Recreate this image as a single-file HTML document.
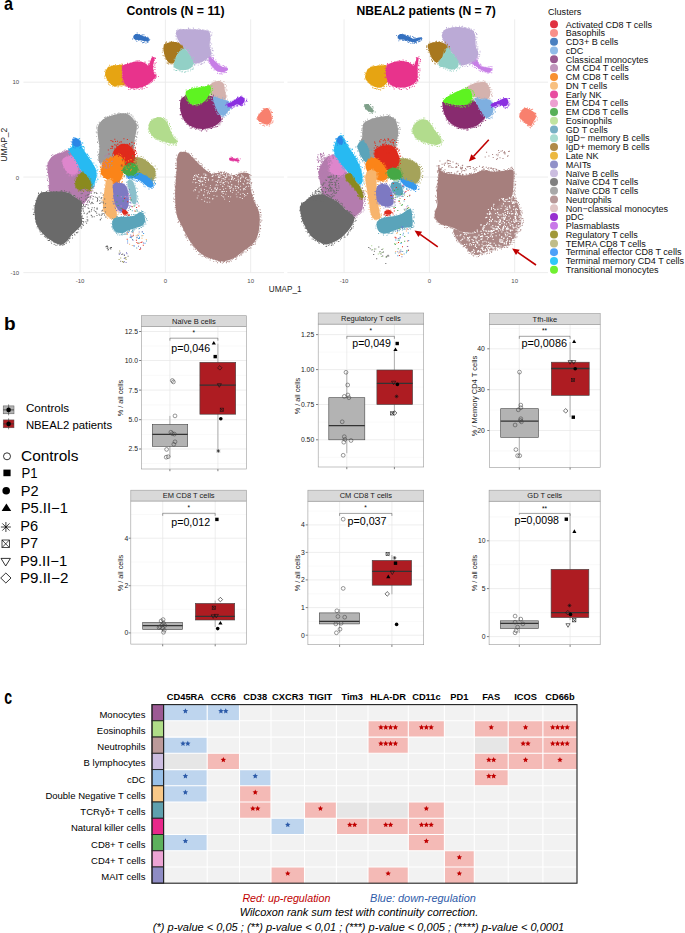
<!DOCTYPE html>
<html><head><meta charset="utf-8"><style>
html,body{margin:0;padding:0;background:#fff;}
svg{display:block;font-family:"Liberation Sans", sans-serif;}
</style></head><body>
<svg width="685" height="933" viewBox="0 0 685 933">
<rect width="685" height="933" fill="#fff"/>
<line x1="80.1" y1="19.4" x2="80.1" y2="273" stroke="#ebebeb" stroke-width="0.9"/>
<line x1="165.4" y1="19.4" x2="165.4" y2="273" stroke="#ebebeb" stroke-width="0.9"/>
<line x1="250.7" y1="19.4" x2="250.7" y2="273" stroke="#ebebeb" stroke-width="0.9"/>
<line x1="23.4" y1="82.2" x2="284.0" y2="82.2" stroke="#ebebeb" stroke-width="0.9"/>
<line x1="23.4" y1="177.1" x2="284.0" y2="177.1" stroke="#ebebeb" stroke-width="0.9"/>
<line x1="23.4" y1="272.6" x2="284.0" y2="272.6" stroke="#ebebeb" stroke-width="0.9"/>
<line x1="344.1" y1="19.4" x2="344.1" y2="273" stroke="#ebebeb" stroke-width="0.9"/>
<line x1="429.4" y1="19.4" x2="429.4" y2="273" stroke="#ebebeb" stroke-width="0.9"/>
<line x1="514.7" y1="19.4" x2="514.7" y2="273" stroke="#ebebeb" stroke-width="0.9"/>
<line x1="287.4" y1="82.2" x2="548.0" y2="82.2" stroke="#ebebeb" stroke-width="0.9"/>
<line x1="287.4" y1="177.1" x2="548.0" y2="177.1" stroke="#ebebeb" stroke-width="0.9"/>
<line x1="287.4" y1="272.6" x2="548.0" y2="272.6" stroke="#ebebeb" stroke-width="0.9"/>
<text x="19.2" y="84.3" font-size="6" text-anchor="end" font-weight="normal" font-style="normal" fill="#4d4d4d" >10</text>
<text x="19.2" y="179.7" font-size="6" text-anchor="end" font-weight="normal" font-style="normal" fill="#4d4d4d" >0</text>
<text x="19.2" y="275.4" font-size="6" text-anchor="end" font-weight="normal" font-style="normal" fill="#4d4d4d" >-10</text>
<text x="80.1" y="283.0" font-size="6" text-anchor="middle" font-weight="normal" font-style="normal" fill="#4d4d4d" >-10</text>
<text x="165.4" y="283.0" font-size="6" text-anchor="middle" font-weight="normal" font-style="normal" fill="#4d4d4d" >0</text>
<text x="250.7" y="283.0" font-size="6" text-anchor="middle" font-weight="normal" font-style="normal" fill="#4d4d4d" >10</text>
<text x="344.1" y="283.0" font-size="6" text-anchor="middle" font-weight="normal" font-style="normal" fill="#4d4d4d" >-10</text>
<text x="429.4" y="283.0" font-size="6" text-anchor="middle" font-weight="normal" font-style="normal" fill="#4d4d4d" >0</text>
<text x="514.7" y="283.0" font-size="6" text-anchor="middle" font-weight="normal" font-style="normal" fill="#4d4d4d" >10</text>
<text x="7.5" y="144.7" font-size="8.5" text-anchor="middle" font-weight="normal" font-style="normal" fill="#1a1a1a" transform="rotate(-90 7.5 144.7)">UMAP_2</text>
<text x="285.2" y="292.1" font-size="8.5" text-anchor="middle" font-weight="normal" font-style="normal" fill="#1a1a1a" textLength="32.7" lengthAdjust="spacingAndGlyphs" >UMAP_1</text>
<text x="175.5" y="15.3" font-size="13.6" text-anchor="middle" font-weight="bold" font-style="normal" fill="#000" textLength="98.0" lengthAdjust="spacingAndGlyphs" >Controls (N = 11)</text>
<text x="426.2" y="15.3" font-size="13.6" text-anchor="middle" font-weight="bold" font-style="normal" fill="#000" textLength="139.4" lengthAdjust="spacingAndGlyphs" >NBEAL2 patients (N = 7)</text>
<text x="4.1" y="10.4" font-size="18.5" text-anchor="start" font-weight="bold" font-style="normal" fill="#000" textLength="9.0" lengthAdjust="spacingAndGlyphs" >a</text>
<path d="M48.0,163.1 C48.9,160.7 50.4,157.8 52.7,156.1 C55.0,154.3 59.1,153.5 62.0,152.6 C65.0,151.6 68.1,149.6 70.2,150.2 C72.4,150.8 73.1,152.7 74.9,156.1 C76.6,159.4 78.6,166.6 80.7,170.1 C82.9,173.6 85.8,174.7 87.7,177.1 C89.7,179.4 92.0,181.4 92.4,184.1 C92.8,186.8 91.0,190.7 90.1,193.4 C89.1,196.2 87.9,198.7 86.6,200.4 C85.2,202.2 83.6,204.3 81.9,203.9 C80.1,203.6 78.6,200.0 76.1,198.1 C73.5,196.2 71.0,193.3 66.7,192.3 C62.4,191.2 53.3,193.5 50.4,191.8 C47.4,190.0 49.7,185.4 49.2,181.8 C48.7,178.1 47.8,173.2 47.6,170.1 C47.4,167.0 47.2,165.4 48.0,163.1Z" fill="#b47cae" />
<path d="M47.4 162.6h.9v.9h-.9zM48.7 161.1h.9v.9h-.9zM49.7 160.1h.9v.9h-.9zM50.1 159.4h.9v.9h-.9zM51.6 157.4h.9v.9h-.9zM51.2 155.1h.9v.9h-.9zM52.3 154.2h.9v.9h-.9zM55.3 154.7h.9v.9h-.9zM55.7 154.5h.9v.9h-.9zM57.3 153.3h.9v.9h-.9zM58.2 153.5h.9v.9h-.9zM59.0 153.7h.9v.9h-.9zM58.9 152.6h.9v.9h-.9zM60.8 152.3h.9v.9h-.9zM62.1 151.2h.9v.9h-.9zM63.6 151.3h.9v.9h-.9zM63.7 150.3h.9v.9h-.9zM64.7 149.5h.9v.9h-.9zM65.1 151.1h.9v.9h-.9zM66.5 150.4h.9v.9h-.9zM66.2 150.0h.9v.9h-.9zM68.3 148.8h.9v.9h-.9zM69.9 149.5h.9v.9h-.9zM71.2 149.1h.9v.9h-.9zM72.1 150.3h.9v.9h-.9zM73.1 151.4h.9v.9h-.9zM73.3 153.0h.9v.9h-.9zM73.7 152.1h.9v.9h-.9zM73.6 153.9h.9v.9h-.9zM75.1 154.1h.9v.9h-.9zM75.3 156.5h.9v.9h-.9zM75.4 157.9h.9v.9h-.9zM77.7 158.8h.9v.9h-.9zM77.9 159.4h.9v.9h-.9zM77.2 161.4h.9v.9h-.9zM79.2 162.1h.9v.9h-.9zM77.8 163.5h.9v.9h-.9zM78.3 163.5h.9v.9h-.9zM78.6 166.4h.9v.9h-.9zM79.2 166.6h.9v.9h-.9zM81.5 169.6h.9v.9h-.9zM80.9 168.8h.9v.9h-.9zM82.1 169.3h.9v.9h-.9zM82.8 170.4h.9v.9h-.9zM82.5 172.0h.9v.9h-.9zM82.5 171.3h.9v.9h-.9zM83.1 173.1h.9v.9h-.9zM84.5 174.6h.9v.9h-.9zM85.5 175.3h.9v.9h-.9zM87.8 175.0h.9v.9h-.9zM87.8 177.3h.9v.9h-.9zM88.9 178.8h.9v.9h-.9zM90.9 180.2h.9v.9h-.9zM90.0 180.0h.9v.9h-.9zM90.9 180.9h.9v.9h-.9zM91.3 181.9h.9v.9h-.9zM92.5 182.5h.9v.9h-.9zM92.0 183.6h.9v.9h-.9zM93.9 185.5h.9v.9h-.9zM92.5 186.0h.9v.9h-.9zM93.5 186.0h.9v.9h-.9zM91.9 188.4h.9v.9h-.9zM93.3 187.8h.9v.9h-.9zM92.5 190.6h.9v.9h-.9zM92.3 190.4h.9v.9h-.9zM91.0 191.3h.9v.9h-.9zM90.6 192.0h.9v.9h-.9zM91.4 195.0h.9v.9h-.9zM90.8 196.7h.9v.9h-.9zM88.7 196.5h.9v.9h-.9zM88.8 196.3h.9v.9h-.9zM89.5 198.7h.9v.9h-.9zM88.3 199.4h.9v.9h-.9zM87.9 200.1h.9v.9h-.9zM86.9 201.8h.9v.9h-.9zM86.7 202.3h.9v.9h-.9zM85.8 204.1h.9v.9h-.9zM85.1 204.6h.9v.9h-.9zM83.4 203.5h.9v.9h-.9zM81.3 203.4h.9v.9h-.9zM79.6 203.3h.9v.9h-.9zM79.8 202.0h.9v.9h-.9zM77.7 200.9h.9v.9h-.9zM77.1 199.4h.9v.9h-.9zM76.3 198.2h.9v.9h-.9zM76.9 198.9h.9v.9h-.9zM75.3 197.5h.9v.9h-.9zM73.6 198.1h.9v.9h-.9zM72.4 195.9h.9v.9h-.9zM70.5 195.8h.9v.9h-.9zM71.0 194.7h.9v.9h-.9zM70.3 194.1h.9v.9h-.9zM70.3 193.4h.9v.9h-.9zM68.3 193.2h.9v.9h-.9zM67.1 193.0h.9v.9h-.9zM65.4 192.7h.9v.9h-.9zM64.8 191.8h.9v.9h-.9zM63.5 192.0h.9v.9h-.9zM61.9 192.5h.9v.9h-.9zM62.6 193.1h.9v.9h-.9zM59.9 192.9h.9v.9h-.9zM59.6 192.6h.9v.9h-.9zM59.0 192.5h.9v.9h-.9zM56.7 194.1h.9v.9h-.9zM56.0 193.9h.9v.9h-.9zM55.1 192.4h.9v.9h-.9zM52.4 193.7h.9v.9h-.9zM54.6 192.2h.9v.9h-.9zM52.2 192.3h.9v.9h-.9zM51.9 193.1h.9v.9h-.9zM49.5 190.7h.9v.9h-.9zM49.0 191.6h.9v.9h-.9zM47.2 189.9h.9v.9h-.9zM48.7 187.6h.9v.9h-.9zM47.7 185.5h.9v.9h-.9zM48.6 187.1h.9v.9h-.9zM49.3 184.9h.9v.9h-.9zM48.1 184.9h.9v.9h-.9zM48.9 182.6h.9v.9h-.9zM48.4 181.2h.9v.9h-.9zM47.1 180.0h.9v.9h-.9zM46.9 178.5h.9v.9h-.9zM48.8 177.2h.9v.9h-.9zM48.4 176.2h.9v.9h-.9zM46.6 175.1h.9v.9h-.9zM48.1 173.2h.9v.9h-.9zM47.1 172.0h.9v.9h-.9zM48.0 171.6h.9v.9h-.9zM47.4 170.6h.9v.9h-.9zM46.7 168.8h.9v.9h-.9zM46.0 168.6h.9v.9h-.9zM47.1 166.4h.9v.9h-.9zM45.8 165.6h.9v.9h-.9zM47.0 165.0h.9v.9h-.9zM47.9 164.1h.9v.9h-.9z" fill="#b47cae"/>
<path d="M35.2,203.9 C36.1,200.8 37.3,195.5 39.9,193.4 C42.4,191.4 45.9,192.0 50.4,191.8 C54.8,191.6 62.4,191.2 66.7,192.3 C71.0,193.3 73.5,196.4 76.1,198.1 C78.6,199.9 81.0,200.4 81.9,202.8 C82.8,205.1 81.2,208.6 81.2,212.1 C81.2,215.6 82.6,220.9 81.9,223.8 C81.2,226.7 79.0,227.7 77.2,229.6 C75.5,231.6 73.3,233.3 71.4,235.5 C69.4,237.6 67.5,240.9 65.5,242.5 C63.6,244.0 62.2,245.2 59.7,244.8 C57.2,244.4 53.3,242.1 50.4,240.1 C47.4,238.2 44.5,235.9 42.2,233.1 C39.9,230.4 37.6,227.3 36.4,223.8 C35.1,220.3 34.7,215.4 34.5,212.1 C34.3,208.8 34.3,207.1 35.2,203.9Z" fill="#6a6a6a" />
<path d="M35.2 203.6h.9v.9h-.9zM36.1 200.7h.9v.9h-.9zM36.1 201.3h.9v.9h-.9zM36.3 200.3h.9v.9h-.9zM35.3 199.9h.9v.9h-.9zM36.7 197.8h.9v.9h-.9zM37.9 196.6h.9v.9h-.9zM37.8 195.4h.9v.9h-.9zM38.4 194.9h.9v.9h-.9zM38.1 192.6h.9v.9h-.9zM38.1 193.4h.9v.9h-.9zM40.6 192.7h.9v.9h-.9zM40.5 193.4h.9v.9h-.9zM41.0 191.6h.9v.9h-.9zM43.0 192.4h.9v.9h-.9zM45.9 191.0h.9v.9h-.9zM44.9 192.0h.9v.9h-.9zM47.1 192.0h.9v.9h-.9zM47.1 191.9h.9v.9h-.9zM50.3 191.3h.9v.9h-.9zM48.7 190.1h.9v.9h-.9zM51.3 192.1h.9v.9h-.9zM51.3 191.4h.9v.9h-.9zM53.4 191.2h.9v.9h-.9zM52.8 191.7h.9v.9h-.9zM53.1 191.5h.9v.9h-.9zM55.7 191.6h.9v.9h-.9zM56.3 191.0h.9v.9h-.9zM60.9 190.8h.9v.9h-.9zM60.8 190.1h.9v.9h-.9zM59.8 191.5h.9v.9h-.9zM62.1 190.7h.9v.9h-.9zM63.3 192.1h.9v.9h-.9zM64.0 190.3h.9v.9h-.9zM66.3 190.9h.9v.9h-.9zM64.7 191.4h.9v.9h-.9zM68.8 191.6h.9v.9h-.9zM68.6 192.2h.9v.9h-.9zM70.3 192.7h.9v.9h-.9zM69.0 193.4h.9v.9h-.9zM70.9 194.4h.9v.9h-.9zM73.3 195.0h.9v.9h-.9zM73.5 194.9h.9v.9h-.9zM74.3 195.1h.9v.9h-.9zM74.7 196.5h.9v.9h-.9zM75.5 198.0h.9v.9h-.9zM76.2 198.5h.9v.9h-.9zM76.9 197.4h.9v.9h-.9zM79.1 197.8h.9v.9h-.9zM79.1 199.5h.9v.9h-.9zM80.8 200.2h.9v.9h-.9zM80.5 201.1h.9v.9h-.9zM81.8 202.5h.9v.9h-.9zM81.6 202.8h.9v.9h-.9zM83.0 205.0h.9v.9h-.9zM82.5 206.0h.9v.9h-.9zM82.3 206.2h.9v.9h-.9zM81.5 208.5h.9v.9h-.9zM81.0 210.2h.9v.9h-.9zM82.7 209.6h.9v.9h-.9zM81.2 211.2h.9v.9h-.9zM83.0 210.8h.9v.9h-.9zM81.1 213.2h.9v.9h-.9zM81.3 216.0h.9v.9h-.9zM81.9 215.6h.9v.9h-.9zM81.6 217.6h.9v.9h-.9zM82.2 217.9h.9v.9h-.9zM82.2 218.1h.9v.9h-.9zM81.8 220.8h.9v.9h-.9zM82.1 220.9h.9v.9h-.9zM83.2 222.3h.9v.9h-.9zM81.7 223.5h.9v.9h-.9zM83.1 225.2h.9v.9h-.9zM81.9 224.2h.9v.9h-.9zM81.3 226.5h.9v.9h-.9zM80.4 226.5h.9v.9h-.9zM80.8 228.2h.9v.9h-.9zM78.2 228.6h.9v.9h-.9zM77.6 229.1h.9v.9h-.9zM77.5 231.6h.9v.9h-.9zM76.8 232.3h.9v.9h-.9zM75.8 231.9h.9v.9h-.9zM76.0 232.3h.9v.9h-.9zM74.2 233.8h.9v.9h-.9zM74.5 234.7h.9v.9h-.9zM72.0 235.0h.9v.9h-.9zM72.1 237.5h.9v.9h-.9zM69.8 237.5h.9v.9h-.9zM68.9 238.3h.9v.9h-.9zM69.2 238.0h.9v.9h-.9zM67.9 239.8h.9v.9h-.9zM69.1 241.5h.9v.9h-.9zM67.3 240.5h.9v.9h-.9zM66.0 241.7h.9v.9h-.9zM65.7 243.1h.9v.9h-.9zM64.1 243.9h.9v.9h-.9zM63.3 244.3h.9v.9h-.9zM62.8 244.4h.9v.9h-.9zM61.8 245.2h.9v.9h-.9zM59.9 244.7h.9v.9h-.9zM59.3 244.9h.9v.9h-.9zM56.4 245.2h.9v.9h-.9zM56.9 243.6h.9v.9h-.9zM55.0 244.7h.9v.9h-.9zM54.4 242.3h.9v.9h-.9zM53.7 244.1h.9v.9h-.9zM51.2 242.8h.9v.9h-.9zM53.2 241.7h.9v.9h-.9zM50.6 241.4h.9v.9h-.9zM48.9 240.1h.9v.9h-.9zM49.1 239.6h.9v.9h-.9zM48.1 240.0h.9v.9h-.9zM47.6 240.2h.9v.9h-.9zM47.2 237.6h.9v.9h-.9zM46.6 238.4h.9v.9h-.9zM46.1 236.6h.9v.9h-.9zM44.9 236.8h.9v.9h-.9zM43.9 235.9h.9v.9h-.9zM44.7 235.7h.9v.9h-.9zM41.7 233.7h.9v.9h-.9zM42.1 233.5h.9v.9h-.9zM40.5 233.9h.9v.9h-.9zM40.9 231.1h.9v.9h-.9zM39.8 231.5h.9v.9h-.9zM39.0 230.4h.9v.9h-.9zM39.0 228.8h.9v.9h-.9zM38.3 228.4h.9v.9h-.9zM36.7 227.4h.9v.9h-.9zM36.9 226.1h.9v.9h-.9zM36.3 223.9h.9v.9h-.9zM36.3 223.3h.9v.9h-.9zM35.9 222.4h.9v.9h-.9zM35.7 220.9h.9v.9h-.9zM35.4 221.5h.9v.9h-.9zM35.2 218.0h.9v.9h-.9zM35.3 219.1h.9v.9h-.9zM35.3 217.6h.9v.9h-.9zM34.8 217.8h.9v.9h-.9zM33.6 214.2h.9v.9h-.9zM32.9 214.0h.9v.9h-.9zM32.9 213.7h.9v.9h-.9zM33.6 212.1h.9v.9h-.9zM34.3 211.5h.9v.9h-.9zM34.7 210.3h.9v.9h-.9zM32.6 208.7h.9v.9h-.9zM34.7 206.8h.9v.9h-.9zM33.5 205.4h.9v.9h-.9zM34.5 205.2h.9v.9h-.9z" fill="#6a6a6a"/>
<path d="M63.2,158.4 C64.5,157.2 68.1,156.1 70.2,156.1 C72.4,156.1 74.7,156.8 76.1,158.4 C77.4,160.0 78.2,163.1 78.4,165.4 C78.6,167.7 78.4,170.9 77.2,172.4 C76.1,174.0 73.3,175.1 71.4,174.7 C69.4,174.4 67.0,172.0 65.5,170.1 C64.1,168.1 62.9,165.0 62.5,163.1 C62.1,161.1 61.9,159.6 63.2,158.4Z" fill="#de86cc" />
<path d="M64.0 158.0h.9v.9h-.9zM65.1 157.6h.9v.9h-.9zM65.8 155.8h.9v.9h-.9zM66.5 157.0h.9v.9h-.9zM67.9 155.3h.9v.9h-.9zM68.9 156.1h.9v.9h-.9zM70.1 155.3h.9v.9h-.9zM71.0 156.1h.9v.9h-.9zM71.5 155.0h.9v.9h-.9zM73.6 154.9h.9v.9h-.9zM75.8 155.9h.9v.9h-.9zM75.6 158.0h.9v.9h-.9zM77.7 157.9h.9v.9h-.9zM78.1 159.7h.9v.9h-.9zM78.2 161.1h.9v.9h-.9zM77.9 162.0h.9v.9h-.9zM77.9 163.0h.9v.9h-.9zM78.0 164.5h.9v.9h-.9zM78.5 166.1h.9v.9h-.9zM80.3 167.8h.9v.9h-.9zM78.2 167.0h.9v.9h-.9zM79.3 168.6h.9v.9h-.9zM78.5 169.5h.9v.9h-.9zM78.9 171.5h.9v.9h-.9zM77.2 172.0h.9v.9h-.9zM77.4 173.0h.9v.9h-.9zM75.8 173.5h.9v.9h-.9zM75.3 173.7h.9v.9h-.9zM74.0 174.6h.9v.9h-.9zM72.5 175.3h.9v.9h-.9zM71.5 175.6h.9v.9h-.9zM71.2 175.1h.9v.9h-.9zM68.7 175.3h.9v.9h-.9zM69.2 173.4h.9v.9h-.9zM66.9 172.5h.9v.9h-.9zM65.9 172.7h.9v.9h-.9zM66.9 171.6h.9v.9h-.9zM65.8 170.0h.9v.9h-.9zM65.2 169.4h.9v.9h-.9zM64.9 168.8h.9v.9h-.9zM63.1 167.4h.9v.9h-.9zM63.6 166.6h.9v.9h-.9zM63.0 165.1h.9v.9h-.9zM62.0 163.4h.9v.9h-.9zM61.5 160.8h.9v.9h-.9zM62.9 158.8h.9v.9h-.9z" fill="#de86cc"/>
<path d="M72.6,142.0 C73.3,140.7 74.9,138.7 76.1,138.5 C77.2,138.3 78.4,139.1 79.6,140.9 C80.7,142.6 81.7,146.5 83.1,149.1 C84.4,151.6 86.2,153.7 87.7,156.1 C89.3,158.4 91.0,160.7 92.4,163.1 C93.8,165.4 95.3,167.3 95.9,170.1 C96.5,172.8 96.5,176.7 95.9,179.4 C95.3,182.1 93.6,185.3 92.4,186.4 C91.2,187.6 90.1,188.0 88.9,186.4 C87.7,184.9 86.8,179.8 85.4,177.1 C84.0,174.4 82.3,172.8 80.7,170.1 C79.2,167.3 78.0,164.0 76.1,160.7 C74.1,157.4 69.8,152.6 69.1,150.2 C68.4,147.9 71.3,148.1 71.9,146.7 C72.4,145.4 71.9,143.4 72.6,142.0Z" fill="#27baf2" />
<path d="M72.9 141.3h.9v.9h-.9zM73.0 140.9h.9v.9h-.9zM74.0 139.8h.9v.9h-.9zM74.7 139.5h.9v.9h-.9zM75.2 137.5h.9v.9h-.9zM76.9 138.8h.9v.9h-.9zM79.2 138.0h.9v.9h-.9zM79.5 140.1h.9v.9h-.9zM80.1 140.9h.9v.9h-.9zM80.6 141.9h.9v.9h-.9zM82.2 142.3h.9v.9h-.9zM82.3 142.8h.9v.9h-.9zM81.3 145.5h.9v.9h-.9zM81.9 146.0h.9v.9h-.9zM83.4 146.6h.9v.9h-.9zM83.0 146.0h.9v.9h-.9zM83.9 147.6h.9v.9h-.9zM83.1 149.3h.9v.9h-.9zM83.8 149.3h.9v.9h-.9zM83.8 150.5h.9v.9h-.9zM85.0 152.7h.9v.9h-.9zM85.7 153.7h.9v.9h-.9zM86.8 153.5h.9v.9h-.9zM87.2 154.0h.9v.9h-.9zM87.8 155.0h.9v.9h-.9zM88.5 156.7h.9v.9h-.9zM89.1 156.8h.9v.9h-.9zM90.5 158.0h.9v.9h-.9zM90.4 160.2h.9v.9h-.9zM90.3 160.2h.9v.9h-.9zM91.1 161.4h.9v.9h-.9zM91.8 162.6h.9v.9h-.9zM93.4 162.6h.9v.9h-.9zM93.2 164.9h.9v.9h-.9zM95.5 164.8h.9v.9h-.9zM96.6 166.5h.9v.9h-.9zM95.3 168.6h.9v.9h-.9zM97.4 168.9h.9v.9h-.9zM95.7 170.0h.9v.9h-.9zM95.9 171.5h.9v.9h-.9zM97.1 170.4h.9v.9h-.9zM96.3 172.9h.9v.9h-.9zM96.7 173.3h.9v.9h-.9zM96.2 174.6h.9v.9h-.9zM96.4 175.6h.9v.9h-.9zM96.1 176.7h.9v.9h-.9zM97.5 179.2h.9v.9h-.9zM97.3 178.4h.9v.9h-.9zM96.4 180.4h.9v.9h-.9zM95.6 182.2h.9v.9h-.9zM94.2 183.2h.9v.9h-.9zM94.1 184.3h.9v.9h-.9zM93.8 184.4h.9v.9h-.9zM93.4 185.3h.9v.9h-.9zM93.4 185.6h.9v.9h-.9zM92.4 186.1h.9v.9h-.9zM92.8 187.1h.9v.9h-.9zM91.9 187.9h.9v.9h-.9zM88.3 186.2h.9v.9h-.9zM88.3 185.2h.9v.9h-.9zM88.2 184.3h.9v.9h-.9zM87.8 183.2h.9v.9h-.9zM86.5 182.0h.9v.9h-.9zM87.0 181.1h.9v.9h-.9zM86.6 179.5h.9v.9h-.9zM86.2 178.7h.9v.9h-.9zM85.3 178.8h.9v.9h-.9zM84.7 176.2h.9v.9h-.9zM85.5 176.6h.9v.9h-.9zM84.2 175.2h.9v.9h-.9zM82.2 175.2h.9v.9h-.9zM81.7 174.2h.9v.9h-.9zM81.7 172.0h.9v.9h-.9zM80.5 171.9h.9v.9h-.9zM78.8 170.1h.9v.9h-.9zM79.2 168.7h.9v.9h-.9zM77.6 166.7h.9v.9h-.9zM79.1 166.9h.9v.9h-.9zM77.1 166.2h.9v.9h-.9zM77.5 162.7h.9v.9h-.9zM76.1 163.1h.9v.9h-.9zM76.0 161.3h.9v.9h-.9zM77.0 161.9h.9v.9h-.9zM75.9 160.7h.9v.9h-.9zM74.4 159.9h.9v.9h-.9zM74.0 157.6h.9v.9h-.9zM73.9 158.1h.9v.9h-.9zM72.8 156.0h.9v.9h-.9zM71.2 156.9h.9v.9h-.9zM71.1 153.3h.9v.9h-.9zM71.8 154.6h.9v.9h-.9zM68.8 152.3h.9v.9h-.9zM69.1 153.5h.9v.9h-.9zM68.1 151.9h.9v.9h-.9zM68.2 149.6h.9v.9h-.9zM67.9 148.3h.9v.9h-.9zM69.7 147.9h.9v.9h-.9zM70.4 147.8h.9v.9h-.9zM70.2 146.2h.9v.9h-.9zM72.4 144.1h.9v.9h-.9z" fill="#27baf2"/>
<path d="M72.6,139.7 C73.1,138.7 74.9,137.8 76.1,138.1 C77.3,138.3 79.1,139.9 79.8,141.1 C80.5,142.4 80.9,144.6 80.3,145.5 C79.6,146.5 77.3,146.9 76.1,146.7 C74.8,146.5 73.4,145.5 72.8,144.4 C72.2,143.2 72.0,140.8 72.6,139.7Z" fill="#2a86e6" />
<path d="M72.0 138.8h.9v.9h-.9zM72.5 138.7h.9v.9h-.9zM73.3 137.3h.9v.9h-.9zM73.6 137.0h.9v.9h-.9zM75.4 138.3h.9v.9h-.9zM78.4 138.5h.9v.9h-.9zM78.5 139.6h.9v.9h-.9zM79.9 141.2h.9v.9h-.9zM80.1 141.8h.9v.9h-.9zM80.6 143.2h.9v.9h-.9zM81.0 144.2h.9v.9h-.9zM80.2 144.7h.9v.9h-.9zM80.0 146.9h.9v.9h-.9zM79.4 147.7h.9v.9h-.9zM77.4 146.4h.9v.9h-.9zM75.5 146.3h.9v.9h-.9zM74.6 147.6h.9v.9h-.9zM73.1 146.8h.9v.9h-.9zM73.1 144.7h.9v.9h-.9zM72.9 144.0h.9v.9h-.9zM71.3 143.9h.9v.9h-.9zM71.5 142.3h.9v.9h-.9zM72.0 141.7h.9v.9h-.9zM70.7 140.9h.9v.9h-.9z" fill="#2a86e6"/>
<path d="M76.1,179.4 C77.1,177.1 80.0,172.8 81.9,172.4 C83.8,172.0 86.2,175.1 87.7,177.1 C89.3,179.0 90.9,181.9 91.2,184.1 C91.6,186.2 91.0,189.1 90.1,189.9 C89.1,190.7 87.2,188.8 85.4,188.8 C83.6,188.8 81.2,190.3 79.6,189.9 C77.9,189.5 76.2,188.2 75.6,186.4 C75.0,184.7 75.0,181.8 76.1,179.4Z" fill="#8a8a1e" />
<path d="M74.8 178.4h.9v.9h-.9zM75.8 176.8h.9v.9h-.9zM76.6 177.6h.9v.9h-.9zM77.5 174.9h.9v.9h-.9zM78.2 175.6h.9v.9h-.9zM77.8 174.1h.9v.9h-.9zM80.7 173.3h.9v.9h-.9zM81.4 172.0h.9v.9h-.9zM82.5 170.9h.9v.9h-.9zM83.1 172.6h.9v.9h-.9zM84.7 173.9h.9v.9h-.9zM85.3 174.1h.9v.9h-.9zM86.2 175.1h.9v.9h-.9zM88.5 176.4h.9v.9h-.9zM88.3 178.2h.9v.9h-.9zM90.3 178.6h.9v.9h-.9zM89.4 179.9h.9v.9h-.9zM89.9 180.7h.9v.9h-.9zM90.7 181.7h.9v.9h-.9zM91.6 183.6h.9v.9h-.9zM91.1 184.6h.9v.9h-.9zM92.4 185.7h.9v.9h-.9zM91.9 187.0h.9v.9h-.9zM91.0 187.9h.9v.9h-.9zM91.6 189.7h.9v.9h-.9zM90.8 190.4h.9v.9h-.9zM89.8 190.1h.9v.9h-.9zM89.4 190.3h.9v.9h-.9zM88.0 190.4h.9v.9h-.9zM87.5 189.8h.9v.9h-.9zM86.5 189.9h.9v.9h-.9zM86.0 189.7h.9v.9h-.9zM85.1 189.2h.9v.9h-.9zM84.6 189.4h.9v.9h-.9zM83.2 191.0h.9v.9h-.9zM82.5 190.1h.9v.9h-.9zM80.8 190.4h.9v.9h-.9zM79.7 190.4h.9v.9h-.9zM78.8 189.6h.9v.9h-.9zM77.9 190.5h.9v.9h-.9zM77.1 188.3h.9v.9h-.9zM76.5 187.5h.9v.9h-.9zM75.0 187.3h.9v.9h-.9zM75.6 186.1h.9v.9h-.9zM74.7 184.5h.9v.9h-.9zM75.0 183.4h.9v.9h-.9zM74.1 182.9h.9v.9h-.9zM75.2 181.0h.9v.9h-.9zM74.1 179.7h.9v.9h-.9z" fill="#8a8a1e"/>
<path d="M98.2,125.7 C99.3,123.0 101.2,120.6 104.1,118.7 C107.0,116.8 111.9,115.3 115.8,114.5 C119.7,113.7 124.1,112.7 127.4,114.0 C130.8,115.3 134.1,119.9 135.6,122.2 C137.2,124.5 137.0,124.9 136.8,128.0 C136.6,131.1 135.0,137.4 134.5,140.9 C133.9,144.4 135.2,147.5 133.3,149.1 C131.3,150.6 126.1,149.1 122.8,150.2 C119.5,151.4 116.5,154.1 113.4,156.1 C110.3,158.0 106.5,161.0 104.1,161.9 C101.7,162.8 99.7,163.7 98.9,161.2 C98.2,158.7 99.6,151.1 99.4,146.7 C99.2,142.4 98.0,138.5 97.8,135.0 C97.6,131.5 97.2,128.4 98.2,125.7Z" fill="#9b9b9b" />
<path d="M97.4 124.3h.9v.9h-.9zM99.2 123.8h.9v.9h-.9zM99.4 123.8h.9v.9h-.9zM98.8 121.8h.9v.9h-.9zM99.7 122.7h.9v.9h-.9zM101.0 121.5h.9v.9h-.9zM102.4 120.0h.9v.9h-.9zM102.9 119.1h.9v.9h-.9zM104.7 117.4h.9v.9h-.9zM103.9 116.9h.9v.9h-.9zM105.3 116.5h.9v.9h-.9zM106.9 115.9h.9v.9h-.9zM109.0 115.6h.9v.9h-.9zM107.7 117.2h.9v.9h-.9zM111.0 115.8h.9v.9h-.9zM109.8 116.3h.9v.9h-.9zM113.3 115.0h.9v.9h-.9zM111.6 113.9h.9v.9h-.9zM113.8 113.4h.9v.9h-.9zM114.7 113.5h.9v.9h-.9zM117.3 112.9h.9v.9h-.9zM117.5 114.3h.9v.9h-.9zM118.6 112.8h.9v.9h-.9zM118.4 112.5h.9v.9h-.9zM120.3 113.7h.9v.9h-.9zM120.0 113.3h.9v.9h-.9zM122.8 113.6h.9v.9h-.9zM124.8 113.0h.9v.9h-.9zM125.4 113.8h.9v.9h-.9zM126.7 113.2h.9v.9h-.9zM127.2 112.5h.9v.9h-.9zM129.0 112.8h.9v.9h-.9zM127.9 113.4h.9v.9h-.9zM129.6 114.4h.9v.9h-.9zM131.2 114.5h.9v.9h-.9zM132.5 117.4h.9v.9h-.9zM132.5 115.8h.9v.9h-.9zM133.7 118.4h.9v.9h-.9zM134.7 120.6h.9v.9h-.9zM134.5 119.8h.9v.9h-.9zM135.1 121.0h.9v.9h-.9zM135.5 121.1h.9v.9h-.9zM136.9 121.8h.9v.9h-.9zM136.4 123.6h.9v.9h-.9zM137.6 124.6h.9v.9h-.9zM136.9 125.1h.9v.9h-.9zM137.7 126.3h.9v.9h-.9zM137.9 126.8h.9v.9h-.9zM137.3 127.9h.9v.9h-.9zM136.4 128.5h.9v.9h-.9zM136.9 131.9h.9v.9h-.9zM137.5 131.4h.9v.9h-.9zM136.6 133.5h.9v.9h-.9zM136.9 133.6h.9v.9h-.9zM136.8 133.5h.9v.9h-.9zM135.8 136.0h.9v.9h-.9zM135.2 136.1h.9v.9h-.9zM136.4 137.0h.9v.9h-.9zM135.7 138.9h.9v.9h-.9zM135.7 140.7h.9v.9h-.9zM134.6 140.0h.9v.9h-.9zM134.4 141.6h.9v.9h-.9zM136.0 143.6h.9v.9h-.9zM134.1 145.1h.9v.9h-.9zM134.9 146.8h.9v.9h-.9zM133.9 147.4h.9v.9h-.9zM134.9 149.7h.9v.9h-.9zM132.8 149.5h.9v.9h-.9zM133.5 149.8h.9v.9h-.9zM131.8 149.3h.9v.9h-.9zM129.1 149.6h.9v.9h-.9zM128.3 151.2h.9v.9h-.9zM128.3 149.5h.9v.9h-.9zM126.1 150.8h.9v.9h-.9zM126.2 149.5h.9v.9h-.9zM123.6 151.5h.9v.9h-.9zM123.2 149.9h.9v.9h-.9zM121.8 151.0h.9v.9h-.9zM121.2 150.8h.9v.9h-.9zM119.9 151.3h.9v.9h-.9zM121.5 151.6h.9v.9h-.9zM119.5 151.9h.9v.9h-.9zM118.3 152.4h.9v.9h-.9zM117.1 153.2h.9v.9h-.9zM117.8 153.7h.9v.9h-.9zM115.4 154.5h.9v.9h-.9zM115.4 154.9h.9v.9h-.9zM114.1 155.9h.9v.9h-.9zM115.0 156.4h.9v.9h-.9zM112.5 157.4h.9v.9h-.9zM112.8 156.1h.9v.9h-.9zM111.4 159.0h.9v.9h-.9zM111.7 158.1h.9v.9h-.9zM109.2 159.8h.9v.9h-.9zM109.8 158.8h.9v.9h-.9zM108.4 160.5h.9v.9h-.9zM108.4 161.3h.9v.9h-.9zM106.3 160.4h.9v.9h-.9zM106.6 160.9h.9v.9h-.9zM105.0 163.2h.9v.9h-.9zM103.6 163.4h.9v.9h-.9zM102.3 162.5h.9v.9h-.9zM101.2 163.7h.9v.9h-.9zM100.7 162.5h.9v.9h-.9zM99.6 162.2h.9v.9h-.9zM99.1 161.2h.9v.9h-.9zM98.5 160.1h.9v.9h-.9zM99.0 160.8h.9v.9h-.9zM98.4 157.8h.9v.9h-.9zM97.5 159.3h.9v.9h-.9zM98.2 156.6h.9v.9h-.9zM97.4 154.8h.9v.9h-.9zM98.5 155.9h.9v.9h-.9zM99.2 154.1h.9v.9h-.9zM98.1 154.1h.9v.9h-.9zM98.5 153.6h.9v.9h-.9zM99.5 150.5h.9v.9h-.9zM97.3 151.6h.9v.9h-.9zM98.6 148.9h.9v.9h-.9zM99.6 147.2h.9v.9h-.9zM98.9 146.0h.9v.9h-.9zM99.7 146.6h.9v.9h-.9zM98.6 142.9h.9v.9h-.9zM99.1 143.4h.9v.9h-.9zM97.1 142.0h.9v.9h-.9zM97.4 141.2h.9v.9h-.9zM98.8 140.0h.9v.9h-.9zM98.7 140.1h.9v.9h-.9zM97.7 138.6h.9v.9h-.9zM96.2 136.2h.9v.9h-.9zM98.1 135.2h.9v.9h-.9zM98.0 134.3h.9v.9h-.9zM97.7 133.4h.9v.9h-.9zM95.9 132.4h.9v.9h-.9zM97.4 132.2h.9v.9h-.9zM95.8 131.4h.9v.9h-.9zM97.9 129.7h.9v.9h-.9zM97.5 129.7h.9v.9h-.9zM96.5 127.0h.9v.9h-.9zM96.4 128.3h.9v.9h-.9zM96.3 125.7h.9v.9h-.9zM98.0 127.1h.9v.9h-.9z" fill="#9b9b9b"/>
<path d="M133.2,158.5 C134.2,157.3 137.1,157.2 139.1,157.4 C141.1,157.6 143.0,158.5 144.9,159.7 C146.8,160.9 149.0,162.8 150.7,164.4 C152.3,166.0 154.0,167.2 154.8,169.0 C155.6,170.8 155.7,173.0 155.4,174.9 C155.1,176.8 153.9,179.2 153.1,180.7 C152.3,182.1 151.9,183.6 150.7,183.6 C149.5,183.6 147.8,181.8 146.1,180.7 C144.3,179.6 141.8,178.4 140.2,177.2 C138.6,176.0 137.7,175.1 136.7,173.7 C135.7,172.3 135.0,170.6 134.4,169.0 C133.8,167.4 133.4,166.2 133.2,164.4 C133.0,162.7 132.2,159.7 133.2,158.5Z" fill="#a5a35a" />
<path d="M133.3 157.3h.9v.9h-.9zM134.0 156.8h.9v.9h-.9zM135.1 157.6h.9v.9h-.9zM136.3 157.6h.9v.9h-.9zM137.1 156.5h.9v.9h-.9zM139.2 157.7h.9v.9h-.9zM140.7 156.0h.9v.9h-.9zM141.8 158.3h.9v.9h-.9zM142.8 156.7h.9v.9h-.9zM143.7 158.7h.9v.9h-.9zM144.9 159.3h.9v.9h-.9zM145.0 159.9h.9v.9h-.9zM146.9 160.4h.9v.9h-.9zM147.8 161.8h.9v.9h-.9zM148.0 162.1h.9v.9h-.9zM149.1 163.2h.9v.9h-.9zM151.2 162.7h.9v.9h-.9zM151.3 165.3h.9v.9h-.9zM152.0 165.7h.9v.9h-.9zM152.5 166.1h.9v.9h-.9zM154.7 165.6h.9v.9h-.9zM154.1 168.2h.9v.9h-.9zM154.5 169.0h.9v.9h-.9zM156.6 168.6h.9v.9h-.9zM155.2 171.2h.9v.9h-.9zM155.4 173.4h.9v.9h-.9zM155.3 174.8h.9v.9h-.9zM155.2 175.0h.9v.9h-.9zM154.8 176.6h.9v.9h-.9zM155.5 177.3h.9v.9h-.9zM154.2 178.2h.9v.9h-.9zM154.8 180.2h.9v.9h-.9zM153.2 179.9h.9v.9h-.9zM153.8 181.5h.9v.9h-.9zM153.5 183.0h.9v.9h-.9zM151.6 182.7h.9v.9h-.9zM152.3 184.5h.9v.9h-.9zM149.9 183.2h.9v.9h-.9zM149.1 182.5h.9v.9h-.9zM148.0 182.6h.9v.9h-.9zM146.4 182.5h.9v.9h-.9zM146.1 181.9h.9v.9h-.9zM145.5 180.1h.9v.9h-.9zM144.0 180.0h.9v.9h-.9zM143.3 179.7h.9v.9h-.9zM142.1 178.3h.9v.9h-.9zM142.0 178.3h.9v.9h-.9zM141.2 177.6h.9v.9h-.9zM140.2 176.9h.9v.9h-.9zM138.8 176.7h.9v.9h-.9zM137.7 177.1h.9v.9h-.9zM138.4 175.3h.9v.9h-.9zM137.4 174.6h.9v.9h-.9zM136.1 174.0h.9v.9h-.9zM135.6 173.2h.9v.9h-.9zM134.6 172.7h.9v.9h-.9zM135.0 171.2h.9v.9h-.9zM134.7 170.3h.9v.9h-.9zM134.4 169.2h.9v.9h-.9zM132.3 168.5h.9v.9h-.9zM132.4 167.2h.9v.9h-.9zM133.2 166.8h.9v.9h-.9zM133.4 165.3h.9v.9h-.9zM133.1 164.7h.9v.9h-.9zM132.9 164.4h.9v.9h-.9zM133.3 163.4h.9v.9h-.9zM131.1 161.7h.9v.9h-.9zM131.2 160.4h.9v.9h-.9zM131.9 160.0h.9v.9h-.9z" fill="#a5a35a"/>
<path d="M126.2,174.9 C126.6,173.9 128.8,172.9 130.9,172.6 C133.1,172.3 136.6,172.5 139.1,173.1 C141.6,173.7 144.0,174.8 146.1,176.1 C148.2,177.4 150.7,179.1 151.9,180.7 C153.2,182.2 153.8,184.2 153.6,185.4 C153.4,186.6 151.9,187.7 150.7,187.7 C149.4,187.7 147.8,186.6 146.1,185.4 C144.3,184.2 142.1,181.9 140.2,180.7 C138.2,179.5 136.3,178.8 134.4,178.4 C132.5,178.0 129.9,179.0 128.5,178.4 C127.1,177.8 125.8,175.9 126.2,174.9Z" fill="#3598ee" />
<path d="M125.9 174.5h.9v.9h-.9zM126.9 174.2h.9v.9h-.9zM126.6 172.2h.9v.9h-.9zM127.9 172.6h.9v.9h-.9zM128.9 171.3h.9v.9h-.9zM130.1 172.4h.9v.9h-.9zM131.1 172.8h.9v.9h-.9zM132.5 172.3h.9v.9h-.9zM133.8 172.7h.9v.9h-.9zM136.1 171.9h.9v.9h-.9zM137.2 172.9h.9v.9h-.9zM138.5 172.4h.9v.9h-.9zM139.7 173.2h.9v.9h-.9zM140.8 173.1h.9v.9h-.9zM142.1 174.4h.9v.9h-.9zM143.7 174.9h.9v.9h-.9zM144.4 175.2h.9v.9h-.9zM145.9 174.7h.9v.9h-.9zM145.1 175.8h.9v.9h-.9zM146.4 176.6h.9v.9h-.9zM146.7 176.1h.9v.9h-.9zM147.2 176.9h.9v.9h-.9zM148.9 178.2h.9v.9h-.9zM148.7 177.7h.9v.9h-.9zM150.8 177.7h.9v.9h-.9zM151.5 178.7h.9v.9h-.9zM152.0 180.3h.9v.9h-.9zM153.6 180.3h.9v.9h-.9zM154.0 181.9h.9v.9h-.9zM155.1 183.1h.9v.9h-.9zM154.7 184.2h.9v.9h-.9zM153.8 185.2h.9v.9h-.9zM153.1 186.4h.9v.9h-.9zM152.9 186.9h.9v.9h-.9zM151.6 188.0h.9v.9h-.9zM151.2 187.7h.9v.9h-.9zM149.7 187.2h.9v.9h-.9zM148.5 188.5h.9v.9h-.9zM147.9 186.4h.9v.9h-.9zM147.2 185.8h.9v.9h-.9zM144.7 186.4h.9v.9h-.9zM143.5 185.7h.9v.9h-.9zM143.1 184.2h.9v.9h-.9zM142.4 183.2h.9v.9h-.9zM140.7 182.1h.9v.9h-.9zM141.0 181.4h.9v.9h-.9zM139.4 180.9h.9v.9h-.9zM138.1 180.0h.9v.9h-.9zM136.9 181.1h.9v.9h-.9zM136.4 180.3h.9v.9h-.9zM135.5 180.6h.9v.9h-.9zM134.9 178.3h.9v.9h-.9zM133.6 179.6h.9v.9h-.9zM132.4 178.6h.9v.9h-.9zM132.0 178.8h.9v.9h-.9zM131.0 178.3h.9v.9h-.9zM129.6 178.7h.9v.9h-.9zM128.8 178.2h.9v.9h-.9zM128.0 178.1h.9v.9h-.9zM127.8 178.0h.9v.9h-.9zM126.2 177.6h.9v.9h-.9zM126.3 175.7h.9v.9h-.9zM124.3 174.9h.9v.9h-.9z" fill="#3598ee"/>
<path d="M113.4,151.5 C113.8,149.9 115.6,148.2 116.9,146.9 C118.2,145.6 119.8,144.3 121.5,143.9 C123.2,143.5 125.7,143.8 127.4,144.5 C129.2,145.2 130.7,146.4 132.0,148.0 C133.3,149.6 134.6,151.8 135.0,153.9 C135.4,156.1 135.1,158.8 134.4,160.9 C133.7,163.0 132.5,165.3 130.9,166.7 C129.3,168.0 126.8,169.0 125.0,169.0 C123.2,169.0 121.8,168.0 120.4,166.7 C119.1,165.3 117.9,162.7 116.9,160.9 C115.9,159.2 115.1,157.8 114.5,156.2 C113.9,154.6 113.0,153.1 113.4,151.5Z" fill="#df2a1c" />
<path d="M113.7 151.3h.9v.9h-.9zM114.3 150.2h.9v.9h-.9zM113.9 149.5h.9v.9h-.9zM114.3 147.8h.9v.9h-.9zM116.5 146.0h.9v.9h-.9zM117.7 146.2h.9v.9h-.9zM119.4 144.7h.9v.9h-.9zM120.3 144.7h.9v.9h-.9zM120.6 142.3h.9v.9h-.9zM122.1 143.9h.9v.9h-.9zM124.3 143.7h.9v.9h-.9zM125.3 143.9h.9v.9h-.9zM126.5 143.8h.9v.9h-.9zM126.8 144.1h.9v.9h-.9zM127.6 144.6h.9v.9h-.9zM129.3 144.1h.9v.9h-.9zM129.3 145.4h.9v.9h-.9zM130.6 146.5h.9v.9h-.9zM131.1 146.3h.9v.9h-.9zM131.4 147.7h.9v.9h-.9zM132.6 148.6h.9v.9h-.9zM132.7 149.0h.9v.9h-.9zM134.0 149.4h.9v.9h-.9zM134.8 150.5h.9v.9h-.9zM135.7 151.6h.9v.9h-.9zM136.2 153.0h.9v.9h-.9zM135.1 154.1h.9v.9h-.9zM136.9 155.4h.9v.9h-.9zM135.5 157.4h.9v.9h-.9zM134.8 157.9h.9v.9h-.9zM136.4 159.2h.9v.9h-.9zM134.5 160.2h.9v.9h-.9zM135.7 161.6h.9v.9h-.9zM134.3 162.7h.9v.9h-.9zM133.3 163.9h.9v.9h-.9zM132.7 164.7h.9v.9h-.9zM132.2 165.0h.9v.9h-.9zM132.0 166.8h.9v.9h-.9zM130.5 167.2h.9v.9h-.9zM129.6 167.3h.9v.9h-.9zM128.7 167.8h.9v.9h-.9zM127.8 168.7h.9v.9h-.9zM126.5 170.3h.9v.9h-.9zM125.8 168.9h.9v.9h-.9zM123.6 168.9h.9v.9h-.9zM122.4 169.3h.9v.9h-.9zM121.9 168.1h.9v.9h-.9zM121.8 167.6h.9v.9h-.9zM119.9 167.6h.9v.9h-.9zM119.8 165.7h.9v.9h-.9zM119.1 164.4h.9v.9h-.9zM118.3 163.2h.9v.9h-.9zM116.8 162.7h.9v.9h-.9zM116.4 161.9h.9v.9h-.9zM115.7 161.6h.9v.9h-.9zM116.5 159.7h.9v.9h-.9zM116.0 158.6h.9v.9h-.9zM114.4 159.0h.9v.9h-.9zM114.8 156.3h.9v.9h-.9zM113.4 156.3h.9v.9h-.9zM114.3 155.1h.9v.9h-.9zM112.2 154.9h.9v.9h-.9zM112.1 153.6h.9v.9h-.9zM113.6 152.7h.9v.9h-.9zM112.9 151.9h.9v.9h-.9z" fill="#df2a1c"/>
<path d="M101.1,169.1 C101.4,167.2 101.7,163.8 102.8,162.0 C103.9,160.2 105.7,159.5 107.5,158.5 C109.3,157.5 111.7,156.8 113.4,156.2 C115.2,155.6 116.5,154.6 118.0,155.0 C119.5,155.4 121.5,156.9 122.7,158.5 C123.9,160.1 124.8,162.2 125.0,164.4 C125.2,166.6 124.5,169.1 123.9,171.4 C123.3,173.7 122.5,176.5 121.5,178.4 C120.5,180.3 119.3,182.2 118.0,183.1 C116.7,184.0 115.0,184.0 113.4,183.6 C111.9,183.2 110.3,181.8 108.7,180.7 C107.1,179.6 105.3,178.4 104.0,177.2 C102.7,176.0 101.6,175.0 101.1,173.7 C100.6,172.3 100.8,171.0 101.1,169.1Z" fill="#fb8418" />
<path d="M100.0 168.8h.9v.9h-.9zM100.1 167.0h.9v.9h-.9zM99.8 165.8h.9v.9h-.9zM101.9 164.8h.9v.9h-.9zM101.9 163.7h.9v.9h-.9zM102.7 162.8h.9v.9h-.9zM103.3 161.5h.9v.9h-.9zM103.5 160.6h.9v.9h-.9zM104.4 160.3h.9v.9h-.9zM104.7 159.4h.9v.9h-.9zM106.2 158.6h.9v.9h-.9zM106.4 158.1h.9v.9h-.9zM107.4 157.3h.9v.9h-.9zM108.5 158.0h.9v.9h-.9zM109.7 157.8h.9v.9h-.9zM110.3 156.2h.9v.9h-.9zM111.6 156.7h.9v.9h-.9zM112.9 156.6h.9v.9h-.9zM115.7 155.6h.9v.9h-.9zM116.3 154.5h.9v.9h-.9zM117.6 155.1h.9v.9h-.9zM118.5 153.5h.9v.9h-.9zM120.1 154.1h.9v.9h-.9zM119.8 155.9h.9v.9h-.9zM121.3 155.4h.9v.9h-.9zM121.4 157.3h.9v.9h-.9zM123.9 157.3h.9v.9h-.9zM124.2 158.4h.9v.9h-.9zM123.3 159.7h.9v.9h-.9zM124.0 160.5h.9v.9h-.9zM125.6 161.2h.9v.9h-.9zM125.2 162.2h.9v.9h-.9zM125.9 164.1h.9v.9h-.9zM125.4 165.4h.9v.9h-.9zM125.0 165.7h.9v.9h-.9zM125.8 166.9h.9v.9h-.9zM126.4 168.7h.9v.9h-.9zM124.8 169.1h.9v.9h-.9zM123.7 171.0h.9v.9h-.9zM124.8 172.7h.9v.9h-.9zM124.3 173.2h.9v.9h-.9zM123.2 174.4h.9v.9h-.9zM123.8 176.3h.9v.9h-.9zM122.4 176.4h.9v.9h-.9zM121.8 178.0h.9v.9h-.9zM121.5 178.5h.9v.9h-.9zM121.8 181.1h.9v.9h-.9zM121.4 182.1h.9v.9h-.9zM119.2 181.6h.9v.9h-.9zM118.9 182.3h.9v.9h-.9zM118.3 183.4h.9v.9h-.9zM117.8 183.3h.9v.9h-.9zM117.2 183.3h.9v.9h-.9zM116.2 183.5h.9v.9h-.9zM115.5 184.5h.9v.9h-.9zM114.5 184.4h.9v.9h-.9zM114.1 183.6h.9v.9h-.9zM113.1 183.2h.9v.9h-.9zM112.5 183.0h.9v.9h-.9zM111.4 183.1h.9v.9h-.9zM110.5 182.8h.9v.9h-.9zM109.2 180.7h.9v.9h-.9zM108.5 180.9h.9v.9h-.9zM106.9 180.6h.9v.9h-.9zM105.9 181.0h.9v.9h-.9zM105.4 180.0h.9v.9h-.9zM104.2 179.7h.9v.9h-.9zM104.3 177.2h.9v.9h-.9zM104.0 177.1h.9v.9h-.9zM102.9 177.1h.9v.9h-.9zM100.3 175.5h.9v.9h-.9zM100.6 174.0h.9v.9h-.9zM101.1 173.1h.9v.9h-.9zM99.8 172.9h.9v.9h-.9zM101.0 171.7h.9v.9h-.9zM99.1 170.9h.9v.9h-.9zM100.2 170.7h.9v.9h-.9z" fill="#fb8418"/>
<path d="M122.7,169.0 C123.2,167.7 124.8,166.0 126.2,165.0 C127.6,164.0 129.3,163.3 130.9,163.2 C132.5,163.1 134.3,163.4 135.5,164.4 C136.7,165.4 137.8,167.4 137.9,169.0 C138.0,170.6 137.3,172.6 136.1,173.7 C134.9,174.8 132.6,175.3 130.9,175.5 C129.2,175.7 127.5,175.4 126.2,174.9 C124.9,174.4 123.9,173.6 123.3,172.6 C122.7,171.6 122.2,170.3 122.7,169.0Z" fill="#45a845" />
<path d="M123.2 168.6h.9v.9h-.9zM123.4 167.9h.9v.9h-.9zM122.7 166.4h.9v.9h-.9zM124.4 167.0h.9v.9h-.9zM125.3 165.0h.9v.9h-.9zM126.6 164.5h.9v.9h-.9zM127.7 163.1h.9v.9h-.9zM129.4 163.8h.9v.9h-.9zM129.3 163.0h.9v.9h-.9zM130.8 163.5h.9v.9h-.9zM132.3 163.0h.9v.9h-.9zM132.9 161.9h.9v.9h-.9zM134.2 162.9h.9v.9h-.9zM135.9 162.8h.9v.9h-.9zM135.4 164.5h.9v.9h-.9zM136.8 164.9h.9v.9h-.9zM136.5 166.1h.9v.9h-.9zM137.0 166.9h.9v.9h-.9zM137.5 168.3h.9v.9h-.9zM137.9 169.2h.9v.9h-.9zM138.4 170.1h.9v.9h-.9zM139.3 172.0h.9v.9h-.9zM138.0 173.7h.9v.9h-.9zM136.9 174.0h.9v.9h-.9zM136.6 174.8h.9v.9h-.9zM135.0 175.4h.9v.9h-.9zM134.3 175.8h.9v.9h-.9zM133.1 175.2h.9v.9h-.9zM132.3 175.0h.9v.9h-.9zM131.8 177.3h.9v.9h-.9zM130.6 175.5h.9v.9h-.9zM129.1 175.2h.9v.9h-.9zM128.0 175.7h.9v.9h-.9zM127.4 175.1h.9v.9h-.9zM123.8 175.5h.9v.9h-.9zM124.0 173.1h.9v.9h-.9zM122.9 172.1h.9v.9h-.9zM121.6 172.4h.9v.9h-.9zM122.5 170.3h.9v.9h-.9z" fill="#45a845"/>
<path d="M127.4,181.8 C127.8,179.6 130.8,179.4 132.1,180.6 C133.5,181.8 134.8,185.8 135.6,188.8 C136.4,191.7 136.8,195.6 136.8,198.1 C136.8,200.6 136.4,203.2 135.6,203.9 C134.8,204.7 133.1,204.5 132.1,202.8 C131.1,201.0 130.6,196.9 129.8,193.4 C129.0,189.9 127.1,183.9 127.4,181.8Z" fill="#8cc0cc" />
<path d="M126.7 181.1h.9v.9h-.9zM128.2 180.7h.9v.9h-.9zM129.0 179.2h.9v.9h-.9zM130.1 178.1h.9v.9h-.9zM130.8 178.7h.9v.9h-.9zM131.5 180.5h.9v.9h-.9zM133.6 180.1h.9v.9h-.9zM133.3 182.5h.9v.9h-.9zM134.7 183.3h.9v.9h-.9zM134.6 185.1h.9v.9h-.9zM134.6 186.4h.9v.9h-.9zM135.7 187.6h.9v.9h-.9zM135.4 188.2h.9v.9h-.9zM137.2 188.4h.9v.9h-.9zM136.0 191.9h.9v.9h-.9zM137.2 191.1h.9v.9h-.9zM136.1 192.1h.9v.9h-.9zM136.4 194.9h.9v.9h-.9zM137.2 195.8h.9v.9h-.9zM137.3 196.1h.9v.9h-.9zM136.9 197.6h.9v.9h-.9zM137.8 198.5h.9v.9h-.9zM136.7 200.3h.9v.9h-.9zM136.8 201.7h.9v.9h-.9zM138.0 202.6h.9v.9h-.9zM134.7 204.5h.9v.9h-.9zM134.3 205.5h.9v.9h-.9zM131.4 202.5h.9v.9h-.9zM131.1 200.5h.9v.9h-.9zM130.2 200.3h.9v.9h-.9zM131.1 198.4h.9v.9h-.9zM130.7 197.4h.9v.9h-.9zM129.6 196.3h.9v.9h-.9zM129.2 196.6h.9v.9h-.9zM128.5 195.0h.9v.9h-.9zM129.1 195.2h.9v.9h-.9zM129.3 192.2h.9v.9h-.9zM128.7 191.5h.9v.9h-.9zM127.5 191.0h.9v.9h-.9zM128.5 187.9h.9v.9h-.9zM128.6 188.7h.9v.9h-.9zM128.6 188.3h.9v.9h-.9zM127.1 185.6h.9v.9h-.9zM126.2 186.9h.9v.9h-.9zM127.7 183.9h.9v.9h-.9zM127.5 181.9h.9v.9h-.9zM126.1 182.1h.9v.9h-.9z" fill="#8cc0cc"/>
<path d="M106.4,180.6 C107.2,179.4 109.0,179.2 109.9,179.4 C110.9,179.6 111.5,179.4 112.3,181.8 C113.0,184.1 114.0,189.5 114.6,193.4 C115.2,197.3 115.4,201.6 115.8,205.1 C116.2,208.6 116.9,212.1 116.9,214.5 C116.9,216.8 116.9,218.5 115.8,219.1 C114.6,219.7 111.9,219.1 109.9,218.0 C108.0,216.8 105.3,214.6 104.1,212.1 C102.9,209.6 102.9,205.9 102.9,202.8 C102.9,199.7 103.7,196.2 104.1,193.4 C104.5,190.7 104.9,188.6 105.3,186.4 C105.6,184.3 105.6,181.8 106.4,180.6Z" fill="#f7b46c" />
<path d="M108.1 179.7h.9v.9h-.9zM108.4 179.1h.9v.9h-.9zM109.3 179.5h.9v.9h-.9zM109.7 178.2h.9v.9h-.9zM110.3 178.0h.9v.9h-.9zM110.4 179.8h.9v.9h-.9zM112.3 178.7h.9v.9h-.9zM111.8 180.9h.9v.9h-.9zM112.4 181.9h.9v.9h-.9zM114.4 184.1h.9v.9h-.9zM112.8 185.0h.9v.9h-.9zM114.3 186.4h.9v.9h-.9zM113.5 184.9h.9v.9h-.9zM113.4 188.0h.9v.9h-.9zM115.3 186.7h.9v.9h-.9zM114.0 191.1h.9v.9h-.9zM113.9 190.3h.9v.9h-.9zM115.2 191.6h.9v.9h-.9zM115.4 191.5h.9v.9h-.9zM114.7 193.6h.9v.9h-.9zM116.3 194.2h.9v.9h-.9zM116.7 195.6h.9v.9h-.9zM116.1 197.1h.9v.9h-.9zM115.1 197.8h.9v.9h-.9zM114.8 197.6h.9v.9h-.9zM115.9 200.2h.9v.9h-.9zM115.0 200.2h.9v.9h-.9zM116.1 202.6h.9v.9h-.9zM116.4 202.4h.9v.9h-.9zM116.7 204.8h.9v.9h-.9zM115.7 204.0h.9v.9h-.9zM116.2 206.8h.9v.9h-.9zM116.1 205.8h.9v.9h-.9zM115.9 208.6h.9v.9h-.9zM116.4 210.1h.9v.9h-.9zM116.6 209.6h.9v.9h-.9zM116.3 210.6h.9v.9h-.9zM118.4 212.7h.9v.9h-.9zM117.6 211.7h.9v.9h-.9zM117.5 214.0h.9v.9h-.9zM116.6 215.5h.9v.9h-.9zM117.3 216.4h.9v.9h-.9zM116.7 217.4h.9v.9h-.9zM116.8 218.0h.9v.9h-.9zM116.9 218.6h.9v.9h-.9zM116.0 219.0h.9v.9h-.9zM115.4 219.1h.9v.9h-.9zM114.9 220.9h.9v.9h-.9zM113.4 219.7h.9v.9h-.9zM112.9 218.9h.9v.9h-.9zM111.3 219.1h.9v.9h-.9zM110.2 218.0h.9v.9h-.9zM108.9 217.7h.9v.9h-.9zM107.1 217.9h.9v.9h-.9zM107.6 216.6h.9v.9h-.9zM106.1 216.7h.9v.9h-.9zM106.6 215.3h.9v.9h-.9zM104.4 214.9h.9v.9h-.9zM104.7 212.7h.9v.9h-.9zM102.7 211.1h.9v.9h-.9zM102.2 210.3h.9v.9h-.9zM102.4 209.1h.9v.9h-.9zM102.7 208.7h.9v.9h-.9zM102.9 207.1h.9v.9h-.9zM103.1 206.0h.9v.9h-.9zM103.1 204.3h.9v.9h-.9zM102.9 203.2h.9v.9h-.9zM101.6 202.3h.9v.9h-.9zM101.7 200.0h.9v.9h-.9zM102.0 198.7h.9v.9h-.9zM103.7 197.4h.9v.9h-.9zM103.3 197.2h.9v.9h-.9zM103.5 195.9h.9v.9h-.9zM102.5 195.2h.9v.9h-.9zM103.3 194.2h.9v.9h-.9zM102.3 192.9h.9v.9h-.9zM104.1 192.5h.9v.9h-.9zM104.6 191.7h.9v.9h-.9zM104.1 190.4h.9v.9h-.9zM103.8 188.5h.9v.9h-.9zM104.6 187.9h.9v.9h-.9zM105.0 186.6h.9v.9h-.9zM105.1 185.4h.9v.9h-.9zM104.2 184.6h.9v.9h-.9zM105.4 183.4h.9v.9h-.9zM104.9 181.4h.9v.9h-.9zM106.2 181.2h.9v.9h-.9z" fill="#f7b46c"/>
<path d="M113.4,184.1 C114.6,182.3 118.3,182.5 120.4,182.9 C122.6,183.3 124.9,184.3 126.3,186.4 C127.6,188.6 128.2,192.7 128.6,195.8 C129.0,198.9 129.0,202.8 128.6,205.1 C128.2,207.4 127.3,208.6 126.3,209.8 C125.3,210.9 124.1,212.1 122.8,212.1 C121.4,212.1 119.5,211.3 118.1,209.8 C116.7,208.2 115.4,205.5 114.6,202.8 C113.8,200.0 113.6,196.5 113.4,193.4 C113.2,190.3 112.3,185.8 113.4,184.1Z" fill="#7d79c2" />
<path d="M114.2 183.7h.9v.9h-.9zM114.8 182.5h.9v.9h-.9zM116.0 181.8h.9v.9h-.9zM116.6 181.8h.9v.9h-.9zM118.8 180.8h.9v.9h-.9zM120.3 183.1h.9v.9h-.9zM120.9 183.3h.9v.9h-.9zM121.8 183.3h.9v.9h-.9zM121.8 183.3h.9v.9h-.9zM123.4 183.4h.9v.9h-.9zM123.7 184.0h.9v.9h-.9zM126.3 184.2h.9v.9h-.9zM125.5 185.8h.9v.9h-.9zM126.8 186.7h.9v.9h-.9zM127.3 188.5h.9v.9h-.9zM129.1 189.0h.9v.9h-.9zM127.4 190.1h.9v.9h-.9zM128.2 191.6h.9v.9h-.9zM128.2 193.0h.9v.9h-.9zM128.4 193.8h.9v.9h-.9zM129.2 195.4h.9v.9h-.9zM130.2 194.7h.9v.9h-.9zM128.5 197.2h.9v.9h-.9zM128.6 198.5h.9v.9h-.9zM129.5 199.2h.9v.9h-.9zM130.5 199.3h.9v.9h-.9zM129.3 202.0h.9v.9h-.9zM129.8 201.8h.9v.9h-.9zM130.2 202.7h.9v.9h-.9zM128.5 205.0h.9v.9h-.9zM129.8 205.5h.9v.9h-.9zM129.0 206.8h.9v.9h-.9zM128.5 208.2h.9v.9h-.9zM127.8 210.1h.9v.9h-.9zM125.4 211.5h.9v.9h-.9zM124.4 213.1h.9v.9h-.9zM122.0 212.2h.9v.9h-.9zM120.8 211.6h.9v.9h-.9zM120.2 211.8h.9v.9h-.9zM118.8 211.5h.9v.9h-.9zM118.4 209.7h.9v.9h-.9zM116.1 210.0h.9v.9h-.9zM117.1 208.7h.9v.9h-.9zM115.0 208.1h.9v.9h-.9zM114.5 206.7h.9v.9h-.9zM115.5 204.6h.9v.9h-.9zM113.5 204.2h.9v.9h-.9zM112.9 202.8h.9v.9h-.9zM113.9 202.9h.9v.9h-.9zM112.5 201.1h.9v.9h-.9zM114.4 200.3h.9v.9h-.9zM114.0 199.1h.9v.9h-.9zM112.6 198.1h.9v.9h-.9zM114.0 197.7h.9v.9h-.9zM113.1 196.5h.9v.9h-.9zM112.9 195.4h.9v.9h-.9zM113.1 195.0h.9v.9h-.9zM113.5 192.3h.9v.9h-.9zM113.1 191.2h.9v.9h-.9zM113.3 190.6h.9v.9h-.9zM112.9 188.4h.9v.9h-.9zM112.5 186.8h.9v.9h-.9zM113.2 188.0h.9v.9h-.9zM112.5 186.4h.9v.9h-.9zM113.2 185.9h.9v.9h-.9zM112.6 184.8h.9v.9h-.9z" fill="#7d79c2"/>
<path d="M113.4,219.1 C114.8,217.6 118.1,217.2 120.4,216.8 C122.8,216.4 125.1,217.0 127.4,216.8 C129.8,216.6 132.3,216.4 134.5,215.6 C136.6,214.8 138.7,212.3 140.3,212.1 C141.8,211.9 143.0,212.9 143.8,214.5 C144.6,216.0 145.4,219.5 145.0,221.5 C144.6,223.4 143.2,225.0 141.5,226.1 C139.7,227.3 136.8,227.7 134.5,228.5 C132.1,229.2 129.4,230.0 127.4,230.8 C125.5,231.6 124.7,232.9 122.8,233.1 C120.8,233.3 117.5,233.1 115.8,232.0 C114.0,230.8 112.7,228.3 112.3,226.1 C111.9,224.0 112.1,220.7 113.4,219.1Z" fill="#5aa4ba" />
<path d="M113.8 219.0h.9v.9h-.9zM114.6 218.5h.9v.9h-.9zM116.3 217.2h.9v.9h-.9zM116.2 215.9h.9v.9h-.9zM116.9 216.2h.9v.9h-.9zM118.8 217.2h.9v.9h-.9zM119.4 217.0h.9v.9h-.9zM120.8 216.3h.9v.9h-.9zM122.6 216.9h.9v.9h-.9zM123.1 216.0h.9v.9h-.9zM124.8 217.0h.9v.9h-.9zM125.9 215.0h.9v.9h-.9zM127.0 215.9h.9v.9h-.9zM127.7 215.5h.9v.9h-.9zM129.8 216.9h.9v.9h-.9zM130.3 216.3h.9v.9h-.9zM129.9 216.6h.9v.9h-.9zM131.9 216.5h.9v.9h-.9zM132.4 216.3h.9v.9h-.9zM133.2 214.1h.9v.9h-.9zM135.1 214.9h.9v.9h-.9zM134.5 214.3h.9v.9h-.9zM135.9 213.9h.9v.9h-.9zM135.3 214.4h.9v.9h-.9zM137.5 214.0h.9v.9h-.9zM138.0 213.5h.9v.9h-.9zM138.6 211.6h.9v.9h-.9zM141.0 210.5h.9v.9h-.9zM141.9 211.1h.9v.9h-.9zM142.6 211.3h.9v.9h-.9zM142.8 213.0h.9v.9h-.9zM144.5 212.4h.9v.9h-.9zM144.0 215.2h.9v.9h-.9zM144.1 215.7h.9v.9h-.9zM145.0 216.7h.9v.9h-.9zM145.9 218.6h.9v.9h-.9zM146.1 218.2h.9v.9h-.9zM146.7 219.9h.9v.9h-.9zM144.8 220.8h.9v.9h-.9zM144.8 222.3h.9v.9h-.9zM145.4 223.7h.9v.9h-.9zM143.5 223.9h.9v.9h-.9zM143.2 225.6h.9v.9h-.9zM142.0 225.6h.9v.9h-.9zM141.0 227.2h.9v.9h-.9zM140.4 226.7h.9v.9h-.9zM139.1 228.0h.9v.9h-.9zM138.3 228.4h.9v.9h-.9zM135.8 227.9h.9v.9h-.9zM134.5 228.6h.9v.9h-.9zM133.6 229.5h.9v.9h-.9zM132.9 229.4h.9v.9h-.9zM132.2 229.6h.9v.9h-.9zM132.2 230.6h.9v.9h-.9zM132.0 229.8h.9v.9h-.9zM131.1 231.3h.9v.9h-.9zM128.7 230.3h.9v.9h-.9zM128.6 231.0h.9v.9h-.9zM127.1 231.2h.9v.9h-.9zM126.3 232.4h.9v.9h-.9zM125.7 233.9h.9v.9h-.9zM124.2 233.5h.9v.9h-.9zM123.4 233.9h.9v.9h-.9zM122.2 233.3h.9v.9h-.9zM121.6 234.5h.9v.9h-.9zM120.9 233.8h.9v.9h-.9zM119.4 234.6h.9v.9h-.9zM118.3 232.6h.9v.9h-.9zM117.3 234.4h.9v.9h-.9zM116.3 233.0h.9v.9h-.9zM115.6 232.1h.9v.9h-.9zM114.4 230.7h.9v.9h-.9zM113.5 230.4h.9v.9h-.9zM112.3 228.7h.9v.9h-.9zM112.5 227.6h.9v.9h-.9zM111.5 226.7h.9v.9h-.9zM111.6 226.0h.9v.9h-.9zM112.0 224.0h.9v.9h-.9zM110.7 222.9h.9v.9h-.9zM112.5 221.5h.9v.9h-.9zM112.4 221.1h.9v.9h-.9zM111.9 218.2h.9v.9h-.9z" fill="#5aa4ba"/>
<path d="M133.3,36.8 C133.5,36.0 134.5,34.3 135.6,34.0 C136.8,33.7 138.7,34.5 140.3,34.9 C141.8,35.4 143.6,36.3 145.0,36.8 C146.3,37.4 147.9,37.4 148.5,38.2 C149.1,39.0 149.2,41.0 148.5,41.5 C147.7,42.0 145.4,41.3 143.8,41.0 C142.2,40.8 140.7,40.4 139.1,40.1 C137.6,39.8 135.4,39.7 134.5,39.2 C133.5,38.6 133.1,37.7 133.3,36.8Z" fill="#3370c0" />
<path d="M133.7 35.6h.9v.9h-.9zM134.2 35.2h.9v.9h-.9zM135.8 34.1h.9v.9h-.9zM136.7 32.6h.9v.9h-.9zM137.6 34.1h.9v.9h-.9zM139.2 34.0h.9v.9h-.9zM140.1 34.9h.9v.9h-.9zM141.2 34.7h.9v.9h-.9zM141.6 35.4h.9v.9h-.9zM142.4 34.3h.9v.9h-.9zM143.6 34.4h.9v.9h-.9zM143.6 36.5h.9v.9h-.9zM145.1 35.9h.9v.9h-.9zM145.4 37.2h.9v.9h-.9zM147.2 36.7h.9v.9h-.9zM147.5 37.4h.9v.9h-.9zM148.0 37.7h.9v.9h-.9zM148.4 38.5h.9v.9h-.9zM149.3 38.9h.9v.9h-.9zM148.8 39.9h.9v.9h-.9zM147.5 42.2h.9v.9h-.9zM146.8 41.5h.9v.9h-.9zM145.5 42.7h.9v.9h-.9zM143.9 41.5h.9v.9h-.9zM142.9 42.0h.9v.9h-.9zM142.2 42.3h.9v.9h-.9zM140.8 41.2h.9v.9h-.9zM138.5 39.9h.9v.9h-.9zM138.1 39.7h.9v.9h-.9zM136.4 40.9h.9v.9h-.9zM136.0 39.3h.9v.9h-.9zM135.6 39.2h.9v.9h-.9zM135.0 39.3h.9v.9h-.9zM132.2 38.5h.9v.9h-.9z" fill="#3370c0"/>
<path d="M105.3,72.6 C105.5,71.0 106.2,69.1 107.6,67.9 C109.0,66.7 110.9,65.9 113.4,65.5 C116.0,65.2 121.3,64.6 122.8,65.5 C124.3,66.5 122.3,69.2 122.3,71.4 C122.3,73.5 122.3,76.3 122.8,78.4 C123.2,80.5 125.9,83.1 125.1,84.2 C124.3,85.4 120.0,85.1 118.1,85.4 C116.2,85.7 115.0,86.5 113.4,85.9 C111.9,85.3 110.0,83.3 108.8,81.9 C107.5,80.5 106.5,78.8 106.0,77.2 C105.4,75.7 105.0,74.1 105.3,72.6Z" fill="#e6a412" />
<path d="M105.2 72.3h.9v.9h-.9zM104.3 71.2h.9v.9h-.9zM104.8 69.7h.9v.9h-.9zM105.0 69.5h.9v.9h-.9zM107.4 68.4h.9v.9h-.9zM107.7 67.0h.9v.9h-.9zM108.4 66.5h.9v.9h-.9zM109.2 64.8h.9v.9h-.9zM111.0 66.0h.9v.9h-.9zM111.1 65.7h.9v.9h-.9zM111.2 65.7h.9v.9h-.9zM113.0 65.3h.9v.9h-.9zM113.7 65.3h.9v.9h-.9zM115.1 64.3h.9v.9h-.9zM117.5 65.2h.9v.9h-.9zM118.0 65.2h.9v.9h-.9zM119.5 64.1h.9v.9h-.9zM121.5 63.4h.9v.9h-.9zM121.7 64.2h.9v.9h-.9zM121.8 65.3h.9v.9h-.9zM124.0 66.7h.9v.9h-.9zM123.1 67.3h.9v.9h-.9zM122.8 69.1h.9v.9h-.9zM122.8 69.4h.9v.9h-.9zM122.7 71.2h.9v.9h-.9zM122.1 71.5h.9v.9h-.9zM124.2 73.0h.9v.9h-.9zM122.7 74.6h.9v.9h-.9zM122.1 74.7h.9v.9h-.9zM122.9 75.5h.9v.9h-.9zM122.2 76.4h.9v.9h-.9zM124.4 77.8h.9v.9h-.9zM123.9 78.5h.9v.9h-.9zM124.1 78.4h.9v.9h-.9zM123.0 79.8h.9v.9h-.9zM124.3 81.1h.9v.9h-.9zM125.9 81.9h.9v.9h-.9zM126.4 82.2h.9v.9h-.9zM125.3 83.6h.9v.9h-.9zM124.8 85.0h.9v.9h-.9zM124.2 84.7h.9v.9h-.9zM122.8 84.8h.9v.9h-.9zM122.6 84.9h.9v.9h-.9zM121.4 85.8h.9v.9h-.9zM119.7 85.6h.9v.9h-.9zM118.4 85.1h.9v.9h-.9zM117.9 86.3h.9v.9h-.9zM117.2 86.4h.9v.9h-.9zM116.0 85.7h.9v.9h-.9zM115.1 85.8h.9v.9h-.9zM114.0 86.2h.9v.9h-.9zM112.4 86.2h.9v.9h-.9zM112.7 85.2h.9v.9h-.9zM111.3 84.1h.9v.9h-.9zM109.6 85.2h.9v.9h-.9zM108.5 84.1h.9v.9h-.9zM108.8 81.9h.9v.9h-.9zM107.9 82.6h.9v.9h-.9zM107.4 79.8h.9v.9h-.9zM106.6 79.7h.9v.9h-.9zM104.5 77.9h.9v.9h-.9zM104.3 76.4h.9v.9h-.9zM104.7 75.3h.9v.9h-.9zM105.6 74.8h.9v.9h-.9zM105.0 73.9h.9v.9h-.9z" fill="#e6a412"/>
<path d="M122.8,65.5 C124.0,64.2 127.4,63.9 129.8,63.2 C132.1,62.5 134.5,61.7 136.8,61.6 C139.1,61.5 141.8,61.8 143.8,62.5 C145.7,63.2 147.4,65.8 148.5,65.5 C149.6,65.3 149.8,62.2 150.3,60.9 C150.9,59.5 151.3,57.8 152.0,57.4 C152.6,57.0 154.1,57.0 154.3,58.5 C154.5,60.1 153.1,64.2 153.1,66.7 C153.1,69.2 153.7,72.4 154.3,73.7 C154.9,75.1 156.6,74.1 156.6,74.9 C156.6,75.7 155.3,77.2 154.3,78.4 C153.3,79.6 152.6,80.5 150.8,81.9 C149.1,83.3 146.1,85.5 143.8,86.6 C141.5,87.6 139.1,88.0 136.8,88.2 C134.5,88.4 131.7,88.4 129.8,87.7 C127.8,87.1 126.3,85.8 125.1,84.2 C123.9,82.7 123.2,80.5 122.8,78.4 C122.3,76.3 122.3,73.5 122.3,71.4 C122.3,69.2 121.5,66.9 122.8,65.5Z" fill="#e8338c" />
<path d="M122.0 64.5h.9v.9h-.9zM124.1 64.9h.9v.9h-.9zM124.8 64.2h.9v.9h-.9zM127.1 63.3h.9v.9h-.9zM127.1 62.8h.9v.9h-.9zM129.7 63.5h.9v.9h-.9zM129.0 63.4h.9v.9h-.9zM129.8 62.5h.9v.9h-.9zM131.9 62.9h.9v.9h-.9zM131.1 63.1h.9v.9h-.9zM132.7 61.9h.9v.9h-.9zM133.6 61.4h.9v.9h-.9zM135.3 60.7h.9v.9h-.9zM136.6 60.2h.9v.9h-.9zM136.8 60.7h.9v.9h-.9zM138.6 60.1h.9v.9h-.9zM140.4 61.5h.9v.9h-.9zM140.7 61.8h.9v.9h-.9zM141.9 62.3h.9v.9h-.9zM144.0 61.7h.9v.9h-.9zM145.1 61.7h.9v.9h-.9zM145.4 63.5h.9v.9h-.9zM145.8 64.2h.9v.9h-.9zM148.2 63.7h.9v.9h-.9zM148.4 64.4h.9v.9h-.9zM148.4 65.0h.9v.9h-.9zM148.4 64.6h.9v.9h-.9zM147.8 63.5h.9v.9h-.9zM148.9 62.9h.9v.9h-.9zM149.8 61.7h.9v.9h-.9zM148.6 60.6h.9v.9h-.9zM151.2 58.8h.9v.9h-.9zM151.8 57.8h.9v.9h-.9zM151.8 56.3h.9v.9h-.9zM152.5 57.2h.9v.9h-.9zM153.4 57.3h.9v.9h-.9zM154.5 57.3h.9v.9h-.9zM155.1 58.0h.9v.9h-.9zM154.0 58.6h.9v.9h-.9zM154.0 59.9h.9v.9h-.9zM155.7 61.9h.9v.9h-.9zM154.8 62.9h.9v.9h-.9zM153.5 62.5h.9v.9h-.9zM154.3 64.6h.9v.9h-.9zM152.9 66.3h.9v.9h-.9zM154.5 67.1h.9v.9h-.9zM154.5 66.7h.9v.9h-.9zM154.5 69.0h.9v.9h-.9zM153.1 69.8h.9v.9h-.9zM153.5 71.8h.9v.9h-.9zM154.7 72.3h.9v.9h-.9zM155.5 73.7h.9v.9h-.9zM158.1 76.2h.9v.9h-.9zM155.8 76.2h.9v.9h-.9zM155.8 76.7h.9v.9h-.9zM155.2 77.2h.9v.9h-.9zM154.8 78.1h.9v.9h-.9zM154.1 78.4h.9v.9h-.9zM153.7 80.2h.9v.9h-.9zM152.1 80.4h.9v.9h-.9zM151.7 81.1h.9v.9h-.9zM150.9 82.2h.9v.9h-.9zM149.6 82.5h.9v.9h-.9zM148.5 83.6h.9v.9h-.9zM147.2 84.2h.9v.9h-.9zM146.5 87.0h.9v.9h-.9zM144.9 85.9h.9v.9h-.9zM143.7 88.2h.9v.9h-.9zM141.6 87.1h.9v.9h-.9zM141.7 87.9h.9v.9h-.9zM141.6 88.9h.9v.9h-.9zM140.2 87.7h.9v.9h-.9zM138.7 89.0h.9v.9h-.9zM137.4 88.2h.9v.9h-.9zM136.0 88.4h.9v.9h-.9zM134.4 88.7h.9v.9h-.9zM134.3 89.1h.9v.9h-.9zM133.1 88.6h.9v.9h-.9zM131.4 88.0h.9v.9h-.9zM130.0 88.6h.9v.9h-.9zM128.4 89.0h.9v.9h-.9zM128.0 87.1h.9v.9h-.9zM127.9 86.7h.9v.9h-.9zM126.6 85.6h.9v.9h-.9zM126.2 85.9h.9v.9h-.9zM124.8 85.5h.9v.9h-.9zM124.4 83.6h.9v.9h-.9zM123.0 84.2h.9v.9h-.9zM123.5 82.2h.9v.9h-.9zM121.7 81.6h.9v.9h-.9zM122.0 80.7h.9v.9h-.9zM122.5 78.5h.9v.9h-.9zM122.5 77.3h.9v.9h-.9zM121.7 77.0h.9v.9h-.9zM122.6 75.6h.9v.9h-.9zM121.7 74.9h.9v.9h-.9zM121.7 73.2h.9v.9h-.9zM122.4 72.3h.9v.9h-.9zM122.5 70.3h.9v.9h-.9zM121.6 69.8h.9v.9h-.9zM122.2 69.2h.9v.9h-.9zM121.8 67.6h.9v.9h-.9zM121.5 66.2h.9v.9h-.9zM122.8 65.6h.9v.9h-.9z" fill="#e8338c"/>
<path d="M208.6,54.9 C209.4,54.5 212.3,58.8 214.5,60.7 C216.6,62.7 219.3,65.4 221.5,66.6 C223.6,67.7 226.3,67.1 227.3,67.7 C228.3,68.4 228.3,69.8 227.3,70.5 C226.3,71.3 223.4,72.5 221.5,72.4 C219.5,72.3 217.6,71.6 215.6,70.1 C213.7,68.5 210.9,65.6 209.8,63.1 C208.6,60.5 207.8,55.3 208.6,54.9Z" fill="#c77ee6" />
<path d="M208.8 55.2h.9v.9h-.9zM209.1 55.4h.9v.9h-.9zM211.6 54.9h.9v.9h-.9zM211.9 57.2h.9v.9h-.9zM212.9 57.2h.9v.9h-.9zM212.6 59.1h.9v.9h-.9zM213.1 58.0h.9v.9h-.9zM215.3 59.4h.9v.9h-.9zM214.3 60.8h.9v.9h-.9zM215.9 61.2h.9v.9h-.9zM216.3 62.6h.9v.9h-.9zM217.5 62.9h.9v.9h-.9zM218.7 63.2h.9v.9h-.9zM218.9 64.3h.9v.9h-.9zM219.9 65.9h.9v.9h-.9zM220.3 64.7h.9v.9h-.9zM221.0 66.5h.9v.9h-.9zM222.3 67.0h.9v.9h-.9zM222.6 65.1h.9v.9h-.9zM223.4 65.4h.9v.9h-.9zM224.1 66.2h.9v.9h-.9zM225.6 66.2h.9v.9h-.9zM226.1 71.9h.9v.9h-.9zM225.2 71.9h.9v.9h-.9zM224.1 71.7h.9v.9h-.9zM223.5 72.3h.9v.9h-.9zM221.8 73.7h.9v.9h-.9zM220.8 73.3h.9v.9h-.9zM220.1 73.4h.9v.9h-.9zM218.9 73.3h.9v.9h-.9zM217.1 72.8h.9v.9h-.9zM217.5 71.0h.9v.9h-.9zM215.9 70.2h.9v.9h-.9zM215.7 69.9h.9v.9h-.9zM214.7 69.1h.9v.9h-.9zM213.6 69.6h.9v.9h-.9zM213.7 67.9h.9v.9h-.9zM211.2 68.2h.9v.9h-.9zM211.7 66.8h.9v.9h-.9zM210.7 65.3h.9v.9h-.9zM210.7 64.2h.9v.9h-.9zM209.0 63.2h.9v.9h-.9zM207.9 61.5h.9v.9h-.9zM208.8 60.4h.9v.9h-.9zM207.1 59.9h.9v.9h-.9zM208.9 58.9h.9v.9h-.9zM208.2 57.1h.9v.9h-.9zM207.1 56.3h.9v.9h-.9zM207.8 55.1h.9v.9h-.9z" fill="#c77ee6"/>
<path d="M177.1,30.4 C179.0,29.0 184.5,29.3 188.8,29.2 C193.0,29.1 199.3,29.3 202.8,29.9 C206.3,30.5 208.6,29.9 209.8,32.7 C210.9,35.5 209.5,43.2 209.8,46.7 C210.1,50.2 212.0,51.8 211.6,53.7 C211.3,55.7 209.3,56.9 207.4,58.4 C205.6,59.9 202.8,61.8 200.4,62.6 C198.1,63.4 195.2,64.2 193.4,63.1 C191.7,62.0 191.1,58.2 189.9,56.1 C188.8,53.9 187.6,51.4 186.4,50.2 C185.3,49.1 183.9,50.0 182.9,49.1 C181.9,48.1 181.6,46.3 180.6,44.4 C179.6,42.4 177.7,39.7 177.1,37.4 C176.5,35.0 175.1,31.7 177.1,30.4Z" fill="#bbaad6" />
<path d="M177.5 28.8h.9v.9h-.9zM178.8 30.0h.9v.9h-.9zM179.3 29.0h.9v.9h-.9zM180.4 28.8h.9v.9h-.9zM183.5 29.3h.9v.9h-.9zM182.6 29.0h.9v.9h-.9zM185.9 29.5h.9v.9h-.9zM185.9 29.3h.9v.9h-.9zM188.0 28.3h.9v.9h-.9zM187.9 27.6h.9v.9h-.9zM189.5 28.4h.9v.9h-.9zM189.4 29.4h.9v.9h-.9zM193.0 27.9h.9v.9h-.9zM192.8 27.4h.9v.9h-.9zM194.3 29.2h.9v.9h-.9zM195.3 29.6h.9v.9h-.9zM195.1 29.5h.9v.9h-.9zM197.3 29.6h.9v.9h-.9zM198.4 27.9h.9v.9h-.9zM199.0 29.7h.9v.9h-.9zM199.7 29.1h.9v.9h-.9zM202.3 29.3h.9v.9h-.9zM202.3 30.1h.9v.9h-.9zM203.5 29.6h.9v.9h-.9zM205.4 30.3h.9v.9h-.9zM206.6 29.4h.9v.9h-.9zM207.7 30.3h.9v.9h-.9zM209.5 31.0h.9v.9h-.9zM210.1 31.7h.9v.9h-.9zM211.6 32.4h.9v.9h-.9zM210.5 34.8h.9v.9h-.9zM210.2 35.9h.9v.9h-.9zM211.3 34.6h.9v.9h-.9zM209.9 37.9h.9v.9h-.9zM209.9 37.8h.9v.9h-.9zM209.8 39.3h.9v.9h-.9zM209.7 41.5h.9v.9h-.9zM209.8 39.7h.9v.9h-.9zM211.2 43.6h.9v.9h-.9zM209.7 42.6h.9v.9h-.9zM209.9 45.5h.9v.9h-.9zM209.7 44.9h.9v.9h-.9zM209.8 46.9h.9v.9h-.9zM211.5 47.6h.9v.9h-.9zM211.9 48.4h.9v.9h-.9zM210.3 49.1h.9v.9h-.9zM211.8 50.1h.9v.9h-.9zM212.7 50.3h.9v.9h-.9zM211.6 53.1h.9v.9h-.9zM213.3 54.8h.9v.9h-.9zM210.9 55.4h.9v.9h-.9zM210.4 56.1h.9v.9h-.9zM210.6 57.5h.9v.9h-.9zM208.6 57.1h.9v.9h-.9zM208.8 59.3h.9v.9h-.9zM208.0 59.8h.9v.9h-.9zM206.6 59.0h.9v.9h-.9zM206.1 59.6h.9v.9h-.9zM205.1 60.0h.9v.9h-.9zM204.0 61.7h.9v.9h-.9zM203.6 62.4h.9v.9h-.9zM202.3 63.2h.9v.9h-.9zM201.2 63.5h.9v.9h-.9zM200.6 62.5h.9v.9h-.9zM200.4 64.0h.9v.9h-.9zM198.6 63.2h.9v.9h-.9zM197.8 64.7h.9v.9h-.9zM195.6 63.4h.9v.9h-.9zM194.6 64.4h.9v.9h-.9zM193.8 64.8h.9v.9h-.9zM193.0 62.8h.9v.9h-.9zM190.9 62.2h.9v.9h-.9zM191.9 60.8h.9v.9h-.9zM191.6 59.4h.9v.9h-.9zM191.1 58.2h.9v.9h-.9zM189.9 58.9h.9v.9h-.9zM190.0 56.8h.9v.9h-.9zM189.3 55.0h.9v.9h-.9zM188.5 54.1h.9v.9h-.9zM188.3 53.1h.9v.9h-.9zM187.7 53.2h.9v.9h-.9zM186.7 52.9h.9v.9h-.9zM187.1 51.5h.9v.9h-.9zM186.7 50.4h.9v.9h-.9zM185.2 51.5h.9v.9h-.9zM185.3 51.3h.9v.9h-.9zM184.3 50.5h.9v.9h-.9zM181.6 49.4h.9v.9h-.9zM181.5 48.9h.9v.9h-.9zM180.7 48.3h.9v.9h-.9zM181.4 46.8h.9v.9h-.9zM181.2 45.3h.9v.9h-.9zM179.9 45.5h.9v.9h-.9zM179.9 44.0h.9v.9h-.9zM178.4 44.1h.9v.9h-.9zM177.9 42.2h.9v.9h-.9zM177.9 42.8h.9v.9h-.9zM176.9 40.8h.9v.9h-.9zM177.6 38.6h.9v.9h-.9zM175.8 38.5h.9v.9h-.9zM176.3 36.3h.9v.9h-.9zM176.2 36.4h.9v.9h-.9zM175.3 35.6h.9v.9h-.9zM176.3 34.0h.9v.9h-.9zM175.7 33.0h.9v.9h-.9zM176.4 32.2h.9v.9h-.9zM176.1 29.9h.9v.9h-.9z" fill="#bbaad6"/>
<path d="M163.5,46.7 C163.9,45.0 164.7,44.0 166.6,43.2 C168.4,42.4 172.4,41.8 174.7,42.0 C177.1,42.2 179.2,43.2 180.6,44.4 C181.9,45.5 183.5,47.3 182.9,49.1 C182.3,50.8 178.4,52.7 177.1,54.9 C175.7,57.0 175.9,60.5 174.7,61.9 C173.6,63.3 171.4,63.9 170.1,63.5 C168.7,63.1 167.5,61.2 166.6,59.6 C165.6,57.9 164.7,55.9 164.2,53.7 C163.7,51.6 163.1,48.5 163.5,46.7Z" fill="#a8781e" />
<path d="M163.6 44.7h.9v.9h-.9zM164.2 44.0h.9v.9h-.9zM165.0 42.9h.9v.9h-.9zM165.4 42.3h.9v.9h-.9zM166.1 41.6h.9v.9h-.9zM167.8 43.1h.9v.9h-.9zM170.0 42.5h.9v.9h-.9zM169.5 41.6h.9v.9h-.9zM170.9 41.1h.9v.9h-.9zM170.9 42.4h.9v.9h-.9zM172.6 41.3h.9v.9h-.9zM173.7 42.1h.9v.9h-.9zM175.0 42.0h.9v.9h-.9zM176.2 41.9h.9v.9h-.9zM178.1 42.5h.9v.9h-.9zM178.4 43.2h.9v.9h-.9zM179.0 43.5h.9v.9h-.9zM181.4 44.8h.9v.9h-.9zM181.6 45.2h.9v.9h-.9zM182.0 46.1h.9v.9h-.9zM182.4 47.1h.9v.9h-.9zM183.1 47.9h.9v.9h-.9zM183.1 49.0h.9v.9h-.9zM183.2 49.6h.9v.9h-.9zM182.9 51.8h.9v.9h-.9zM181.9 52.3h.9v.9h-.9zM180.1 53.1h.9v.9h-.9zM181.0 53.5h.9v.9h-.9zM178.5 53.1h.9v.9h-.9zM178.1 55.6h.9v.9h-.9zM177.2 55.4h.9v.9h-.9zM177.9 57.0h.9v.9h-.9zM177.6 58.4h.9v.9h-.9zM175.8 59.3h.9v.9h-.9zM176.5 60.9h.9v.9h-.9zM175.2 61.4h.9v.9h-.9zM174.5 62.9h.9v.9h-.9zM174.5 63.8h.9v.9h-.9zM172.4 63.3h.9v.9h-.9zM170.7 63.5h.9v.9h-.9zM168.3 63.6h.9v.9h-.9zM167.8 62.4h.9v.9h-.9zM166.8 62.9h.9v.9h-.9zM166.6 61.7h.9v.9h-.9zM167.1 59.9h.9v.9h-.9zM165.6 59.2h.9v.9h-.9zM166.3 58.6h.9v.9h-.9zM164.7 58.2h.9v.9h-.9zM165.4 56.7h.9v.9h-.9zM163.8 55.5h.9v.9h-.9zM162.6 54.9h.9v.9h-.9zM164.2 53.3h.9v.9h-.9zM161.9 51.7h.9v.9h-.9zM163.9 51.1h.9v.9h-.9zM162.5 49.7h.9v.9h-.9zM162.5 48.2h.9v.9h-.9z" fill="#a8781e"/>
<path d="M174.7,61.9 C175.3,60.0 175.7,57.0 177.1,54.9 C178.4,52.7 181.4,49.8 182.9,49.1 C184.5,48.3 185.3,49.1 186.4,50.2 C187.6,51.4 188.8,53.9 189.9,56.1 C191.1,58.2 193.2,61.1 193.4,63.1 C193.6,65.0 192.5,66.6 191.1,67.7 C189.7,68.9 187.4,69.8 185.3,70.1 C183.1,70.4 180.2,70.2 178.2,69.6 C176.3,69.0 174.2,67.9 173.6,66.6 C173.0,65.3 174.2,63.8 174.7,61.9Z" fill="#92d0c6" />
<path d="M174.4 60.9h.9v.9h-.9zM174.6 59.7h.9v.9h-.9zM173.8 58.8h.9v.9h-.9zM175.4 57.2h.9v.9h-.9zM175.8 58.3h.9v.9h-.9zM176.6 56.5h.9v.9h-.9zM176.5 54.9h.9v.9h-.9zM177.5 53.9h.9v.9h-.9zM177.6 52.4h.9v.9h-.9zM176.9 52.2h.9v.9h-.9zM179.3 51.1h.9v.9h-.9zM179.1 52.1h.9v.9h-.9zM180.1 49.6h.9v.9h-.9zM180.7 48.3h.9v.9h-.9zM181.7 48.5h.9v.9h-.9zM183.7 47.4h.9v.9h-.9zM184.9 47.2h.9v.9h-.9zM185.6 49.7h.9v.9h-.9zM187.3 48.9h.9v.9h-.9zM187.9 49.4h.9v.9h-.9zM187.3 51.7h.9v.9h-.9zM188.9 51.1h.9v.9h-.9zM188.6 53.6h.9v.9h-.9zM188.9 54.7h.9v.9h-.9zM189.7 55.8h.9v.9h-.9zM190.2 56.3h.9v.9h-.9zM192.9 57.3h.9v.9h-.9zM191.4 57.4h.9v.9h-.9zM192.1 59.2h.9v.9h-.9zM192.1 59.4h.9v.9h-.9zM192.2 60.3h.9v.9h-.9zM192.4 60.6h.9v.9h-.9zM194.4 60.2h.9v.9h-.9zM193.2 62.8h.9v.9h-.9zM193.4 63.4h.9v.9h-.9zM193.8 64.1h.9v.9h-.9zM192.2 66.2h.9v.9h-.9zM192.8 67.4h.9v.9h-.9zM192.7 68.6h.9v.9h-.9zM191.8 68.8h.9v.9h-.9zM190.4 68.8h.9v.9h-.9zM190.0 70.4h.9v.9h-.9zM187.6 69.5h.9v.9h-.9zM187.6 71.2h.9v.9h-.9zM185.5 71.2h.9v.9h-.9zM184.8 71.5h.9v.9h-.9zM184.1 71.8h.9v.9h-.9zM182.0 71.3h.9v.9h-.9zM181.0 71.4h.9v.9h-.9zM179.4 69.7h.9v.9h-.9zM179.6 70.5h.9v.9h-.9zM179.2 69.6h.9v.9h-.9zM177.8 69.4h.9v.9h-.9zM176.3 70.1h.9v.9h-.9zM175.4 70.1h.9v.9h-.9zM173.6 69.3h.9v.9h-.9zM173.4 66.7h.9v.9h-.9zM173.8 66.3h.9v.9h-.9zM173.4 63.8h.9v.9h-.9zM174.2 63.0h.9v.9h-.9zM174.1 62.1h.9v.9h-.9z" fill="#92d0c6"/>
<path d="M208.6,86.4 C209.4,84.5 212.5,82.6 214.5,81.8 C216.4,80.9 218.7,80.9 220.3,81.3 C221.8,81.7 223.0,82.5 223.8,84.1 C224.6,85.7 224.6,88.8 225.0,91.1 C225.4,93.4 226.5,96.5 226.1,98.1 C225.7,99.7 224.2,100.0 222.6,100.4 C221.1,100.8 218.2,100.8 216.8,100.4 C215.4,100.0 215.6,99.3 214.5,98.1 C213.3,96.9 210.8,95.4 209.8,93.4 C208.8,91.5 207.8,88.4 208.6,86.4Z" fill="#d4b2ae" />
<path d="M208.9 85.7h.9v.9h-.9zM208.1 84.0h.9v.9h-.9zM211.2 83.9h.9v.9h-.9zM211.8 83.4h.9v.9h-.9zM211.7 81.7h.9v.9h-.9zM213.4 80.4h.9v.9h-.9zM214.8 80.6h.9v.9h-.9zM218.5 81.0h.9v.9h-.9zM218.5 80.8h.9v.9h-.9zM220.2 79.9h.9v.9h-.9zM223.5 81.0h.9v.9h-.9zM223.6 83.7h.9v.9h-.9zM224.8 84.1h.9v.9h-.9zM226.1 85.5h.9v.9h-.9zM224.5 87.0h.9v.9h-.9zM225.4 87.7h.9v.9h-.9zM226.7 89.7h.9v.9h-.9zM225.6 89.3h.9v.9h-.9zM225.5 90.7h.9v.9h-.9zM225.1 92.2h.9v.9h-.9zM225.1 92.6h.9v.9h-.9zM225.6 94.7h.9v.9h-.9zM226.5 95.5h.9v.9h-.9zM225.9 96.7h.9v.9h-.9zM227.1 98.7h.9v.9h-.9zM225.1 99.2h.9v.9h-.9zM224.6 99.9h.9v.9h-.9zM224.2 100.9h.9v.9h-.9zM223.2 100.7h.9v.9h-.9zM222.1 100.4h.9v.9h-.9zM220.4 100.5h.9v.9h-.9zM219.2 100.8h.9v.9h-.9zM217.7 100.5h.9v.9h-.9zM215.4 99.8h.9v.9h-.9zM214.1 97.6h.9v.9h-.9zM213.4 97.8h.9v.9h-.9zM212.2 97.5h.9v.9h-.9zM211.7 95.5h.9v.9h-.9zM210.2 95.4h.9v.9h-.9zM210.1 93.4h.9v.9h-.9zM209.7 93.0h.9v.9h-.9zM207.2 92.2h.9v.9h-.9zM208.0 91.1h.9v.9h-.9zM207.6 89.6h.9v.9h-.9zM208.6 88.5h.9v.9h-.9zM207.0 86.1h.9v.9h-.9z" fill="#d4b2ae"/>
<path d="M180.6,100.4 C181.6,97.9 184.7,95.2 186.4,95.8 C188.2,96.4 189.1,102.6 191.1,103.9 C193.0,105.3 195.8,104.5 198.1,103.9 C200.4,103.4 203.4,101.8 205.1,100.4 C206.9,99.1 207.1,96.2 208.6,95.8 C210.2,95.4 213.1,96.2 214.5,98.1 C215.8,100.0 215.6,103.9 216.8,107.4 C218.0,110.9 221.3,116.4 221.5,119.1 C221.7,121.8 219.5,122.4 218.0,123.8 C216.4,125.2 214.5,126.4 212.1,127.3 C209.8,128.2 206.7,128.8 203.9,128.9 C201.2,129.1 198.3,128.7 195.8,128.0 C193.2,127.3 190.8,126.4 188.8,125.0 C186.7,123.5 185.0,121.5 183.6,119.1 C182.3,116.8 181.1,114.1 180.6,110.9 C180.1,107.8 179.6,103.0 180.6,100.4Z" fill="#882b6f" />
<path d="M180.6 99.6h.9v.9h-.9zM181.5 98.1h.9v.9h-.9zM181.3 96.5h.9v.9h-.9zM182.8 96.9h.9v.9h-.9zM183.9 96.7h.9v.9h-.9zM184.9 95.3h.9v.9h-.9zM185.5 94.7h.9v.9h-.9zM186.6 95.8h.9v.9h-.9zM188.6 96.8h.9v.9h-.9zM188.6 99.0h.9v.9h-.9zM188.5 99.1h.9v.9h-.9zM188.7 100.5h.9v.9h-.9zM189.7 99.3h.9v.9h-.9zM189.7 102.4h.9v.9h-.9zM191.0 102.3h.9v.9h-.9zM191.2 102.7h.9v.9h-.9zM191.2 103.9h.9v.9h-.9zM193.3 104.6h.9v.9h-.9zM194.2 103.2h.9v.9h-.9zM195.5 103.7h.9v.9h-.9zM196.4 104.5h.9v.9h-.9zM196.2 104.0h.9v.9h-.9zM197.2 103.7h.9v.9h-.9zM198.4 103.9h.9v.9h-.9zM199.9 103.1h.9v.9h-.9zM200.6 102.5h.9v.9h-.9zM202.3 101.1h.9v.9h-.9zM203.6 101.5h.9v.9h-.9zM204.5 100.6h.9v.9h-.9zM204.7 99.4h.9v.9h-.9zM205.3 98.6h.9v.9h-.9zM206.6 98.2h.9v.9h-.9zM206.1 96.9h.9v.9h-.9zM207.6 96.8h.9v.9h-.9zM207.9 95.1h.9v.9h-.9zM209.2 95.7h.9v.9h-.9zM211.0 94.1h.9v.9h-.9zM213.1 94.8h.9v.9h-.9zM213.0 96.6h.9v.9h-.9zM215.1 97.2h.9v.9h-.9zM214.6 98.5h.9v.9h-.9zM216.8 99.8h.9v.9h-.9zM215.9 101.9h.9v.9h-.9zM215.6 101.3h.9v.9h-.9zM215.6 102.5h.9v.9h-.9zM217.4 102.4h.9v.9h-.9zM217.5 104.2h.9v.9h-.9zM216.5 105.4h.9v.9h-.9zM216.8 107.0h.9v.9h-.9zM217.7 109.0h.9v.9h-.9zM218.0 110.6h.9v.9h-.9zM217.7 109.3h.9v.9h-.9zM218.6 111.4h.9v.9h-.9zM219.3 113.0h.9v.9h-.9zM219.9 114.9h.9v.9h-.9zM220.3 113.3h.9v.9h-.9zM220.5 116.3h.9v.9h-.9zM222.5 116.7h.9v.9h-.9zM221.9 118.3h.9v.9h-.9zM221.5 119.2h.9v.9h-.9zM221.6 121.1h.9v.9h-.9zM220.3 122.4h.9v.9h-.9zM218.7 122.9h.9v.9h-.9zM219.4 124.4h.9v.9h-.9zM217.6 124.3h.9v.9h-.9zM217.2 126.0h.9v.9h-.9zM215.7 125.9h.9v.9h-.9zM215.4 125.9h.9v.9h-.9zM215.5 126.5h.9v.9h-.9zM213.7 127.2h.9v.9h-.9zM212.3 127.0h.9v.9h-.9zM211.3 127.9h.9v.9h-.9zM210.9 128.1h.9v.9h-.9zM210.5 127.5h.9v.9h-.9zM209.5 128.2h.9v.9h-.9zM207.5 128.5h.9v.9h-.9zM206.3 130.6h.9v.9h-.9zM204.7 129.3h.9v.9h-.9zM202.8 128.8h.9v.9h-.9zM202.1 129.0h.9v.9h-.9zM201.7 129.5h.9v.9h-.9zM200.9 130.6h.9v.9h-.9zM199.5 129.6h.9v.9h-.9zM198.0 128.5h.9v.9h-.9zM196.6 128.4h.9v.9h-.9zM195.8 128.1h.9v.9h-.9zM195.3 128.8h.9v.9h-.9zM193.9 127.7h.9v.9h-.9zM192.2 127.2h.9v.9h-.9zM191.2 127.5h.9v.9h-.9zM189.8 127.7h.9v.9h-.9zM188.9 125.5h.9v.9h-.9zM188.7 124.7h.9v.9h-.9zM187.1 123.5h.9v.9h-.9zM186.2 123.7h.9v.9h-.9zM185.5 121.9h.9v.9h-.9zM184.7 121.4h.9v.9h-.9zM184.2 120.1h.9v.9h-.9zM182.6 118.8h.9v.9h-.9zM182.7 117.2h.9v.9h-.9zM181.5 117.9h.9v.9h-.9zM181.8 115.7h.9v.9h-.9zM180.1 114.4h.9v.9h-.9zM180.6 114.0h.9v.9h-.9zM179.7 114.3h.9v.9h-.9zM180.7 111.4h.9v.9h-.9zM180.8 111.2h.9v.9h-.9zM180.8 110.0h.9v.9h-.9zM180.1 109.5h.9v.9h-.9zM179.7 108.0h.9v.9h-.9zM180.3 107.6h.9v.9h-.9zM180.4 106.7h.9v.9h-.9zM180.4 106.7h.9v.9h-.9zM180.3 104.3h.9v.9h-.9zM180.1 103.1h.9v.9h-.9zM179.1 100.2h.9v.9h-.9zM180.3 100.4h.9v.9h-.9z" fill="#882b6f"/>
<path d="M186.4,91.1 C187.7,90.0 190.7,89.0 193.4,88.3 C196.2,87.6 200.0,87.3 202.8,86.9 C205.5,86.5 208.4,85.5 209.8,86.0 C211.1,86.5 211.1,88.3 210.9,89.9 C210.8,91.6 209.6,94.0 208.6,95.8 C207.6,97.5 206.9,99.1 205.1,100.4 C203.4,101.8 200.4,103.4 198.1,103.9 C195.8,104.5 192.8,104.7 191.1,103.9 C189.3,103.2 188.4,100.8 187.6,99.3 C186.7,97.7 186.2,96.0 186.0,94.6 C185.8,93.2 185.2,92.1 186.4,91.1Z" fill="#5ef321" />
<path d="M185.7 89.6h.9v.9h-.9zM188.0 90.3h.9v.9h-.9zM189.1 89.1h.9v.9h-.9zM190.6 89.4h.9v.9h-.9zM191.0 87.8h.9v.9h-.9zM191.9 86.9h.9v.9h-.9zM194.2 86.7h.9v.9h-.9zM195.9 87.6h.9v.9h-.9zM196.6 85.9h.9v.9h-.9zM198.9 86.9h.9v.9h-.9zM200.8 86.1h.9v.9h-.9zM201.9 87.1h.9v.9h-.9zM201.7 86.0h.9v.9h-.9zM203.2 86.3h.9v.9h-.9zM205.3 86.0h.9v.9h-.9zM206.5 86.3h.9v.9h-.9zM207.0 84.8h.9v.9h-.9zM208.2 85.1h.9v.9h-.9zM209.4 85.3h.9v.9h-.9zM211.4 85.6h.9v.9h-.9zM211.7 87.9h.9v.9h-.9zM212.2 88.4h.9v.9h-.9zM212.2 89.9h.9v.9h-.9zM211.1 90.7h.9v.9h-.9zM210.3 91.7h.9v.9h-.9zM210.7 92.4h.9v.9h-.9zM211.3 93.6h.9v.9h-.9zM209.4 93.9h.9v.9h-.9zM209.3 95.2h.9v.9h-.9zM208.8 96.4h.9v.9h-.9zM209.6 97.5h.9v.9h-.9zM208.6 98.1h.9v.9h-.9zM206.8 98.6h.9v.9h-.9zM207.1 99.9h.9v.9h-.9zM206.0 100.7h.9v.9h-.9zM204.5 100.5h.9v.9h-.9zM203.3 101.4h.9v.9h-.9zM202.0 102.1h.9v.9h-.9zM200.6 102.7h.9v.9h-.9zM201.4 102.4h.9v.9h-.9zM200.6 103.5h.9v.9h-.9zM199.0 104.0h.9v.9h-.9zM197.4 105.1h.9v.9h-.9zM196.6 103.9h.9v.9h-.9zM195.6 105.3h.9v.9h-.9zM193.2 104.3h.9v.9h-.9zM192.3 104.5h.9v.9h-.9zM191.7 104.2h.9v.9h-.9zM189.7 103.3h.9v.9h-.9zM188.1 102.9h.9v.9h-.9zM188.7 101.8h.9v.9h-.9zM187.6 101.0h.9v.9h-.9zM187.3 100.0h.9v.9h-.9zM186.1 99.5h.9v.9h-.9zM184.9 97.6h.9v.9h-.9zM184.8 95.9h.9v.9h-.9zM186.0 95.2h.9v.9h-.9zM186.0 94.1h.9v.9h-.9zM184.9 93.7h.9v.9h-.9zM186.3 91.6h.9v.9h-.9z" fill="#5ef321"/>
<path d="M213.3,96.9 C214.5,96.2 218.9,98.5 221.5,99.3 C224.1,100.0 227.4,100.2 228.9,101.6 C230.5,103.0 231.0,105.8 230.8,107.4 C230.6,109.1 229.1,110.3 228.0,111.6 C226.9,113.0 225.7,115.2 224.3,115.6 C222.9,116.1 220.8,115.4 219.6,114.5 C218.3,113.5 217.6,111.5 216.8,109.8 C215.9,108.0 215.0,106.1 214.5,103.9 C213.9,101.8 212.1,97.7 213.3,96.9Z" fill="#7eafe0" />
<path d="M213.3 95.7h.9v.9h-.9zM215.0 95.7h.9v.9h-.9zM216.3 97.6h.9v.9h-.9zM217.2 96.6h.9v.9h-.9zM217.4 97.9h.9v.9h-.9zM219.3 98.2h.9v.9h-.9zM220.8 99.0h.9v.9h-.9zM222.0 99.1h.9v.9h-.9zM222.2 97.6h.9v.9h-.9zM224.0 98.5h.9v.9h-.9zM225.3 100.2h.9v.9h-.9zM225.7 99.9h.9v.9h-.9zM227.2 100.4h.9v.9h-.9zM228.2 101.3h.9v.9h-.9zM230.5 100.8h.9v.9h-.9zM230.3 102.3h.9v.9h-.9zM230.4 103.3h.9v.9h-.9zM231.2 104.6h.9v.9h-.9zM232.4 105.4h.9v.9h-.9zM230.4 107.9h.9v.9h-.9zM230.9 108.5h.9v.9h-.9zM228.9 110.2h.9v.9h-.9zM229.0 112.5h.9v.9h-.9zM227.2 112.5h.9v.9h-.9zM227.7 113.9h.9v.9h-.9zM225.8 115.4h.9v.9h-.9zM224.8 115.1h.9v.9h-.9zM224.0 116.7h.9v.9h-.9zM223.1 115.6h.9v.9h-.9zM222.3 116.3h.9v.9h-.9zM221.4 116.2h.9v.9h-.9zM220.0 114.6h.9v.9h-.9zM217.9 114.1h.9v.9h-.9zM217.0 113.6h.9v.9h-.9zM216.3 112.3h.9v.9h-.9zM217.3 110.7h.9v.9h-.9zM217.1 110.1h.9v.9h-.9zM215.4 109.8h.9v.9h-.9zM215.0 109.4h.9v.9h-.9zM215.2 108.0h.9v.9h-.9zM214.4 106.9h.9v.9h-.9zM215.1 105.3h.9v.9h-.9zM213.7 104.6h.9v.9h-.9zM212.7 104.2h.9v.9h-.9zM213.7 102.2h.9v.9h-.9zM212.5 100.5h.9v.9h-.9zM212.9 100.9h.9v.9h-.9zM211.5 100.0h.9v.9h-.9zM211.1 97.8h.9v.9h-.9zM213.3 97.1h.9v.9h-.9z" fill="#7eafe0"/>
<path d="M227.3,103.9 C227.9,103.2 231.0,102.5 232.0,102.8 C232.9,103.0 233.7,104.9 233.1,105.6 C232.6,106.3 229.4,107.3 228.5,107.0 C227.5,106.7 226.7,104.6 227.3,103.9Z" fill="#8b2fe0" />
<path d="M226.7 102.3h.9v.9h-.9zM228.5 103.3h.9v.9h-.9zM229.0 103.1h.9v.9h-.9zM230.0 101.5h.9v.9h-.9zM231.1 102.9h.9v.9h-.9zM232.1 102.8h.9v.9h-.9zM234.5 103.8h.9v.9h-.9zM233.2 105.3h.9v.9h-.9zM231.4 106.2h.9v.9h-.9zM230.5 106.4h.9v.9h-.9zM229.8 106.9h.9v.9h-.9zM227.4 106.7h.9v.9h-.9zM225.3 104.8h.9v.9h-.9zM225.9 103.8h.9v.9h-.9z" fill="#8b2fe0"/>
<path d="M230.8,102.8 C232.0,101.6 235.9,99.1 237.8,98.1 C239.8,97.1 241.3,96.5 242.5,96.9 C243.6,97.3 245.0,99.1 244.8,100.4 C244.6,101.8 242.7,104.4 241.3,105.1 C240.0,105.8 238.0,104.4 236.6,104.6 C235.3,104.8 234.1,106.2 233.1,106.3 C232.2,106.4 231.2,105.7 230.8,105.1 C230.4,104.5 229.6,103.9 230.8,102.8Z" fill="#8b2fe0" />
<path d="M231.9 100.7h.9v.9h-.9zM233.9 100.7h.9v.9h-.9zM234.3 100.0h.9v.9h-.9zM233.8 99.4h.9v.9h-.9zM236.0 98.2h.9v.9h-.9zM237.1 97.0h.9v.9h-.9zM237.4 96.5h.9v.9h-.9zM238.8 97.5h.9v.9h-.9zM240.1 96.3h.9v.9h-.9zM240.9 95.7h.9v.9h-.9zM241.4 95.7h.9v.9h-.9zM243.5 97.7h.9v.9h-.9zM243.9 98.4h.9v.9h-.9zM246.3 98.7h.9v.9h-.9zM246.0 100.0h.9v.9h-.9zM246.5 101.1h.9v.9h-.9zM244.8 101.4h.9v.9h-.9zM244.0 102.7h.9v.9h-.9zM244.3 104.3h.9v.9h-.9zM242.3 104.3h.9v.9h-.9zM241.8 105.0h.9v.9h-.9zM241.0 105.3h.9v.9h-.9zM239.8 105.1h.9v.9h-.9zM239.8 105.0h.9v.9h-.9zM237.3 105.6h.9v.9h-.9zM236.7 105.3h.9v.9h-.9zM236.7 104.8h.9v.9h-.9zM235.6 105.6h.9v.9h-.9zM233.8 105.8h.9v.9h-.9zM233.4 106.9h.9v.9h-.9zM231.8 107.9h.9v.9h-.9zM231.6 107.5h.9v.9h-.9zM230.8 107.2h.9v.9h-.9zM231.1 105.4h.9v.9h-.9zM230.2 104.3h.9v.9h-.9zM228.8 102.9h.9v.9h-.9zM231.0 103.0h.9v.9h-.9z" fill="#8b2fe0"/>
<path d="M148.9,129.8 C148.4,127.4 148.5,124.7 149.6,122.8 C150.7,120.8 153.5,119.0 155.5,118.1 C157.4,117.2 159.4,116.9 161.3,117.6 C163.3,118.4 165.6,120.6 167.2,122.8 C168.7,125.0 169.5,128.4 170.7,130.9 C171.8,133.5 173.1,136.2 174.2,138.0 C175.2,139.7 177.0,140.5 177.0,141.5 C177.0,142.4 175.8,143.6 174.2,143.8 C172.5,144.0 169.5,143.2 167.2,142.6 C164.8,142.0 162.5,141.3 160.1,140.3 C157.8,139.3 155.0,138.5 153.1,136.8 C151.3,135.0 149.5,132.1 148.9,129.8Z" fill="#b2dc8d" />
<path d="M147.8 129.3h.9v.9h-.9zM148.3 127.8h.9v.9h-.9zM148.1 127.8h.9v.9h-.9zM149.0 126.2h.9v.9h-.9zM149.1 125.1h.9v.9h-.9zM148.1 124.7h.9v.9h-.9zM149.1 123.5h.9v.9h-.9zM149.7 121.8h.9v.9h-.9zM150.1 121.1h.9v.9h-.9zM150.9 118.9h.9v.9h-.9zM151.2 120.3h.9v.9h-.9zM151.9 118.7h.9v.9h-.9zM153.4 117.9h.9v.9h-.9zM154.5 118.6h.9v.9h-.9zM156.5 117.9h.9v.9h-.9zM156.7 117.1h.9v.9h-.9zM157.5 117.3h.9v.9h-.9zM158.5 117.2h.9v.9h-.9zM159.9 117.5h.9v.9h-.9zM160.8 117.7h.9v.9h-.9zM162.1 118.1h.9v.9h-.9zM163.1 118.8h.9v.9h-.9zM163.1 116.9h.9v.9h-.9zM164.2 118.0h.9v.9h-.9zM164.6 118.9h.9v.9h-.9zM165.4 120.6h.9v.9h-.9zM166.3 119.3h.9v.9h-.9zM166.7 120.7h.9v.9h-.9zM166.8 122.3h.9v.9h-.9zM166.9 121.6h.9v.9h-.9zM169.1 123.0h.9v.9h-.9zM169.1 124.5h.9v.9h-.9zM170.0 126.0h.9v.9h-.9zM169.1 126.9h.9v.9h-.9zM171.0 128.4h.9v.9h-.9zM169.4 128.5h.9v.9h-.9zM170.4 130.9h.9v.9h-.9zM170.9 132.0h.9v.9h-.9zM171.2 132.4h.9v.9h-.9zM172.6 134.5h.9v.9h-.9zM172.6 134.7h.9v.9h-.9zM174.4 136.3h.9v.9h-.9zM174.7 137.0h.9v.9h-.9zM174.4 138.3h.9v.9h-.9zM175.1 139.3h.9v.9h-.9zM176.5 138.5h.9v.9h-.9zM176.3 140.1h.9v.9h-.9zM177.1 140.8h.9v.9h-.9zM176.9 141.4h.9v.9h-.9zM176.1 142.7h.9v.9h-.9zM175.8 143.6h.9v.9h-.9zM175.7 145.0h.9v.9h-.9zM175.0 144.4h.9v.9h-.9zM173.3 144.6h.9v.9h-.9zM172.7 143.8h.9v.9h-.9zM171.3 145.2h.9v.9h-.9zM169.7 143.6h.9v.9h-.9zM169.7 143.0h.9v.9h-.9zM168.5 144.5h.9v.9h-.9zM168.7 144.9h.9v.9h-.9zM167.0 143.9h.9v.9h-.9zM166.2 142.3h.9v.9h-.9zM165.4 142.4h.9v.9h-.9zM163.6 142.7h.9v.9h-.9zM162.5 141.1h.9v.9h-.9zM161.8 141.6h.9v.9h-.9zM159.9 141.0h.9v.9h-.9zM161.0 140.4h.9v.9h-.9zM159.3 140.6h.9v.9h-.9zM157.6 139.6h.9v.9h-.9zM157.3 139.0h.9v.9h-.9zM155.5 139.0h.9v.9h-.9zM156.0 138.5h.9v.9h-.9zM154.6 138.2h.9v.9h-.9zM153.7 137.0h.9v.9h-.9zM154.2 137.4h.9v.9h-.9zM151.3 137.1h.9v.9h-.9zM151.3 135.1h.9v.9h-.9zM151.2 133.9h.9v.9h-.9zM149.3 133.1h.9v.9h-.9zM148.2 131.6h.9v.9h-.9zM148.8 131.1h.9v.9h-.9z" fill="#b2dc8d"/>
<path d="M258.3,115.3 C259.4,113.6 262.1,110.7 263.6,109.5 C265.2,108.4 266.6,107.8 267.7,108.3 C268.9,108.8 269.9,110.4 270.6,112.4 C271.3,114.5 272.3,118.5 271.8,120.6 C271.3,122.6 269.4,124.3 267.7,124.7 C266.0,125.0 263.3,123.5 261.6,122.6 C259.9,121.7 258.1,120.6 257.5,119.4 C257.0,118.1 257.3,116.9 258.3,115.3Z" fill="#f8806e" />
<path d="M258.7 115.2h.9v.9h-.9zM258.2 113.7h.9v.9h-.9zM259.9 112.8h.9v.9h-.9zM261.1 112.1h.9v.9h-.9zM261.6 110.0h.9v.9h-.9zM261.3 109.9h.9v.9h-.9zM263.2 109.6h.9v.9h-.9zM262.8 108.0h.9v.9h-.9zM264.4 108.1h.9v.9h-.9zM267.2 107.9h.9v.9h-.9zM268.7 107.7h.9v.9h-.9zM270.3 109.5h.9v.9h-.9zM270.7 111.0h.9v.9h-.9zM270.7 112.3h.9v.9h-.9zM272.0 112.0h.9v.9h-.9zM271.1 112.3h.9v.9h-.9zM271.3 114.6h.9v.9h-.9zM272.1 116.1h.9v.9h-.9zM271.5 117.3h.9v.9h-.9zM271.7 117.7h.9v.9h-.9zM271.8 118.0h.9v.9h-.9zM272.6 120.4h.9v.9h-.9zM272.4 121.6h.9v.9h-.9zM271.8 122.4h.9v.9h-.9zM270.8 122.7h.9v.9h-.9zM270.2 123.4h.9v.9h-.9zM268.9 124.0h.9v.9h-.9zM268.8 125.5h.9v.9h-.9zM266.5 125.1h.9v.9h-.9zM264.2 125.7h.9v.9h-.9zM263.5 124.6h.9v.9h-.9zM262.5 125.0h.9v.9h-.9zM262.5 123.2h.9v.9h-.9zM261.3 122.8h.9v.9h-.9zM260.0 123.3h.9v.9h-.9zM259.0 122.9h.9v.9h-.9zM259.1 120.8h.9v.9h-.9zM258.5 120.4h.9v.9h-.9zM257.4 119.1h.9v.9h-.9zM256.3 118.4h.9v.9h-.9zM257.0 116.8h.9v.9h-.9zM257.9 116.6h.9v.9h-.9zM258.4 115.7h.9v.9h-.9z" fill="#f8806e"/>
<path d="M178.5,153.7 C179.5,152.3 181.6,151.9 183.2,151.8 C184.8,151.7 185.9,151.7 188.0,153.2 C190.0,154.6 193.0,157.9 195.5,160.4 C198.1,162.8 200.8,165.9 203.1,168.0 C205.5,170.0 207.6,171.8 209.8,172.7 C212.0,173.6 214.4,173.4 216.4,173.3 C218.5,173.2 220.2,172.0 222.1,172.1 C224.0,172.3 226.2,173.5 227.8,174.0 C229.4,174.6 230.0,175.5 231.6,175.5 C233.2,175.5 235.4,174.5 237.3,174.0 C239.2,173.6 241.1,172.7 243.0,172.7 C244.9,172.7 247.6,172.6 248.7,174.0 C249.8,175.5 249.2,178.1 249.6,181.2 C250.1,184.3 250.7,189.1 251.5,192.6 C252.3,196.1 253.3,199.3 254.4,202.1 C255.5,205.0 257.3,207.2 258.2,209.7 C259.1,212.2 259.5,214.1 259.7,217.3 C259.9,220.5 259.7,225.0 259.1,228.7 C258.6,232.3 257.7,236.3 256.3,239.1 C254.9,242.0 252.8,243.7 250.6,245.8 C248.4,247.8 245.5,249.6 243.0,251.5 C240.5,253.4 237.9,255.6 235.4,257.2 C232.9,258.7 230.3,259.9 227.8,260.6 C225.3,261.3 222.7,261.6 220.2,261.3 C217.7,261.1 215.2,259.9 212.6,259.1 C210.1,258.2 207.4,257.5 205.0,256.2 C202.7,254.9 200.5,253.4 198.4,251.5 C196.3,249.6 194.6,247.3 192.7,244.8 C190.8,242.3 188.7,239.3 187.0,236.3 C185.3,233.3 183.8,230.0 182.3,226.8 C180.7,223.6 178.6,220.8 177.5,217.3 C176.4,213.8 176.0,209.7 175.6,205.9 C175.2,202.1 175.1,198.3 175.1,194.5 C175.1,190.7 175.4,187.3 175.6,183.1 C175.9,179.0 176.3,173.6 176.6,169.9 C176.8,166.1 176.6,163.1 176.9,160.4 C177.3,157.7 177.4,155.1 178.5,153.7Z" fill="#a67f7d" />
<path d="M179.2 153.4h.9v.9h-.9zM179.0 152.6h.9v.9h-.9zM179.9 152.1h.9v.9h-.9zM180.6 151.5h.9v.9h-.9zM182.4 152.0h.9v.9h-.9zM182.4 151.9h.9v.9h-.9zM185.0 150.6h.9v.9h-.9zM186.8 152.7h.9v.9h-.9zM187.9 152.7h.9v.9h-.9zM188.5 153.3h.9v.9h-.9zM189.1 153.9h.9v.9h-.9zM190.1 155.1h.9v.9h-.9zM190.9 153.3h.9v.9h-.9zM192.2 155.3h.9v.9h-.9zM192.2 157.3h.9v.9h-.9zM192.7 157.8h.9v.9h-.9zM193.9 158.7h.9v.9h-.9zM194.0 158.5h.9v.9h-.9zM195.5 157.9h.9v.9h-.9zM195.6 158.7h.9v.9h-.9zM196.6 161.4h.9v.9h-.9zM196.0 161.3h.9v.9h-.9zM198.0 160.8h.9v.9h-.9zM197.9 162.4h.9v.9h-.9zM200.6 163.0h.9v.9h-.9zM198.9 162.4h.9v.9h-.9zM200.0 165.3h.9v.9h-.9zM200.8 165.3h.9v.9h-.9zM201.7 166.6h.9v.9h-.9zM201.9 164.5h.9v.9h-.9zM201.8 167.1h.9v.9h-.9zM203.9 168.8h.9v.9h-.9zM204.3 166.9h.9v.9h-.9zM204.8 169.7h.9v.9h-.9zM206.3 171.0h.9v.9h-.9zM207.7 169.3h.9v.9h-.9zM209.3 171.0h.9v.9h-.9zM209.1 171.4h.9v.9h-.9zM210.3 173.1h.9v.9h-.9zM211.8 173.4h.9v.9h-.9zM212.5 173.3h.9v.9h-.9zM213.7 172.6h.9v.9h-.9zM215.2 172.9h.9v.9h-.9zM216.4 173.4h.9v.9h-.9zM217.8 173.3h.9v.9h-.9zM217.9 171.3h.9v.9h-.9zM219.9 171.5h.9v.9h-.9zM221.0 172.2h.9v.9h-.9zM221.4 171.6h.9v.9h-.9zM222.8 172.4h.9v.9h-.9zM224.2 171.3h.9v.9h-.9zM224.2 172.7h.9v.9h-.9zM226.2 172.2h.9v.9h-.9zM226.9 173.2h.9v.9h-.9zM228.0 173.3h.9v.9h-.9zM228.4 173.8h.9v.9h-.9zM228.8 174.7h.9v.9h-.9zM229.5 174.6h.9v.9h-.9zM230.0 174.9h.9v.9h-.9zM231.0 173.6h.9v.9h-.9zM232.7 175.1h.9v.9h-.9zM233.7 175.2h.9v.9h-.9zM236.3 174.3h.9v.9h-.9zM236.7 174.5h.9v.9h-.9zM238.1 173.9h.9v.9h-.9zM238.5 172.4h.9v.9h-.9zM239.6 173.4h.9v.9h-.9zM240.6 171.6h.9v.9h-.9zM242.9 171.7h.9v.9h-.9zM243.1 173.0h.9v.9h-.9zM244.1 171.4h.9v.9h-.9zM245.7 171.3h.9v.9h-.9zM246.7 173.2h.9v.9h-.9zM247.5 173.3h.9v.9h-.9zM248.4 174.0h.9v.9h-.9zM249.4 174.0h.9v.9h-.9zM250.5 175.0h.9v.9h-.9zM249.4 176.7h.9v.9h-.9zM249.5 178.2h.9v.9h-.9zM249.2 177.8h.9v.9h-.9zM250.2 179.2h.9v.9h-.9zM249.3 179.8h.9v.9h-.9zM249.7 181.5h.9v.9h-.9zM251.3 182.0h.9v.9h-.9zM250.6 183.3h.9v.9h-.9zM251.1 183.3h.9v.9h-.9zM250.5 185.3h.9v.9h-.9zM250.4 187.2h.9v.9h-.9zM250.4 187.1h.9v.9h-.9zM252.0 189.4h.9v.9h-.9zM251.3 189.5h.9v.9h-.9zM253.0 191.9h.9v.9h-.9zM252.9 191.2h.9v.9h-.9zM252.4 194.2h.9v.9h-.9zM252.1 195.0h.9v.9h-.9zM253.5 194.2h.9v.9h-.9zM253.0 197.0h.9v.9h-.9zM252.8 198.0h.9v.9h-.9zM254.2 200.0h.9v.9h-.9zM254.5 201.6h.9v.9h-.9zM254.4 202.5h.9v.9h-.9zM255.4 204.2h.9v.9h-.9zM255.2 203.8h.9v.9h-.9zM257.0 204.6h.9v.9h-.9zM258.2 206.1h.9v.9h-.9zM256.6 206.9h.9v.9h-.9zM257.1 207.5h.9v.9h-.9zM258.7 209.2h.9v.9h-.9zM260.0 209.4h.9v.9h-.9zM258.4 211.4h.9v.9h-.9zM260.3 212.1h.9v.9h-.9zM259.8 212.0h.9v.9h-.9zM259.4 214.3h.9v.9h-.9zM260.7 214.6h.9v.9h-.9zM260.5 216.7h.9v.9h-.9zM259.6 216.2h.9v.9h-.9zM259.5 219.0h.9v.9h-.9zM259.6 219.6h.9v.9h-.9zM261.4 219.8h.9v.9h-.9zM260.5 221.2h.9v.9h-.9zM260.2 222.2h.9v.9h-.9zM259.3 224.6h.9v.9h-.9zM260.0 225.3h.9v.9h-.9zM260.2 228.0h.9v.9h-.9zM259.5 228.5h.9v.9h-.9zM258.6 230.2h.9v.9h-.9zM259.4 230.9h.9v.9h-.9zM258.3 231.9h.9v.9h-.9zM259.0 234.1h.9v.9h-.9zM258.9 235.7h.9v.9h-.9zM258.2 236.5h.9v.9h-.9zM256.7 237.7h.9v.9h-.9zM256.3 239.4h.9v.9h-.9zM255.2 241.2h.9v.9h-.9zM254.6 241.8h.9v.9h-.9zM254.9 243.6h.9v.9h-.9zM253.3 243.9h.9v.9h-.9zM253.4 244.0h.9v.9h-.9zM252.3 243.8h.9v.9h-.9zM251.5 245.2h.9v.9h-.9zM250.9 245.1h.9v.9h-.9zM250.5 247.5h.9v.9h-.9zM249.6 246.7h.9v.9h-.9zM249.1 248.2h.9v.9h-.9zM247.6 247.9h.9v.9h-.9zM247.0 250.1h.9v.9h-.9zM246.5 249.0h.9v.9h-.9zM245.5 251.5h.9v.9h-.9zM243.5 251.3h.9v.9h-.9zM242.4 252.6h.9v.9h-.9zM242.5 251.8h.9v.9h-.9zM240.7 253.3h.9v.9h-.9zM241.5 252.4h.9v.9h-.9zM241.2 254.5h.9v.9h-.9zM240.1 254.4h.9v.9h-.9zM239.0 255.3h.9v.9h-.9zM236.6 256.1h.9v.9h-.9zM236.2 257.5h.9v.9h-.9zM235.4 259.1h.9v.9h-.9zM235.2 256.9h.9v.9h-.9zM233.1 258.2h.9v.9h-.9zM231.8 258.9h.9v.9h-.9zM230.9 260.7h.9v.9h-.9zM229.7 259.9h.9v.9h-.9zM228.3 261.3h.9v.9h-.9zM229.0 261.3h.9v.9h-.9zM226.8 261.0h.9v.9h-.9zM225.7 261.4h.9v.9h-.9zM226.1 262.3h.9v.9h-.9zM224.0 261.0h.9v.9h-.9zM223.1 261.8h.9v.9h-.9zM222.9 261.2h.9v.9h-.9zM221.9 262.7h.9v.9h-.9zM220.2 262.1h.9v.9h-.9zM220.1 261.0h.9v.9h-.9zM218.6 261.0h.9v.9h-.9zM217.1 262.3h.9v.9h-.9zM215.6 260.4h.9v.9h-.9zM215.8 260.9h.9v.9h-.9zM213.3 261.2h.9v.9h-.9zM212.9 258.9h.9v.9h-.9zM212.3 258.7h.9v.9h-.9zM209.7 259.5h.9v.9h-.9zM209.8 258.0h.9v.9h-.9zM210.0 258.2h.9v.9h-.9zM208.1 257.6h.9v.9h-.9zM206.5 257.6h.9v.9h-.9zM205.0 257.2h.9v.9h-.9zM204.3 256.2h.9v.9h-.9zM203.6 255.8h.9v.9h-.9zM201.7 255.9h.9v.9h-.9zM199.9 254.4h.9v.9h-.9zM201.2 253.5h.9v.9h-.9zM198.5 254.0h.9v.9h-.9zM199.4 252.5h.9v.9h-.9zM198.0 250.7h.9v.9h-.9zM195.9 251.2h.9v.9h-.9zM197.1 250.2h.9v.9h-.9zM195.0 248.8h.9v.9h-.9zM195.0 248.6h.9v.9h-.9zM193.4 248.7h.9v.9h-.9zM194.3 247.2h.9v.9h-.9zM193.2 246.4h.9v.9h-.9zM193.6 245.6h.9v.9h-.9zM192.8 244.9h.9v.9h-.9zM191.9 244.7h.9v.9h-.9zM190.4 244.6h.9v.9h-.9zM190.4 243.9h.9v.9h-.9zM191.5 243.6h.9v.9h-.9zM190.4 241.9h.9v.9h-.9zM190.3 241.3h.9v.9h-.9zM189.4 239.6h.9v.9h-.9zM189.1 239.2h.9v.9h-.9zM188.7 238.6h.9v.9h-.9zM187.2 240.2h.9v.9h-.9zM186.4 237.7h.9v.9h-.9zM185.6 237.2h.9v.9h-.9zM186.4 236.1h.9v.9h-.9zM185.3 235.3h.9v.9h-.9zM185.3 233.5h.9v.9h-.9zM184.5 234.5h.9v.9h-.9zM184.9 231.7h.9v.9h-.9zM184.3 230.6h.9v.9h-.9zM183.6 230.2h.9v.9h-.9zM182.9 229.6h.9v.9h-.9zM183.3 228.3h.9v.9h-.9zM182.7 227.2h.9v.9h-.9zM180.3 226.2h.9v.9h-.9zM181.5 224.8h.9v.9h-.9zM180.2 224.4h.9v.9h-.9zM180.3 223.8h.9v.9h-.9zM177.6 222.1h.9v.9h-.9zM178.0 220.9h.9v.9h-.9zM177.7 218.7h.9v.9h-.9zM177.3 216.7h.9v.9h-.9zM177.5 216.4h.9v.9h-.9zM176.7 214.2h.9v.9h-.9zM176.9 214.0h.9v.9h-.9zM176.1 212.5h.9v.9h-.9zM175.2 211.7h.9v.9h-.9zM176.0 210.4h.9v.9h-.9zM174.8 208.7h.9v.9h-.9zM174.8 207.0h.9v.9h-.9zM175.4 206.7h.9v.9h-.9zM175.0 205.1h.9v.9h-.9zM174.7 202.2h.9v.9h-.9zM175.5 203.4h.9v.9h-.9zM175.3 200.7h.9v.9h-.9zM173.3 200.9h.9v.9h-.9zM174.8 198.4h.9v.9h-.9zM173.7 199.0h.9v.9h-.9zM173.2 197.7h.9v.9h-.9zM174.7 195.8h.9v.9h-.9zM173.4 193.3h.9v.9h-.9zM175.4 193.3h.9v.9h-.9zM174.8 192.6h.9v.9h-.9zM174.4 189.8h.9v.9h-.9zM175.1 187.3h.9v.9h-.9zM174.7 186.3h.9v.9h-.9zM175.5 186.0h.9v.9h-.9zM175.6 185.1h.9v.9h-.9zM174.0 184.4h.9v.9h-.9zM175.6 183.1h.9v.9h-.9zM174.4 181.7h.9v.9h-.9zM175.7 179.2h.9v.9h-.9zM175.6 179.8h.9v.9h-.9zM174.5 176.3h.9v.9h-.9zM175.0 176.5h.9v.9h-.9zM176.4 176.1h.9v.9h-.9zM175.4 174.4h.9v.9h-.9zM176.4 173.4h.9v.9h-.9zM175.9 172.0h.9v.9h-.9zM176.4 171.2h.9v.9h-.9zM175.1 168.0h.9v.9h-.9zM176.4 168.0h.9v.9h-.9zM175.6 167.8h.9v.9h-.9zM175.5 165.0h.9v.9h-.9zM177.0 166.1h.9v.9h-.9zM175.4 163.4h.9v.9h-.9zM175.4 162.8h.9v.9h-.9zM177.2 161.3h.9v.9h-.9zM175.9 159.7h.9v.9h-.9zM176.5 159.2h.9v.9h-.9zM175.6 157.9h.9v.9h-.9zM177.5 157.8h.9v.9h-.9zM177.2 157.5h.9v.9h-.9zM177.9 155.6h.9v.9h-.9zM175.9 154.7h.9v.9h-.9zM177.9 153.7h.9v.9h-.9z" fill="#a67f7d"/>
<path d="M229.7,158.1 C230.5,157.8 232.9,158.2 234.5,158.5 C236.0,158.8 238.5,159.5 239.2,160.0 C239.9,160.5 239.6,161.4 238.8,161.5 C238.0,161.6 236.0,160.9 234.5,160.7 C232.9,160.6 230.5,160.8 229.7,160.4 C228.9,159.9 228.9,158.4 229.7,158.1Z" fill="#e0309a" />
<path d="M229.8 157.8h.9v.9h-.9zM230.7 156.5h.9v.9h-.9zM231.7 157.0h.9v.9h-.9zM232.2 157.5h.9v.9h-.9zM234.5 158.8h.9v.9h-.9zM236.2 158.1h.9v.9h-.9zM237.3 157.8h.9v.9h-.9zM237.5 158.7h.9v.9h-.9zM238.1 159.7h.9v.9h-.9zM239.8 158.4h.9v.9h-.9zM237.8 162.2h.9v.9h-.9zM237.0 161.4h.9v.9h-.9zM235.5 160.7h.9v.9h-.9zM233.5 160.4h.9v.9h-.9zM232.7 160.6h.9v.9h-.9zM231.6 160.3h.9v.9h-.9zM229.4 157.8h.9v.9h-.9z" fill="#e0309a"/>
<path d="M218.3 179.5h0.9v0.9h-0.9zM243.1 176.5h0.9v0.9h-0.9zM224.2 176.4h0.9v0.9h-0.9zM227.6 185.7h0.9v0.9h-0.9zM202.0 184.6h0.9v0.9h-0.9zM205.5 185.9h0.9v0.9h-0.9zM237.7 178.8h0.9v0.9h-0.9zM204.1 191.4h0.9v0.9h-0.9zM206.0 177.4h0.9v0.9h-0.9zM229.6 175.3h0.9v0.9h-0.9zM226.0 191.2h0.9v0.9h-0.9zM214.8 187.4h0.9v0.9h-0.9zM235.6 179.9h0.9v0.9h-0.9zM217.3 180.5h0.9v0.9h-0.9zM237.9 181.6h0.9v0.9h-0.9zM212.6 173.1h0.9v0.9h-0.9zM222.6 183.2h0.9v0.9h-0.9zM219.8 174.7h0.9v0.9h-0.9zM217.5 184.7h0.9v0.9h-0.9zM222.4 186.1h0.9v0.9h-0.9zM247.6 182.3h0.9v0.9h-0.9zM199.7 179.6h0.9v0.9h-0.9zM211.3 173.4h0.9v0.9h-0.9zM222.7 193.1h0.9v0.9h-0.9zM234.7 185.6h0.9v0.9h-0.9zM204.9 181.9h0.9v0.9h-0.9zM204.2 200.8h0.9v0.9h-0.9zM237.5 176.4h0.9v0.9h-0.9zM243.1 189.4h0.9v0.9h-0.9zM200.8 190.0h0.9v0.9h-0.9zM219.6 189.0h0.9v0.9h-0.9zM226.1 173.9h0.9v0.9h-0.9zM201.6 180.8h0.9v0.9h-0.9zM219.0 177.2h0.9v0.9h-0.9zM214.4 188.3h0.9v0.9h-0.9zM242.9 188.4h0.9v0.9h-0.9zM205.2 173.8h0.9v0.9h-0.9zM212.4 198.0h0.9v0.9h-0.9zM221.6 191.6h0.9v0.9h-0.9zM225.3 188.2h0.9v0.9h-0.9zM239.6 197.0h0.9v0.9h-0.9zM198.2 174.0h0.9v0.9h-0.9zM241.5 176.6h0.9v0.9h-0.9zM226.4 176.4h0.9v0.9h-0.9zM198.7 180.2h0.9v0.9h-0.9zM196.7 176.0h0.9v0.9h-0.9zM237.7 191.8h0.9v0.9h-0.9zM247.2 193.1h0.9v0.9h-0.9zM228.6 178.7h0.9v0.9h-0.9zM193.3 190.4h0.9v0.9h-0.9zM228.1 182.5h0.9v0.9h-0.9zM221.3 191.3h0.9v0.9h-0.9zM235.9 190.1h0.9v0.9h-0.9zM206.3 174.7h0.9v0.9h-0.9zM231.0 184.3h0.9v0.9h-0.9zM231.2 177.9h0.9v0.9h-0.9zM198.1 180.0h0.9v0.9h-0.9zM244.6 189.0h0.9v0.9h-0.9zM212.4 179.3h0.9v0.9h-0.9zM235.7 175.3h0.9v0.9h-0.9zM220.7 173.4h0.9v0.9h-0.9zM239.9 193.8h0.9v0.9h-0.9zM223.3 178.1h0.9v0.9h-0.9zM229.0 201.2h0.9v0.9h-0.9zM225.1 178.7h0.9v0.9h-0.9zM200.7 188.8h0.9v0.9h-0.9zM236.0 174.9h0.9v0.9h-0.9zM196.8 197.5h0.9v0.9h-0.9zM220.3 183.9h0.9v0.9h-0.9zM232.7 188.7h0.9v0.9h-0.9zM230.1 190.9h0.9v0.9h-0.9zM231.9 176.8h0.9v0.9h-0.9zM232.7 189.9h0.9v0.9h-0.9zM223.7 172.9h0.9v0.9h-0.9zM244.0 195.7h0.9v0.9h-0.9zM215.6 185.2h0.9v0.9h-0.9zM220.6 181.5h0.9v0.9h-0.9zM208.0 190.7h0.9v0.9h-0.9zM212.7 174.8h0.9v0.9h-0.9zM241.1 174.6h0.9v0.9h-0.9zM229.1 186.1h0.9v0.9h-0.9zM243.3 183.9h0.9v0.9h-0.9zM196.4 174.9h0.9v0.9h-0.9zM203.3 195.0h0.9v0.9h-0.9zM224.2 198.7h0.9v0.9h-0.9zM228.1 196.2h0.9v0.9h-0.9zM195.5 174.4h0.9v0.9h-0.9zM200.2 177.4h0.9v0.9h-0.9zM237.8 187.7h0.9v0.9h-0.9zM245.6 177.1h0.9v0.9h-0.9zM200.5 181.5h0.9v0.9h-0.9zM235.3 187.8h0.9v0.9h-0.9zM215.1 190.9h0.9v0.9h-0.9zM246.6 179.0h0.9v0.9h-0.9zM209.3 187.7h0.9v0.9h-0.9zM222.6 182.3h0.9v0.9h-0.9zM229.4 187.6h0.9v0.9h-0.9zM198.6 177.4h0.9v0.9h-0.9zM244.0 180.6h0.9v0.9h-0.9zM202.6 177.3h0.9v0.9h-0.9zM225.2 181.2h0.9v0.9h-0.9zM229.7 188.0h0.9v0.9h-0.9zM213.5 195.2h0.9v0.9h-0.9zM213.4 190.6h0.9v0.9h-0.9zM204.2 176.8h0.9v0.9h-0.9zM217.1 187.4h0.9v0.9h-0.9zM223.5 182.0h0.9v0.9h-0.9zM209.0 192.9h0.9v0.9h-0.9zM239.6 179.7h0.9v0.9h-0.9zM223.9 183.9h0.9v0.9h-0.9zM203.8 178.8h0.9v0.9h-0.9zM238.0 180.5h0.9v0.9h-0.9zM194.0 175.1h0.9v0.9h-0.9zM220.5 176.2h0.9v0.9h-0.9zM245.9 186.2h0.9v0.9h-0.9zM216.2 190.3h0.9v0.9h-0.9zM242.6 193.0h0.9v0.9h-0.9zM240.2 185.8h0.9v0.9h-0.9zM223.7 179.3h0.9v0.9h-0.9zM234.2 178.0h0.9v0.9h-0.9zM222.0 172.6h0.9v0.9h-0.9zM239.9 189.3h0.9v0.9h-0.9zM215.4 174.8h0.9v0.9h-0.9zM204.7 197.4h0.9v0.9h-0.9zM246.5 182.8h0.9v0.9h-0.9zM235.8 193.7h0.9v0.9h-0.9zM218.7 175.6h0.9v0.9h-0.9zM205.0 177.0h0.9v0.9h-0.9zM230.9 186.9h0.9v0.9h-0.9zM223.0 188.8h0.9v0.9h-0.9zM231.6 176.1h0.9v0.9h-0.9zM212.4 175.6h0.9v0.9h-0.9zM214.6 187.3h0.9v0.9h-0.9zM230.0 189.9h0.9v0.9h-0.9zM247.1 182.5h0.9v0.9h-0.9zM246.9 179.6h0.9v0.9h-0.9zM203.9 177.6h0.9v0.9h-0.9zM221.7 173.6h0.9v0.9h-0.9zM221.4 178.4h0.9v0.9h-0.9zM243.8 188.1h0.9v0.9h-0.9zM226.3 176.2h0.9v0.9h-0.9zM229.2 175.3h0.9v0.9h-0.9zM244.1 194.0h0.9v0.9h-0.9zM195.7 187.2h0.9v0.9h-0.9zM227.5 185.6h0.9v0.9h-0.9zM222.5 196.2h0.9v0.9h-0.9zM240.1 177.9h0.9v0.9h-0.9zM203.6 173.4h0.9v0.9h-0.9zM201.4 199.2h0.9v0.9h-0.9zM199.2 185.0h0.9v0.9h-0.9zM240.3 178.3h0.9v0.9h-0.9zM201.9 183.7h0.9v0.9h-0.9zM203.4 194.3h0.9v0.9h-0.9zM221.2 194.9h0.9v0.9h-0.9zM225.5 177.2h0.9v0.9h-0.9zM211.0 189.3h0.9v0.9h-0.9zM235.0 174.8h0.9v0.9h-0.9zM207.0 193.4h0.9v0.9h-0.9zM207.5 192.1h0.9v0.9h-0.9zM245.4 194.9h0.9v0.9h-0.9zM227.7 174.8h0.9v0.9h-0.9zM242.7 183.1h0.9v0.9h-0.9zM240.0 181.1h0.9v0.9h-0.9zM230.5 186.6h0.9v0.9h-0.9zM221.2 179.9h0.9v0.9h-0.9zM203.9 189.0h0.9v0.9h-0.9zM206.7 201.8h0.9v0.9h-0.9zM223.3 196.7h0.9v0.9h-0.9zM192.4 181.7h0.9v0.9h-0.9zM230.9 179.0h0.9v0.9h-0.9zM210.3 191.1h0.9v0.9h-0.9zM231.6 184.4h0.9v0.9h-0.9zM199.9 180.8h0.9v0.9h-0.9zM217.9 177.0h0.9v0.9h-0.9zM209.9 187.3h0.9v0.9h-0.9zM236.5 196.4h0.9v0.9h-0.9zM219.5 181.8h0.9v0.9h-0.9zM214.8 188.6h0.9v0.9h-0.9zM207.9 178.8h0.9v0.9h-0.9zM248.9 183.1h0.9v0.9h-0.9zM206.4 190.2h0.9v0.9h-0.9zM201.0 176.6h0.9v0.9h-0.9zM197.4 176.5h0.9v0.9h-0.9zM209.3 201.7h0.9v0.9h-0.9zM197.6 195.4h0.9v0.9h-0.9zM230.2 196.4h0.9v0.9h-0.9zM208.0 190.7h0.9v0.9h-0.9zM241.9 198.1h0.9v0.9h-0.9zM231.0 176.4h0.9v0.9h-0.9zM210.1 184.9h0.9v0.9h-0.9zM245.0 177.9h0.9v0.9h-0.9zM238.1 183.7h0.9v0.9h-0.9zM238.2 187.1h0.9v0.9h-0.9zM203.6 184.4h0.9v0.9h-0.9zM219.4 176.9h0.9v0.9h-0.9zM215.6 181.0h0.9v0.9h-0.9zM210.9 173.0h0.9v0.9h-0.9zM207.2 197.2h0.9v0.9h-0.9zM195.1 182.3h0.9v0.9h-0.9zM226.0 174.9h0.9v0.9h-0.9zM202.4 180.8h0.9v0.9h-0.9zM223.7 175.1h0.9v0.9h-0.9zM201.3 177.2h0.9v0.9h-0.9zM238.2 175.7h0.9v0.9h-0.9zM194.6 175.7h0.9v0.9h-0.9zM208.1 179.8h0.9v0.9h-0.9zM232.3 177.7h0.9v0.9h-0.9zM194.4 188.9h0.9v0.9h-0.9zM203.4 173.7h0.9v0.9h-0.9zM220.1 173.3h0.9v0.9h-0.9zM215.8 184.2h0.9v0.9h-0.9zM236.8 186.1h0.9v0.9h-0.9zM211.9 176.2h0.9v0.9h-0.9zM225.3 193.7h0.9v0.9h-0.9zM230.2 181.3h0.9v0.9h-0.9zM222.7 174.8h0.9v0.9h-0.9zM211.7 179.7h0.9v0.9h-0.9zM216.5 195.8h0.9v0.9h-0.9zM198.7 182.9h0.9v0.9h-0.9zM222.2 173.2h0.9v0.9h-0.9zM230.8 186.7h0.9v0.9h-0.9zM194.9 178.6h0.9v0.9h-0.9zM198.6 191.6h0.9v0.9h-0.9zM226.7 181.4h0.9v0.9h-0.9zM222.2 185.8h0.9v0.9h-0.9zM232.8 179.3h0.9v0.9h-0.9zM193.1 179.1h0.9v0.9h-0.9zM212.3 198.7h0.9v0.9h-0.9zM242.2 175.4h0.9v0.9h-0.9zM231.4 178.6h0.9v0.9h-0.9zM216.1 189.0h0.9v0.9h-0.9zM196.4 182.2h0.9v0.9h-0.9zM232.8 188.3h0.9v0.9h-0.9zM231.9 191.9h0.9v0.9h-0.9zM218.4 174.4h0.9v0.9h-0.9zM248.2 185.8h0.9v0.9h-0.9zM217.0 174.3h0.9v0.9h-0.9zM205.2 180.0h0.9v0.9h-0.9zM212.3 191.0h0.9v0.9h-0.9zM245.3 186.8h0.9v0.9h-0.9zM221.8 178.2h0.9v0.9h-0.9zM194.6 179.1h0.9v0.9h-0.9zM195.1 189.5h0.9v0.9h-0.9zM199.1 180.9h0.9v0.9h-0.9zM225.0 176.8h0.9v0.9h-0.9zM248.0 179.6h0.9v0.9h-0.9zM195.0 189.6h0.9v0.9h-0.9zM211.5 175.9h0.9v0.9h-0.9zM204.9 175.0h0.9v0.9h-0.9zM218.0 176.6h0.9v0.9h-0.9zM217.1 188.4h0.9v0.9h-0.9zM209.2 197.8h0.9v0.9h-0.9zM240.4 177.2h0.9v0.9h-0.9zM217.0 182.0h0.9v0.9h-0.9zM222.4 191.1h0.9v0.9h-0.9zM193.2 176.8h0.9v0.9h-0.9zM223.8 191.0h0.9v0.9h-0.9zM222.2 172.3h0.9v0.9h-0.9zM235.3 186.2h0.9v0.9h-0.9zM236.9 174.2h0.9v0.9h-0.9z" fill="#fff"/>
<path d="M320.0,167.7 C321.2,165.0 323.9,160.1 325.9,158.4 C327.8,156.6 330.2,156.8 331.7,157.2 C333.3,157.6 333.7,159.0 335.2,160.7 C336.8,162.5 338.7,165.4 341.1,167.7 C343.4,170.1 346.9,172.2 349.2,174.7 C351.6,177.3 352.9,180.2 355.1,182.9 C357.2,185.6 360.7,188.2 362.1,191.1 C363.4,194.0 363.2,197.3 363.2,200.4 C363.2,203.6 363.1,207.4 362.1,209.8 C361.1,212.1 359.0,213.3 357.4,214.5 C355.9,215.6 354.7,217.6 352.7,216.8 C350.8,216.0 348.1,212.1 345.7,209.8 C343.4,207.4 341.3,204.7 338.7,202.8 C336.2,200.8 333.3,199.5 330.5,198.1 C327.8,196.7 323.9,196.9 322.4,194.6 C320.8,192.3 321.8,187.4 321.2,184.1 C320.6,180.8 319.1,177.5 318.9,174.7 C318.7,172.0 318.9,170.5 320.0,167.7Z" fill="#b47cae" />
<path d="M320.5 166.6h.9v.9h-.9zM319.5 166.4h.9v.9h-.9zM320.0 164.3h.9v.9h-.9zM320.6 165.4h.9v.9h-.9zM322.5 163.0h.9v.9h-.9zM321.8 163.9h.9v.9h-.9zM321.3 161.5h.9v.9h-.9zM322.3 161.3h.9v.9h-.9zM323.6 160.8h.9v.9h-.9zM324.6 160.3h.9v.9h-.9zM325.2 158.6h.9v.9h-.9zM324.9 159.5h.9v.9h-.9zM326.6 158.1h.9v.9h-.9zM326.9 157.0h.9v.9h-.9zM328.2 156.0h.9v.9h-.9zM329.0 156.2h.9v.9h-.9zM330.8 155.4h.9v.9h-.9zM331.6 157.3h.9v.9h-.9zM332.2 156.0h.9v.9h-.9zM332.9 157.4h.9v.9h-.9zM333.8 157.4h.9v.9h-.9zM333.5 158.5h.9v.9h-.9zM334.1 159.3h.9v.9h-.9zM336.1 159.1h.9v.9h-.9zM335.2 160.9h.9v.9h-.9zM335.6 160.7h.9v.9h-.9zM337.8 161.5h.9v.9h-.9zM336.7 163.0h.9v.9h-.9zM338.2 164.0h.9v.9h-.9zM341.0 165.0h.9v.9h-.9zM341.0 166.5h.9v.9h-.9zM340.6 166.2h.9v.9h-.9zM342.0 168.9h.9v.9h-.9zM342.3 166.8h.9v.9h-.9zM343.2 170.0h.9v.9h-.9zM343.0 169.8h.9v.9h-.9zM344.9 170.9h.9v.9h-.9zM344.3 169.2h.9v.9h-.9zM346.1 171.8h.9v.9h-.9zM346.4 170.5h.9v.9h-.9zM347.0 172.8h.9v.9h-.9zM348.1 173.3h.9v.9h-.9zM349.1 173.2h.9v.9h-.9zM349.5 174.5h.9v.9h-.9zM349.9 175.1h.9v.9h-.9zM351.5 174.6h.9v.9h-.9zM352.1 176.2h.9v.9h-.9zM352.6 176.2h.9v.9h-.9zM351.4 178.1h.9v.9h-.9zM351.9 178.0h.9v.9h-.9zM353.1 180.1h.9v.9h-.9zM353.2 180.1h.9v.9h-.9zM354.6 180.8h.9v.9h-.9zM354.4 182.4h.9v.9h-.9zM355.8 182.0h.9v.9h-.9zM356.7 182.9h.9v.9h-.9zM355.9 183.3h.9v.9h-.9zM357.9 184.5h.9v.9h-.9zM357.5 183.9h.9v.9h-.9zM358.5 186.4h.9v.9h-.9zM359.9 185.6h.9v.9h-.9zM359.4 187.4h.9v.9h-.9zM359.9 187.1h.9v.9h-.9zM362.0 188.0h.9v.9h-.9zM362.5 190.6h.9v.9h-.9zM363.4 191.8h.9v.9h-.9zM362.7 192.1h.9v.9h-.9zM364.4 193.6h.9v.9h-.9zM363.5 194.4h.9v.9h-.9zM363.2 194.9h.9v.9h-.9zM365.0 196.3h.9v.9h-.9zM364.8 198.8h.9v.9h-.9zM364.4 197.6h.9v.9h-.9zM363.8 199.8h.9v.9h-.9zM364.1 200.9h.9v.9h-.9zM364.4 201.0h.9v.9h-.9zM365.1 203.2h.9v.9h-.9zM362.9 202.5h.9v.9h-.9zM363.9 204.7h.9v.9h-.9zM364.6 205.2h.9v.9h-.9zM363.0 207.0h.9v.9h-.9zM362.7 208.3h.9v.9h-.9zM362.8 207.7h.9v.9h-.9zM363.6 209.5h.9v.9h-.9zM362.6 211.4h.9v.9h-.9zM361.1 211.5h.9v.9h-.9zM360.2 212.6h.9v.9h-.9zM359.7 212.7h.9v.9h-.9zM358.7 213.9h.9v.9h-.9zM357.9 213.7h.9v.9h-.9zM356.9 214.7h.9v.9h-.9zM356.4 215.3h.9v.9h-.9zM356.4 216.8h.9v.9h-.9zM354.8 216.3h.9v.9h-.9zM354.1 217.5h.9v.9h-.9zM352.8 218.4h.9v.9h-.9zM351.4 216.8h.9v.9h-.9zM349.6 216.4h.9v.9h-.9zM350.0 215.6h.9v.9h-.9zM349.6 215.0h.9v.9h-.9zM348.2 214.6h.9v.9h-.9zM349.0 213.4h.9v.9h-.9zM348.0 212.3h.9v.9h-.9zM345.9 209.7h.9v.9h-.9zM346.5 210.8h.9v.9h-.9zM344.7 210.0h.9v.9h-.9zM345.8 209.4h.9v.9h-.9zM343.9 207.6h.9v.9h-.9zM343.9 209.1h.9v.9h-.9zM341.7 206.8h.9v.9h-.9zM342.0 205.4h.9v.9h-.9zM339.7 205.6h.9v.9h-.9zM338.5 203.6h.9v.9h-.9zM338.9 203.5h.9v.9h-.9zM338.0 202.5h.9v.9h-.9zM337.6 202.0h.9v.9h-.9zM335.6 202.8h.9v.9h-.9zM335.4 200.8h.9v.9h-.9zM333.7 201.0h.9v.9h-.9zM332.7 199.1h.9v.9h-.9zM331.0 198.1h.9v.9h-.9zM330.0 198.7h.9v.9h-.9zM328.8 197.4h.9v.9h-.9zM328.6 197.5h.9v.9h-.9zM325.9 197.9h.9v.9h-.9zM326.9 197.3h.9v.9h-.9zM324.8 198.1h.9v.9h-.9zM324.2 195.9h.9v.9h-.9zM322.8 195.6h.9v.9h-.9zM322.6 196.2h.9v.9h-.9zM321.0 193.9h.9v.9h-.9zM321.8 192.8h.9v.9h-.9zM321.9 192.2h.9v.9h-.9zM321.0 190.2h.9v.9h-.9zM321.7 190.9h.9v.9h-.9zM321.6 188.2h.9v.9h-.9zM320.5 189.5h.9v.9h-.9zM321.2 186.3h.9v.9h-.9zM319.9 185.9h.9v.9h-.9zM320.7 185.0h.9v.9h-.9zM320.0 182.9h.9v.9h-.9zM320.3 182.1h.9v.9h-.9zM320.0 181.7h.9v.9h-.9zM319.7 179.6h.9v.9h-.9zM319.0 178.0h.9v.9h-.9zM318.5 176.7h.9v.9h-.9zM319.4 176.2h.9v.9h-.9zM318.3 176.0h.9v.9h-.9zM319.1 174.7h.9v.9h-.9zM318.5 172.8h.9v.9h-.9zM318.3 172.3h.9v.9h-.9zM319.2 171.2h.9v.9h-.9zM319.5 169.8h.9v.9h-.9zM318.6 168.4h.9v.9h-.9z" fill="#b47cae"/>
<path d="M300.2,206.3 C301.0,203.6 303.9,202.2 306.0,200.4 C308.2,198.7 310.3,196.7 313.0,195.8 C315.8,194.8 319.5,194.2 322.4,194.6 C325.3,195.0 327.8,196.7 330.5,198.1 C333.3,199.5 336.2,200.8 338.7,202.8 C341.3,204.7 343.2,207.4 345.7,209.8 C348.3,212.1 352.7,214.5 353.9,216.8 C355.1,219.1 353.7,221.5 352.7,223.8 C351.8,226.1 350.0,228.5 348.1,230.8 C346.1,233.1 343.6,235.9 341.1,237.8 C338.5,239.8 335.4,241.4 332.9,242.5 C330.4,243.6 328.4,244.5 325.9,244.4 C323.3,244.2 320.2,242.8 317.7,241.3 C315.2,239.8 312.8,238.0 310.7,235.5 C308.6,232.9 306.4,229.2 304.9,226.1 C303.3,223.0 302.1,220.1 301.4,216.8 C300.6,213.5 299.4,209.0 300.2,206.3Z" fill="#6a6a6a" />
<path d="M300.6 206.0h.9v.9h-.9zM301.0 205.2h.9v.9h-.9zM301.1 204.0h.9v.9h-.9zM301.0 203.1h.9v.9h-.9zM301.4 201.9h.9v.9h-.9zM302.8 202.3h.9v.9h-.9zM303.5 202.1h.9v.9h-.9zM303.8 202.2h.9v.9h-.9zM305.9 200.5h.9v.9h-.9zM306.5 198.9h.9v.9h-.9zM307.1 199.3h.9v.9h-.9zM309.1 197.7h.9v.9h-.9zM309.8 197.8h.9v.9h-.9zM310.5 197.3h.9v.9h-.9zM311.2 196.6h.9v.9h-.9zM311.4 196.2h.9v.9h-.9zM311.8 194.4h.9v.9h-.9zM312.9 195.7h.9v.9h-.9zM313.8 194.7h.9v.9h-.9zM312.8 194.9h.9v.9h-.9zM314.8 195.5h.9v.9h-.9zM314.4 194.8h.9v.9h-.9zM317.3 194.5h.9v.9h-.9zM318.8 194.3h.9v.9h-.9zM317.9 194.4h.9v.9h-.9zM320.6 193.0h.9v.9h-.9zM319.8 194.8h.9v.9h-.9zM322.0 193.8h.9v.9h-.9zM322.2 193.3h.9v.9h-.9zM323.5 195.1h.9v.9h-.9zM324.6 195.5h.9v.9h-.9zM324.3 194.2h.9v.9h-.9zM326.4 196.0h.9v.9h-.9zM328.0 194.8h.9v.9h-.9zM329.5 196.4h.9v.9h-.9zM331.2 196.7h.9v.9h-.9zM331.2 198.7h.9v.9h-.9zM331.2 197.5h.9v.9h-.9zM332.9 199.1h.9v.9h-.9zM335.1 198.9h.9v.9h-.9zM335.6 200.1h.9v.9h-.9zM336.9 199.6h.9v.9h-.9zM337.0 199.7h.9v.9h-.9zM336.0 201.2h.9v.9h-.9zM338.3 201.1h.9v.9h-.9zM338.2 202.6h.9v.9h-.9zM340.5 203.2h.9v.9h-.9zM340.7 202.8h.9v.9h-.9zM342.1 203.5h.9v.9h-.9zM341.3 204.9h.9v.9h-.9zM342.0 205.7h.9v.9h-.9zM342.6 206.8h.9v.9h-.9zM344.2 206.8h.9v.9h-.9zM345.5 209.9h.9v.9h-.9zM346.5 210.6h.9v.9h-.9zM347.0 210.1h.9v.9h-.9zM347.6 210.9h.9v.9h-.9zM348.9 211.3h.9v.9h-.9zM350.1 211.3h.9v.9h-.9zM349.0 211.9h.9v.9h-.9zM350.8 214.0h.9v.9h-.9zM351.3 212.3h.9v.9h-.9zM352.4 214.6h.9v.9h-.9zM354.2 214.9h.9v.9h-.9zM354.0 217.0h.9v.9h-.9zM354.8 218.3h.9v.9h-.9zM355.6 220.0h.9v.9h-.9zM353.6 220.9h.9v.9h-.9zM354.9 220.7h.9v.9h-.9zM353.0 222.4h.9v.9h-.9zM352.9 223.9h.9v.9h-.9zM352.2 224.4h.9v.9h-.9zM352.9 225.9h.9v.9h-.9zM350.9 226.9h.9v.9h-.9zM352.5 227.5h.9v.9h-.9zM351.1 228.1h.9v.9h-.9zM350.6 229.1h.9v.9h-.9zM349.9 229.3h.9v.9h-.9zM349.4 230.2h.9v.9h-.9zM349.6 230.7h.9v.9h-.9zM347.5 231.2h.9v.9h-.9zM348.0 232.3h.9v.9h-.9zM347.5 234.1h.9v.9h-.9zM347.5 232.9h.9v.9h-.9zM346.8 234.6h.9v.9h-.9zM346.8 234.8h.9v.9h-.9zM344.7 236.7h.9v.9h-.9zM343.9 235.5h.9v.9h-.9zM343.7 237.2h.9v.9h-.9zM341.1 237.6h.9v.9h-.9zM340.8 237.8h.9v.9h-.9zM340.0 239.3h.9v.9h-.9zM338.4 241.0h.9v.9h-.9zM338.1 240.9h.9v.9h-.9zM336.4 240.5h.9v.9h-.9zM334.3 241.6h.9v.9h-.9zM334.1 242.9h.9v.9h-.9zM332.6 244.6h.9v.9h-.9zM331.8 243.2h.9v.9h-.9zM330.8 243.4h.9v.9h-.9zM331.5 243.6h.9v.9h-.9zM330.9 245.0h.9v.9h-.9zM328.8 244.3h.9v.9h-.9zM327.9 245.2h.9v.9h-.9zM326.2 245.8h.9v.9h-.9zM325.6 246.0h.9v.9h-.9zM323.4 244.1h.9v.9h-.9zM323.1 244.1h.9v.9h-.9zM321.8 243.0h.9v.9h-.9zM318.7 243.1h.9v.9h-.9zM318.4 242.0h.9v.9h-.9zM317.3 241.2h.9v.9h-.9zM317.1 240.9h.9v.9h-.9zM315.3 240.3h.9v.9h-.9zM314.5 239.9h.9v.9h-.9zM313.2 238.8h.9v.9h-.9zM311.7 238.6h.9v.9h-.9zM311.0 235.4h.9v.9h-.9zM309.9 234.9h.9v.9h-.9zM308.8 235.6h.9v.9h-.9zM309.7 234.0h.9v.9h-.9zM307.0 232.3h.9v.9h-.9zM308.1 232.0h.9v.9h-.9zM305.6 230.9h.9v.9h-.9zM307.3 230.8h.9v.9h-.9zM305.5 228.1h.9v.9h-.9zM306.1 228.0h.9v.9h-.9zM304.6 227.6h.9v.9h-.9zM305.6 227.2h.9v.9h-.9zM303.4 225.4h.9v.9h-.9zM304.1 223.8h.9v.9h-.9zM303.6 223.3h.9v.9h-.9zM302.8 222.4h.9v.9h-.9zM303.5 223.0h.9v.9h-.9zM301.1 221.3h.9v.9h-.9zM301.9 220.5h.9v.9h-.9zM302.1 220.0h.9v.9h-.9zM302.3 219.1h.9v.9h-.9zM301.1 218.3h.9v.9h-.9zM301.5 218.0h.9v.9h-.9zM301.4 216.2h.9v.9h-.9zM300.4 215.8h.9v.9h-.9zM300.8 213.2h.9v.9h-.9zM300.3 212.7h.9v.9h-.9zM300.2 209.6h.9v.9h-.9zM299.3 210.3h.9v.9h-.9zM299.7 208.9h.9v.9h-.9zM299.8 206.6h.9v.9h-.9zM299.8 207.6h.9v.9h-.9z" fill="#6a6a6a"/>
<path d="M328.5,158.5 C329.1,156.6 330.6,155.4 332.0,155.0 C333.4,154.6 335.1,155.4 336.7,156.2 C338.3,157.0 340.0,158.3 341.4,159.7 C342.8,161.1 344.2,162.7 344.9,164.4 C345.6,166.2 345.9,168.4 345.5,170.2 C345.1,171.9 344.1,174.1 342.6,174.9 C341.1,175.7 338.6,175.3 336.7,174.9 C334.8,174.5 332.3,174.0 330.9,172.6 C329.5,171.2 328.9,169.0 328.5,166.7 C328.1,164.3 327.9,160.4 328.5,158.5Z" fill="#de86cc" />
<path d="M328.5 158.0h.9v.9h-.9zM328.2 157.1h.9v.9h-.9zM329.3 156.6h.9v.9h-.9zM329.8 155.6h.9v.9h-.9zM330.9 155.3h.9v.9h-.9zM331.6 154.2h.9v.9h-.9zM332.2 154.6h.9v.9h-.9zM333.4 154.8h.9v.9h-.9zM333.7 154.5h.9v.9h-.9zM335.1 155.3h.9v.9h-.9zM335.6 155.6h.9v.9h-.9zM337.0 155.3h.9v.9h-.9zM337.5 155.8h.9v.9h-.9zM338.6 156.4h.9v.9h-.9zM339.2 156.4h.9v.9h-.9zM340.5 156.5h.9v.9h-.9zM341.3 157.8h.9v.9h-.9zM342.2 158.0h.9v.9h-.9zM342.1 160.0h.9v.9h-.9zM343.2 159.4h.9v.9h-.9zM343.4 161.4h.9v.9h-.9zM343.6 161.8h.9v.9h-.9zM344.4 163.2h.9v.9h-.9zM345.1 164.2h.9v.9h-.9zM345.8 166.7h.9v.9h-.9zM345.5 170.3h.9v.9h-.9zM345.0 171.6h.9v.9h-.9zM346.3 173.4h.9v.9h-.9zM343.9 173.8h.9v.9h-.9zM341.7 176.3h.9v.9h-.9zM340.0 175.0h.9v.9h-.9zM338.9 176.0h.9v.9h-.9zM338.1 176.5h.9v.9h-.9zM337.3 175.4h.9v.9h-.9zM336.3 175.7h.9v.9h-.9zM335.1 174.2h.9v.9h-.9zM333.9 174.0h.9v.9h-.9zM332.7 174.3h.9v.9h-.9zM332.1 174.5h.9v.9h-.9zM330.9 173.2h.9v.9h-.9zM329.4 173.7h.9v.9h-.9zM330.0 171.0h.9v.9h-.9zM328.7 171.0h.9v.9h-.9zM327.6 170.1h.9v.9h-.9zM327.9 168.7h.9v.9h-.9zM328.4 166.8h.9v.9h-.9zM328.7 166.5h.9v.9h-.9zM328.5 165.9h.9v.9h-.9zM327.3 165.2h.9v.9h-.9zM328.4 162.9h.9v.9h-.9zM327.6 163.9h.9v.9h-.9zM327.6 161.4h.9v.9h-.9zM327.4 159.8h.9v.9h-.9zM327.8 159.8h.9v.9h-.9zM327.3 159.4h.9v.9h-.9z" fill="#de86cc"/>
<path d="M325.6 167.5h1.0v1.0h-1.0zM319.1 168.7h1.0v1.0h-1.0zM325.2 165.2h1.0v1.0h-1.0zM330.5 160.7h1.0v1.0h-1.0zM321.4 179.9h1.0v1.0h-1.0zM320.5 176.4h1.0v1.0h-1.0zM321.2 165.9h1.0v1.0h-1.0zM324.8 160.6h1.0v1.0h-1.0zM333.0 157.7h1.0v1.0h-1.0zM328.7 161.0h1.0v1.0h-1.0zM323.6 154.5h1.0v1.0h-1.0zM323.4 177.3h1.0v1.0h-1.0zM322.0 158.5h1.0v1.0h-1.0zM328.0 156.0h1.0v1.0h-1.0zM324.1 160.0h1.0v1.0h-1.0zM324.3 181.5h1.0v1.0h-1.0zM321.7 167.2h1.0v1.0h-1.0zM326.1 173.9h1.0v1.0h-1.0zM322.3 173.2h1.0v1.0h-1.0zM323.9 179.9h1.0v1.0h-1.0zM326.4 176.5h1.0v1.0h-1.0zM323.3 157.3h1.0v1.0h-1.0zM322.9 163.2h1.0v1.0h-1.0zM325.8 168.3h1.0v1.0h-1.0zM329.0 154.6h1.0v1.0h-1.0zM318.6 176.1h1.0v1.0h-1.0zM322.5 166.8h1.0v1.0h-1.0zM326.8 166.3h1.0v1.0h-1.0zM326.6 170.9h1.0v1.0h-1.0zM318.1 171.1h1.0v1.0h-1.0zM330.3 160.8h1.0v1.0h-1.0zM329.2 161.7h1.0v1.0h-1.0zM325.8 160.5h1.0v1.0h-1.0zM321.8 170.8h1.0v1.0h-1.0zM329.7 158.3h1.0v1.0h-1.0zM317.5 160.0h1.0v1.0h-1.0zM327.8 165.7h1.0v1.0h-1.0zM322.9 171.9h1.0v1.0h-1.0zM318.9 172.6h1.0v1.0h-1.0zM328.0 160.2h1.0v1.0h-1.0zM328.4 157.0h1.0v1.0h-1.0zM320.2 176.6h1.0v1.0h-1.0zM327.4 164.9h1.0v1.0h-1.0zM328.6 159.6h1.0v1.0h-1.0zM319.7 160.5h1.0v1.0h-1.0zM325.2 157.2h1.0v1.0h-1.0zM320.6 176.6h1.0v1.0h-1.0zM323.7 175.9h1.0v1.0h-1.0zM321.0 168.2h1.0v1.0h-1.0zM320.1 152.9h1.0v1.0h-1.0zM321.6 183.3h1.0v1.0h-1.0zM323.0 170.3h1.0v1.0h-1.0zM318.8 166.0h1.0v1.0h-1.0zM320.5 154.1h1.0v1.0h-1.0zM318.6 173.9h1.0v1.0h-1.0zM326.2 164.6h1.0v1.0h-1.0zM329.2 159.7h1.0v1.0h-1.0zM327.3 166.2h1.0v1.0h-1.0zM318.8 178.1h1.0v1.0h-1.0zM319.6 178.9h1.0v1.0h-1.0zM324.5 159.2h1.0v1.0h-1.0zM318.8 175.4h1.0v1.0h-1.0zM323.0 171.0h1.0v1.0h-1.0zM322.9 161.2h1.0v1.0h-1.0zM319.2 177.6h1.0v1.0h-1.0zM324.1 157.4h1.0v1.0h-1.0zM332.1 157.5h1.0v1.0h-1.0zM320.4 157.6h1.0v1.0h-1.0zM323.9 166.9h1.0v1.0h-1.0zM318.0 161.1h1.0v1.0h-1.0zM333.0 157.0h1.0v1.0h-1.0zM323.9 180.0h1.0v1.0h-1.0zM321.9 160.5h1.0v1.0h-1.0zM326.2 159.4h1.0v1.0h-1.0zM321.0 173.4h1.0v1.0h-1.0zM319.4 178.4h1.0v1.0h-1.0zM318.6 171.3h1.0v1.0h-1.0zM321.6 155.9h1.0v1.0h-1.0zM321.2 160.6h1.0v1.0h-1.0zM322.7 171.8h1.0v1.0h-1.0zM320.3 167.8h1.0v1.0h-1.0zM326.8 162.5h1.0v1.0h-1.0zM327.2 170.3h1.0v1.0h-1.0zM317.1 156.3h1.0v1.0h-1.0zM323.8 157.3h1.0v1.0h-1.0zM326.2 172.0h1.0v1.0h-1.0zM324.2 157.7h1.0v1.0h-1.0zM325.0 176.0h1.0v1.0h-1.0zM323.0 153.0h1.0v1.0h-1.0zM324.0 170.3h1.0v1.0h-1.0zM330.3 160.1h1.0v1.0h-1.0zM319.7 180.6h1.0v1.0h-1.0zM326.5 156.9h1.0v1.0h-1.0zM325.7 178.0h1.0v1.0h-1.0zM320.3 184.0h1.0v1.0h-1.0zM317.3 157.3h1.0v1.0h-1.0zM319.9 153.9h1.0v1.0h-1.0zM326.0 164.0h1.0v1.0h-1.0zM323.5 165.5h1.0v1.0h-1.0zM321.4 182.6h1.0v1.0h-1.0zM320.9 162.3h1.0v1.0h-1.0zM319.8 175.6h1.0v1.0h-1.0zM328.8 164.5h1.0v1.0h-1.0zM318.4 172.1h1.0v1.0h-1.0zM322.4 170.6h1.0v1.0h-1.0zM332.0 155.3h1.0v1.0h-1.0zM320.3 166.5h1.0v1.0h-1.0zM331.4 162.6h1.0v1.0h-1.0zM333.6 155.4h1.0v1.0h-1.0zM332.7 154.3h1.0v1.0h-1.0zM322.6 184.0h1.0v1.0h-1.0zM320.2 165.4h1.0v1.0h-1.0zM324.4 157.9h1.0v1.0h-1.0zM321.3 181.4h1.0v1.0h-1.0zM321.0 182.1h1.0v1.0h-1.0zM321.4 183.4h1.0v1.0h-1.0zM324.3 164.6h1.0v1.0h-1.0zM328.6 161.9h1.0v1.0h-1.0zM318.2 158.4h1.0v1.0h-1.0zM321.0 158.7h1.0v1.0h-1.0zM326.6 162.8h1.0v1.0h-1.0zM320.2 181.4h1.0v1.0h-1.0zM323.0 152.5h1.0v1.0h-1.0zM327.5 170.3h1.0v1.0h-1.0zM320.2 180.2h1.0v1.0h-1.0zM322.9 170.4h1.0v1.0h-1.0zM323.8 178.4h1.0v1.0h-1.0zM319.3 159.9h1.0v1.0h-1.0zM324.5 170.4h1.0v1.0h-1.0zM332.2 155.6h1.0v1.0h-1.0zM325.7 172.2h1.0v1.0h-1.0zM322.4 173.9h1.0v1.0h-1.0zM328.5 165.1h1.0v1.0h-1.0zM329.3 164.0h1.0v1.0h-1.0zM320.5 155.7h1.0v1.0h-1.0zM326.3 158.0h1.0v1.0h-1.0zM321.4 162.2h1.0v1.0h-1.0zM323.0 166.2h1.0v1.0h-1.0zM326.2 165.7h1.0v1.0h-1.0zM325.7 169.4h1.0v1.0h-1.0zM322.6 158.5h1.0v1.0h-1.0zM320.1 155.3h1.0v1.0h-1.0zM321.4 153.7h1.0v1.0h-1.0zM323.8 171.4h1.0v1.0h-1.0zM318.4 177.4h1.0v1.0h-1.0zM324.5 173.0h1.0v1.0h-1.0zM324.1 178.7h1.0v1.0h-1.0zM328.6 156.4h1.0v1.0h-1.0zM326.2 161.2h1.0v1.0h-1.0zM329.8 164.7h1.0v1.0h-1.0zM320.3 153.5h1.0v1.0h-1.0zM320.8 183.2h1.0v1.0h-1.0zM317.2 166.0h1.0v1.0h-1.0zM324.1 174.9h1.0v1.0h-1.0zM322.1 155.2h1.0v1.0h-1.0zM321.2 172.9h1.0v1.0h-1.0zM332.5 155.7h1.0v1.0h-1.0zM321.1 181.8h1.0v1.0h-1.0zM326.9 165.6h1.0v1.0h-1.0zM317.6 154.2h1.0v1.0h-1.0zM320.2 172.8h1.0v1.0h-1.0zM317.3 169.0h1.0v1.0h-1.0zM321.5 166.1h1.0v1.0h-1.0zM328.6 166.8h1.0v1.0h-1.0zM322.4 173.1h1.0v1.0h-1.0zM325.9 171.8h1.0v1.0h-1.0zM328.3 168.4h1.0v1.0h-1.0zM325.2 174.4h1.0v1.0h-1.0zM321.8 168.8h1.0v1.0h-1.0zM326.3 162.5h1.0v1.0h-1.0zM319.5 166.2h1.0v1.0h-1.0zM324.0 166.7h1.0v1.0h-1.0zM320.9 168.3h1.0v1.0h-1.0zM326.7 155.8h1.0v1.0h-1.0zM319.8 160.6h1.0v1.0h-1.0zM317.0 168.0h1.0v1.0h-1.0zM328.5 166.0h1.0v1.0h-1.0zM327.0 172.4h1.0v1.0h-1.0zM329.1 167.1h1.0v1.0h-1.0zM321.0 156.8h1.0v1.0h-1.0zM323.4 155.2h1.0v1.0h-1.0zM321.3 175.8h1.0v1.0h-1.0zM316.7 159.2h1.0v1.0h-1.0zM317.8 161.9h1.0v1.0h-1.0zM323.4 168.3h1.0v1.0h-1.0zM325.9 161.1h1.0v1.0h-1.0zM328.3 154.3h1.0v1.0h-1.0zM321.9 171.7h1.0v1.0h-1.0zM323.8 159.6h1.0v1.0h-1.0zM328.4 162.3h1.0v1.0h-1.0zM318.9 173.2h1.0v1.0h-1.0zM320.5 182.4h1.0v1.0h-1.0zM323.2 169.2h1.0v1.0h-1.0zM322.1 164.0h1.0v1.0h-1.0zM325.1 174.3h1.0v1.0h-1.0zM321.4 164.3h1.0v1.0h-1.0zM328.8 157.8h1.0v1.0h-1.0zM320.9 158.8h1.0v1.0h-1.0zM325.4 177.1h1.0v1.0h-1.0zM328.7 167.0h1.0v1.0h-1.0z" fill="#b47cae"/>
<path d="M318.1 191.1h1.0v1.0h-1.0zM333.7 195.2h1.0v1.0h-1.0zM314.3 193.4h1.0v1.0h-1.0zM328.2 185.2h1.0v1.0h-1.0zM325.1 187.4h1.0v1.0h-1.0zM330.7 194.3h1.0v1.0h-1.0zM320.6 194.2h1.0v1.0h-1.0zM333.5 192.0h1.0v1.0h-1.0zM321.2 194.4h1.0v1.0h-1.0zM330.5 175.4h1.0v1.0h-1.0zM330.3 182.1h1.0v1.0h-1.0zM332.9 190.6h1.0v1.0h-1.0zM316.1 193.4h1.0v1.0h-1.0zM312.4 195.1h1.0v1.0h-1.0zM326.2 194.1h1.0v1.0h-1.0zM329.1 185.6h1.0v1.0h-1.0zM325.7 188.5h1.0v1.0h-1.0zM332.5 195.6h1.0v1.0h-1.0zM322.9 183.7h1.0v1.0h-1.0zM329.5 190.8h1.0v1.0h-1.0zM335.8 180.4h1.0v1.0h-1.0zM330.7 193.9h1.0v1.0h-1.0zM328.0 189.3h1.0v1.0h-1.0zM314.5 191.5h1.0v1.0h-1.0zM325.5 199.7h1.0v1.0h-1.0zM323.2 182.6h1.0v1.0h-1.0zM336.0 190.1h1.0v1.0h-1.0zM317.6 190.8h1.0v1.0h-1.0zM335.3 185.6h1.0v1.0h-1.0zM332.6 178.6h1.0v1.0h-1.0zM332.6 189.4h1.0v1.0h-1.0zM329.0 181.4h1.0v1.0h-1.0zM321.2 200.3h1.0v1.0h-1.0zM321.4 183.8h1.0v1.0h-1.0zM321.8 190.6h1.0v1.0h-1.0zM317.7 191.3h1.0v1.0h-1.0zM332.0 184.0h1.0v1.0h-1.0zM332.8 176.5h1.0v1.0h-1.0zM318.3 187.7h1.0v1.0h-1.0zM328.4 181.8h1.0v1.0h-1.0zM318.4 192.9h1.0v1.0h-1.0zM322.2 184.9h1.0v1.0h-1.0zM329.4 187.4h1.0v1.0h-1.0zM322.7 191.4h1.0v1.0h-1.0zM320.2 200.2h1.0v1.0h-1.0zM325.0 192.1h1.0v1.0h-1.0zM330.4 187.5h1.0v1.0h-1.0zM336.0 179.9h1.0v1.0h-1.0zM310.0 195.3h1.0v1.0h-1.0zM312.1 192.4h1.0v1.0h-1.0zM334.8 187.1h1.0v1.0h-1.0zM321.1 199.9h1.0v1.0h-1.0zM332.1 178.9h1.0v1.0h-1.0zM329.5 183.4h1.0v1.0h-1.0zM335.0 183.2h1.0v1.0h-1.0zM324.7 195.4h1.0v1.0h-1.0zM328.6 177.0h1.0v1.0h-1.0zM333.9 181.8h1.0v1.0h-1.0zM333.6 190.6h1.0v1.0h-1.0zM329.2 187.9h1.0v1.0h-1.0zM317.6 198.1h1.0v1.0h-1.0zM327.2 194.7h1.0v1.0h-1.0zM331.6 187.4h1.0v1.0h-1.0zM337.3 180.3h1.0v1.0h-1.0zM319.0 191.3h1.0v1.0h-1.0zM318.6 190.4h1.0v1.0h-1.0zM334.3 177.8h1.0v1.0h-1.0zM325.3 191.0h1.0v1.0h-1.0zM317.3 188.9h1.0v1.0h-1.0zM315.0 190.6h1.0v1.0h-1.0zM331.9 196.3h1.0v1.0h-1.0zM338.3 185.4h1.0v1.0h-1.0zM324.4 182.5h1.0v1.0h-1.0zM330.8 181.7h1.0v1.0h-1.0zM325.9 180.1h1.0v1.0h-1.0zM329.9 186.5h1.0v1.0h-1.0zM336.1 174.9h1.0v1.0h-1.0zM319.4 191.4h1.0v1.0h-1.0zM307.6 198.7h1.0v1.0h-1.0zM313.1 199.6h1.0v1.0h-1.0zM320.6 189.1h1.0v1.0h-1.0zM322.9 193.6h1.0v1.0h-1.0zM332.2 193.2h1.0v1.0h-1.0zM328.7 176.2h1.0v1.0h-1.0zM319.8 186.9h1.0v1.0h-1.0zM337.6 190.0h1.0v1.0h-1.0zM330.4 189.6h1.0v1.0h-1.0zM324.9 197.1h1.0v1.0h-1.0zM319.3 198.4h1.0v1.0h-1.0zM330.4 176.8h1.0v1.0h-1.0zM330.0 179.0h1.0v1.0h-1.0zM332.8 174.7h1.0v1.0h-1.0zM315.9 195.1h1.0v1.0h-1.0zM325.4 179.5h1.0v1.0h-1.0zM328.9 184.2h1.0v1.0h-1.0zM311.0 196.5h1.0v1.0h-1.0zM329.9 179.4h1.0v1.0h-1.0zM320.4 191.8h1.0v1.0h-1.0zM323.6 199.3h1.0v1.0h-1.0zM322.2 200.2h1.0v1.0h-1.0zM327.4 176.5h1.0v1.0h-1.0zM322.7 200.5h1.0v1.0h-1.0zM338.0 182.9h1.0v1.0h-1.0zM335.8 191.9h1.0v1.0h-1.0zM308.8 197.9h1.0v1.0h-1.0zM315.3 200.1h1.0v1.0h-1.0zM310.7 197.9h1.0v1.0h-1.0zM323.2 187.1h1.0v1.0h-1.0zM331.2 188.2h1.0v1.0h-1.0zM338.5 187.6h1.0v1.0h-1.0zM336.0 176.3h1.0v1.0h-1.0zM330.5 189.4h1.0v1.0h-1.0zM335.3 182.0h1.0v1.0h-1.0zM321.5 195.4h1.0v1.0h-1.0zM334.1 190.8h1.0v1.0h-1.0zM331.4 184.2h1.0v1.0h-1.0zM310.9 196.2h1.0v1.0h-1.0zM328.4 177.1h1.0v1.0h-1.0zM320.2 200.5h1.0v1.0h-1.0zM315.4 190.0h1.0v1.0h-1.0zM308.6 196.9h1.0v1.0h-1.0zM322.8 196.2h1.0v1.0h-1.0zM335.7 176.7h1.0v1.0h-1.0zM328.5 195.2h1.0v1.0h-1.0zM321.1 189.0h1.0v1.0h-1.0zM317.3 195.6h1.0v1.0h-1.0zM329.4 176.6h1.0v1.0h-1.0zM322.2 191.0h1.0v1.0h-1.0zM330.4 181.7h1.0v1.0h-1.0zM336.3 188.1h1.0v1.0h-1.0zM326.7 194.1h1.0v1.0h-1.0zM332.8 176.6h1.0v1.0h-1.0zM315.0 192.6h1.0v1.0h-1.0zM325.4 196.8h1.0v1.0h-1.0zM331.7 181.9h1.0v1.0h-1.0zM327.8 190.4h1.0v1.0h-1.0zM335.7 192.4h1.0v1.0h-1.0zM336.1 189.8h1.0v1.0h-1.0zM327.5 197.5h1.0v1.0h-1.0zM330.8 190.4h1.0v1.0h-1.0zM329.8 196.4h1.0v1.0h-1.0zM320.8 196.2h1.0v1.0h-1.0zM331.1 176.3h1.0v1.0h-1.0zM330.8 179.6h1.0v1.0h-1.0zM335.5 184.2h1.0v1.0h-1.0zM310.9 197.3h1.0v1.0h-1.0zM334.5 184.4h1.0v1.0h-1.0zM334.5 193.0h1.0v1.0h-1.0zM324.9 187.0h1.0v1.0h-1.0zM329.8 189.5h1.0v1.0h-1.0zM338.2 177.7h1.0v1.0h-1.0zM320.9 196.4h1.0v1.0h-1.0zM325.3 199.8h1.0v1.0h-1.0zM314.3 196.4h1.0v1.0h-1.0zM327.9 198.4h1.0v1.0h-1.0zM316.2 191.2h1.0v1.0h-1.0zM329.2 196.2h1.0v1.0h-1.0zM327.1 188.1h1.0v1.0h-1.0zM314.2 196.2h1.0v1.0h-1.0zM312.3 194.1h1.0v1.0h-1.0z" fill="#6a6a6a"/>
<path d="M334.5,145.5 C335.0,143.0 336.5,139.6 337.6,137.8 C338.6,136.1 340.0,134.9 341.1,135.0 C342.1,135.2 342.8,136.8 343.9,138.5 C345.0,140.3 346.0,143.0 347.6,145.5 C349.2,148.1 351.5,151.0 353.2,153.7 C354.9,156.4 356.6,159.2 357.9,161.9 C359.2,164.6 360.4,167.2 361.1,170.1 C361.9,173.0 362.6,177.0 362.5,179.4 C362.5,181.8 361.8,184.2 360.7,184.6 C359.5,184.9 357.3,182.8 355.5,181.3 C353.8,179.7 352.2,177.4 350.4,175.2 C348.6,173.0 346.7,170.5 344.8,168.2 C342.9,165.9 340.9,163.7 339.2,161.2 C337.5,158.7 335.3,155.9 334.5,153.3 C333.7,150.6 334.0,148.1 334.5,145.5Z" fill="#27baf2" />
<path d="M332.9 144.7h.9v.9h-.9zM335.1 143.4h.9v.9h-.9zM334.5 142.4h.9v.9h-.9zM333.8 141.8h.9v.9h-.9zM336.5 140.6h.9v.9h-.9zM335.3 138.6h.9v.9h-.9zM337.1 139.3h.9v.9h-.9zM337.3 138.5h.9v.9h-.9zM337.8 137.2h.9v.9h-.9zM338.8 136.3h.9v.9h-.9zM340.5 133.2h.9v.9h-.9zM342.4 134.9h.9v.9h-.9zM343.1 134.9h.9v.9h-.9zM342.6 136.6h.9v.9h-.9zM343.9 138.5h.9v.9h-.9zM343.9 139.2h.9v.9h-.9zM344.9 140.3h.9v.9h-.9zM346.6 141.1h.9v.9h-.9zM347.2 141.2h.9v.9h-.9zM345.7 142.7h.9v.9h-.9zM346.5 144.0h.9v.9h-.9zM347.4 143.8h.9v.9h-.9zM346.8 144.4h.9v.9h-.9zM347.5 145.6h.9v.9h-.9zM348.2 145.3h.9v.9h-.9zM349.4 147.7h.9v.9h-.9zM351.7 148.4h.9v.9h-.9zM349.7 148.4h.9v.9h-.9zM352.0 149.0h.9v.9h-.9zM351.3 149.6h.9v.9h-.9zM352.0 152.0h.9v.9h-.9zM354.1 152.6h.9v.9h-.9zM353.3 154.0h.9v.9h-.9zM355.5 155.5h.9v.9h-.9zM354.7 156.2h.9v.9h-.9zM355.0 156.4h.9v.9h-.9zM357.0 157.6h.9v.9h-.9zM356.1 158.0h.9v.9h-.9zM357.4 159.1h.9v.9h-.9zM356.5 159.9h.9v.9h-.9zM358.8 160.8h.9v.9h-.9zM359.2 162.7h.9v.9h-.9zM359.6 162.4h.9v.9h-.9zM358.7 164.0h.9v.9h-.9zM359.0 164.8h.9v.9h-.9zM360.4 166.1h.9v.9h-.9zM361.8 167.1h.9v.9h-.9zM360.5 168.5h.9v.9h-.9zM360.5 169.0h.9v.9h-.9zM360.9 170.5h.9v.9h-.9zM363.2 172.6h.9v.9h-.9zM361.6 173.4h.9v.9h-.9zM362.3 174.7h.9v.9h-.9zM362.8 176.0h.9v.9h-.9zM362.2 176.8h.9v.9h-.9zM362.3 179.3h.9v.9h-.9zM362.5 180.0h.9v.9h-.9zM362.3 181.2h.9v.9h-.9zM363.4 182.5h.9v.9h-.9zM361.8 184.5h.9v.9h-.9zM360.1 186.4h.9v.9h-.9zM359.5 184.7h.9v.9h-.9zM358.4 184.3h.9v.9h-.9zM357.4 183.1h.9v.9h-.9zM357.3 182.7h.9v.9h-.9zM355.2 181.7h.9v.9h-.9zM354.8 181.2h.9v.9h-.9zM353.8 179.8h.9v.9h-.9zM352.1 179.7h.9v.9h-.9zM352.4 178.1h.9v.9h-.9zM352.1 177.8h.9v.9h-.9zM351.7 176.9h.9v.9h-.9zM350.5 175.5h.9v.9h-.9zM350.3 174.7h.9v.9h-.9zM348.0 173.8h.9v.9h-.9zM349.1 173.3h.9v.9h-.9zM346.9 172.7h.9v.9h-.9zM347.2 170.9h.9v.9h-.9zM346.1 169.4h.9v.9h-.9zM344.6 169.5h.9v.9h-.9zM342.7 168.3h.9v.9h-.9zM344.6 167.9h.9v.9h-.9zM343.7 166.5h.9v.9h-.9zM342.0 165.5h.9v.9h-.9zM341.6 166.9h.9v.9h-.9zM341.3 163.8h.9v.9h-.9zM340.5 163.8h.9v.9h-.9zM338.8 162.3h.9v.9h-.9zM338.7 161.3h.9v.9h-.9zM337.8 159.4h.9v.9h-.9zM336.4 159.0h.9v.9h-.9zM335.3 156.7h.9v.9h-.9zM336.2 156.5h.9v.9h-.9zM335.0 155.4h.9v.9h-.9zM335.4 155.6h.9v.9h-.9zM333.6 154.5h.9v.9h-.9zM334.3 154.6h.9v.9h-.9zM334.4 153.0h.9v.9h-.9zM333.9 151.2h.9v.9h-.9zM332.6 150.5h.9v.9h-.9zM332.8 150.1h.9v.9h-.9zM332.5 149.0h.9v.9h-.9zM333.8 147.1h.9v.9h-.9zM333.5 145.4h.9v.9h-.9z" fill="#27baf2"/>
<path d="M336.9,140.9 C336.7,139.5 338.3,136.6 339.2,136.2 C340.1,135.8 341.6,137.4 342.2,138.5 C342.8,139.7 343.3,142.2 342.9,143.2 C342.5,144.2 340.9,144.8 339.9,144.4 C338.9,144.0 337.0,142.2 336.9,140.9Z" fill="#2a86e6" />
<path d="M336.9 140.6h.9v.9h-.9zM335.7 138.9h.9v.9h-.9zM335.8 138.0h.9v.9h-.9zM337.9 138.1h.9v.9h-.9zM338.2 136.9h.9v.9h-.9zM338.7 136.5h.9v.9h-.9zM341.2 136.1h.9v.9h-.9zM341.6 137.0h.9v.9h-.9zM342.5 139.1h.9v.9h-.9zM343.2 140.5h.9v.9h-.9zM344.0 142.3h.9v.9h-.9zM344.4 142.9h.9v.9h-.9zM341.3 144.1h.9v.9h-.9zM340.9 144.2h.9v.9h-.9zM339.4 143.9h.9v.9h-.9zM337.1 144.6h.9v.9h-.9zM336.8 142.9h.9v.9h-.9zM337.6 142.2h.9v.9h-.9zM336.9 141.1h.9v.9h-.9z" fill="#2a86e6"/>
<path d="M345.7,174.7 C346.4,173.8 348.8,172.6 350.4,173.6 C352.0,174.5 353.3,178.1 355.1,180.6 C356.8,183.1 359.5,186.0 360.9,188.8 C362.3,191.5 363.2,195.4 363.2,196.9 C363.2,198.5 362.1,199.1 360.9,198.1 C359.7,197.1 358.0,193.4 356.2,191.1 C354.5,188.8 352.1,186.0 350.4,184.1 C348.7,182.1 347.0,181.0 346.2,179.4 C345.4,177.9 345.0,175.7 345.7,174.7Z" fill="#8a8a1e" />
<path d="M346.9 173.9h.9v.9h-.9zM347.4 173.7h.9v.9h-.9zM348.0 171.7h.9v.9h-.9zM348.9 173.4h.9v.9h-.9zM349.8 173.1h.9v.9h-.9zM350.9 174.1h.9v.9h-.9zM351.3 174.8h.9v.9h-.9zM351.7 175.5h.9v.9h-.9zM353.0 176.4h.9v.9h-.9zM354.0 177.4h.9v.9h-.9zM354.0 178.3h.9v.9h-.9zM354.1 179.4h.9v.9h-.9zM355.3 180.8h.9v.9h-.9zM356.6 182.8h.9v.9h-.9zM358.1 183.9h.9v.9h-.9zM358.8 183.5h.9v.9h-.9zM358.1 185.1h.9v.9h-.9zM359.0 185.5h.9v.9h-.9zM359.1 186.2h.9v.9h-.9zM361.7 187.3h.9v.9h-.9zM360.7 188.6h.9v.9h-.9zM361.4 190.1h.9v.9h-.9zM362.4 191.5h.9v.9h-.9zM363.4 190.3h.9v.9h-.9zM363.5 192.9h.9v.9h-.9zM362.0 192.2h.9v.9h-.9zM363.4 194.5h.9v.9h-.9zM363.1 195.9h.9v.9h-.9zM363.1 195.9h.9v.9h-.9zM365.1 196.1h.9v.9h-.9zM363.6 197.2h.9v.9h-.9zM364.3 198.7h.9v.9h-.9zM361.4 199.2h.9v.9h-.9zM361.1 198.8h.9v.9h-.9zM359.6 198.5h.9v.9h-.9zM359.2 197.5h.9v.9h-.9zM358.8 196.1h.9v.9h-.9zM357.7 196.1h.9v.9h-.9zM357.7 195.1h.9v.9h-.9zM357.1 195.1h.9v.9h-.9zM357.6 193.1h.9v.9h-.9zM356.7 191.3h.9v.9h-.9zM357.2 192.1h.9v.9h-.9zM355.4 190.2h.9v.9h-.9zM354.2 189.6h.9v.9h-.9zM354.0 188.4h.9v.9h-.9zM352.3 186.6h.9v.9h-.9zM351.8 185.6h.9v.9h-.9zM351.3 186.5h.9v.9h-.9zM350.6 184.0h.9v.9h-.9zM351.2 184.7h.9v.9h-.9zM349.3 184.4h.9v.9h-.9zM349.2 182.6h.9v.9h-.9zM348.6 182.2h.9v.9h-.9zM347.7 181.1h.9v.9h-.9zM346.1 180.7h.9v.9h-.9zM346.5 179.9h.9v.9h-.9zM345.4 179.7h.9v.9h-.9zM345.9 178.0h.9v.9h-.9zM345.1 176.7h.9v.9h-.9zM345.4 175.6h.9v.9h-.9zM345.4 174.6h.9v.9h-.9z" fill="#8a8a1e"/>
<path d="M362.1,137.4 C362.7,133.7 362.1,127.4 363.2,124.5 C364.4,121.6 366.2,121.1 369.1,119.9 C372.0,118.6 377.3,117.4 380.8,116.8 C384.3,116.2 387.6,115.6 390.1,116.4 C392.6,117.1 394.6,118.3 395.9,121.0 C397.3,123.7 398.3,128.8 398.3,132.7 C398.3,136.6 396.5,141.1 395.9,144.4 C395.4,147.7 396.5,151.6 394.8,152.6 C393.0,153.5 388.4,149.8 385.4,150.2 C382.5,150.6 380.0,153.1 377.3,154.9 C374.5,156.7 371.4,160.6 369.1,161.2 C366.8,161.8 364.9,160.8 363.2,158.4 C361.6,156.0 359.5,150.2 359.3,146.7 C359.1,143.2 361.4,141.1 362.1,137.4Z" fill="#9b9b9b" />
<path d="M360.8 135.8h.9v.9h-.9zM360.6 135.8h.9v.9h-.9zM362.5 133.1h.9v.9h-.9zM362.5 133.8h.9v.9h-.9zM360.7 132.2h.9v.9h-.9zM362.4 132.3h.9v.9h-.9zM361.5 128.3h.9v.9h-.9zM361.2 129.8h.9v.9h-.9zM362.8 130.5h.9v.9h-.9zM362.7 127.6h.9v.9h-.9zM361.6 125.1h.9v.9h-.9zM362.9 125.4h.9v.9h-.9zM363.0 124.3h.9v.9h-.9zM363.3 121.3h.9v.9h-.9zM363.7 123.0h.9v.9h-.9zM364.9 122.4h.9v.9h-.9zM365.1 120.6h.9v.9h-.9zM367.8 120.7h.9v.9h-.9zM368.9 120.1h.9v.9h-.9zM367.1 118.7h.9v.9h-.9zM369.3 119.9h.9v.9h-.9zM370.2 119.6h.9v.9h-.9zM371.1 119.4h.9v.9h-.9zM371.5 118.4h.9v.9h-.9zM372.6 118.5h.9v.9h-.9zM372.6 118.1h.9v.9h-.9zM375.0 116.2h.9v.9h-.9zM375.9 116.9h.9v.9h-.9zM377.1 116.6h.9v.9h-.9zM378.9 117.4h.9v.9h-.9zM379.6 117.2h.9v.9h-.9zM379.9 115.6h.9v.9h-.9zM381.0 116.3h.9v.9h-.9zM383.1 114.6h.9v.9h-.9zM384.9 116.3h.9v.9h-.9zM386.6 114.3h.9v.9h-.9zM388.2 115.1h.9v.9h-.9zM390.1 116.3h.9v.9h-.9zM389.3 114.6h.9v.9h-.9zM391.1 116.9h.9v.9h-.9zM391.4 117.0h.9v.9h-.9zM392.9 117.3h.9v.9h-.9zM394.5 118.5h.9v.9h-.9zM394.9 119.1h.9v.9h-.9zM395.2 119.8h.9v.9h-.9zM397.3 121.9h.9v.9h-.9zM396.4 121.6h.9v.9h-.9zM398.5 122.5h.9v.9h-.9zM397.8 125.1h.9v.9h-.9zM397.4 125.4h.9v.9h-.9zM399.3 127.1h.9v.9h-.9zM397.9 128.3h.9v.9h-.9zM399.8 128.8h.9v.9h-.9zM398.4 128.8h.9v.9h-.9zM398.6 131.6h.9v.9h-.9zM398.7 133.0h.9v.9h-.9zM397.8 135.3h.9v.9h-.9zM398.1 135.4h.9v.9h-.9zM397.4 137.9h.9v.9h-.9zM396.7 140.1h.9v.9h-.9zM397.8 139.9h.9v.9h-.9zM397.8 142.4h.9v.9h-.9zM396.4 142.0h.9v.9h-.9zM396.4 144.0h.9v.9h-.9zM395.7 144.2h.9v.9h-.9zM396.4 145.0h.9v.9h-.9zM395.6 145.7h.9v.9h-.9zM395.5 146.1h.9v.9h-.9zM395.7 147.7h.9v.9h-.9zM397.4 147.9h.9v.9h-.9zM395.7 150.5h.9v.9h-.9zM396.3 151.2h.9v.9h-.9zM395.5 152.7h.9v.9h-.9zM393.7 152.4h.9v.9h-.9zM392.2 154.2h.9v.9h-.9zM391.2 153.7h.9v.9h-.9zM391.2 152.5h.9v.9h-.9zM388.9 152.5h.9v.9h-.9zM388.9 151.0h.9v.9h-.9zM388.0 151.6h.9v.9h-.9zM388.3 151.5h.9v.9h-.9zM385.4 151.1h.9v.9h-.9zM384.0 150.3h.9v.9h-.9zM383.0 150.7h.9v.9h-.9zM383.3 150.7h.9v.9h-.9zM382.9 151.9h.9v.9h-.9zM381.8 151.5h.9v.9h-.9zM380.9 153.1h.9v.9h-.9zM380.8 152.1h.9v.9h-.9zM379.8 152.9h.9v.9h-.9zM378.7 155.2h.9v.9h-.9zM377.3 155.5h.9v.9h-.9zM375.3 156.3h.9v.9h-.9zM375.8 156.2h.9v.9h-.9zM373.3 158.2h.9v.9h-.9zM374.7 158.4h.9v.9h-.9zM374.2 159.9h.9v.9h-.9zM371.2 160.0h.9v.9h-.9zM371.0 160.0h.9v.9h-.9zM369.6 162.0h.9v.9h-.9zM368.4 163.0h.9v.9h-.9zM367.3 161.1h.9v.9h-.9zM366.0 161.2h.9v.9h-.9zM365.8 160.5h.9v.9h-.9zM364.7 160.5h.9v.9h-.9zM363.6 158.8h.9v.9h-.9zM363.5 159.6h.9v.9h-.9zM362.6 157.0h.9v.9h-.9zM362.6 157.9h.9v.9h-.9zM362.1 156.7h.9v.9h-.9zM362.1 155.9h.9v.9h-.9zM359.5 154.6h.9v.9h-.9zM361.0 154.1h.9v.9h-.9zM360.3 151.9h.9v.9h-.9zM360.3 152.8h.9v.9h-.9zM358.8 150.3h.9v.9h-.9zM360.0 149.4h.9v.9h-.9zM358.7 147.7h.9v.9h-.9zM359.2 146.3h.9v.9h-.9zM359.1 145.5h.9v.9h-.9zM358.7 144.5h.9v.9h-.9zM358.8 143.1h.9v.9h-.9zM359.5 140.0h.9v.9h-.9zM360.5 140.9h.9v.9h-.9zM361.2 139.5h.9v.9h-.9zM361.0 138.7h.9v.9h-.9z" fill="#9b9b9b"/>
<path d="M357.4,145.5 C358.2,144.0 361.3,140.1 363.2,140.9 C365.2,141.7 368.1,147.3 369.1,150.2 C370.1,153.1 369.7,156.4 369.1,158.4 C368.5,160.3 366.9,162.3 365.6,161.9 C364.2,161.5 362.1,158.0 360.9,156.1 C359.7,154.1 359.2,152.0 358.6,150.2 C358.0,148.5 356.6,147.1 357.4,145.5Z" fill="#5aa4ba" />
<path d="M358.0 144.9h.9v.9h-.9zM358.7 144.0h.9v.9h-.9zM359.3 141.9h.9v.9h-.9zM358.7 142.8h.9v.9h-.9zM359.8 141.4h.9v.9h-.9zM359.6 140.5h.9v.9h-.9zM361.6 140.5h.9v.9h-.9zM362.9 140.0h.9v.9h-.9zM363.7 140.5h.9v.9h-.9zM365.3 143.0h.9v.9h-.9zM365.7 143.7h.9v.9h-.9zM366.1 144.0h.9v.9h-.9zM367.0 146.1h.9v.9h-.9zM366.6 145.5h.9v.9h-.9zM368.1 147.7h.9v.9h-.9zM368.4 147.8h.9v.9h-.9zM368.8 149.7h.9v.9h-.9zM368.7 150.0h.9v.9h-.9zM370.8 149.8h.9v.9h-.9zM371.5 152.7h.9v.9h-.9zM369.4 154.5h.9v.9h-.9zM369.8 155.8h.9v.9h-.9zM369.8 157.1h.9v.9h-.9zM369.3 156.4h.9v.9h-.9zM369.7 158.0h.9v.9h-.9zM368.6 158.8h.9v.9h-.9zM368.2 159.9h.9v.9h-.9zM369.3 161.3h.9v.9h-.9zM367.1 163.5h.9v.9h-.9zM364.6 163.4h.9v.9h-.9zM365.0 161.3h.9v.9h-.9zM362.4 161.3h.9v.9h-.9zM361.9 159.9h.9v.9h-.9zM362.7 159.9h.9v.9h-.9zM360.9 159.1h.9v.9h-.9zM360.3 156.5h.9v.9h-.9zM360.5 156.1h.9v.9h-.9zM359.4 154.8h.9v.9h-.9zM360.1 153.6h.9v.9h-.9zM359.7 152.8h.9v.9h-.9zM357.7 150.5h.9v.9h-.9zM357.2 150.6h.9v.9h-.9zM358.0 148.7h.9v.9h-.9zM357.7 148.1h.9v.9h-.9zM355.4 146.6h.9v.9h-.9zM356.9 145.9h.9v.9h-.9z" fill="#5aa4ba"/>
<path d="M397.1,159.6 C398.7,158.4 401.6,158.2 404.1,158.4 C406.7,158.6 409.8,159.4 412.3,160.7 C414.8,162.1 417.9,164.2 419.3,166.6 C420.7,168.9 420.7,172.2 420.5,174.7 C420.3,177.3 419.5,180.2 418.1,181.8 C416.8,183.3 414.4,184.1 412.3,184.1 C410.2,184.1 407.4,182.9 405.3,181.8 C403.2,180.6 401.2,178.6 399.5,177.1 C397.7,175.5 395.6,174.4 394.8,172.4 C394.0,170.5 394.4,167.5 394.8,165.4 C395.2,163.3 395.6,160.7 397.1,159.6Z" fill="#a5a35a" />
<path d="M396.8 157.9h.9v.9h-.9zM398.9 158.4h.9v.9h-.9zM399.1 158.6h.9v.9h-.9zM400.2 158.2h.9v.9h-.9zM401.9 156.8h.9v.9h-.9zM403.0 157.7h.9v.9h-.9zM403.4 158.6h.9v.9h-.9zM404.9 158.2h.9v.9h-.9zM405.6 157.9h.9v.9h-.9zM407.2 158.3h.9v.9h-.9zM409.7 158.8h.9v.9h-.9zM409.3 158.3h.9v.9h-.9zM410.6 159.8h.9v.9h-.9zM412.2 160.0h.9v.9h-.9zM412.9 160.9h.9v.9h-.9zM414.4 161.6h.9v.9h-.9zM414.1 161.8h.9v.9h-.9zM416.0 163.3h.9v.9h-.9zM416.1 162.5h.9v.9h-.9zM417.2 163.8h.9v.9h-.9zM416.3 163.2h.9v.9h-.9zM419.3 163.9h.9v.9h-.9zM419.1 166.1h.9v.9h-.9zM420.8 166.1h.9v.9h-.9zM419.9 167.0h.9v.9h-.9zM421.9 168.0h.9v.9h-.9zM420.9 169.2h.9v.9h-.9zM422.4 170.8h.9v.9h-.9zM420.7 172.4h.9v.9h-.9zM420.3 173.7h.9v.9h-.9zM420.5 175.7h.9v.9h-.9zM422.3 175.1h.9v.9h-.9zM421.7 176.4h.9v.9h-.9zM422.0 177.1h.9v.9h-.9zM419.6 177.8h.9v.9h-.9zM421.0 179.4h.9v.9h-.9zM418.9 180.8h.9v.9h-.9zM419.7 182.5h.9v.9h-.9zM417.8 182.0h.9v.9h-.9zM417.3 182.5h.9v.9h-.9zM415.6 183.2h.9v.9h-.9zM414.9 183.5h.9v.9h-.9zM414.4 184.9h.9v.9h-.9zM412.4 184.1h.9v.9h-.9zM412.1 183.9h.9v.9h-.9zM410.4 185.7h.9v.9h-.9zM409.2 184.6h.9v.9h-.9zM408.2 184.7h.9v.9h-.9zM407.4 182.6h.9v.9h-.9zM405.2 181.9h.9v.9h-.9zM404.9 181.3h.9v.9h-.9zM403.9 180.8h.9v.9h-.9zM403.0 180.4h.9v.9h-.9zM401.0 180.9h.9v.9h-.9zM400.8 178.1h.9v.9h-.9zM398.4 178.6h.9v.9h-.9zM398.8 176.4h.9v.9h-.9zM398.2 175.7h.9v.9h-.9zM396.9 175.0h.9v.9h-.9zM395.6 175.3h.9v.9h-.9zM395.1 173.3h.9v.9h-.9zM394.3 172.5h.9v.9h-.9zM392.8 170.5h.9v.9h-.9zM393.6 169.6h.9v.9h-.9zM393.8 168.4h.9v.9h-.9zM393.1 167.0h.9v.9h-.9zM393.3 165.5h.9v.9h-.9zM394.9 166.2h.9v.9h-.9zM393.8 164.7h.9v.9h-.9zM394.0 163.0h.9v.9h-.9zM394.9 163.0h.9v.9h-.9zM394.4 160.7h.9v.9h-.9zM395.4 159.9h.9v.9h-.9zM395.5 158.7h.9v.9h-.9z" fill="#a5a35a"/>
<path d="M399.5,178.2 C399.8,177.5 404.1,179.8 406.5,180.6 C408.8,181.4 411.7,181.9 413.5,182.9 C415.2,183.9 416.6,185.3 417.0,186.4 C417.4,187.6 416.8,189.5 415.8,189.9 C414.8,190.3 413.1,189.5 411.1,188.8 C409.2,188.0 406.1,187.0 404.1,185.3 C402.2,183.5 399.1,179.0 399.5,178.2Z" fill="#3598ee" />
<path d="M399.2 176.4h.9v.9h-.9zM400.8 177.7h.9v.9h-.9zM401.3 177.8h.9v.9h-.9zM403.1 177.5h.9v.9h-.9zM403.6 179.6h.9v.9h-.9zM404.4 179.7h.9v.9h-.9zM406.1 178.6h.9v.9h-.9zM407.7 180.5h.9v.9h-.9zM407.8 180.7h.9v.9h-.9zM410.1 181.9h.9v.9h-.9zM410.8 180.0h.9v.9h-.9zM412.4 181.6h.9v.9h-.9zM413.1 182.4h.9v.9h-.9zM413.7 183.4h.9v.9h-.9zM415.4 183.6h.9v.9h-.9zM415.3 184.5h.9v.9h-.9zM415.9 185.2h.9v.9h-.9zM417.1 184.8h.9v.9h-.9zM418.3 186.2h.9v.9h-.9zM418.6 188.6h.9v.9h-.9zM417.8 189.0h.9v.9h-.9zM415.2 191.0h.9v.9h-.9zM413.8 190.2h.9v.9h-.9zM413.2 189.3h.9v.9h-.9zM412.8 189.1h.9v.9h-.9zM411.3 188.6h.9v.9h-.9zM410.4 190.2h.9v.9h-.9zM409.1 188.5h.9v.9h-.9zM407.8 187.3h.9v.9h-.9zM406.4 188.2h.9v.9h-.9zM406.5 188.9h.9v.9h-.9zM405.9 186.3h.9v.9h-.9zM403.5 187.1h.9v.9h-.9zM403.6 186.2h.9v.9h-.9zM403.0 186.0h.9v.9h-.9zM403.6 184.3h.9v.9h-.9zM403.0 184.0h.9v.9h-.9zM400.4 182.3h.9v.9h-.9zM400.2 183.3h.9v.9h-.9zM400.5 181.2h.9v.9h-.9zM398.5 179.8h.9v.9h-.9zM398.9 178.8h.9v.9h-.9z" fill="#3598ee"/>
<path d="M374.9,150.2 C376.1,147.7 380.4,146.3 383.1,145.5 C385.8,144.8 388.9,144.6 391.3,145.5 C393.6,146.5 395.8,148.9 397.1,151.4 C398.5,153.9 399.6,158.0 399.5,160.7 C399.3,163.5 397.9,166.2 395.9,167.7 C394.0,169.3 390.3,170.1 387.8,170.1 C385.2,170.1 382.7,169.3 380.8,167.7 C378.8,166.2 377.1,163.6 376.1,160.7 C375.1,157.8 373.8,152.7 374.9,150.2Z" fill="#df2a1c" />
<path d="M375.0 149.3h.9v.9h-.9zM376.0 147.2h.9v.9h-.9zM377.1 148.1h.9v.9h-.9zM377.4 146.3h.9v.9h-.9zM379.8 146.3h.9v.9h-.9zM378.6 146.7h.9v.9h-.9zM380.3 145.2h.9v.9h-.9zM382.5 145.0h.9v.9h-.9zM383.5 144.0h.9v.9h-.9zM385.6 144.3h.9v.9h-.9zM386.0 144.7h.9v.9h-.9zM386.1 143.9h.9v.9h-.9zM388.3 144.1h.9v.9h-.9zM389.6 145.0h.9v.9h-.9zM391.1 144.7h.9v.9h-.9zM392.0 146.2h.9v.9h-.9zM394.4 145.5h.9v.9h-.9zM395.3 147.1h.9v.9h-.9zM394.5 147.1h.9v.9h-.9zM396.8 147.7h.9v.9h-.9zM396.1 148.9h.9v.9h-.9zM398.4 150.3h.9v.9h-.9zM397.6 151.3h.9v.9h-.9zM399.3 153.1h.9v.9h-.9zM398.4 155.2h.9v.9h-.9zM400.2 155.5h.9v.9h-.9zM399.7 155.9h.9v.9h-.9zM399.2 156.6h.9v.9h-.9zM399.1 158.1h.9v.9h-.9zM399.7 160.0h.9v.9h-.9zM399.2 161.4h.9v.9h-.9zM399.9 163.1h.9v.9h-.9zM398.6 164.4h.9v.9h-.9zM397.9 165.3h.9v.9h-.9zM398.3 167.3h.9v.9h-.9zM397.0 168.5h.9v.9h-.9zM396.3 167.3h.9v.9h-.9zM395.0 168.3h.9v.9h-.9zM394.0 168.5h.9v.9h-.9zM393.6 170.3h.9v.9h-.9zM391.9 169.3h.9v.9h-.9zM390.6 169.6h.9v.9h-.9zM389.9 171.4h.9v.9h-.9zM389.5 169.7h.9v.9h-.9zM388.1 169.8h.9v.9h-.9zM387.4 170.4h.9v.9h-.9zM387.1 170.6h.9v.9h-.9zM386.2 171.4h.9v.9h-.9zM385.0 170.2h.9v.9h-.9zM383.2 170.2h.9v.9h-.9zM382.7 168.9h.9v.9h-.9zM381.2 167.9h.9v.9h-.9zM381.2 168.0h.9v.9h-.9zM380.3 167.0h.9v.9h-.9zM377.9 167.4h.9v.9h-.9zM378.4 164.9h.9v.9h-.9zM378.3 164.6h.9v.9h-.9zM377.0 162.1h.9v.9h-.9zM377.5 163.2h.9v.9h-.9zM376.6 161.6h.9v.9h-.9zM375.3 160.8h.9v.9h-.9zM375.2 160.7h.9v.9h-.9zM373.7 159.2h.9v.9h-.9zM374.1 156.6h.9v.9h-.9zM374.2 155.4h.9v.9h-.9zM373.7 154.2h.9v.9h-.9zM373.2 152.7h.9v.9h-.9zM374.0 153.3h.9v.9h-.9zM373.8 150.0h.9v.9h-.9z" fill="#df2a1c"/>
<path d="M365.6,164.2 C365.9,162.2 367.3,159.8 369.1,158.9 C370.8,157.9 374.0,157.7 376.1,158.4 C378.2,159.1 380.2,161.1 381.9,163.1 C383.7,165.0 385.6,167.7 386.6,170.1 C387.6,172.4 388.2,175.3 387.8,177.1 C387.4,178.8 385.8,180.0 384.3,180.6 C382.7,181.2 380.4,181.2 378.4,180.6 C376.5,180.0 374.5,178.6 372.6,177.1 C370.7,175.5 368.4,173.4 367.2,171.2 C366.1,169.1 365.3,166.3 365.6,164.2Z" fill="#fb8418" />
<path d="M365.0 163.7h.9v.9h-.9zM364.1 162.4h.9v.9h-.9zM366.5 162.1h.9v.9h-.9zM367.6 160.4h.9v.9h-.9zM367.4 158.7h.9v.9h-.9zM368.0 158.6h.9v.9h-.9zM369.3 158.9h.9v.9h-.9zM370.4 156.8h.9v.9h-.9zM371.4 157.1h.9v.9h-.9zM372.6 158.3h.9v.9h-.9zM374.5 157.7h.9v.9h-.9zM375.1 158.3h.9v.9h-.9zM376.7 158.2h.9v.9h-.9zM378.2 158.2h.9v.9h-.9zM378.5 160.1h.9v.9h-.9zM379.5 160.3h.9v.9h-.9zM381.0 162.0h.9v.9h-.9zM381.2 162.1h.9v.9h-.9zM383.6 162.6h.9v.9h-.9zM383.1 163.2h.9v.9h-.9zM383.8 164.8h.9v.9h-.9zM384.9 164.8h.9v.9h-.9zM385.3 166.2h.9v.9h-.9zM386.4 167.8h.9v.9h-.9zM386.1 169.7h.9v.9h-.9zM387.6 171.0h.9v.9h-.9zM389.0 171.6h.9v.9h-.9zM388.8 172.8h.9v.9h-.9zM388.6 174.0h.9v.9h-.9zM389.1 175.4h.9v.9h-.9zM388.2 177.0h.9v.9h-.9zM387.9 177.3h.9v.9h-.9zM386.8 179.5h.9v.9h-.9zM385.9 179.9h.9v.9h-.9zM386.5 181.3h.9v.9h-.9zM385.1 181.4h.9v.9h-.9zM383.6 180.5h.9v.9h-.9zM382.7 181.3h.9v.9h-.9zM381.8 180.9h.9v.9h-.9zM380.7 182.9h.9v.9h-.9zM379.7 181.3h.9v.9h-.9zM377.8 181.3h.9v.9h-.9zM376.8 180.7h.9v.9h-.9zM374.8 180.4h.9v.9h-.9zM374.6 179.4h.9v.9h-.9zM373.8 178.3h.9v.9h-.9zM372.0 178.5h.9v.9h-.9zM370.8 177.9h.9v.9h-.9zM370.2 176.7h.9v.9h-.9zM370.3 175.7h.9v.9h-.9zM369.3 174.3h.9v.9h-.9zM368.5 173.6h.9v.9h-.9zM367.1 173.6h.9v.9h-.9zM366.5 171.9h.9v.9h-.9zM366.9 170.6h.9v.9h-.9zM366.7 169.4h.9v.9h-.9zM364.2 168.4h.9v.9h-.9zM365.7 167.5h.9v.9h-.9zM364.3 166.4h.9v.9h-.9zM365.6 164.7h.9v.9h-.9z" fill="#fb8418"/>
<path d="M387.8,170.1 C388.7,168.7 391.7,167.7 393.6,167.7 C395.6,167.7 398.1,168.7 399.5,170.1 C400.8,171.4 402.0,174.4 401.8,175.9 C401.6,177.5 399.8,178.8 398.3,179.4 C396.7,180.0 394.2,180.0 392.4,179.4 C390.7,178.8 388.6,177.5 387.8,175.9 C387.0,174.4 386.8,171.4 387.8,170.1Z" fill="#45a845" />
<path d="M387.6 169.7h.9v.9h-.9zM388.5 169.5h.9v.9h-.9zM389.8 167.7h.9v.9h-.9zM391.4 168.2h.9v.9h-.9zM392.1 167.2h.9v.9h-.9zM392.6 168.0h.9v.9h-.9zM394.5 167.8h.9v.9h-.9zM395.3 168.1h.9v.9h-.9zM397.0 167.2h.9v.9h-.9zM398.1 167.5h.9v.9h-.9zM398.3 169.5h.9v.9h-.9zM400.2 168.3h.9v.9h-.9zM400.5 169.8h.9v.9h-.9zM400.2 171.6h.9v.9h-.9zM401.7 171.7h.9v.9h-.9zM402.5 173.2h.9v.9h-.9zM401.6 174.2h.9v.9h-.9zM402.0 175.7h.9v.9h-.9zM401.8 176.2h.9v.9h-.9zM400.6 177.6h.9v.9h-.9zM401.2 178.8h.9v.9h-.9zM399.1 179.0h.9v.9h-.9zM398.3 180.8h.9v.9h-.9zM397.1 180.5h.9v.9h-.9zM396.1 179.7h.9v.9h-.9zM394.9 179.5h.9v.9h-.9zM394.0 179.5h.9v.9h-.9zM393.0 179.6h.9v.9h-.9zM391.9 178.9h.9v.9h-.9zM390.3 179.2h.9v.9h-.9zM390.5 178.4h.9v.9h-.9zM389.7 177.7h.9v.9h-.9zM387.7 177.9h.9v.9h-.9zM387.3 177.3h.9v.9h-.9zM388.0 175.6h.9v.9h-.9zM387.5 174.9h.9v.9h-.9zM385.4 173.3h.9v.9h-.9zM385.8 171.9h.9v.9h-.9zM387.3 171.8h.9v.9h-.9z" fill="#45a845"/>
<path d="M391.3,182.9 C392.3,181.8 395.4,181.2 397.1,181.8 C398.9,182.3 400.8,184.5 401.8,186.4 C402.8,188.4 403.3,191.9 403.0,193.4 C402.6,195.0 401.0,195.8 399.5,195.8 C397.9,195.8 395.0,194.6 393.6,193.4 C392.3,192.3 391.7,190.5 391.3,188.8 C390.9,187.0 390.3,184.1 391.3,182.9Z" fill="#5aa4ba" />
<path d="M392.3 182.5h.9v.9h-.9zM393.8 181.8h.9v.9h-.9zM394.9 181.9h.9v.9h-.9zM395.6 181.8h.9v.9h-.9zM396.9 182.0h.9v.9h-.9zM398.0 181.3h.9v.9h-.9zM398.6 181.4h.9v.9h-.9zM398.8 183.1h.9v.9h-.9zM400.1 183.8h.9v.9h-.9zM400.7 185.2h.9v.9h-.9zM402.1 185.9h.9v.9h-.9zM402.7 186.6h.9v.9h-.9zM401.8 186.5h.9v.9h-.9zM402.8 187.9h.9v.9h-.9zM402.5 189.7h.9v.9h-.9zM402.7 190.9h.9v.9h-.9zM404.1 192.3h.9v.9h-.9zM404.1 192.8h.9v.9h-.9zM403.2 193.6h.9v.9h-.9zM402.3 194.5h.9v.9h-.9zM402.6 196.0h.9v.9h-.9zM401.6 196.2h.9v.9h-.9zM398.7 196.3h.9v.9h-.9zM397.5 195.9h.9v.9h-.9zM396.5 196.2h.9v.9h-.9zM396.6 197.1h.9v.9h-.9zM395.6 194.9h.9v.9h-.9zM395.1 194.6h.9v.9h-.9zM393.9 193.4h.9v.9h-.9zM391.5 193.3h.9v.9h-.9zM390.8 191.0h.9v.9h-.9zM391.4 190.1h.9v.9h-.9zM391.1 186.8h.9v.9h-.9zM389.9 186.2h.9v.9h-.9zM390.7 185.3h.9v.9h-.9zM391.0 183.4h.9v.9h-.9z" fill="#5aa4ba"/>
<path d="M365.6,174.7 C366.4,172.8 368.5,170.5 370.3,170.1 C372.0,169.7 375.0,170.1 376.1,172.4 C377.1,174.7 376.4,179.8 376.6,184.1 C376.8,188.4 376.8,193.4 377.3,198.1 C377.8,202.8 379.1,208.8 379.6,212.1 C380.1,215.4 381.0,216.7 380.3,218.0 C379.6,219.2 377.1,220.0 375.6,219.6 C374.1,219.2 372.5,218.4 371.4,215.6 C370.3,212.8 369.8,206.9 369.1,202.8 C368.4,198.7 367.8,194.6 367.2,191.1 C366.6,187.6 365.9,184.5 365.6,181.8 C365.3,179.0 364.8,176.7 365.6,174.7Z" fill="#f7b46c" />
<path d="M366.0 174.3h.9v.9h-.9zM366.3 173.7h.9v.9h-.9zM367.2 172.6h.9v.9h-.9zM367.5 171.6h.9v.9h-.9zM368.5 171.0h.9v.9h-.9zM370.0 170.2h.9v.9h-.9zM371.0 169.2h.9v.9h-.9zM371.5 168.8h.9v.9h-.9zM372.9 168.7h.9v.9h-.9zM373.8 170.7h.9v.9h-.9zM374.6 171.0h.9v.9h-.9zM376.1 172.3h.9v.9h-.9zM376.8 172.7h.9v.9h-.9zM377.7 172.2h.9v.9h-.9zM377.8 174.7h.9v.9h-.9zM377.0 174.7h.9v.9h-.9zM377.3 176.5h.9v.9h-.9zM376.5 176.1h.9v.9h-.9zM377.2 179.6h.9v.9h-.9zM376.5 177.6h.9v.9h-.9zM378.4 180.9h.9v.9h-.9zM376.3 181.7h.9v.9h-.9zM377.6 184.0h.9v.9h-.9zM376.7 184.0h.9v.9h-.9zM377.8 185.5h.9v.9h-.9zM377.9 185.6h.9v.9h-.9zM377.4 188.1h.9v.9h-.9zM376.8 188.5h.9v.9h-.9zM377.9 190.6h.9v.9h-.9zM376.6 190.2h.9v.9h-.9zM377.6 191.7h.9v.9h-.9zM377.6 191.0h.9v.9h-.9zM376.9 193.8h.9v.9h-.9zM378.0 194.6h.9v.9h-.9zM376.8 196.3h.9v.9h-.9zM377.9 197.7h.9v.9h-.9zM378.2 197.8h.9v.9h-.9zM377.3 199.0h.9v.9h-.9zM377.4 199.2h.9v.9h-.9zM377.8 202.8h.9v.9h-.9zM379.7 202.8h.9v.9h-.9zM379.2 201.3h.9v.9h-.9zM378.4 204.9h.9v.9h-.9zM379.4 204.5h.9v.9h-.9zM378.5 203.9h.9v.9h-.9zM379.7 205.8h.9v.9h-.9zM379.5 206.2h.9v.9h-.9zM379.2 209.6h.9v.9h-.9zM379.8 208.1h.9v.9h-.9zM379.7 210.6h.9v.9h-.9zM380.8 213.3h.9v.9h-.9zM380.6 214.0h.9v.9h-.9zM380.9 215.0h.9v.9h-.9zM380.4 216.3h.9v.9h-.9zM380.4 217.2h.9v.9h-.9zM380.4 219.7h.9v.9h-.9zM378.7 219.8h.9v.9h-.9zM378.4 220.0h.9v.9h-.9zM375.8 219.4h.9v.9h-.9zM375.3 219.3h.9v.9h-.9zM374.1 218.8h.9v.9h-.9zM371.6 219.0h.9v.9h-.9zM372.1 217.4h.9v.9h-.9zM371.1 216.9h.9v.9h-.9zM370.9 214.0h.9v.9h-.9zM370.7 212.0h.9v.9h-.9zM370.5 213.8h.9v.9h-.9zM369.7 211.3h.9v.9h-.9zM369.9 209.8h.9v.9h-.9zM368.6 209.0h.9v.9h-.9zM370.2 208.6h.9v.9h-.9zM369.6 206.8h.9v.9h-.9zM368.8 206.7h.9v.9h-.9zM369.6 204.8h.9v.9h-.9zM367.7 203.4h.9v.9h-.9zM368.1 202.6h.9v.9h-.9zM368.2 202.8h.9v.9h-.9zM367.1 199.3h.9v.9h-.9zM367.6 199.9h.9v.9h-.9zM367.4 197.1h.9v.9h-.9zM368.1 197.5h.9v.9h-.9zM367.7 196.5h.9v.9h-.9zM368.3 196.5h.9v.9h-.9zM367.8 194.0h.9v.9h-.9zM367.5 193.0h.9v.9h-.9zM367.5 192.0h.9v.9h-.9zM366.1 191.3h.9v.9h-.9zM365.6 190.9h.9v.9h-.9zM365.3 189.8h.9v.9h-.9zM367.1 189.1h.9v.9h-.9zM366.7 186.6h.9v.9h-.9zM365.2 185.8h.9v.9h-.9zM364.1 183.8h.9v.9h-.9zM364.6 182.7h.9v.9h-.9zM363.6 180.8h.9v.9h-.9zM365.6 179.8h.9v.9h-.9zM363.5 178.8h.9v.9h-.9zM363.9 176.8h.9v.9h-.9zM364.4 176.3h.9v.9h-.9zM363.8 174.9h.9v.9h-.9z" fill="#f7b46c"/>
<path d="M377.3,186.4 C378.4,184.7 381.2,184.1 383.1,184.1 C385.0,184.1 387.4,184.9 388.9,186.4 C390.5,188.0 391.7,190.7 392.4,193.4 C393.2,196.2 394.0,200.6 393.6,202.8 C393.2,204.9 391.7,205.7 390.1,206.3 C388.6,206.9 386.2,206.9 384.3,206.3 C382.3,205.7 379.8,204.7 378.4,202.8 C377.1,200.8 376.3,197.3 376.1,194.6 C375.9,191.9 376.1,188.2 377.3,186.4Z" fill="#7d79c2" />
<path d="M377.1 186.0h.9v.9h-.9zM378.2 184.7h.9v.9h-.9zM379.6 184.4h.9v.9h-.9zM380.2 182.6h.9v.9h-.9zM381.5 183.1h.9v.9h-.9zM382.1 182.9h.9v.9h-.9zM383.9 182.9h.9v.9h-.9zM385.2 183.6h.9v.9h-.9zM386.1 183.1h.9v.9h-.9zM386.6 184.2h.9v.9h-.9zM387.4 185.6h.9v.9h-.9zM389.2 184.6h.9v.9h-.9zM390.0 186.6h.9v.9h-.9zM389.8 187.7h.9v.9h-.9zM391.0 188.4h.9v.9h-.9zM391.9 189.3h.9v.9h-.9zM392.2 191.9h.9v.9h-.9zM393.8 192.6h.9v.9h-.9zM392.8 194.5h.9v.9h-.9zM392.7 195.5h.9v.9h-.9zM393.3 194.8h.9v.9h-.9zM393.5 197.0h.9v.9h-.9zM393.4 197.3h.9v.9h-.9zM394.4 199.1h.9v.9h-.9zM393.7 201.3h.9v.9h-.9zM394.6 201.9h.9v.9h-.9zM393.7 203.4h.9v.9h-.9zM394.9 204.7h.9v.9h-.9zM393.7 205.7h.9v.9h-.9zM391.9 205.7h.9v.9h-.9zM390.6 205.9h.9v.9h-.9zM389.4 206.9h.9v.9h-.9zM388.6 206.6h.9v.9h-.9zM387.7 206.6h.9v.9h-.9zM386.7 206.6h.9v.9h-.9zM385.3 206.9h.9v.9h-.9zM384.9 206.1h.9v.9h-.9zM383.4 207.7h.9v.9h-.9zM382.3 205.4h.9v.9h-.9zM382.3 205.3h.9v.9h-.9zM381.2 204.9h.9v.9h-.9zM379.3 203.7h.9v.9h-.9zM378.0 203.6h.9v.9h-.9zM376.6 202.5h.9v.9h-.9zM376.9 200.8h.9v.9h-.9zM377.6 200.7h.9v.9h-.9zM377.0 199.9h.9v.9h-.9zM375.6 199.1h.9v.9h-.9zM376.0 197.6h.9v.9h-.9zM376.0 197.5h.9v.9h-.9zM376.0 194.7h.9v.9h-.9zM374.5 194.3h.9v.9h-.9zM376.1 192.7h.9v.9h-.9zM374.7 191.0h.9v.9h-.9zM376.3 191.2h.9v.9h-.9zM376.4 190.1h.9v.9h-.9zM376.7 188.0h.9v.9h-.9zM376.7 186.8h.9v.9h-.9z" fill="#7d79c2"/>
<path d="M377.3,221.5 C378.3,220.1 381.0,218.7 383.1,218.0 C385.2,217.2 387.8,217.2 390.1,216.8 C392.4,216.4 395.0,216.2 397.1,215.6 C399.3,215.0 401.2,214.3 403.0,213.3 C404.7,212.3 406.3,210.4 407.6,209.8 C409.0,209.2 410.4,208.6 411.1,209.8 C411.9,210.9 412.1,214.1 412.3,216.8 C412.5,219.5 413.1,224.4 412.3,226.1 C411.5,227.9 409.6,226.9 407.6,227.3 C405.7,227.7 403.0,227.9 400.6,228.5 C398.3,229.1 395.8,230.0 393.6,230.8 C391.5,231.6 389.5,232.7 387.8,233.1 C386.0,233.6 384.7,234.0 383.1,233.6 C381.5,233.2 379.5,232.0 378.4,230.8 C377.4,229.6 377.0,227.7 376.8,226.1 C376.6,224.6 376.2,222.8 377.3,221.5Z" fill="#5aa4ba" />
<path d="M377.8 221.1h.9v.9h-.9zM379.1 218.8h.9v.9h-.9zM380.1 219.3h.9v.9h-.9zM380.9 217.8h.9v.9h-.9zM381.1 219.1h.9v.9h-.9zM382.6 217.8h.9v.9h-.9zM383.8 216.9h.9v.9h-.9zM385.0 215.9h.9v.9h-.9zM384.3 217.4h.9v.9h-.9zM386.0 216.9h.9v.9h-.9zM386.6 216.9h.9v.9h-.9zM388.2 216.7h.9v.9h-.9zM389.6 215.9h.9v.9h-.9zM390.1 215.3h.9v.9h-.9zM391.6 216.7h.9v.9h-.9zM393.3 216.6h.9v.9h-.9zM394.2 215.3h.9v.9h-.9zM395.7 216.0h.9v.9h-.9zM395.8 214.5h.9v.9h-.9zM397.8 214.9h.9v.9h-.9zM398.7 215.4h.9v.9h-.9zM400.1 215.0h.9v.9h-.9zM399.8 213.5h.9v.9h-.9zM401.1 214.1h.9v.9h-.9zM402.3 213.6h.9v.9h-.9zM403.7 212.6h.9v.9h-.9zM404.4 212.1h.9v.9h-.9zM404.8 209.6h.9v.9h-.9zM406.4 210.4h.9v.9h-.9zM406.2 208.8h.9v.9h-.9zM407.8 210.0h.9v.9h-.9zM410.1 208.6h.9v.9h-.9zM410.2 209.3h.9v.9h-.9zM412.7 209.2h.9v.9h-.9zM411.5 210.8h.9v.9h-.9zM412.6 211.8h.9v.9h-.9zM411.8 214.0h.9v.9h-.9zM413.9 214.4h.9v.9h-.9zM413.6 216.3h.9v.9h-.9zM413.5 217.3h.9v.9h-.9zM412.5 220.0h.9v.9h-.9zM412.9 219.9h.9v.9h-.9zM413.2 221.1h.9v.9h-.9zM412.4 221.6h.9v.9h-.9zM414.0 222.6h.9v.9h-.9zM412.4 224.7h.9v.9h-.9zM413.4 225.8h.9v.9h-.9zM412.6 227.2h.9v.9h-.9zM411.6 227.1h.9v.9h-.9zM410.9 227.0h.9v.9h-.9zM410.2 228.5h.9v.9h-.9zM409.3 227.5h.9v.9h-.9zM407.7 227.2h.9v.9h-.9zM407.9 229.2h.9v.9h-.9zM405.5 227.3h.9v.9h-.9zM404.5 229.1h.9v.9h-.9zM404.1 227.8h.9v.9h-.9zM402.0 228.1h.9v.9h-.9zM402.7 228.8h.9v.9h-.9zM401.9 229.7h.9v.9h-.9zM399.9 228.9h.9v.9h-.9zM398.7 230.1h.9v.9h-.9zM398.6 230.4h.9v.9h-.9zM397.0 229.5h.9v.9h-.9zM395.0 230.8h.9v.9h-.9zM394.6 230.4h.9v.9h-.9zM392.7 231.0h.9v.9h-.9zM392.5 232.4h.9v.9h-.9zM391.7 232.8h.9v.9h-.9zM390.6 233.1h.9v.9h-.9zM389.1 232.5h.9v.9h-.9zM388.2 232.7h.9v.9h-.9zM387.5 233.3h.9v.9h-.9zM386.5 234.9h.9v.9h-.9zM383.1 234.7h.9v.9h-.9zM382.8 233.3h.9v.9h-.9zM380.9 232.4h.9v.9h-.9zM380.6 232.4h.9v.9h-.9zM378.2 233.0h.9v.9h-.9zM379.1 231.1h.9v.9h-.9zM375.4 227.7h.9v.9h-.9zM377.1 226.8h.9v.9h-.9zM375.6 225.5h.9v.9h-.9zM376.3 224.2h.9v.9h-.9z" fill="#5aa4ba"/>
<path d="M397.6,36.4 C397.8,35.5 399.3,34.2 400.6,34.0 C401.9,33.8 403.7,34.7 405.3,35.2 C406.8,35.7 408.6,36.5 410.0,37.1 C411.3,37.6 411.7,38.6 413.5,38.7 C415.2,38.8 419.2,37.4 420.5,37.5 C421.7,37.6 421.9,38.4 420.9,39.2 C420.0,39.9 416.5,41.8 414.6,42.2 C412.8,42.6 411.5,41.9 410.0,41.5 C408.4,41.1 407.0,40.2 405.3,39.9 C403.5,39.5 400.7,39.7 399.5,39.2 C398.2,38.6 397.4,37.2 397.6,36.4Z" fill="#3370c0" />
<path d="M396.1 35.2h.9v.9h-.9zM398.4 35.5h.9v.9h-.9zM400.3 34.2h.9v.9h-.9zM401.0 34.1h.9v.9h-.9zM402.1 33.8h.9v.9h-.9zM402.6 34.5h.9v.9h-.9zM403.5 34.2h.9v.9h-.9zM404.8 34.6h.9v.9h-.9zM407.1 35.1h.9v.9h-.9zM407.7 35.2h.9v.9h-.9zM407.9 36.3h.9v.9h-.9zM409.8 35.4h.9v.9h-.9zM409.7 36.2h.9v.9h-.9zM412.0 36.2h.9v.9h-.9zM413.1 36.8h.9v.9h-.9zM413.9 37.4h.9v.9h-.9zM414.8 37.6h.9v.9h-.9zM416.1 38.6h.9v.9h-.9zM417.7 37.4h.9v.9h-.9zM419.3 37.4h.9v.9h-.9zM420.4 37.8h.9v.9h-.9zM420.8 37.1h.9v.9h-.9zM421.5 37.9h.9v.9h-.9zM421.1 38.6h.9v.9h-.9zM421.2 39.5h.9v.9h-.9zM419.8 40.4h.9v.9h-.9zM418.9 40.4h.9v.9h-.9zM419.3 41.0h.9v.9h-.9zM418.1 41.3h.9v.9h-.9zM416.1 42.5h.9v.9h-.9zM416.0 42.2h.9v.9h-.9zM414.9 42.0h.9v.9h-.9zM414.2 42.3h.9v.9h-.9zM413.6 43.1h.9v.9h-.9zM412.0 42.6h.9v.9h-.9zM410.4 42.9h.9v.9h-.9zM409.2 41.3h.9v.9h-.9zM407.8 42.1h.9v.9h-.9zM407.3 41.2h.9v.9h-.9zM406.1 40.0h.9v.9h-.9zM405.1 40.1h.9v.9h-.9zM403.7 40.2h.9v.9h-.9zM402.6 40.0h.9v.9h-.9zM402.1 39.5h.9v.9h-.9zM399.5 39.4h.9v.9h-.9zM398.3 40.4h.9v.9h-.9zM398.7 38.6h.9v.9h-.9zM397.7 37.7h.9v.9h-.9z" fill="#3370c0"/>
<path d="M365.6,74.9 C366.0,73.3 366.6,70.5 367.9,69.1 C369.3,67.6 371.6,66.8 373.8,66.2 C375.9,65.7 378.6,65.5 380.8,65.5 C382.9,65.5 385.7,64.9 386.6,66.2 C387.5,67.6 385.9,71.3 386.1,73.7 C386.3,76.1 388.1,78.8 387.8,80.7 C387.5,82.7 385.6,84.2 384.3,85.4 C382.9,86.6 381.4,87.5 379.6,87.7 C377.8,87.9 375.5,87.3 373.8,86.6 C372.0,85.8 370.5,84.4 369.1,83.1 C367.7,81.7 366.2,79.8 365.6,78.4 C365.0,77.0 365.2,76.4 365.6,74.9Z" fill="#e6a412" />
<path d="M364.5 74.2h.9v.9h-.9zM365.0 72.8h.9v.9h-.9zM364.5 72.2h.9v.9h-.9zM367.0 71.2h.9v.9h-.9zM367.3 70.3h.9v.9h-.9zM367.6 69.5h.9v.9h-.9zM367.8 68.7h.9v.9h-.9zM370.0 67.6h.9v.9h-.9zM370.6 66.6h.9v.9h-.9zM371.8 65.8h.9v.9h-.9zM373.3 65.3h.9v.9h-.9zM373.8 66.1h.9v.9h-.9zM375.9 66.0h.9v.9h-.9zM376.5 66.0h.9v.9h-.9zM376.9 65.9h.9v.9h-.9zM377.7 64.9h.9v.9h-.9zM379.2 64.4h.9v.9h-.9zM380.3 65.3h.9v.9h-.9zM381.1 64.2h.9v.9h-.9zM382.6 64.2h.9v.9h-.9zM384.0 65.1h.9v.9h-.9zM385.1 65.1h.9v.9h-.9zM385.4 65.7h.9v.9h-.9zM387.5 64.7h.9v.9h-.9zM386.5 66.5h.9v.9h-.9zM386.7 67.4h.9v.9h-.9zM387.3 69.3h.9v.9h-.9zM387.3 70.9h.9v.9h-.9zM386.6 72.4h.9v.9h-.9zM386.2 72.5h.9v.9h-.9zM387.2 74.4h.9v.9h-.9zM387.7 74.6h.9v.9h-.9zM386.8 76.5h.9v.9h-.9zM387.4 77.4h.9v.9h-.9zM387.7 78.9h.9v.9h-.9zM387.5 80.5h.9v.9h-.9zM387.7 81.6h.9v.9h-.9zM387.8 82.2h.9v.9h-.9zM388.3 84.0h.9v.9h-.9zM386.2 84.3h.9v.9h-.9zM386.2 85.9h.9v.9h-.9zM384.0 86.2h.9v.9h-.9zM382.9 86.2h.9v.9h-.9zM383.4 87.8h.9v.9h-.9zM382.3 88.2h.9v.9h-.9zM380.7 87.4h.9v.9h-.9zM380.2 89.5h.9v.9h-.9zM379.3 88.9h.9v.9h-.9zM377.8 89.1h.9v.9h-.9zM377.0 87.6h.9v.9h-.9zM376.0 88.6h.9v.9h-.9zM375.0 88.0h.9v.9h-.9zM374.0 88.2h.9v.9h-.9zM372.6 87.6h.9v.9h-.9zM372.0 86.7h.9v.9h-.9zM370.7 84.9h.9v.9h-.9zM370.1 83.7h.9v.9h-.9zM369.8 83.4h.9v.9h-.9zM368.8 83.2h.9v.9h-.9zM368.2 81.9h.9v.9h-.9zM367.3 81.6h.9v.9h-.9zM366.8 80.0h.9v.9h-.9zM366.5 79.5h.9v.9h-.9zM365.6 78.7h.9v.9h-.9zM364.3 78.6h.9v.9h-.9zM365.5 77.3h.9v.9h-.9zM365.4 76.5h.9v.9h-.9zM365.5 76.2h.9v.9h-.9zM365.4 74.9h.9v.9h-.9z" fill="#e6a412"/>
<path d="M386.6,66.2 C387.7,64.0 390.1,63.4 392.4,62.5 C394.8,61.6 398.1,61.0 400.6,60.9 C403.2,60.8 405.5,61.3 407.6,62.0 C409.8,62.8 412.1,65.7 413.5,65.5 C414.8,65.4 415.2,62.2 415.8,60.9 C416.4,59.6 416.5,58.2 417.0,57.8 C417.4,57.5 418.5,57.1 418.6,58.5 C418.7,60.0 417.8,63.8 417.7,66.7 C417.5,69.6 418.0,73.5 417.7,76.1 C417.4,78.6 417.3,80.1 415.8,81.9 C414.3,83.6 411.3,85.6 408.8,86.6 C406.3,87.5 403.2,87.7 400.6,87.7 C398.1,87.7 395.6,87.3 393.6,86.6 C391.7,85.8 390.2,84.8 388.9,83.1 C387.7,81.3 386.5,78.9 386.1,76.1 C385.7,73.3 385.6,68.5 386.6,66.2Z" fill="#e8338c" />
<path d="M386.4 65.1h.9v.9h-.9zM386.7 65.0h.9v.9h-.9zM386.8 64.0h.9v.9h-.9zM387.2 63.1h.9v.9h-.9zM389.8 63.8h.9v.9h-.9zM390.7 63.4h.9v.9h-.9zM391.0 61.4h.9v.9h-.9zM393.0 62.0h.9v.9h-.9zM394.0 61.5h.9v.9h-.9zM394.0 61.9h.9v.9h-.9zM395.4 61.6h.9v.9h-.9zM396.7 61.5h.9v.9h-.9zM397.7 60.4h.9v.9h-.9zM399.0 59.9h.9v.9h-.9zM400.5 60.4h.9v.9h-.9zM400.6 61.1h.9v.9h-.9zM402.6 59.6h.9v.9h-.9zM403.1 61.2h.9v.9h-.9zM405.6 60.2h.9v.9h-.9zM406.0 61.7h.9v.9h-.9zM406.9 61.9h.9v.9h-.9zM407.9 62.1h.9v.9h-.9zM409.9 62.2h.9v.9h-.9zM410.2 62.9h.9v.9h-.9zM411.2 64.1h.9v.9h-.9zM412.9 64.3h.9v.9h-.9zM413.2 64.0h.9v.9h-.9zM412.6 64.1h.9v.9h-.9zM413.5 62.7h.9v.9h-.9zM415.7 62.0h.9v.9h-.9zM415.3 61.5h.9v.9h-.9zM416.5 59.0h.9v.9h-.9zM416.1 58.2h.9v.9h-.9zM415.9 57.1h.9v.9h-.9zM417.1 57.9h.9v.9h-.9zM417.5 57.5h.9v.9h-.9zM417.6 57.6h.9v.9h-.9zM418.5 56.2h.9v.9h-.9zM418.9 57.9h.9v.9h-.9zM420.0 59.1h.9v.9h-.9zM419.9 60.5h.9v.9h-.9zM419.6 61.2h.9v.9h-.9zM419.3 62.7h.9v.9h-.9zM418.2 65.0h.9v.9h-.9zM417.7 63.6h.9v.9h-.9zM418.5 65.3h.9v.9h-.9zM417.4 67.9h.9v.9h-.9zM419.5 68.6h.9v.9h-.9zM418.1 69.0h.9v.9h-.9zM419.5 70.3h.9v.9h-.9zM417.4 70.4h.9v.9h-.9zM418.4 72.1h.9v.9h-.9zM418.9 74.5h.9v.9h-.9zM417.4 76.0h.9v.9h-.9zM417.4 77.1h.9v.9h-.9zM419.1 77.7h.9v.9h-.9zM417.2 79.1h.9v.9h-.9zM417.0 80.0h.9v.9h-.9zM417.5 80.6h.9v.9h-.9zM416.4 81.2h.9v.9h-.9zM416.2 82.5h.9v.9h-.9zM414.8 83.1h.9v.9h-.9zM413.0 84.2h.9v.9h-.9zM413.9 85.8h.9v.9h-.9zM412.1 85.8h.9v.9h-.9zM410.6 86.7h.9v.9h-.9zM409.0 86.8h.9v.9h-.9zM409.1 87.5h.9v.9h-.9zM406.7 89.0h.9v.9h-.9zM405.9 87.9h.9v.9h-.9zM404.5 87.3h.9v.9h-.9zM402.7 87.5h.9v.9h-.9zM401.0 89.1h.9v.9h-.9zM399.6 88.9h.9v.9h-.9zM398.9 88.3h.9v.9h-.9zM397.8 87.7h.9v.9h-.9zM396.2 87.1h.9v.9h-.9zM395.6 86.9h.9v.9h-.9zM393.7 88.5h.9v.9h-.9zM392.9 86.7h.9v.9h-.9zM392.0 85.7h.9v.9h-.9zM391.7 85.4h.9v.9h-.9zM389.4 86.0h.9v.9h-.9zM390.3 84.3h.9v.9h-.9zM388.2 84.5h.9v.9h-.9zM388.0 83.0h.9v.9h-.9zM387.9 81.9h.9v.9h-.9zM387.0 81.0h.9v.9h-.9zM387.3 79.5h.9v.9h-.9zM387.0 78.4h.9v.9h-.9zM384.6 76.7h.9v.9h-.9zM385.2 77.2h.9v.9h-.9zM386.3 75.1h.9v.9h-.9zM385.9 75.7h.9v.9h-.9zM386.1 73.5h.9v.9h-.9zM386.2 74.1h.9v.9h-.9zM385.9 72.6h.9v.9h-.9zM384.5 72.8h.9v.9h-.9zM385.3 70.0h.9v.9h-.9zM384.8 68.1h.9v.9h-.9zM385.5 66.4h.9v.9h-.9z" fill="#e8338c"/>
<path d="M364.4,105.3 C364.8,104.5 366.8,103.7 367.9,104.1 C369.1,104.5 370.5,106.4 371.4,107.6 C372.4,108.8 373.8,110.3 373.8,111.1 C373.8,111.9 372.4,112.3 371.4,112.3 C370.5,112.3 368.9,111.7 367.9,111.1 C366.9,110.5 366.2,109.7 365.6,108.8 C365.0,107.8 364.0,106.0 364.4,105.3Z" fill="#7fa08a" />
<path d="M364.2 104.8h.9v.9h-.9zM364.4 103.9h.9v.9h-.9zM365.6 104.1h.9v.9h-.9zM368.0 104.1h.9v.9h-.9zM370.2 104.1h.9v.9h-.9zM371.8 105.9h.9v.9h-.9zM372.6 106.6h.9v.9h-.9zM371.5 107.9h.9v.9h-.9zM372.6 107.7h.9v.9h-.9zM373.2 110.4h.9v.9h-.9zM374.8 111.6h.9v.9h-.9zM372.3 111.9h.9v.9h-.9zM371.8 113.1h.9v.9h-.9zM370.8 111.9h.9v.9h-.9zM369.5 113.2h.9v.9h-.9zM368.4 111.1h.9v.9h-.9zM365.3 108.5h.9v.9h-.9zM365.0 108.3h.9v.9h-.9zM365.1 107.5h.9v.9h-.9zM364.8 106.6h.9v.9h-.9zM363.7 105.9h.9v.9h-.9z" fill="#7fa08a"/>
<path d="M474.8,53.7 C475.8,53.5 475.9,58.6 477.1,60.7 C478.3,62.9 479.8,65.4 481.8,66.6 C483.7,67.7 487.0,67.3 488.8,67.7 C490.5,68.1 492.3,68.1 492.3,68.9 C492.3,69.7 490.2,72.0 488.8,72.4 C487.4,72.8 485.7,71.8 484.1,71.2 C482.6,70.7 481.0,69.9 479.5,68.9 C477.9,67.9 476.1,66.6 474.8,65.4 C473.4,64.2 471.3,63.8 471.3,61.9 C471.3,60.0 473.8,53.9 474.8,53.7Z" fill="#c77ee6" />
<path d="M475.3 53.4h.9v.9h-.9zM475.9 54.6h.9v.9h-.9zM476.9 55.5h.9v.9h-.9zM476.5 56.7h.9v.9h-.9zM477.7 57.8h.9v.9h-.9zM476.6 58.5h.9v.9h-.9zM476.8 60.5h.9v.9h-.9zM477.2 61.4h.9v.9h-.9zM477.7 62.0h.9v.9h-.9zM479.7 63.5h.9v.9h-.9zM480.0 64.4h.9v.9h-.9zM481.0 64.7h.9v.9h-.9zM481.6 66.8h.9v.9h-.9zM482.3 66.5h.9v.9h-.9zM483.5 66.6h.9v.9h-.9zM485.3 66.8h.9v.9h-.9zM485.5 67.3h.9v.9h-.9zM487.6 66.7h.9v.9h-.9zM488.6 66.2h.9v.9h-.9zM489.1 67.7h.9v.9h-.9zM490.3 66.2h.9v.9h-.9zM491.5 66.3h.9v.9h-.9zM491.9 68.5h.9v.9h-.9zM491.4 70.0h.9v.9h-.9zM491.3 72.3h.9v.9h-.9zM489.9 71.6h.9v.9h-.9zM488.9 72.2h.9v.9h-.9zM488.2 72.6h.9v.9h-.9zM486.8 72.5h.9v.9h-.9zM485.2 71.5h.9v.9h-.9zM484.3 71.4h.9v.9h-.9zM482.5 71.3h.9v.9h-.9zM482.1 70.9h.9v.9h-.9zM481.1 69.9h.9v.9h-.9zM480.1 70.8h.9v.9h-.9zM479.4 70.4h.9v.9h-.9zM478.5 69.7h.9v.9h-.9zM478.2 68.0h.9v.9h-.9zM476.0 68.1h.9v.9h-.9zM474.9 66.9h.9v.9h-.9zM473.8 66.8h.9v.9h-.9zM474.1 65.0h.9v.9h-.9zM474.1 64.7h.9v.9h-.9zM471.9 65.6h.9v.9h-.9zM472.6 63.8h.9v.9h-.9zM471.3 63.0h.9v.9h-.9zM469.8 63.0h.9v.9h-.9zM470.9 61.6h.9v.9h-.9zM470.8 59.5h.9v.9h-.9zM470.4 60.0h.9v.9h-.9zM470.8 57.7h.9v.9h-.9zM471.5 57.3h.9v.9h-.9zM472.9 56.4h.9v.9h-.9zM471.8 55.7h.9v.9h-.9zM473.6 54.4h.9v.9h-.9zM473.5 52.7h.9v.9h-.9z" fill="#c77ee6"/>
<path d="M442.1,35.0 C442.5,33.3 442.9,30.6 445.6,29.2 C448.3,27.8 454.3,26.9 458.4,26.9 C462.5,26.9 467.4,28.0 470.1,29.2 C472.8,30.4 473.8,30.9 474.8,33.9 C475.8,36.8 475.4,43.6 475.9,46.7 C476.5,49.8 478.3,50.4 478.3,52.6 C478.3,54.7 477.3,57.8 475.9,59.6 C474.6,61.3 472.3,62.1 470.1,63.1 C468.0,64.0 465.0,65.4 463.1,65.4 C461.2,65.4 460.2,65.0 458.4,63.1 C456.7,61.1 454.3,56.3 452.6,53.7 C450.8,51.2 449.1,49.4 447.9,47.9 C446.8,46.3 446.4,45.7 445.6,44.4 C444.8,43.0 443.8,41.3 443.2,39.7 C442.7,38.2 441.7,36.8 442.1,35.0Z" fill="#bbaad6" />
<path d="M442.2 34.6h.9v.9h-.9zM442.5 33.8h.9v.9h-.9zM441.8 32.1h.9v.9h-.9zM443.1 30.7h.9v.9h-.9zM443.7 30.2h.9v.9h-.9zM444.7 29.7h.9v.9h-.9zM446.1 28.4h.9v.9h-.9zM446.0 27.0h.9v.9h-.9zM449.2 27.9h.9v.9h-.9zM448.3 27.6h.9v.9h-.9zM450.3 27.9h.9v.9h-.9zM451.5 27.8h.9v.9h-.9zM452.6 27.2h.9v.9h-.9zM452.0 25.7h.9v.9h-.9zM455.2 26.8h.9v.9h-.9zM455.4 26.5h.9v.9h-.9zM456.5 27.2h.9v.9h-.9zM457.7 27.2h.9v.9h-.9zM459.1 25.8h.9v.9h-.9zM459.1 27.2h.9v.9h-.9zM461.3 26.3h.9v.9h-.9zM462.2 25.8h.9v.9h-.9zM463.8 27.7h.9v.9h-.9zM464.1 27.3h.9v.9h-.9zM465.2 27.5h.9v.9h-.9zM465.5 26.9h.9v.9h-.9zM467.6 27.9h.9v.9h-.9zM468.3 27.3h.9v.9h-.9zM469.3 28.0h.9v.9h-.9zM471.0 28.8h.9v.9h-.9zM472.3 30.2h.9v.9h-.9zM473.6 29.3h.9v.9h-.9zM473.0 31.0h.9v.9h-.9zM475.0 31.9h.9v.9h-.9zM476.0 33.1h.9v.9h-.9zM476.2 34.2h.9v.9h-.9zM476.5 34.0h.9v.9h-.9zM475.3 36.5h.9v.9h-.9zM476.5 37.3h.9v.9h-.9zM475.5 39.1h.9v.9h-.9zM475.2 39.2h.9v.9h-.9zM475.9 42.5h.9v.9h-.9zM476.2 41.3h.9v.9h-.9zM475.6 44.7h.9v.9h-.9zM476.6 43.7h.9v.9h-.9zM475.6 45.5h.9v.9h-.9zM475.7 46.2h.9v.9h-.9zM477.4 46.3h.9v.9h-.9zM476.7 47.7h.9v.9h-.9zM477.5 48.5h.9v.9h-.9zM476.7 49.3h.9v.9h-.9zM479.6 50.7h.9v.9h-.9zM479.6 51.7h.9v.9h-.9zM477.9 53.7h.9v.9h-.9zM479.3 54.4h.9v.9h-.9zM478.7 54.0h.9v.9h-.9zM478.6 56.1h.9v.9h-.9zM476.9 57.2h.9v.9h-.9zM477.5 58.4h.9v.9h-.9zM477.0 60.0h.9v.9h-.9zM475.4 60.5h.9v.9h-.9zM475.1 60.6h.9v.9h-.9zM474.2 60.9h.9v.9h-.9zM472.9 62.2h.9v.9h-.9zM471.6 63.2h.9v.9h-.9zM471.0 62.9h.9v.9h-.9zM469.8 63.7h.9v.9h-.9zM469.2 63.7h.9v.9h-.9zM469.3 64.5h.9v.9h-.9zM468.8 63.6h.9v.9h-.9zM467.2 66.0h.9v.9h-.9zM465.8 64.6h.9v.9h-.9zM464.5 66.2h.9v.9h-.9zM462.2 66.0h.9v.9h-.9zM461.1 64.8h.9v.9h-.9zM460.8 64.7h.9v.9h-.9zM459.4 64.1h.9v.9h-.9zM459.1 63.6h.9v.9h-.9zM456.9 63.7h.9v.9h-.9zM456.7 61.9h.9v.9h-.9zM456.3 60.3h.9v.9h-.9zM455.2 60.5h.9v.9h-.9zM454.1 57.9h.9v.9h-.9zM455.3 57.7h.9v.9h-.9zM454.5 56.6h.9v.9h-.9zM453.7 55.2h.9v.9h-.9zM453.6 54.8h.9v.9h-.9zM452.3 55.8h.9v.9h-.9zM452.3 53.5h.9v.9h-.9zM451.7 53.8h.9v.9h-.9zM450.7 52.5h.9v.9h-.9zM450.1 51.8h.9v.9h-.9zM449.8 50.6h.9v.9h-.9zM448.2 49.6h.9v.9h-.9zM448.3 48.6h.9v.9h-.9zM446.0 47.7h.9v.9h-.9zM446.0 47.0h.9v.9h-.9zM445.1 45.8h.9v.9h-.9zM444.7 44.4h.9v.9h-.9zM444.1 43.2h.9v.9h-.9zM443.9 41.9h.9v.9h-.9zM442.1 41.6h.9v.9h-.9zM443.2 40.0h.9v.9h-.9zM442.0 39.2h.9v.9h-.9zM442.6 37.4h.9v.9h-.9zM442.1 37.2h.9v.9h-.9zM441.5 35.4h.9v.9h-.9z" fill="#bbaad6"/>
<path d="M427.6,45.5 C428.0,44.1 429.5,43.3 431.6,42.7 C433.6,42.2 437.4,41.8 439.7,42.0 C442.1,42.3 444.2,43.4 445.6,44.4 C446.9,45.4 448.1,46.3 447.9,47.9 C447.7,49.4 445.6,51.8 444.4,53.7 C443.2,55.7 441.9,58.2 440.9,59.6 C439.9,60.9 439.5,61.5 438.6,61.9 C437.6,62.3 436.2,62.7 435.1,61.9 C433.9,61.1 432.5,59.0 431.6,57.2 C430.6,55.5 429.9,53.3 429.2,51.4 C428.6,49.4 427.2,47.0 427.6,45.5Z" fill="#a8781e" />
<path d="M428.4 44.7h.9v.9h-.9zM428.2 43.7h.9v.9h-.9zM429.4 41.7h.9v.9h-.9zM432.5 42.2h.9v.9h-.9zM433.6 42.3h.9v.9h-.9zM435.3 41.3h.9v.9h-.9zM436.1 40.8h.9v.9h-.9zM437.4 41.9h.9v.9h-.9zM437.6 42.2h.9v.9h-.9zM438.7 41.1h.9v.9h-.9zM440.1 42.2h.9v.9h-.9zM441.6 40.9h.9v.9h-.9zM442.6 42.7h.9v.9h-.9zM443.5 43.4h.9v.9h-.9zM444.9 41.8h.9v.9h-.9zM445.1 43.8h.9v.9h-.9zM446.8 43.8h.9v.9h-.9zM446.9 44.4h.9v.9h-.9zM446.7 45.6h.9v.9h-.9zM447.7 46.4h.9v.9h-.9zM449.1 46.1h.9v.9h-.9zM448.9 47.4h.9v.9h-.9zM449.2 48.7h.9v.9h-.9zM448.2 50.5h.9v.9h-.9zM447.0 51.4h.9v.9h-.9zM445.6 52.4h.9v.9h-.9zM444.7 53.3h.9v.9h-.9zM445.0 54.3h.9v.9h-.9zM444.2 55.3h.9v.9h-.9zM442.9 55.9h.9v.9h-.9zM442.0 57.5h.9v.9h-.9zM441.6 58.3h.9v.9h-.9zM441.1 59.1h.9v.9h-.9zM442.0 61.0h.9v.9h-.9zM440.3 61.3h.9v.9h-.9zM437.5 62.8h.9v.9h-.9zM436.1 62.2h.9v.9h-.9zM434.7 63.6h.9v.9h-.9zM434.3 62.7h.9v.9h-.9zM432.1 61.1h.9v.9h-.9zM431.8 59.9h.9v.9h-.9zM431.0 59.3h.9v.9h-.9zM431.8 57.9h.9v.9h-.9zM431.0 56.5h.9v.9h-.9zM429.9 55.9h.9v.9h-.9zM430.6 55.1h.9v.9h-.9zM430.2 53.9h.9v.9h-.9zM429.8 52.5h.9v.9h-.9zM429.7 51.8h.9v.9h-.9zM427.8 51.7h.9v.9h-.9zM428.3 50.0h.9v.9h-.9zM426.5 49.1h.9v.9h-.9zM426.2 46.8h.9v.9h-.9zM426.1 45.5h.9v.9h-.9z" fill="#a8781e"/>
<path d="M438.6,61.9 C438.8,60.7 439.9,60.9 440.9,59.6 C441.9,58.2 443.2,55.7 444.4,53.7 C445.6,51.8 446.6,47.9 447.9,47.9 C449.3,47.9 450.8,51.4 452.6,53.7 C454.3,56.1 457.7,59.6 458.4,61.9 C459.2,64.2 458.4,66.5 457.3,67.7 C456.1,69.0 453.4,69.6 451.4,69.6 C449.5,69.6 447.5,68.2 445.6,67.7 C443.6,67.2 440.9,67.5 439.7,66.6 C438.6,65.6 438.4,63.1 438.6,61.9Z" fill="#92d0c6" />
<path d="M438.5 60.6h.9v.9h-.9zM439.0 60.8h.9v.9h-.9zM439.8 59.4h.9v.9h-.9zM440.7 60.0h.9v.9h-.9zM440.7 59.1h.9v.9h-.9zM441.1 58.1h.9v.9h-.9zM442.0 57.2h.9v.9h-.9zM442.6 55.6h.9v.9h-.9zM443.5 55.6h.9v.9h-.9zM442.9 54.0h.9v.9h-.9zM444.9 53.1h.9v.9h-.9zM443.5 53.1h.9v.9h-.9zM443.3 51.7h.9v.9h-.9zM444.4 49.4h.9v.9h-.9zM444.5 49.7h.9v.9h-.9zM446.1 49.8h.9v.9h-.9zM445.7 49.1h.9v.9h-.9zM445.9 48.0h.9v.9h-.9zM446.9 46.5h.9v.9h-.9zM448.5 48.3h.9v.9h-.9zM450.0 47.7h.9v.9h-.9zM450.2 48.5h.9v.9h-.9zM450.1 50.5h.9v.9h-.9zM451.7 50.9h.9v.9h-.9zM452.5 53.5h.9v.9h-.9zM452.5 54.0h.9v.9h-.9zM453.4 54.1h.9v.9h-.9zM453.5 55.1h.9v.9h-.9zM454.1 55.1h.9v.9h-.9zM455.4 57.4h.9v.9h-.9zM456.1 56.2h.9v.9h-.9zM456.1 57.9h.9v.9h-.9zM456.2 57.7h.9v.9h-.9zM457.3 59.6h.9v.9h-.9zM457.7 60.9h.9v.9h-.9zM458.2 60.7h.9v.9h-.9zM459.7 62.7h.9v.9h-.9zM459.2 63.2h.9v.9h-.9zM459.8 64.6h.9v.9h-.9zM459.9 66.7h.9v.9h-.9zM458.5 67.2h.9v.9h-.9zM458.8 68.3h.9v.9h-.9zM457.1 68.4h.9v.9h-.9zM456.1 70.3h.9v.9h-.9zM454.0 69.2h.9v.9h-.9zM453.0 70.6h.9v.9h-.9zM451.4 69.4h.9v.9h-.9zM450.8 71.2h.9v.9h-.9zM450.1 69.9h.9v.9h-.9zM448.9 70.4h.9v.9h-.9zM447.8 68.3h.9v.9h-.9zM446.9 69.7h.9v.9h-.9zM446.1 67.6h.9v.9h-.9zM445.0 68.6h.9v.9h-.9zM443.5 67.5h.9v.9h-.9zM442.9 67.5h.9v.9h-.9zM439.4 67.2h.9v.9h-.9zM438.8 65.2h.9v.9h-.9zM437.3 64.2h.9v.9h-.9zM438.5 62.6h.9v.9h-.9z" fill="#92d0c6"/>
<path d="M465.4,88.8 C465.8,87.8 470.1,85.2 472.4,84.1 C474.8,83.0 477.1,82.4 479.5,82.2 C481.8,82.0 484.7,81.6 486.5,82.9 C488.2,84.2 489.4,87.8 490.0,89.9 C490.5,92.1 490.4,94.2 490.0,95.8 C489.6,97.3 489.0,98.7 487.6,99.3 C486.3,99.9 483.5,99.5 481.8,99.3 C480.0,99.1 478.6,98.7 477.1,98.1 C475.6,97.5 474.1,97.1 472.9,95.8 C471.7,94.4 471.4,91.1 470.1,89.9 C468.9,88.8 465.0,89.7 465.4,88.8Z" fill="#d4b2ae" />
<path d="M464.8 87.5h.9v.9h-.9zM466.9 87.7h.9v.9h-.9zM467.5 86.3h.9v.9h-.9zM467.5 86.5h.9v.9h-.9zM468.5 85.4h.9v.9h-.9zM469.9 84.8h.9v.9h-.9zM470.3 85.4h.9v.9h-.9zM470.5 83.4h.9v.9h-.9zM471.3 84.9h.9v.9h-.9zM472.9 83.9h.9v.9h-.9zM474.4 82.4h.9v.9h-.9zM475.9 82.9h.9v.9h-.9zM476.5 81.4h.9v.9h-.9zM477.4 81.6h.9v.9h-.9zM478.4 80.6h.9v.9h-.9zM480.5 81.6h.9v.9h-.9zM481.1 81.9h.9v.9h-.9zM482.8 80.3h.9v.9h-.9zM482.1 81.8h.9v.9h-.9zM484.4 80.8h.9v.9h-.9zM484.2 82.1h.9v.9h-.9zM484.6 81.8h.9v.9h-.9zM486.8 82.9h.9v.9h-.9zM489.0 83.6h.9v.9h-.9zM488.3 85.2h.9v.9h-.9zM488.2 85.4h.9v.9h-.9zM489.9 86.9h.9v.9h-.9zM489.0 87.0h.9v.9h-.9zM489.3 88.5h.9v.9h-.9zM489.6 89.0h.9v.9h-.9zM491.4 89.2h.9v.9h-.9zM490.6 90.8h.9v.9h-.9zM490.2 91.6h.9v.9h-.9zM491.7 92.7h.9v.9h-.9zM491.1 94.0h.9v.9h-.9zM491.5 95.0h.9v.9h-.9zM491.7 96.1h.9v.9h-.9zM489.5 97.7h.9v.9h-.9zM489.3 98.1h.9v.9h-.9zM489.0 99.5h.9v.9h-.9zM486.1 99.5h.9v.9h-.9zM485.7 99.6h.9v.9h-.9zM484.5 100.9h.9v.9h-.9zM483.7 99.8h.9v.9h-.9zM482.6 99.5h.9v.9h-.9zM481.2 100.8h.9v.9h-.9zM480.2 99.0h.9v.9h-.9zM479.9 99.6h.9v.9h-.9zM478.8 98.4h.9v.9h-.9zM477.9 100.3h.9v.9h-.9zM477.3 98.0h.9v.9h-.9zM476.8 97.9h.9v.9h-.9zM475.4 98.5h.9v.9h-.9zM475.2 98.2h.9v.9h-.9zM473.9 97.8h.9v.9h-.9zM473.0 96.6h.9v.9h-.9zM472.8 95.1h.9v.9h-.9zM472.0 94.7h.9v.9h-.9zM472.0 93.7h.9v.9h-.9zM471.3 91.8h.9v.9h-.9zM469.4 91.7h.9v.9h-.9zM469.0 91.1h.9v.9h-.9zM469.5 89.8h.9v.9h-.9zM468.9 90.2h.9v.9h-.9zM468.1 90.7h.9v.9h-.9zM467.1 89.1h.9v.9h-.9z" fill="#d4b2ae"/>
<path d="M443.2,101.6 C444.6,100.6 448.1,103.4 451.4,103.9 C454.7,104.5 459.8,105.7 463.1,105.1 C466.4,104.5 469.1,100.8 471.3,100.4 C473.4,100.0 474.4,101.2 475.9,102.8 C477.5,104.3 479.1,107.4 480.6,109.8 C482.2,112.1 485.1,114.8 485.3,116.8 C485.5,118.7 483.3,119.9 481.8,121.5 C480.2,123.0 478.3,125.0 475.9,126.1 C473.6,127.3 470.5,128.2 467.8,128.5 C465.0,128.8 462.3,128.8 459.6,128.0 C456.9,127.2 453.6,125.5 451.4,123.8 C449.2,122.1 447.6,120.3 446.3,118.0 C444.9,115.6 443.8,112.5 443.2,109.8 C442.7,107.1 441.9,102.6 443.2,101.6Z" fill="#882b6f" />
<path d="M443.2 101.0h.9v.9h-.9zM445.1 101.0h.9v.9h-.9zM446.1 100.0h.9v.9h-.9zM446.2 102.3h.9v.9h-.9zM448.3 101.7h.9v.9h-.9zM449.9 102.7h.9v.9h-.9zM449.9 103.1h.9v.9h-.9zM450.5 103.4h.9v.9h-.9zM453.0 104.1h.9v.9h-.9zM453.9 103.0h.9v.9h-.9zM456.1 103.3h.9v.9h-.9zM457.3 104.7h.9v.9h-.9zM457.9 105.3h.9v.9h-.9zM459.2 104.2h.9v.9h-.9zM460.7 103.9h.9v.9h-.9zM461.3 105.4h.9v.9h-.9zM462.4 104.9h.9v.9h-.9zM462.2 104.9h.9v.9h-.9zM464.0 104.6h.9v.9h-.9zM464.7 103.2h.9v.9h-.9zM466.9 103.3h.9v.9h-.9zM467.6 102.6h.9v.9h-.9zM468.3 101.0h.9v.9h-.9zM469.6 100.7h.9v.9h-.9zM470.4 101.1h.9v.9h-.9zM471.6 98.6h.9v.9h-.9zM472.9 99.6h.9v.9h-.9zM473.8 100.7h.9v.9h-.9zM473.9 101.1h.9v.9h-.9zM474.8 101.6h.9v.9h-.9zM475.3 102.0h.9v.9h-.9zM477.5 102.7h.9v.9h-.9zM477.0 104.5h.9v.9h-.9zM479.1 104.9h.9v.9h-.9zM477.8 104.8h.9v.9h-.9zM479.9 106.5h.9v.9h-.9zM479.7 108.6h.9v.9h-.9zM480.5 109.1h.9v.9h-.9zM481.9 108.9h.9v.9h-.9zM481.3 110.6h.9v.9h-.9zM482.0 112.0h.9v.9h-.9zM482.6 112.2h.9v.9h-.9zM484.6 114.1h.9v.9h-.9zM484.6 113.8h.9v.9h-.9zM486.4 114.7h.9v.9h-.9zM486.7 115.6h.9v.9h-.9zM486.1 117.0h.9v.9h-.9zM485.2 120.0h.9v.9h-.9zM483.6 119.4h.9v.9h-.9zM482.7 120.5h.9v.9h-.9zM482.4 121.1h.9v.9h-.9zM481.3 121.5h.9v.9h-.9zM481.0 123.2h.9v.9h-.9zM480.0 124.7h.9v.9h-.9zM479.7 125.3h.9v.9h-.9zM478.0 125.5h.9v.9h-.9zM476.4 125.6h.9v.9h-.9zM474.9 126.4h.9v.9h-.9zM476.0 127.0h.9v.9h-.9zM474.3 127.1h.9v.9h-.9zM472.7 127.1h.9v.9h-.9zM471.6 127.4h.9v.9h-.9zM470.3 128.2h.9v.9h-.9zM467.9 129.4h.9v.9h-.9zM467.1 129.7h.9v.9h-.9zM466.9 128.3h.9v.9h-.9zM466.3 129.5h.9v.9h-.9zM464.5 128.5h.9v.9h-.9zM463.3 128.4h.9v.9h-.9zM463.2 128.7h.9v.9h-.9zM461.3 128.7h.9v.9h-.9zM459.7 127.8h.9v.9h-.9zM458.0 128.0h.9v.9h-.9zM458.6 127.4h.9v.9h-.9zM456.7 127.9h.9v.9h-.9zM456.5 126.5h.9v.9h-.9zM454.4 125.8h.9v.9h-.9zM454.3 126.2h.9v.9h-.9zM453.4 124.8h.9v.9h-.9zM451.6 123.7h.9v.9h-.9zM451.7 124.8h.9v.9h-.9zM450.6 123.2h.9v.9h-.9zM449.2 123.5h.9v.9h-.9zM447.8 122.6h.9v.9h-.9zM448.1 120.7h.9v.9h-.9zM447.3 119.2h.9v.9h-.9zM445.9 119.5h.9v.9h-.9zM445.7 117.7h.9v.9h-.9zM445.6 116.0h.9v.9h-.9zM444.4 114.1h.9v.9h-.9zM443.8 113.2h.9v.9h-.9zM443.3 113.4h.9v.9h-.9zM443.6 111.5h.9v.9h-.9zM442.2 110.8h.9v.9h-.9zM442.9 109.8h.9v.9h-.9zM442.3 108.1h.9v.9h-.9zM442.4 107.9h.9v.9h-.9zM442.8 106.1h.9v.9h-.9zM440.8 106.1h.9v.9h-.9zM442.6 104.6h.9v.9h-.9zM442.1 102.5h.9v.9h-.9zM442.4 101.9h.9v.9h-.9z" fill="#882b6f"/>
<path d="M443.2,100.4 C443.8,99.3 446.6,97.3 449.1,95.8 C451.6,94.2 455.7,92.3 458.4,91.1 C461.2,89.9 463.5,89.0 465.4,88.8 C467.4,88.6 468.9,88.8 470.1,89.9 C471.3,91.1 472.3,94.0 472.4,95.8 C472.6,97.5 472.1,99.1 471.3,100.4 C470.5,101.8 469.1,103.2 467.8,103.9 C466.4,104.7 464.7,104.9 463.1,105.1 C461.5,105.3 460.4,105.3 458.4,105.1 C456.5,104.9 453.6,104.3 451.4,103.9 C449.3,103.6 446.9,103.4 445.6,102.8 C444.2,102.2 442.7,101.6 443.2,100.4Z" fill="#5ef321" />
<path d="M443.6 100.4h.9v.9h-.9zM442.8 98.2h.9v.9h-.9zM444.9 98.9h.9v.9h-.9zM445.9 97.1h.9v.9h-.9zM445.4 98.2h.9v.9h-.9zM446.5 97.0h.9v.9h-.9zM447.8 96.0h.9v.9h-.9zM449.6 93.9h.9v.9h-.9zM449.6 95.6h.9v.9h-.9zM452.0 94.3h.9v.9h-.9zM449.9 93.7h.9v.9h-.9zM452.0 92.1h.9v.9h-.9zM453.7 93.3h.9v.9h-.9zM454.6 91.9h.9v.9h-.9zM455.9 91.8h.9v.9h-.9zM457.1 91.6h.9v.9h-.9zM459.7 90.5h.9v.9h-.9zM459.7 90.2h.9v.9h-.9zM460.1 90.7h.9v.9h-.9zM461.6 89.1h.9v.9h-.9zM462.8 88.4h.9v.9h-.9zM464.2 89.2h.9v.9h-.9zM465.2 87.3h.9v.9h-.9zM465.5 87.3h.9v.9h-.9zM467.1 87.1h.9v.9h-.9zM469.3 89.6h.9v.9h-.9zM470.5 89.3h.9v.9h-.9zM470.4 90.8h.9v.9h-.9zM472.3 89.9h.9v.9h-.9zM472.6 91.3h.9v.9h-.9zM473.5 92.6h.9v.9h-.9zM474.0 94.0h.9v.9h-.9zM473.7 95.3h.9v.9h-.9zM472.6 96.0h.9v.9h-.9zM472.3 98.1h.9v.9h-.9zM472.5 98.6h.9v.9h-.9zM473.3 100.3h.9v.9h-.9zM472.5 100.5h.9v.9h-.9zM470.9 101.0h.9v.9h-.9zM471.0 102.0h.9v.9h-.9zM469.7 102.1h.9v.9h-.9zM470.2 103.5h.9v.9h-.9zM468.9 103.2h.9v.9h-.9zM468.3 103.5h.9v.9h-.9zM468.3 105.5h.9v.9h-.9zM466.8 104.2h.9v.9h-.9zM465.9 104.4h.9v.9h-.9zM465.0 106.5h.9v.9h-.9zM464.1 105.9h.9v.9h-.9zM463.4 105.3h.9v.9h-.9zM461.8 106.9h.9v.9h-.9zM461.3 106.1h.9v.9h-.9zM460.3 106.7h.9v.9h-.9zM459.6 106.7h.9v.9h-.9zM458.6 105.4h.9v.9h-.9zM457.4 106.2h.9v.9h-.9zM456.8 104.9h.9v.9h-.9zM455.3 105.5h.9v.9h-.9zM454.7 105.8h.9v.9h-.9zM453.6 104.1h.9v.9h-.9zM452.2 104.6h.9v.9h-.9zM451.1 104.3h.9v.9h-.9zM449.2 105.0h.9v.9h-.9zM448.5 103.3h.9v.9h-.9zM447.2 104.3h.9v.9h-.9zM445.4 104.1h.9v.9h-.9zM445.0 102.9h.9v.9h-.9zM444.8 102.3h.9v.9h-.9zM443.9 102.0h.9v.9h-.9zM442.8 100.8h.9v.9h-.9z" fill="#5ef321"/>
<path d="M474.8,98.1 C475.6,97.3 479.6,99.1 481.8,99.3 C483.9,99.5 485.9,98.7 487.6,99.3 C489.4,99.9 491.3,101.0 492.3,102.8 C493.3,104.5 493.7,107.6 493.5,109.8 C493.3,111.9 492.3,114.3 491.1,115.6 C490.0,117.0 488.0,118.5 486.5,118.0 C484.9,117.4 483.3,114.5 481.8,112.1 C480.2,109.8 478.3,106.3 477.1,103.9 C475.9,101.6 474.0,98.9 474.8,98.1Z" fill="#7eafe0" />
<path d="M475.8 98.2h.9v.9h-.9zM477.1 97.1h.9v.9h-.9zM477.7 98.1h.9v.9h-.9zM479.2 96.9h.9v.9h-.9zM480.0 99.2h.9v.9h-.9zM481.3 98.4h.9v.9h-.9zM482.6 97.9h.9v.9h-.9zM483.4 99.5h.9v.9h-.9zM484.3 97.8h.9v.9h-.9zM485.6 98.2h.9v.9h-.9zM485.9 98.6h.9v.9h-.9zM488.2 99.6h.9v.9h-.9zM489.4 99.8h.9v.9h-.9zM490.1 100.4h.9v.9h-.9zM491.4 99.7h.9v.9h-.9zM491.5 101.6h.9v.9h-.9zM491.9 101.9h.9v.9h-.9zM493.7 102.8h.9v.9h-.9zM492.9 104.9h.9v.9h-.9zM493.1 105.4h.9v.9h-.9zM493.8 106.6h.9v.9h-.9zM494.7 108.3h.9v.9h-.9zM494.1 109.5h.9v.9h-.9zM494.8 110.9h.9v.9h-.9zM494.7 111.8h.9v.9h-.9zM492.6 112.5h.9v.9h-.9zM492.9 113.3h.9v.9h-.9zM491.9 114.0h.9v.9h-.9zM491.7 115.7h.9v.9h-.9zM491.8 117.5h.9v.9h-.9zM490.6 117.1h.9v.9h-.9zM489.6 118.4h.9v.9h-.9zM488.8 118.1h.9v.9h-.9zM488.0 117.9h.9v.9h-.9zM486.6 117.7h.9v.9h-.9zM485.9 117.9h.9v.9h-.9zM485.5 117.4h.9v.9h-.9zM484.9 116.3h.9v.9h-.9zM483.3 115.2h.9v.9h-.9zM483.1 115.8h.9v.9h-.9zM481.5 114.3h.9v.9h-.9zM482.1 112.8h.9v.9h-.9zM481.8 111.7h.9v.9h-.9zM480.2 112.8h.9v.9h-.9zM480.0 110.1h.9v.9h-.9zM480.2 110.0h.9v.9h-.9zM478.5 109.1h.9v.9h-.9zM478.7 108.5h.9v.9h-.9zM479.3 107.7h.9v.9h-.9zM478.8 106.6h.9v.9h-.9zM477.9 106.5h.9v.9h-.9zM477.4 103.9h.9v.9h-.9zM476.3 102.9h.9v.9h-.9zM476.0 103.3h.9v.9h-.9zM476.3 102.0h.9v.9h-.9zM475.9 101.4h.9v.9h-.9zM473.7 100.5h.9v.9h-.9zM474.3 99.3h.9v.9h-.9z" fill="#7eafe0"/>
<path d="M491.1,103.9 C491.7,103.2 494.8,102.5 495.8,102.8 C496.8,103.0 497.6,104.9 497.0,105.6 C496.4,106.3 493.3,107.3 492.3,107.0 C491.3,106.7 490.5,104.6 491.1,103.9Z" fill="#8b2fe0" />
<path d="M491.2 104.0h.9v.9h-.9zM492.8 103.4h.9v.9h-.9zM494.1 102.3h.9v.9h-.9zM494.7 102.8h.9v.9h-.9zM498.1 103.0h.9v.9h-.9zM497.2 106.1h.9v.9h-.9zM496.1 106.7h.9v.9h-.9zM495.0 107.0h.9v.9h-.9zM494.4 107.2h.9v.9h-.9zM491.1 107.0h.9v.9h-.9zM490.5 105.2h.9v.9h-.9zM490.8 104.7h.9v.9h-.9z" fill="#8b2fe0"/>
<path d="M494.6,102.8 C495.2,102.1 497.6,101.2 499.3,100.4 C501.1,99.7 503.7,98.2 505.1,98.1 C506.6,98.0 507.6,98.8 507.9,100.0 C508.3,101.1 508.1,104.1 507.5,105.1 C506.8,106.2 505.3,106.4 504.0,106.3 C502.6,106.2 500.7,104.9 499.3,104.6 C497.9,104.4 496.6,105.0 495.8,104.6 C495.0,104.3 494.1,103.5 494.6,102.8Z" fill="#8b2fe0" />
<path d="M495.4 101.9h.9v.9h-.9zM496.3 102.0h.9v.9h-.9zM497.4 101.5h.9v.9h-.9zM497.6 100.4h.9v.9h-.9zM498.1 99.1h.9v.9h-.9zM500.3 100.2h.9v.9h-.9zM499.8 98.4h.9v.9h-.9zM502.0 99.5h.9v.9h-.9zM503.4 98.7h.9v.9h-.9zM503.0 97.3h.9v.9h-.9zM506.3 98.0h.9v.9h-.9zM507.8 97.9h.9v.9h-.9zM509.0 98.1h.9v.9h-.9zM508.4 100.7h.9v.9h-.9zM508.2 102.3h.9v.9h-.9zM509.3 103.5h.9v.9h-.9zM507.9 103.8h.9v.9h-.9zM508.4 105.1h.9v.9h-.9zM507.6 105.8h.9v.9h-.9zM506.9 107.3h.9v.9h-.9zM505.7 107.1h.9v.9h-.9zM504.9 107.9h.9v.9h-.9zM504.5 107.4h.9v.9h-.9zM503.3 106.7h.9v.9h-.9zM503.2 106.0h.9v.9h-.9zM500.1 105.0h.9v.9h-.9zM499.4 105.6h.9v.9h-.9zM498.6 104.3h.9v.9h-.9zM497.8 105.4h.9v.9h-.9zM497.1 105.2h.9v.9h-.9zM496.6 105.9h.9v.9h-.9zM495.8 104.6h.9v.9h-.9z" fill="#8b2fe0"/>
<path d="M412.3,129.8 C412.3,127.3 414.1,124.5 415.8,122.8 C417.6,121.0 420.7,119.5 422.8,119.3 C425.0,119.1 426.7,119.9 428.6,121.6 C430.6,123.4 432.5,127.1 434.5,129.8 C436.4,132.5 439.2,135.8 440.3,138.0 C441.5,140.1 442.1,141.5 441.5,142.6 C440.9,143.8 438.8,144.8 436.8,145.0 C434.9,145.2 432.2,144.4 429.8,143.8 C427.5,143.2 425.1,142.4 422.8,141.5 C420.5,140.5 417.6,139.9 415.8,138.0 C414.1,136.0 412.3,132.3 412.3,129.8Z" fill="#b2dc8d" />
<path d="M410.8 129.4h.9v.9h-.9zM412.0 127.8h.9v.9h-.9zM413.3 126.7h.9v.9h-.9zM413.0 124.8h.9v.9h-.9zM414.3 125.1h.9v.9h-.9zM414.4 124.7h.9v.9h-.9zM414.3 122.5h.9v.9h-.9zM416.2 121.8h.9v.9h-.9zM417.9 121.4h.9v.9h-.9zM416.6 120.0h.9v.9h-.9zM418.5 120.6h.9v.9h-.9zM418.0 121.1h.9v.9h-.9zM418.8 119.3h.9v.9h-.9zM420.6 118.8h.9v.9h-.9zM422.7 119.4h.9v.9h-.9zM423.0 117.5h.9v.9h-.9zM424.3 117.6h.9v.9h-.9zM426.2 120.0h.9v.9h-.9zM427.2 119.9h.9v.9h-.9zM429.1 119.9h.9v.9h-.9zM428.7 121.9h.9v.9h-.9zM428.7 121.5h.9v.9h-.9zM429.7 123.2h.9v.9h-.9zM432.2 123.3h.9v.9h-.9zM431.5 125.0h.9v.9h-.9zM431.4 125.6h.9v.9h-.9zM432.2 126.7h.9v.9h-.9zM432.7 127.3h.9v.9h-.9zM435.1 127.7h.9v.9h-.9zM435.1 130.7h.9v.9h-.9zM436.9 132.2h.9v.9h-.9zM437.4 131.9h.9v.9h-.9zM437.0 133.6h.9v.9h-.9zM437.8 131.9h.9v.9h-.9zM439.4 133.8h.9v.9h-.9zM438.7 135.3h.9v.9h-.9zM440.1 136.0h.9v.9h-.9zM438.7 136.0h.9v.9h-.9zM440.2 136.9h.9v.9h-.9zM440.6 138.3h.9v.9h-.9zM441.7 138.9h.9v.9h-.9zM442.9 140.1h.9v.9h-.9zM442.4 140.7h.9v.9h-.9zM441.6 141.9h.9v.9h-.9zM441.0 143.5h.9v.9h-.9zM440.7 144.7h.9v.9h-.9zM439.1 145.8h.9v.9h-.9zM437.2 146.0h.9v.9h-.9zM436.5 146.2h.9v.9h-.9zM435.3 144.7h.9v.9h-.9zM434.2 145.2h.9v.9h-.9zM432.2 145.3h.9v.9h-.9zM431.4 144.9h.9v.9h-.9zM430.8 144.6h.9v.9h-.9zM428.8 143.4h.9v.9h-.9zM428.1 144.2h.9v.9h-.9zM427.3 143.3h.9v.9h-.9zM425.1 143.6h.9v.9h-.9zM424.2 142.3h.9v.9h-.9zM423.2 143.1h.9v.9h-.9zM422.6 142.1h.9v.9h-.9zM422.3 141.4h.9v.9h-.9zM421.3 141.1h.9v.9h-.9zM421.0 141.3h.9v.9h-.9zM420.3 140.5h.9v.9h-.9zM418.2 140.5h.9v.9h-.9zM417.2 138.9h.9v.9h-.9zM416.8 138.7h.9v.9h-.9zM415.6 138.9h.9v.9h-.9zM415.0 137.4h.9v.9h-.9zM414.5 136.6h.9v.9h-.9zM413.8 134.4h.9v.9h-.9zM411.7 133.2h.9v.9h-.9zM413.1 132.8h.9v.9h-.9zM412.9 132.5h.9v.9h-.9zM411.9 132.4h.9v.9h-.9zM412.0 130.9h.9v.9h-.9zM411.4 130.8h.9v.9h-.9z" fill="#b2dc8d"/>
<path d="M519.2,116.7 C519.3,115.3 520.8,112.0 521.7,110.5 C522.6,109.1 523.8,108.3 524.9,108.1 C526.1,107.9 527.2,108.7 528.6,109.3 C530.0,109.9 532.3,110.5 533.5,111.8 C534.8,113.0 536.0,115.1 536.0,116.7 C536.0,118.3 534.4,120.1 533.5,121.6 C532.7,123.2 532.1,125.6 531.1,126.1 C530.0,126.6 528.6,125.3 527.4,124.6 C526.1,123.8 524.7,122.5 523.7,121.6 C522.6,120.7 522.0,120.0 521.2,119.2 C520.5,118.3 519.2,118.1 519.2,116.7Z" fill="#f8806e" />
<path d="M519.6 115.6h.9v.9h-.9zM518.9 113.5h.9v.9h-.9zM520.1 113.0h.9v.9h-.9zM520.2 112.5h.9v.9h-.9zM520.7 111.7h.9v.9h-.9zM520.6 110.0h.9v.9h-.9zM522.6 109.8h.9v.9h-.9zM524.0 108.6h.9v.9h-.9zM524.3 107.3h.9v.9h-.9zM525.3 108.3h.9v.9h-.9zM526.3 108.2h.9v.9h-.9zM527.1 107.5h.9v.9h-.9zM527.9 108.9h.9v.9h-.9zM529.2 108.0h.9v.9h-.9zM529.5 109.1h.9v.9h-.9zM529.8 109.9h.9v.9h-.9zM531.2 109.0h.9v.9h-.9zM532.2 108.8h.9v.9h-.9zM534.4 112.2h.9v.9h-.9zM534.6 113.1h.9v.9h-.9zM535.3 113.0h.9v.9h-.9zM535.4 114.6h.9v.9h-.9zM535.8 115.7h.9v.9h-.9zM535.7 116.2h.9v.9h-.9zM536.8 117.4h.9v.9h-.9zM536.7 119.6h.9v.9h-.9zM535.0 120.7h.9v.9h-.9zM534.2 121.3h.9v.9h-.9zM533.6 121.7h.9v.9h-.9zM533.1 122.8h.9v.9h-.9zM533.4 124.0h.9v.9h-.9zM531.8 124.9h.9v.9h-.9zM531.3 126.0h.9v.9h-.9zM530.1 127.4h.9v.9h-.9zM529.5 126.8h.9v.9h-.9zM527.7 125.7h.9v.9h-.9zM527.8 124.8h.9v.9h-.9zM526.9 124.8h.9v.9h-.9zM525.4 123.0h.9v.9h-.9zM524.2 122.0h.9v.9h-.9zM523.2 121.7h.9v.9h-.9zM522.3 120.5h.9v.9h-.9zM520.2 120.5h.9v.9h-.9zM520.6 118.7h.9v.9h-.9zM520.3 118.3h.9v.9h-.9z" fill="#f8806e"/>
<path d="M438.5,165.0 C438.9,164.6 439.5,169.5 440.9,170.9 C442.2,172.2 444.2,172.6 446.7,173.2 C449.2,173.8 453.1,174.0 456.1,174.4 C459.0,174.8 461.9,175.5 464.2,175.5 C466.6,175.5 468.1,174.8 470.1,174.4 C472.0,174.0 474.2,173.8 475.9,173.2 C477.7,172.6 478.8,171.4 480.6,170.9 C482.3,170.4 484.5,170.0 486.4,170.2 C488.4,170.4 490.3,171.8 492.3,172.0 C494.2,172.3 496.4,171.8 498.1,171.6 C499.9,171.4 501.2,171.1 502.8,170.9 C504.3,170.6 505.9,170.4 507.4,170.2 C509.0,170.0 511.1,169.2 512.1,169.7 C513.2,170.2 513.6,170.5 513.8,173.2 C513.9,175.9 513.6,182.2 513.3,186.1 C512.9,190.0 513.4,193.8 511.6,196.6 C509.9,199.3 505.4,200.3 502.8,202.4 C500.1,204.5 497.7,206.7 495.8,209.4 C493.8,212.1 492.7,215.6 491.1,218.8 C489.5,221.9 488.4,225.8 486.4,228.1 C484.5,230.4 482.1,232.0 479.4,232.8 C476.7,233.6 473.2,233.0 470.1,232.8 C467.0,232.6 463.5,232.4 460.7,231.6 C458.0,230.8 456.1,229.1 453.7,228.1 C451.4,227.1 449.1,226.5 446.7,225.8 C444.4,225.0 441.7,224.8 439.7,223.4 C437.8,222.1 435.8,219.5 435.0,217.6 C434.3,215.6 434.6,213.9 435.0,211.8 C435.4,209.6 437.1,207.9 437.4,204.7 C437.7,201.6 436.8,197.0 436.9,193.1 C437.0,189.2 437.6,184.7 437.8,181.4 C438.1,178.1 438.4,175.9 438.5,173.2 C438.7,170.5 438.2,165.4 438.5,165.0Z" fill="#a67f7d" />
<path d="M438.7 165.0h.9v.9h-.9zM438.8 166.4h.9v.9h-.9zM440.9 167.8h.9v.9h-.9zM441.2 169.3h.9v.9h-.9zM440.3 170.2h.9v.9h-.9zM441.2 171.5h.9v.9h-.9zM442.1 170.9h.9v.9h-.9zM443.8 171.1h.9v.9h-.9zM443.8 172.0h.9v.9h-.9zM445.2 173.0h.9v.9h-.9zM446.3 172.9h.9v.9h-.9zM447.4 172.2h.9v.9h-.9zM448.3 172.0h.9v.9h-.9zM448.9 172.4h.9v.9h-.9zM449.4 173.6h.9v.9h-.9zM451.2 172.7h.9v.9h-.9zM452.5 174.2h.9v.9h-.9zM453.8 174.1h.9v.9h-.9zM455.5 173.6h.9v.9h-.9zM456.3 174.7h.9v.9h-.9zM458.2 175.0h.9v.9h-.9zM459.7 174.8h.9v.9h-.9zM460.6 174.7h.9v.9h-.9zM462.2 173.8h.9v.9h-.9zM464.2 175.6h.9v.9h-.9zM463.1 174.6h.9v.9h-.9zM464.6 175.5h.9v.9h-.9zM465.8 174.8h.9v.9h-.9zM466.5 173.9h.9v.9h-.9zM468.1 175.2h.9v.9h-.9zM468.9 174.2h.9v.9h-.9zM469.2 172.9h.9v.9h-.9zM471.0 172.7h.9v.9h-.9zM472.3 174.0h.9v.9h-.9zM473.5 172.8h.9v.9h-.9zM474.8 173.2h.9v.9h-.9zM475.2 173.1h.9v.9h-.9zM477.7 172.2h.9v.9h-.9zM478.6 172.1h.9v.9h-.9zM478.9 170.7h.9v.9h-.9zM479.9 171.2h.9v.9h-.9zM480.9 169.9h.9v.9h-.9zM481.8 169.6h.9v.9h-.9zM482.6 170.1h.9v.9h-.9zM483.5 169.1h.9v.9h-.9zM485.2 170.4h.9v.9h-.9zM486.2 170.3h.9v.9h-.9zM488.5 169.4h.9v.9h-.9zM489.0 170.8h.9v.9h-.9zM489.7 170.9h.9v.9h-.9zM491.2 170.8h.9v.9h-.9zM491.6 172.2h.9v.9h-.9zM492.4 170.9h.9v.9h-.9zM494.1 171.2h.9v.9h-.9zM494.4 170.4h.9v.9h-.9zM495.8 171.7h.9v.9h-.9zM496.8 171.2h.9v.9h-.9zM497.7 169.8h.9v.9h-.9zM499.1 171.2h.9v.9h-.9zM500.4 171.2h.9v.9h-.9zM501.6 170.8h.9v.9h-.9zM503.6 169.1h.9v.9h-.9zM504.4 170.8h.9v.9h-.9zM505.3 170.7h.9v.9h-.9zM506.3 170.5h.9v.9h-.9zM507.0 168.9h.9v.9h-.9zM507.7 170.4h.9v.9h-.9zM508.3 168.1h.9v.9h-.9zM509.1 169.4h.9v.9h-.9zM510.2 169.7h.9v.9h-.9zM511.9 169.7h.9v.9h-.9zM513.5 171.1h.9v.9h-.9zM513.6 172.0h.9v.9h-.9zM513.8 173.1h.9v.9h-.9zM515.6 173.7h.9v.9h-.9zM513.6 173.5h.9v.9h-.9zM514.1 175.5h.9v.9h-.9zM513.6 176.6h.9v.9h-.9zM513.7 178.3h.9v.9h-.9zM513.7 177.9h.9v.9h-.9zM513.4 180.8h.9v.9h-.9zM515.3 181.2h.9v.9h-.9zM513.5 183.4h.9v.9h-.9zM515.2 183.8h.9v.9h-.9zM513.5 184.8h.9v.9h-.9zM514.9 184.5h.9v.9h-.9zM514.8 187.5h.9v.9h-.9zM513.0 186.7h.9v.9h-.9zM513.8 189.9h.9v.9h-.9zM513.9 189.6h.9v.9h-.9zM513.0 190.8h.9v.9h-.9zM514.8 190.7h.9v.9h-.9zM513.8 192.9h.9v.9h-.9zM513.7 192.4h.9v.9h-.9zM514.5 194.1h.9v.9h-.9zM512.4 193.7h.9v.9h-.9zM513.0 196.2h.9v.9h-.9zM511.5 198.5h.9v.9h-.9zM509.4 198.5h.9v.9h-.9zM509.7 199.9h.9v.9h-.9zM509.0 199.9h.9v.9h-.9zM506.8 200.3h.9v.9h-.9zM506.0 202.5h.9v.9h-.9zM502.9 202.4h.9v.9h-.9zM502.1 203.8h.9v.9h-.9zM503.1 204.5h.9v.9h-.9zM500.7 204.7h.9v.9h-.9zM498.9 205.5h.9v.9h-.9zM498.0 206.4h.9v.9h-.9zM497.8 206.5h.9v.9h-.9zM497.7 208.8h.9v.9h-.9zM497.6 208.6h.9v.9h-.9zM497.2 210.3h.9v.9h-.9zM496.3 208.5h.9v.9h-.9zM497.0 210.4h.9v.9h-.9zM493.8 212.2h.9v.9h-.9zM493.7 213.4h.9v.9h-.9zM493.5 213.5h.9v.9h-.9zM493.1 215.6h.9v.9h-.9zM491.8 216.7h.9v.9h-.9zM492.8 218.6h.9v.9h-.9zM491.4 219.8h.9v.9h-.9zM490.5 220.3h.9v.9h-.9zM489.8 221.2h.9v.9h-.9zM489.4 223.3h.9v.9h-.9zM490.5 224.5h.9v.9h-.9zM488.1 226.5h.9v.9h-.9zM489.3 226.9h.9v.9h-.9zM487.1 228.5h.9v.9h-.9zM488.1 228.6h.9v.9h-.9zM486.4 229.0h.9v.9h-.9zM485.2 230.2h.9v.9h-.9zM484.0 230.7h.9v.9h-.9zM483.5 230.4h.9v.9h-.9zM483.9 232.3h.9v.9h-.9zM481.0 232.1h.9v.9h-.9zM481.2 231.9h.9v.9h-.9zM480.3 233.4h.9v.9h-.9zM478.2 233.7h.9v.9h-.9zM477.9 234.1h.9v.9h-.9zM476.9 235.0h.9v.9h-.9zM475.9 234.7h.9v.9h-.9zM474.7 233.8h.9v.9h-.9zM474.3 234.3h.9v.9h-.9zM472.1 233.1h.9v.9h-.9zM471.2 234.1h.9v.9h-.9zM468.6 232.4h.9v.9h-.9zM468.6 233.4h.9v.9h-.9zM468.4 233.7h.9v.9h-.9zM466.5 233.0h.9v.9h-.9zM463.6 233.6h.9v.9h-.9zM462.2 231.8h.9v.9h-.9zM462.6 233.8h.9v.9h-.9zM461.3 231.5h.9v.9h-.9zM461.3 232.3h.9v.9h-.9zM460.4 231.4h.9v.9h-.9zM458.4 232.6h.9v.9h-.9zM457.1 232.0h.9v.9h-.9zM456.9 230.1h.9v.9h-.9zM454.5 230.1h.9v.9h-.9zM454.3 229.8h.9v.9h-.9zM454.3 229.2h.9v.9h-.9zM453.4 228.5h.9v.9h-.9zM451.8 228.2h.9v.9h-.9zM451.6 227.5h.9v.9h-.9zM450.7 226.7h.9v.9h-.9zM449.5 227.2h.9v.9h-.9zM449.9 227.3h.9v.9h-.9zM448.4 226.0h.9v.9h-.9zM446.9 227.0h.9v.9h-.9zM446.2 227.4h.9v.9h-.9zM444.3 227.0h.9v.9h-.9zM443.9 225.0h.9v.9h-.9zM442.5 224.4h.9v.9h-.9zM441.0 223.9h.9v.9h-.9zM440.2 223.6h.9v.9h-.9zM438.8 224.2h.9v.9h-.9zM437.9 221.8h.9v.9h-.9zM436.6 221.6h.9v.9h-.9zM436.5 220.6h.9v.9h-.9zM435.5 219.0h.9v.9h-.9zM435.4 217.9h.9v.9h-.9zM434.1 217.5h.9v.9h-.9zM433.8 216.7h.9v.9h-.9zM434.9 215.6h.9v.9h-.9zM434.8 214.3h.9v.9h-.9zM435.2 212.4h.9v.9h-.9zM434.6 211.1h.9v.9h-.9zM434.6 210.4h.9v.9h-.9zM435.8 209.1h.9v.9h-.9zM436.7 208.1h.9v.9h-.9zM437.1 206.5h.9v.9h-.9zM437.2 205.7h.9v.9h-.9zM437.3 203.7h.9v.9h-.9zM436.0 202.4h.9v.9h-.9zM436.3 201.3h.9v.9h-.9zM436.3 200.5h.9v.9h-.9zM435.4 200.0h.9v.9h-.9zM436.8 199.2h.9v.9h-.9zM437.1 197.7h.9v.9h-.9zM436.3 196.8h.9v.9h-.9zM435.1 195.5h.9v.9h-.9zM437.1 193.6h.9v.9h-.9zM437.1 194.1h.9v.9h-.9zM437.2 192.0h.9v.9h-.9zM436.6 191.1h.9v.9h-.9zM436.5 189.2h.9v.9h-.9zM436.2 190.1h.9v.9h-.9zM437.5 188.7h.9v.9h-.9zM435.7 187.3h.9v.9h-.9zM436.0 185.8h.9v.9h-.9zM437.4 186.4h.9v.9h-.9zM437.1 183.3h.9v.9h-.9zM436.9 184.0h.9v.9h-.9zM438.0 182.4h.9v.9h-.9zM437.8 180.1h.9v.9h-.9zM436.9 180.2h.9v.9h-.9zM437.7 179.5h.9v.9h-.9zM438.5 177.3h.9v.9h-.9zM437.1 176.7h.9v.9h-.9zM438.4 175.1h.9v.9h-.9zM438.5 174.0h.9v.9h-.9zM437.1 171.8h.9v.9h-.9zM436.9 170.5h.9v.9h-.9zM437.8 170.5h.9v.9h-.9zM437.9 169.8h.9v.9h-.9zM438.1 169.5h.9v.9h-.9zM438.0 167.8h.9v.9h-.9zM436.6 165.6h.9v.9h-.9zM438.3 165.1h.9v.9h-.9z" fill="#a67f7d"/>
<path d="M447.3 163.3h1.0v1.0h-1.0zM491.0 167.8h1.0v1.0h-1.0zM446.7 161.6h1.0v1.0h-1.0zM472.8 167.0h1.0v1.0h-1.0zM508.2 171.0h1.0v1.0h-1.0zM490.7 167.5h1.0v1.0h-1.0zM442.0 172.2h1.0v1.0h-1.0zM449.5 172.2h1.0v1.0h-1.0zM493.4 167.9h1.0v1.0h-1.0zM444.7 162.5h1.0v1.0h-1.0zM498.5 170.1h1.0v1.0h-1.0zM470.0 166.2h1.0v1.0h-1.0zM439.6 167.9h1.0v1.0h-1.0zM450.8 166.7h1.0v1.0h-1.0zM511.5 171.1h1.0v1.0h-1.0zM449.5 165.1h1.0v1.0h-1.0zM455.1 166.8h1.0v1.0h-1.0zM457.4 170.7h1.0v1.0h-1.0zM505.2 169.9h1.0v1.0h-1.0zM486.2 173.1h1.0v1.0h-1.0zM462.2 164.8h1.0v1.0h-1.0zM456.2 166.0h1.0v1.0h-1.0zM439.4 160.4h1.0v1.0h-1.0zM453.9 172.7h1.0v1.0h-1.0zM490.1 167.8h1.0v1.0h-1.0zM443.6 163.4h1.0v1.0h-1.0zM488.3 167.3h1.0v1.0h-1.0zM456.1 162.8h1.0v1.0h-1.0zM467.3 166.6h1.0v1.0h-1.0zM465.0 168.0h1.0v1.0h-1.0zM487.0 171.0h1.0v1.0h-1.0zM465.7 169.2h1.0v1.0h-1.0zM495.3 168.5h1.0v1.0h-1.0zM461.9 167.0h1.0v1.0h-1.0zM443.2 172.6h1.0v1.0h-1.0zM458.9 173.0h1.0v1.0h-1.0zM456.2 166.9h1.0v1.0h-1.0zM492.0 168.4h1.0v1.0h-1.0zM509.0 170.9h1.0v1.0h-1.0zM469.0 165.9h1.0v1.0h-1.0zM461.7 170.2h1.0v1.0h-1.0zM446.4 172.0h1.0v1.0h-1.0zM465.6 173.6h1.0v1.0h-1.0zM456.5 171.6h1.0v1.0h-1.0zM482.2 171.6h1.0v1.0h-1.0zM511.9 168.0h1.0v1.0h-1.0zM473.7 168.7h1.0v1.0h-1.0zM483.0 174.2h1.0v1.0h-1.0zM462.0 174.0h1.0v1.0h-1.0zM460.2 168.0h1.0v1.0h-1.0zM450.7 166.5h1.0v1.0h-1.0zM475.8 169.6h1.0v1.0h-1.0zM448.7 160.2h1.0v1.0h-1.0zM481.8 167.0h1.0v1.0h-1.0zM486.4 169.9h1.0v1.0h-1.0zM451.1 172.0h1.0v1.0h-1.0zM444.5 169.2h1.0v1.0h-1.0zM462.1 175.0h1.0v1.0h-1.0zM448.4 166.5h1.0v1.0h-1.0zM447.8 160.1h1.0v1.0h-1.0zM494.1 171.8h1.0v1.0h-1.0zM449.6 163.0h1.0v1.0h-1.0zM501.1 172.3h1.0v1.0h-1.0zM512.9 169.3h1.0v1.0h-1.0zM448.2 162.9h1.0v1.0h-1.0zM448.1 174.4h1.0v1.0h-1.0zM485.4 170.5h1.0v1.0h-1.0zM498.1 171.2h1.0v1.0h-1.0zM466.6 166.2h1.0v1.0h-1.0zM485.8 166.7h1.0v1.0h-1.0zM457.5 163.4h1.0v1.0h-1.0zM471.2 173.4h1.0v1.0h-1.0zM452.4 167.0h1.0v1.0h-1.0zM485.9 173.8h1.0v1.0h-1.0zM470.1 174.1h1.0v1.0h-1.0zM463.4 169.9h1.0v1.0h-1.0zM469.2 172.9h1.0v1.0h-1.0zM469.8 168.1h1.0v1.0h-1.0zM484.0 171.8h1.0v1.0h-1.0zM473.1 173.6h1.0v1.0h-1.0zM478.5 173.4h1.0v1.0h-1.0zM459.6 172.9h1.0v1.0h-1.0zM483.2 168.5h1.0v1.0h-1.0zM441.7 167.1h1.0v1.0h-1.0zM471.8 175.3h1.0v1.0h-1.0zM467.8 166.1h1.0v1.0h-1.0zM458.0 165.0h1.0v1.0h-1.0zM460.2 174.9h1.0v1.0h-1.0zM459.2 174.1h1.0v1.0h-1.0zM499.3 169.9h1.0v1.0h-1.0zM474.1 170.7h1.0v1.0h-1.0zM440.0 169.1h1.0v1.0h-1.0zM442.9 173.8h1.0v1.0h-1.0zM448.2 165.4h1.0v1.0h-1.0zM442.8 170.3h1.0v1.0h-1.0zM446.9 159.7h1.0v1.0h-1.0zM492.9 170.3h1.0v1.0h-1.0zM444.9 162.8h1.0v1.0h-1.0zM482.0 166.7h1.0v1.0h-1.0zM469.5 173.0h1.0v1.0h-1.0zM495.9 170.4h1.0v1.0h-1.0zM461.6 168.0h1.0v1.0h-1.0zM477.2 172.3h1.0v1.0h-1.0zM455.6 163.2h1.0v1.0h-1.0zM459.9 166.7h1.0v1.0h-1.0zM498.9 170.8h1.0v1.0h-1.0zM510.3 167.5h1.0v1.0h-1.0zM483.6 168.4h1.0v1.0h-1.0zM498.2 171.8h1.0v1.0h-1.0zM460.7 168.4h1.0v1.0h-1.0zM467.9 174.8h1.0v1.0h-1.0zM479.0 165.8h1.0v1.0h-1.0zM482.8 166.2h1.0v1.0h-1.0zM440.5 171.1h1.0v1.0h-1.0zM452.5 161.5h1.0v1.0h-1.0zM467.7 175.5h1.0v1.0h-1.0zM444.0 164.7h1.0v1.0h-1.0zM464.3 170.3h1.0v1.0h-1.0zM491.4 172.0h1.0v1.0h-1.0zM490.2 172.0h1.0v1.0h-1.0zM493.0 168.5h1.0v1.0h-1.0zM461.0 171.4h1.0v1.0h-1.0zM483.9 173.7h1.0v1.0h-1.0zM505.4 170.7h1.0v1.0h-1.0zM496.1 169.1h1.0v1.0h-1.0zM477.1 173.9h1.0v1.0h-1.0zM469.3 172.9h1.0v1.0h-1.0zM474.8 168.3h1.0v1.0h-1.0zM449.9 160.8h1.0v1.0h-1.0zM487.4 168.0h1.0v1.0h-1.0zM476.3 167.1h1.0v1.0h-1.0zM465.7 175.6h1.0v1.0h-1.0zM461.3 167.3h1.0v1.0h-1.0zM461.3 168.5h1.0v1.0h-1.0zM461.8 165.3h1.0v1.0h-1.0zM441.6 163.8h1.0v1.0h-1.0zM473.5 168.8h1.0v1.0h-1.0zM474.1 174.0h1.0v1.0h-1.0zM510.9 170.7h1.0v1.0h-1.0zM511.3 166.7h1.0v1.0h-1.0z" fill="#a67f7d"/>
<path d="M500.5 150.8h1.0v1.0h-1.0zM503.3 152.2h1.0v1.0h-1.0zM498.7 151.9h1.0v1.0h-1.0zM497.6 153.7h1.0v1.0h-1.0zM507.6 155.2h1.0v1.0h-1.0zM504.5 152.2h1.0v1.0h-1.0zM497.4 155.2h1.0v1.0h-1.0zM492.1 153.9h1.0v1.0h-1.0zM492.7 156.9h1.0v1.0h-1.0zM499.5 157.3h1.0v1.0h-1.0zM486.1 151.7h1.0v1.0h-1.0zM508.9 150.8h1.0v1.0h-1.0zM488.4 155.5h1.0v1.0h-1.0zM496.2 159.1h1.0v1.0h-1.0zM507.0 155.8h1.0v1.0h-1.0zM495.9 154.3h1.0v1.0h-1.0zM496.8 157.9h1.0v1.0h-1.0zM501.9 150.3h1.0v1.0h-1.0zM504.0 151.2h1.0v1.0h-1.0zM508.1 150.9h1.0v1.0h-1.0zM502.5 158.1h1.0v1.0h-1.0zM498.1 150.0h1.0v1.0h-1.0zM484.7 156.5h1.0v1.0h-1.0zM504.4 153.2h1.0v1.0h-1.0zM504.5 153.5h1.0v1.0h-1.0z" fill="#a67f7d"/>
<path d="M467.7,233.9 C472.7,233.7 479.8,232.0 484.1,228.1 C488.4,224.2 489.1,215.7 493.4,210.6 C497.7,205.4 506.1,199.2 509.8,197.3 C513.5,195.3 514.3,197.7 515.6,198.9 C517.0,200.2 517.2,202.6 518.0,204.7 C518.7,206.9 519.7,209.0 520.3,211.8 C520.9,214.5 521.7,218.4 521.5,221.1 C521.3,223.8 520.3,225.4 519.1,228.1 C518.0,230.8 516.0,234.7 514.5,237.4 C512.9,240.2 511.7,242.9 509.8,244.5 C507.8,246.0 505.5,245.9 502.8,246.8 C500.0,247.6 496.2,248.7 493.4,249.6 C490.7,250.4 489.1,251.0 486.4,251.9 C483.7,252.8 479.8,255.0 477.1,255.0 C474.4,255.0 472.4,253.6 470.1,251.9 C467.7,250.3 465.4,247.3 463.1,244.9 C460.7,242.6 457.5,240.5 456.1,237.9 C454.6,235.3 452.2,229.9 454.2,229.3 C456.1,228.6 462.8,234.1 467.7,233.9Z" fill="#ac8886" />
<path d="M469.5 232.9h.9v.9h-.9zM469.5 234.0h.9v.9h-.9zM472.4 232.2h.9v.9h-.9zM472.1 232.7h.9v.9h-.9zM470.7 231.7h.9v.9h-.9zM473.8 232.2h.9v.9h-.9zM475.4 232.3h.9v.9h-.9zM474.1 232.9h.9v.9h-.9zM478.3 231.1h.9v.9h-.9zM479.1 231.4h.9v.9h-.9zM480.5 229.9h.9v.9h-.9zM479.5 231.4h.9v.9h-.9zM480.5 230.8h.9v.9h-.9zM481.3 228.2h.9v.9h-.9zM483.4 229.0h.9v.9h-.9zM483.2 227.6h.9v.9h-.9zM484.1 226.7h.9v.9h-.9zM485.6 225.9h.9v.9h-.9zM485.8 222.3h.9v.9h-.9zM485.7 223.4h.9v.9h-.9zM485.2 225.1h.9v.9h-.9zM486.6 221.3h.9v.9h-.9zM486.7 221.4h.9v.9h-.9zM487.4 221.7h.9v.9h-.9zM489.2 219.5h.9v.9h-.9zM489.0 218.6h.9v.9h-.9zM487.9 217.1h.9v.9h-.9zM489.4 215.7h.9v.9h-.9zM490.5 216.3h.9v.9h-.9zM488.8 215.6h.9v.9h-.9zM490.7 214.1h.9v.9h-.9zM492.9 211.8h.9v.9h-.9zM491.1 211.2h.9v.9h-.9zM490.8 212.8h.9v.9h-.9zM494.9 209.3h.9v.9h-.9zM493.8 210.6h.9v.9h-.9zM493.1 208.2h.9v.9h-.9zM497.1 206.7h.9v.9h-.9zM497.0 207.1h.9v.9h-.9zM495.8 205.5h.9v.9h-.9zM500.5 202.2h.9v.9h-.9zM499.6 203.4h.9v.9h-.9zM499.3 202.4h.9v.9h-.9zM503.3 200.0h.9v.9h-.9zM502.7 199.8h.9v.9h-.9zM501.6 202.0h.9v.9h-.9zM504.8 199.9h.9v.9h-.9zM506.6 198.2h.9v.9h-.9zM505.2 198.7h.9v.9h-.9zM508.1 198.3h.9v.9h-.9zM508.8 196.6h.9v.9h-.9zM507.6 196.4h.9v.9h-.9zM510.7 196.7h.9v.9h-.9zM510.0 197.5h.9v.9h-.9zM512.0 196.9h.9v.9h-.9zM513.8 195.8h.9v.9h-.9zM514.7 195.7h.9v.9h-.9zM515.5 197.4h.9v.9h-.9zM515.6 198.0h.9v.9h-.9zM516.1 199.9h.9v.9h-.9zM516.9 200.9h.9v.9h-.9zM518.0 201.9h.9v.9h-.9zM517.7 202.7h.9v.9h-.9zM518.9 204.1h.9v.9h-.9zM517.8 205.2h.9v.9h-.9zM518.6 206.5h.9v.9h-.9zM520.6 207.4h.9v.9h-.9zM519.3 208.0h.9v.9h-.9zM519.9 210.1h.9v.9h-.9zM521.6 210.4h.9v.9h-.9zM520.8 211.5h.9v.9h-.9zM521.9 212.6h.9v.9h-.9zM520.6 214.4h.9v.9h-.9zM520.8 215.3h.9v.9h-.9zM521.8 218.0h.9v.9h-.9zM521.3 218.0h.9v.9h-.9zM522.7 218.4h.9v.9h-.9zM522.9 220.2h.9v.9h-.9zM522.9 221.8h.9v.9h-.9zM521.9 222.8h.9v.9h-.9zM522.0 224.7h.9v.9h-.9zM521.5 225.2h.9v.9h-.9zM520.2 225.8h.9v.9h-.9zM519.2 227.4h.9v.9h-.9zM520.6 229.4h.9v.9h-.9zM520.0 229.3h.9v.9h-.9zM518.8 230.9h.9v.9h-.9zM519.9 230.4h.9v.9h-.9zM516.8 232.5h.9v.9h-.9zM517.6 231.5h.9v.9h-.9zM516.5 233.1h.9v.9h-.9zM515.4 235.8h.9v.9h-.9zM516.7 236.4h.9v.9h-.9zM514.5 237.2h.9v.9h-.9zM515.5 237.3h.9v.9h-.9zM513.7 238.8h.9v.9h-.9zM513.5 240.0h.9v.9h-.9zM513.5 242.1h.9v.9h-.9zM511.8 241.6h.9v.9h-.9zM511.6 244.2h.9v.9h-.9zM509.9 244.0h.9v.9h-.9zM508.7 244.8h.9v.9h-.9zM507.6 245.3h.9v.9h-.9zM507.2 247.1h.9v.9h-.9zM506.0 246.5h.9v.9h-.9zM504.3 247.2h.9v.9h-.9zM503.9 246.9h.9v.9h-.9zM501.6 247.1h.9v.9h-.9zM502.4 246.6h.9v.9h-.9zM501.2 247.0h.9v.9h-.9zM501.0 248.6h.9v.9h-.9zM499.3 247.9h.9v.9h-.9zM499.5 247.6h.9v.9h-.9zM497.1 249.5h.9v.9h-.9zM495.2 248.9h.9v.9h-.9zM495.1 249.6h.9v.9h-.9zM493.7 249.4h.9v.9h-.9zM492.4 249.7h.9v.9h-.9zM491.2 250.4h.9v.9h-.9zM491.3 251.0h.9v.9h-.9zM491.2 252.0h.9v.9h-.9zM489.6 250.9h.9v.9h-.9zM489.0 252.8h.9v.9h-.9zM487.2 252.8h.9v.9h-.9zM486.0 253.4h.9v.9h-.9zM483.7 253.4h.9v.9h-.9zM481.9 254.0h.9v.9h-.9zM480.0 254.1h.9v.9h-.9zM481.4 254.3h.9v.9h-.9zM479.0 254.8h.9v.9h-.9zM478.1 256.0h.9v.9h-.9zM476.5 256.4h.9v.9h-.9zM474.6 254.3h.9v.9h-.9zM473.2 255.6h.9v.9h-.9zM472.6 254.8h.9v.9h-.9zM471.2 253.8h.9v.9h-.9zM470.5 252.4h.9v.9h-.9zM470.9 252.6h.9v.9h-.9zM469.0 251.2h.9v.9h-.9zM468.7 253.1h.9v.9h-.9zM468.3 250.7h.9v.9h-.9zM467.0 250.5h.9v.9h-.9zM467.8 249.8h.9v.9h-.9zM465.8 247.6h.9v.9h-.9zM465.5 247.2h.9v.9h-.9zM465.2 246.8h.9v.9h-.9zM462.6 246.4h.9v.9h-.9zM463.3 246.0h.9v.9h-.9zM461.9 243.9h.9v.9h-.9zM460.6 243.0h.9v.9h-.9zM460.7 244.2h.9v.9h-.9zM459.2 241.8h.9v.9h-.9zM459.8 242.6h.9v.9h-.9zM457.5 241.7h.9v.9h-.9zM458.5 240.8h.9v.9h-.9zM456.2 240.4h.9v.9h-.9zM457.8 240.4h.9v.9h-.9zM456.7 238.6h.9v.9h-.9zM456.1 239.7h.9v.9h-.9zM455.5 237.5h.9v.9h-.9zM454.0 236.0h.9v.9h-.9zM453.5 234.4h.9v.9h-.9zM453.6 231.9h.9v.9h-.9zM452.1 232.6h.9v.9h-.9zM453.1 230.8h.9v.9h-.9zM455.5 228.6h.9v.9h-.9zM457.1 230.2h.9v.9h-.9zM458.3 230.1h.9v.9h-.9zM458.3 228.6h.9v.9h-.9zM460.2 230.6h.9v.9h-.9zM462.3 232.9h.9v.9h-.9zM460.1 231.8h.9v.9h-.9zM463.4 233.3h.9v.9h-.9zM465.4 232.5h.9v.9h-.9zM466.8 233.4h.9v.9h-.9zM467.2 234.0h.9v.9h-.9z" fill="#ac8886"/>
<path d="M496.2 228.1h1.1v1.1h-1.1zM480.5 252.1h1.1v1.1h-1.1zM489.0 220.8h1.1v1.1h-1.1zM504.8 214.0h1.1v1.1h-1.1zM485.6 236.0h1.1v1.1h-1.1zM480.6 238.8h1.1v1.1h-1.1zM509.6 229.6h1.1v1.1h-1.1zM516.8 208.9h1.1v1.1h-1.1zM482.2 247.8h1.1v1.1h-1.1zM488.8 247.2h1.1v1.1h-1.1zM499.0 234.4h1.1v1.1h-1.1zM507.3 211.3h1.1v1.1h-1.1zM506.8 234.4h1.1v1.1h-1.1zM478.5 251.1h1.1v1.1h-1.1zM477.0 241.8h1.1v1.1h-1.1zM463.2 236.2h1.1v1.1h-1.1zM512.2 213.1h1.1v1.1h-1.1zM515.7 220.8h1.1v1.1h-1.1zM495.1 212.9h1.1v1.1h-1.1zM514.9 201.5h1.1v1.1h-1.1zM495.1 225.7h1.1v1.1h-1.1zM477.2 251.1h1.1v1.1h-1.1zM485.3 250.2h1.1v1.1h-1.1zM461.5 238.9h1.1v1.1h-1.1zM502.5 212.9h1.1v1.1h-1.1zM502.3 239.6h1.1v1.1h-1.1zM493.1 208.0h1.1v1.1h-1.1zM499.9 224.2h1.1v1.1h-1.1zM515.3 226.7h1.1v1.1h-1.1zM507.1 208.8h1.1v1.1h-1.1zM503.7 200.5h1.1v1.1h-1.1zM516.7 229.6h1.1v1.1h-1.1zM476.8 231.2h1.1v1.1h-1.1zM480.0 250.6h1.1v1.1h-1.1zM466.1 243.7h1.1v1.1h-1.1zM511.9 240.6h1.1v1.1h-1.1zM516.2 232.5h1.1v1.1h-1.1zM502.1 229.4h1.1v1.1h-1.1zM472.9 253.4h1.1v1.1h-1.1zM508.1 228.3h1.1v1.1h-1.1zM497.0 228.6h1.1v1.1h-1.1zM507.2 211.0h1.1v1.1h-1.1zM474.7 232.0h1.1v1.1h-1.1zM490.2 242.6h1.1v1.1h-1.1zM509.4 223.3h1.1v1.1h-1.1zM499.4 218.9h1.1v1.1h-1.1zM503.3 216.8h1.1v1.1h-1.1zM492.1 227.4h1.1v1.1h-1.1zM489.1 211.2h1.1v1.1h-1.1zM495.2 245.0h1.1v1.1h-1.1zM518.0 228.4h1.1v1.1h-1.1zM493.5 247.3h1.1v1.1h-1.1zM516.1 224.7h1.1v1.1h-1.1zM510.9 200.5h1.1v1.1h-1.1zM497.3 208.8h1.1v1.1h-1.1zM512.3 201.4h1.1v1.1h-1.1zM506.9 240.3h1.1v1.1h-1.1zM513.1 219.2h1.1v1.1h-1.1zM504.8 205.7h1.1v1.1h-1.1zM504.0 218.8h1.1v1.1h-1.1zM487.9 250.0h1.1v1.1h-1.1zM502.2 198.9h1.1v1.1h-1.1zM483.2 225.6h1.1v1.1h-1.1zM502.7 220.8h1.1v1.1h-1.1zM498.1 222.7h1.1v1.1h-1.1zM513.6 205.5h1.1v1.1h-1.1zM466.7 239.4h1.1v1.1h-1.1zM489.0 219.0h1.1v1.1h-1.1zM498.3 244.5h1.1v1.1h-1.1zM515.5 219.6h1.1v1.1h-1.1zM515.6 219.1h1.1v1.1h-1.1zM509.1 212.8h1.1v1.1h-1.1zM512.1 229.7h1.1v1.1h-1.1zM506.5 228.1h1.1v1.1h-1.1zM482.1 236.2h1.1v1.1h-1.1zM497.9 216.9h1.1v1.1h-1.1zM513.3 221.1h1.1v1.1h-1.1zM481.6 235.0h1.1v1.1h-1.1zM484.4 240.7h1.1v1.1h-1.1zM488.4 247.1h1.1v1.1h-1.1zM506.4 220.0h1.1v1.1h-1.1zM518.4 216.4h1.1v1.1h-1.1zM501.3 222.7h1.1v1.1h-1.1zM512.4 226.3h1.1v1.1h-1.1zM491.9 218.8h1.1v1.1h-1.1zM514.9 213.6h1.1v1.1h-1.1zM477.2 242.6h1.1v1.1h-1.1zM487.0 248.3h1.1v1.1h-1.1zM512.3 224.5h1.1v1.1h-1.1zM500.2 229.3h1.1v1.1h-1.1zM476.6 242.1h1.1v1.1h-1.1zM501.5 241.5h1.1v1.1h-1.1zM514.5 217.5h1.1v1.1h-1.1zM502.6 229.7h1.1v1.1h-1.1zM499.5 223.9h1.1v1.1h-1.1zM488.2 241.8h1.1v1.1h-1.1zM493.3 227.8h1.1v1.1h-1.1zM499.4 240.0h1.1v1.1h-1.1zM496.7 248.1h1.1v1.1h-1.1zM472.1 251.1h1.1v1.1h-1.1zM492.9 205.5h1.1v1.1h-1.1zM509.7 243.4h1.1v1.1h-1.1zM508.6 235.9h1.1v1.1h-1.1zM500.5 241.8h1.1v1.1h-1.1zM515.7 226.5h1.1v1.1h-1.1zM492.0 230.8h1.1v1.1h-1.1zM501.2 237.0h1.1v1.1h-1.1zM504.9 225.9h1.1v1.1h-1.1zM515.0 214.1h1.1v1.1h-1.1zM488.2 243.9h1.1v1.1h-1.1zM513.0 208.7h1.1v1.1h-1.1zM486.1 241.5h1.1v1.1h-1.1zM490.6 226.4h1.1v1.1h-1.1zM488.7 223.5h1.1v1.1h-1.1zM503.1 227.6h1.1v1.1h-1.1zM513.2 205.9h1.1v1.1h-1.1zM501.4 197.9h1.1v1.1h-1.1zM487.9 230.6h1.1v1.1h-1.1zM476.9 251.4h1.1v1.1h-1.1zM519.0 207.5h1.1v1.1h-1.1zM514.0 195.9h1.1v1.1h-1.1zM503.1 217.1h1.1v1.1h-1.1zM517.5 220.7h1.1v1.1h-1.1zM486.9 238.5h1.1v1.1h-1.1zM500.0 220.1h1.1v1.1h-1.1zM496.3 247.1h1.1v1.1h-1.1zM493.6 247.1h1.1v1.1h-1.1zM456.6 235.2h1.1v1.1h-1.1zM492.6 239.0h1.1v1.1h-1.1zM473.9 251.8h1.1v1.1h-1.1zM484.3 225.1h1.1v1.1h-1.1zM490.6 231.0h1.1v1.1h-1.1zM498.7 214.5h1.1v1.1h-1.1zM482.7 228.2h1.1v1.1h-1.1zM493.3 203.8h1.1v1.1h-1.1zM486.1 247.0h1.1v1.1h-1.1zM489.1 213.0h1.1v1.1h-1.1zM511.6 224.0h1.1v1.1h-1.1zM496.2 221.1h1.1v1.1h-1.1zM511.0 213.3h1.1v1.1h-1.1zM489.5 212.5h1.1v1.1h-1.1zM509.1 205.2h1.1v1.1h-1.1zM506.3 208.6h1.1v1.1h-1.1zM517.8 225.6h1.1v1.1h-1.1zM499.3 241.1h1.1v1.1h-1.1zM509.0 242.8h1.1v1.1h-1.1zM502.2 228.5h1.1v1.1h-1.1zM480.0 253.7h1.1v1.1h-1.1zM492.0 235.7h1.1v1.1h-1.1zM515.2 212.7h1.1v1.1h-1.1zM469.0 244.5h1.1v1.1h-1.1zM509.5 235.9h1.1v1.1h-1.1zM503.6 243.3h1.1v1.1h-1.1zM507.0 212.8h1.1v1.1h-1.1zM504.6 217.5h1.1v1.1h-1.1zM505.9 242.6h1.1v1.1h-1.1zM480.0 236.1h1.1v1.1h-1.1zM504.9 234.1h1.1v1.1h-1.1zM494.4 209.1h1.1v1.1h-1.1zM505.7 229.2h1.1v1.1h-1.1zM514.5 233.3h1.1v1.1h-1.1zM486.7 213.2h1.1v1.1h-1.1zM494.5 220.6h1.1v1.1h-1.1zM511.3 198.5h1.1v1.1h-1.1zM511.9 201.6h1.1v1.1h-1.1zM495.6 246.7h1.1v1.1h-1.1zM492.4 232.9h1.1v1.1h-1.1zM513.6 227.2h1.1v1.1h-1.1zM497.2 216.3h1.1v1.1h-1.1zM480.4 238.7h1.1v1.1h-1.1zM503.5 218.8h1.1v1.1h-1.1zM470.9 244.3h1.1v1.1h-1.1zM488.2 245.0h1.1v1.1h-1.1zM475.4 240.5h1.1v1.1h-1.1zM464.0 244.0h1.1v1.1h-1.1zM489.4 243.0h1.1v1.1h-1.1zM499.6 221.3h1.1v1.1h-1.1zM487.2 213.5h1.1v1.1h-1.1zM473.7 236.6h1.1v1.1h-1.1zM506.7 206.7h1.1v1.1h-1.1zM511.9 239.2h1.1v1.1h-1.1zM482.2 241.4h1.1v1.1h-1.1zM497.9 227.1h1.1v1.1h-1.1zM483.1 250.0h1.1v1.1h-1.1zM473.9 231.5h1.1v1.1h-1.1zM478.0 249.9h1.1v1.1h-1.1zM488.6 230.8h1.1v1.1h-1.1zM502.7 226.9h1.1v1.1h-1.1zM514.4 215.9h1.1v1.1h-1.1zM478.4 240.1h1.1v1.1h-1.1zM495.6 235.2h1.1v1.1h-1.1zM468.7 239.4h1.1v1.1h-1.1zM495.1 244.4h1.1v1.1h-1.1zM491.3 245.5h1.1v1.1h-1.1zM503.0 226.0h1.1v1.1h-1.1zM516.8 227.7h1.1v1.1h-1.1zM475.5 238.1h1.1v1.1h-1.1zM502.5 227.6h1.1v1.1h-1.1zM471.0 251.5h1.1v1.1h-1.1zM513.6 238.8h1.1v1.1h-1.1zM476.6 236.5h1.1v1.1h-1.1zM480.5 224.1h1.1v1.1h-1.1zM473.5 249.7h1.1v1.1h-1.1zM487.4 232.8h1.1v1.1h-1.1zM517.8 222.9h1.1v1.1h-1.1zM519.4 215.1h1.1v1.1h-1.1zM509.0 201.0h1.1v1.1h-1.1zM481.5 243.7h1.1v1.1h-1.1zM481.4 238.3h1.1v1.1h-1.1zM514.7 220.5h1.1v1.1h-1.1zM504.5 232.4h1.1v1.1h-1.1zM505.9 223.4h1.1v1.1h-1.1zM495.3 231.9h1.1v1.1h-1.1zM515.1 210.5h1.1v1.1h-1.1zM505.4 199.1h1.1v1.1h-1.1zM498.9 199.4h1.1v1.1h-1.1zM481.0 236.0h1.1v1.1h-1.1zM471.5 239.0h1.1v1.1h-1.1zM472.7 239.8h1.1v1.1h-1.1zM514.5 198.9h1.1v1.1h-1.1zM492.2 225.1h1.1v1.1h-1.1zM488.2 250.6h1.1v1.1h-1.1zM490.2 230.6h1.1v1.1h-1.1zM460.4 240.1h1.1v1.1h-1.1zM468.6 237.0h1.1v1.1h-1.1zM510.2 229.4h1.1v1.1h-1.1zM503.5 218.1h1.1v1.1h-1.1zM498.8 224.1h1.1v1.1h-1.1zM504.9 216.5h1.1v1.1h-1.1zM513.0 202.0h1.1v1.1h-1.1zM474.6 236.2h1.1v1.1h-1.1zM506.5 238.7h1.1v1.1h-1.1zM509.2 241.0h1.1v1.1h-1.1zM479.6 254.0h1.1v1.1h-1.1zM504.2 209.9h1.1v1.1h-1.1zM507.1 226.6h1.1v1.1h-1.1zM460.3 234.1h1.1v1.1h-1.1zM509.3 198.0h1.1v1.1h-1.1zM483.2 230.1h1.1v1.1h-1.1zM515.1 216.1h1.1v1.1h-1.1zM508.2 221.8h1.1v1.1h-1.1zM464.2 233.8h1.1v1.1h-1.1zM484.0 233.1h1.1v1.1h-1.1zM485.0 248.7h1.1v1.1h-1.1zM513.4 203.0h1.1v1.1h-1.1zM499.0 228.0h1.1v1.1h-1.1zM482.2 249.5h1.1v1.1h-1.1zM512.9 227.5h1.1v1.1h-1.1zM478.4 234.6h1.1v1.1h-1.1zM484.6 249.3h1.1v1.1h-1.1zM467.8 238.1h1.1v1.1h-1.1zM493.6 242.7h1.1v1.1h-1.1zM511.4 241.3h1.1v1.1h-1.1zM520.2 216.3h1.1v1.1h-1.1zM490.7 234.3h1.1v1.1h-1.1zM511.0 221.2h1.1v1.1h-1.1zM477.6 250.0h1.1v1.1h-1.1zM500.4 245.5h1.1v1.1h-1.1zM481.3 233.0h1.1v1.1h-1.1zM506.3 231.5h1.1v1.1h-1.1zM513.4 202.2h1.1v1.1h-1.1zM476.3 241.3h1.1v1.1h-1.1zM507.0 237.7h1.1v1.1h-1.1zM503.8 224.7h1.1v1.1h-1.1zM510.1 233.5h1.1v1.1h-1.1zM482.2 227.5h1.1v1.1h-1.1zM502.8 199.4h1.1v1.1h-1.1zM504.0 242.6h1.1v1.1h-1.1zM473.6 242.0h1.1v1.1h-1.1zM513.3 220.7h1.1v1.1h-1.1zM509.6 207.4h1.1v1.1h-1.1zM492.6 229.8h1.1v1.1h-1.1zM498.6 220.6h1.1v1.1h-1.1zM513.4 201.3h1.1v1.1h-1.1zM515.0 217.8h1.1v1.1h-1.1zM472.4 241.8h1.1v1.1h-1.1zM486.7 246.3h1.1v1.1h-1.1zM467.0 237.0h1.1v1.1h-1.1zM505.7 215.0h1.1v1.1h-1.1zM490.7 232.4h1.1v1.1h-1.1zM514.2 221.9h1.1v1.1h-1.1zM466.7 248.5h1.1v1.1h-1.1zM507.3 232.2h1.1v1.1h-1.1zM510.0 230.7h1.1v1.1h-1.1zM474.8 245.8h1.1v1.1h-1.1zM517.5 220.4h1.1v1.1h-1.1zM489.6 244.8h1.1v1.1h-1.1zM509.9 217.7h1.1v1.1h-1.1zM507.0 228.6h1.1v1.1h-1.1zM487.8 209.0h1.1v1.1h-1.1zM480.4 224.7h1.1v1.1h-1.1zM482.3 229.0h1.1v1.1h-1.1zM489.0 247.6h1.1v1.1h-1.1zM492.1 247.4h1.1v1.1h-1.1zM475.4 237.2h1.1v1.1h-1.1zM520.2 218.3h1.1v1.1h-1.1zM482.4 241.2h1.1v1.1h-1.1zM487.0 236.2h1.1v1.1h-1.1zM498.8 245.2h1.1v1.1h-1.1zM510.8 210.7h1.1v1.1h-1.1zM504.8 226.1h1.1v1.1h-1.1zM505.4 235.5h1.1v1.1h-1.1zM511.4 197.0h1.1v1.1h-1.1zM497.7 213.7h1.1v1.1h-1.1zM515.6 208.0h1.1v1.1h-1.1zM481.4 252.4h1.1v1.1h-1.1zM502.8 214.2h1.1v1.1h-1.1zM515.4 229.4h1.1v1.1h-1.1zM491.7 236.4h1.1v1.1h-1.1zM509.8 225.1h1.1v1.1h-1.1zM490.8 230.8h1.1v1.1h-1.1zM500.8 241.4h1.1v1.1h-1.1zM478.5 244.3h1.1v1.1h-1.1zM503.0 226.1h1.1v1.1h-1.1zM520.6 221.3h1.1v1.1h-1.1zM492.7 247.2h1.1v1.1h-1.1zM516.6 213.3h1.1v1.1h-1.1zM488.8 247.1h1.1v1.1h-1.1zM484.5 245.0h1.1v1.1h-1.1zM490.3 247.2h1.1v1.1h-1.1zM491.4 246.5h1.1v1.1h-1.1zM505.8 241.1h1.1v1.1h-1.1zM486.1 230.7h1.1v1.1h-1.1zM480.5 230.8h1.1v1.1h-1.1zM485.2 217.2h1.1v1.1h-1.1zM495.8 228.8h1.1v1.1h-1.1zM484.6 250.2h1.1v1.1h-1.1zM484.1 233.6h1.1v1.1h-1.1zM515.8 211.5h1.1v1.1h-1.1zM509.1 240.3h1.1v1.1h-1.1zM501.3 231.4h1.1v1.1h-1.1zM497.0 212.1h1.1v1.1h-1.1zM507.6 200.9h1.1v1.1h-1.1zM496.7 226.2h1.1v1.1h-1.1zM473.3 236.5h1.1v1.1h-1.1zM504.0 222.0h1.1v1.1h-1.1zM484.6 234.0h1.1v1.1h-1.1zM469.3 236.5h1.1v1.1h-1.1zM482.3 248.0h1.1v1.1h-1.1zM489.9 216.6h1.1v1.1h-1.1zM485.3 230.3h1.1v1.1h-1.1zM486.0 223.8h1.1v1.1h-1.1zM519.4 219.2h1.1v1.1h-1.1zM512.4 239.1h1.1v1.1h-1.1zM501.2 236.0h1.1v1.1h-1.1zM497.8 226.0h1.1v1.1h-1.1zM503.8 222.5h1.1v1.1h-1.1zM503.0 198.1h1.1v1.1h-1.1zM468.6 240.3h1.1v1.1h-1.1zM464.1 237.4h1.1v1.1h-1.1zM503.1 237.8h1.1v1.1h-1.1zM476.7 229.6h1.1v1.1h-1.1zM515.2 216.9h1.1v1.1h-1.1zM503.5 237.6h1.1v1.1h-1.1zM489.7 212.4h1.1v1.1h-1.1zM504.7 201.0h1.1v1.1h-1.1zM486.9 244.9h1.1v1.1h-1.1zM516.7 214.5h1.1v1.1h-1.1zM511.9 203.0h1.1v1.1h-1.1zM467.3 237.4h1.1v1.1h-1.1zM492.8 247.7h1.1v1.1h-1.1zM490.9 208.7h1.1v1.1h-1.1zM469.6 242.9h1.1v1.1h-1.1zM481.5 246.8h1.1v1.1h-1.1zM516.5 201.7h1.1v1.1h-1.1zM504.7 211.9h1.1v1.1h-1.1zM462.2 238.4h1.1v1.1h-1.1zM476.0 246.9h1.1v1.1h-1.1zM486.2 216.8h1.1v1.1h-1.1zM519.2 221.2h1.1v1.1h-1.1zM508.6 233.2h1.1v1.1h-1.1zM500.4 214.3h1.1v1.1h-1.1zM506.7 198.7h1.1v1.1h-1.1zM521.1 219.7h1.1v1.1h-1.1zM501.4 205.5h1.1v1.1h-1.1zM488.1 249.1h1.1v1.1h-1.1zM490.2 245.3h1.1v1.1h-1.1zM502.9 203.3h1.1v1.1h-1.1zM499.4 238.8h1.1v1.1h-1.1zM491.0 207.3h1.1v1.1h-1.1zM502.3 241.8h1.1v1.1h-1.1zM489.8 235.7h1.1v1.1h-1.1zM499.3 240.9h1.1v1.1h-1.1zM509.1 206.3h1.1v1.1h-1.1zM518.8 216.7h1.1v1.1h-1.1zM500.8 239.3h1.1v1.1h-1.1zM508.9 197.3h1.1v1.1h-1.1zM517.3 229.7h1.1v1.1h-1.1zM472.3 232.5h1.1v1.1h-1.1zM472.9 243.9h1.1v1.1h-1.1zM490.6 219.9h1.1v1.1h-1.1zM518.7 225.3h1.1v1.1h-1.1zM515.2 208.9h1.1v1.1h-1.1zM486.1 244.4h1.1v1.1h-1.1zM503.5 215.0h1.1v1.1h-1.1zM488.0 236.9h1.1v1.1h-1.1zM482.8 245.3h1.1v1.1h-1.1zM465.1 246.1h1.1v1.1h-1.1zM459.5 235.2h1.1v1.1h-1.1zM508.6 219.4h1.1v1.1h-1.1zM497.9 230.5h1.1v1.1h-1.1zM482.0 248.3h1.1v1.1h-1.1zM515.8 212.1h1.1v1.1h-1.1zM501.4 217.3h1.1v1.1h-1.1zM506.0 227.8h1.1v1.1h-1.1zM486.9 222.5h1.1v1.1h-1.1zM515.7 220.9h1.1v1.1h-1.1zM483.5 227.1h1.1v1.1h-1.1zM494.6 228.5h1.1v1.1h-1.1zM490.3 213.5h1.1v1.1h-1.1zM498.5 247.2h1.1v1.1h-1.1zM505.3 208.4h1.1v1.1h-1.1zM500.5 208.0h1.1v1.1h-1.1zM490.8 220.9h1.1v1.1h-1.1zM515.6 232.5h1.1v1.1h-1.1zM508.4 215.7h1.1v1.1h-1.1zM488.9 213.9h1.1v1.1h-1.1zM505.7 243.7h1.1v1.1h-1.1zM493.5 229.8h1.1v1.1h-1.1zM466.0 234.2h1.1v1.1h-1.1zM472.9 249.3h1.1v1.1h-1.1zM510.9 236.7h1.1v1.1h-1.1zM480.1 251.5h1.1v1.1h-1.1zM495.3 244.9h1.1v1.1h-1.1zM501.8 241.2h1.1v1.1h-1.1zM475.1 244.3h1.1v1.1h-1.1zM510.5 229.8h1.1v1.1h-1.1zM490.9 229.9h1.1v1.1h-1.1zM480.7 248.0h1.1v1.1h-1.1zM499.1 221.9h1.1v1.1h-1.1z" fill="#fff"/>
<line x1="488.8" y1="139.8" x2="473.6" y2="156.3" stroke="#c00000" stroke-width="1.6"/>
<path d="M468.9,161.5 L471.3,154.2 L476.0,158.5Z" fill="#c00000"/>
<line x1="536.0" y1="265.0" x2="517.8" y2="252.4" stroke="#c00000" stroke-width="1.6"/>
<path d="M512.1,248.4 L519.7,249.8 L516.0,255.0Z" fill="#c00000"/>
<line x1="437.8" y1="246.8" x2="420.2" y2="234.4" stroke="#c00000" stroke-width="1.6"/>
<path d="M414.5,230.4 L422.1,231.8 L418.4,237.0Z" fill="#c00000"/>
<text x="548.0" y="14.8" font-size="9.05" text-anchor="start" font-weight="normal" font-style="normal" fill="#111" textLength="33.3" lengthAdjust="spacingAndGlyphs" >Clusters</text>
<circle cx="554.0" cy="24.30" r="4.0" fill="#e03040"/>
<text x="565.8" y="27.5" font-size="9.05" text-anchor="start" font-weight="normal" font-style="normal" fill="#111" >Activated CD8 T cells</text>
<circle cx="554.0" cy="33.06" r="4.0" fill="#f8908a"/>
<text x="565.8" y="36.3" font-size="9.05" text-anchor="start" font-weight="normal" font-style="normal" fill="#111" >Basophils</text>
<circle cx="554.0" cy="41.83" r="4.0" fill="#4a80c0"/>
<text x="565.8" y="45.0" font-size="9.05" text-anchor="start" font-weight="normal" font-style="normal" fill="#111" >CD3+ B cells</text>
<circle cx="554.0" cy="50.59" r="4.0" fill="#90bce8"/>
<text x="565.8" y="53.8" font-size="9.05" text-anchor="start" font-weight="normal" font-style="normal" fill="#111" >cDC</text>
<circle cx="554.0" cy="59.35" r="4.0" fill="#9a5a90"/>
<text x="565.8" y="62.6" font-size="9.05" text-anchor="start" font-weight="normal" font-style="normal" fill="#111" >Classical monocytes</text>
<circle cx="554.0" cy="68.11" r="4.0" fill="#c096bc"/>
<text x="565.8" y="71.3" font-size="9.05" text-anchor="start" font-weight="normal" font-style="normal" fill="#111" >CM CD4 T cells</text>
<circle cx="554.0" cy="76.88" r="4.0" fill="#f89030"/>
<text x="565.8" y="80.1" font-size="9.05" text-anchor="start" font-weight="normal" font-style="normal" fill="#111" >CM CD8 T cells</text>
<circle cx="554.0" cy="85.64" r="4.0" fill="#f8c080"/>
<text x="565.8" y="88.8" font-size="9.05" text-anchor="start" font-weight="normal" font-style="normal" fill="#111" >DN T cells</text>
<circle cx="554.0" cy="94.40" r="4.0" fill="#e84ca0"/>
<text x="565.8" y="97.6" font-size="9.05" text-anchor="start" font-weight="normal" font-style="normal" fill="#111" >Early NK</text>
<circle cx="554.0" cy="103.17" r="4.0" fill="#eca0d0"/>
<text x="565.8" y="106.4" font-size="9.05" text-anchor="start" font-weight="normal" font-style="normal" fill="#111" >EM CD4 T cells</text>
<circle cx="554.0" cy="111.93" r="4.0" fill="#58b058"/>
<text x="565.8" y="115.1" font-size="9.05" text-anchor="start" font-weight="normal" font-style="normal" fill="#111" >EM CD8 T cells</text>
<circle cx="554.0" cy="120.69" r="4.0" fill="#c0e4a0"/>
<text x="565.8" y="123.9" font-size="9.05" text-anchor="start" font-weight="normal" font-style="normal" fill="#111" >Eosinophils</text>
<circle cx="554.0" cy="129.46" r="4.0" fill="#78b0c4"/>
<text x="565.8" y="132.7" font-size="9.05" text-anchor="start" font-weight="normal" font-style="normal" fill="#111" >GD T cells</text>
<circle cx="554.0" cy="138.22" r="4.0" fill="#a8dcd0"/>
<text x="565.8" y="141.4" font-size="9.05" text-anchor="start" font-weight="normal" font-style="normal" fill="#111" >IgD− memory B cells</text>
<circle cx="554.0" cy="146.98" r="4.0" fill="#b08a48"/>
<text x="565.8" y="150.2" font-size="9.05" text-anchor="start" font-weight="normal" font-style="normal" fill="#111" >IgD+ memory B cells</text>
<circle cx="554.0" cy="155.75" r="4.0" fill="#ecb840"/>
<text x="565.8" y="158.9" font-size="9.05" text-anchor="start" font-weight="normal" font-style="normal" fill="#111" >Late NK</text>
<circle cx="554.0" cy="164.51" r="4.0" fill="#9090c8"/>
<text x="565.8" y="167.7" font-size="9.05" text-anchor="start" font-weight="normal" font-style="normal" fill="#111" >MAITs</text>
<circle cx="554.0" cy="173.27" r="4.0" fill="#cbbde0"/>
<text x="565.8" y="176.5" font-size="9.05" text-anchor="start" font-weight="normal" font-style="normal" fill="#111" >Naïve B cells</text>
<circle cx="554.0" cy="182.03" r="4.0" fill="#808080"/>
<text x="565.8" y="185.2" font-size="9.05" text-anchor="start" font-weight="normal" font-style="normal" fill="#111" >Naïve CD4 T cells</text>
<circle cx="554.0" cy="190.80" r="4.0" fill="#a8a8a8"/>
<text x="565.8" y="194.0" font-size="9.05" text-anchor="start" font-weight="normal" font-style="normal" fill="#111" >Naïve CD8 T cells</text>
<circle cx="554.0" cy="199.56" r="4.0" fill="#b89898"/>
<text x="565.8" y="202.8" font-size="9.05" text-anchor="start" font-weight="normal" font-style="normal" fill="#111" >Neutrophils</text>
<circle cx="554.0" cy="208.32" r="4.0" fill="#e0c4c4"/>
<text x="565.8" y="211.5" font-size="9.05" text-anchor="start" font-weight="normal" font-style="normal" fill="#111" >Non−classical monocytes</text>
<circle cx="554.0" cy="217.09" r="4.0" fill="#9830d0"/>
<text x="565.8" y="220.3" font-size="9.05" text-anchor="start" font-weight="normal" font-style="normal" fill="#111" >pDC</text>
<circle cx="554.0" cy="225.85" r="4.0" fill="#c878e8"/>
<text x="565.8" y="229.0" font-size="9.05" text-anchor="start" font-weight="normal" font-style="normal" fill="#111" >Plasmablasts</text>
<circle cx="554.0" cy="234.61" r="4.0" fill="#a09838"/>
<text x="565.8" y="237.8" font-size="9.05" text-anchor="start" font-weight="normal" font-style="normal" fill="#111" >Regulatory T cells</text>
<circle cx="554.0" cy="243.38" r="4.0" fill="#c0bc88"/>
<text x="565.8" y="246.6" font-size="9.05" text-anchor="start" font-weight="normal" font-style="normal" fill="#111" >TEMRA CD8 T cells</text>
<circle cx="554.0" cy="252.14" r="4.0" fill="#4ca0f8"/>
<text x="565.8" y="255.3" font-size="9.05" text-anchor="start" font-weight="normal" font-style="normal" fill="#111" >Terminal effector CD8 T cells</text>
<circle cx="554.0" cy="260.90" r="4.0" fill="#30c8f8"/>
<text x="565.8" y="264.1" font-size="9.05" text-anchor="start" font-weight="normal" font-style="normal" fill="#111" >Terminal memory CD4 T cells</text>
<circle cx="554.0" cy="269.66" r="4.0" fill="#70f030"/>
<text x="565.8" y="272.9" font-size="9.05" text-anchor="start" font-weight="normal" font-style="normal" fill="#111" >Transitional monocytes</text>
<path d="M103.5 207.3h1.0v1.0h-1.0zM86.2 203.9h1.0v1.0h-1.0zM97.0 197.9h1.0v1.0h-1.0zM91.1 214.9h1.0v1.0h-1.0zM96.6 207.4h1.0v1.0h-1.0zM97.0 200.0h1.0v1.0h-1.0zM101.8 213.4h1.0v1.0h-1.0zM80.0 200.7h1.0v1.0h-1.0zM86.1 222.8h1.0v1.0h-1.0zM96.2 212.7h1.0v1.0h-1.0zM92.8 196.1h1.0v1.0h-1.0zM96.4 208.4h1.0v1.0h-1.0zM105.2 216.6h1.0v1.0h-1.0zM96.0 192.4h1.0v1.0h-1.0zM82.8 201.0h1.0v1.0h-1.0zM88.2 194.1h1.0v1.0h-1.0zM93.7 216.3h1.0v1.0h-1.0zM88.8 201.8h1.0v1.0h-1.0zM96.4 193.0h1.0v1.0h-1.0zM98.5 213.7h1.0v1.0h-1.0zM101.1 214.7h1.0v1.0h-1.0zM91.1 208.9h1.0v1.0h-1.0zM96.4 197.1h1.0v1.0h-1.0zM102.2 210.1h1.0v1.0h-1.0zM90.9 210.6h1.0v1.0h-1.0zM91.8 202.2h1.0v1.0h-1.0zM103.0 202.5h1.0v1.0h-1.0zM91.5 201.7h1.0v1.0h-1.0zM99.9 218.9h1.0v1.0h-1.0zM104.2 198.6h1.0v1.0h-1.0zM93.7 209.7h1.0v1.0h-1.0zM82.7 207.8h1.0v1.0h-1.0zM86.6 194.8h1.0v1.0h-1.0zM80.2 214.6h1.0v1.0h-1.0zM96.5 214.9h1.0v1.0h-1.0zM87.3 219.5h1.0v1.0h-1.0zM103.4 213.1h1.0v1.0h-1.0zM85.4 221.3h1.0v1.0h-1.0zM92.4 198.4h1.0v1.0h-1.0zM87.1 200.7h1.0v1.0h-1.0zM84.6 206.2h1.0v1.0h-1.0zM81.6 193.0h1.0v1.0h-1.0zM91.1 202.3h1.0v1.0h-1.0zM86.6 219.3h1.0v1.0h-1.0zM87.8 197.0h1.0v1.0h-1.0zM99.3 200.2h1.0v1.0h-1.0zM81.4 206.3h1.0v1.0h-1.0zM104.9 207.1h1.0v1.0h-1.0zM82.9 218.1h1.0v1.0h-1.0zM80.8 197.1h1.0v1.0h-1.0zM99.3 214.7h1.0v1.0h-1.0zM92.6 202.9h1.0v1.0h-1.0zM80.4 206.5h1.0v1.0h-1.0zM90.6 193.1h1.0v1.0h-1.0zM98.7 196.4h1.0v1.0h-1.0zM85.5 199.3h1.0v1.0h-1.0zM93.9 207.2h1.0v1.0h-1.0zM99.2 202.9h1.0v1.0h-1.0zM90.3 203.2h1.0v1.0h-1.0zM86.7 216.5h1.0v1.0h-1.0z" fill="#6a6a6a"/>
<path d="M99.8 219.4h1.0v1.0h-1.0zM86.3 213.5h1.0v1.0h-1.0zM105.1 203.3h1.0v1.0h-1.0zM94.8 196.6h1.0v1.0h-1.0zM95.6 211.6h1.0v1.0h-1.0zM80.0 189.9h1.0v1.0h-1.0zM90.7 214.7h1.0v1.0h-1.0zM85.2 198.5h1.0v1.0h-1.0zM100.1 202.5h1.0v1.0h-1.0zM81.4 208.0h1.0v1.0h-1.0zM86.8 197.3h1.0v1.0h-1.0zM102.9 194.5h1.0v1.0h-1.0zM100.8 197.4h1.0v1.0h-1.0zM105.1 211.6h1.0v1.0h-1.0zM83.1 221.1h1.0v1.0h-1.0zM84.9 195.6h1.0v1.0h-1.0zM91.7 207.3h1.0v1.0h-1.0zM81.3 217.6h1.0v1.0h-1.0zM89.8 196.4h1.0v1.0h-1.0zM100.4 192.5h1.0v1.0h-1.0zM93.8 192.5h1.0v1.0h-1.0zM87.5 207.2h1.0v1.0h-1.0zM89.2 211.5h1.0v1.0h-1.0zM97.2 198.9h1.0v1.0h-1.0zM91.9 216.3h1.0v1.0h-1.0zM85.7 198.4h1.0v1.0h-1.0zM83.6 213.0h1.0v1.0h-1.0zM84.2 187.6h1.0v1.0h-1.0zM80.6 193.2h1.0v1.0h-1.0zM83.0 204.1h1.0v1.0h-1.0zM100.8 217.7h1.0v1.0h-1.0zM88.9 210.8h1.0v1.0h-1.0zM89.7 197.4h1.0v1.0h-1.0zM89.0 200.8h1.0v1.0h-1.0zM104.0 214.5h1.0v1.0h-1.0zM88.3 208.0h1.0v1.0h-1.0zM88.3 211.4h1.0v1.0h-1.0zM101.3 201.5h1.0v1.0h-1.0zM87.0 212.7h1.0v1.0h-1.0zM79.2 199.4h1.0v1.0h-1.0zM84.4 206.1h1.0v1.0h-1.0zM89.8 195.7h1.0v1.0h-1.0zM83.8 212.4h1.0v1.0h-1.0zM87.0 194.4h1.0v1.0h-1.0zM94.4 192.1h1.0v1.0h-1.0zM80.7 189.1h1.0v1.0h-1.0zM94.8 210.9h1.0v1.0h-1.0zM96.8 208.4h1.0v1.0h-1.0zM82.6 224.4h1.0v1.0h-1.0zM87.6 204.6h1.0v1.0h-1.0zM101.2 210.5h1.0v1.0h-1.0zM100.6 198.3h1.0v1.0h-1.0zM102.6 201.6h1.0v1.0h-1.0zM101.3 197.0h1.0v1.0h-1.0zM87.1 190.8h1.0v1.0h-1.0zM101.6 213.4h1.0v1.0h-1.0zM96.7 201.1h1.0v1.0h-1.0zM91.6 216.5h1.0v1.0h-1.0zM87.2 220.4h1.0v1.0h-1.0zM88.9 191.3h1.0v1.0h-1.0z" fill="#777"/>
<path d="M136.2 237.2h1.0v1.0h-1.0zM136.2 247.6h1.0v1.0h-1.0zM141.5 235.2h1.0v1.0h-1.0zM138.4 242.2h1.0v1.0h-1.0zM132.0 239.0h1.0v1.0h-1.0zM141.8 231.4h1.0v1.0h-1.0zM132.3 235.7h1.0v1.0h-1.0zM139.0 237.4h1.0v1.0h-1.0zM125.3 233.4h1.0v1.0h-1.0zM146.0 240.4h1.0v1.0h-1.0zM132.5 230.9h1.0v1.0h-1.0zM137.9 238.0h1.0v1.0h-1.0z" fill="#5aa4ba"/>
<path d="M137.7 234.9h1.0v1.0h-1.0zM144.5 242.8h1.0v1.0h-1.0zM127.8 232.1h1.0v1.0h-1.0zM133.8 245.4h1.0v1.0h-1.0zM128.7 230.1h1.0v1.0h-1.0zM129.8 236.9h1.0v1.0h-1.0zM143.1 233.0h1.0v1.0h-1.0zM139.0 236.8h1.0v1.0h-1.0zM138.6 238.0h1.0v1.0h-1.0zM129.7 236.7h1.0v1.0h-1.0zM131.1 237.3h1.0v1.0h-1.0zM127.1 240.4h1.0v1.0h-1.0z" fill="#3598ee"/>
<path d="M139.3 248.9h1.0v1.0h-1.0zM126.7 238.7h1.0v1.0h-1.0zM137.5 242.9h1.0v1.0h-1.0zM135.9 239.8h1.0v1.0h-1.0zM136.4 242.0h1.0v1.0h-1.0zM126.7 232.4h1.0v1.0h-1.0zM132.9 234.7h1.0v1.0h-1.0zM141.5 241.4h1.0v1.0h-1.0zM142.8 244.8h1.0v1.0h-1.0zM131.3 235.8h1.0v1.0h-1.0zM140.1 248.3h1.0v1.0h-1.0zM140.5 242.0h1.0v1.0h-1.0z" fill="#df2a1c"/>
<path d="M136.8 236.7h1.0v1.0h-1.0zM130.3 236.3h1.0v1.0h-1.0zM138.0 245.7h1.0v1.0h-1.0zM143.0 242.5h1.0v1.0h-1.0zM127.1 242.4h1.0v1.0h-1.0zM130.2 234.5h1.0v1.0h-1.0zM132.5 239.8h1.0v1.0h-1.0zM141.8 231.3h1.0v1.0h-1.0zM140.0 247.3h1.0v1.0h-1.0zM132.3 231.9h1.0v1.0h-1.0zM138.7 231.5h1.0v1.0h-1.0zM133.3 245.3h1.0v1.0h-1.0z" fill="#7d79c2"/>
<path d="M136.9 234.5h1.0v1.0h-1.0zM128.4 230.8h1.0v1.0h-1.0zM138.4 233.5h1.0v1.0h-1.0zM129.1 243.8h1.0v1.0h-1.0zM132.8 232.4h1.0v1.0h-1.0zM126.8 234.1h1.0v1.0h-1.0zM135.7 235.2h1.0v1.0h-1.0zM141.5 237.8h1.0v1.0h-1.0zM131.8 245.1h1.0v1.0h-1.0zM142.4 235.0h1.0v1.0h-1.0zM145.8 239.1h1.0v1.0h-1.0zM138.8 242.8h1.0v1.0h-1.0z" fill="#f7b46c"/>
<path d="M110.3 248.5h1.0v1.0h-1.0zM106.2 245.8h1.0v1.0h-1.0zM107.3 246.8h1.0v1.0h-1.0zM111.0 247.1h1.0v1.0h-1.0zM106.8 246.1h1.0v1.0h-1.0zM106.7 247.9h1.0v1.0h-1.0zM105.5 246.3h1.0v1.0h-1.0zM110.3 246.9h1.0v1.0h-1.0zM109.6 247.7h1.0v1.0h-1.0zM106.7 245.6h1.0v1.0h-1.0zM107.5 249.4h1.0v1.0h-1.0zM107.9 248.8h1.0v1.0h-1.0z" fill="#555"/>
<path d="M121.3 254.0h1.0v1.0h-1.0zM118.7 252.8h1.0v1.0h-1.0zM127.6 255.7h1.0v1.0h-1.0zM124.7 257.5h1.0v1.0h-1.0zM120.2 260.8h1.0v1.0h-1.0zM123.9 254.9h1.0v1.0h-1.0zM122.2 253.5h1.0v1.0h-1.0zM122.9 261.8h1.0v1.0h-1.0z" fill="#6a6a6a"/>
<path d="M124.6 257.2h1.0v1.0h-1.0zM119.2 250.4h1.0v1.0h-1.0zM120.2 257.5h1.0v1.0h-1.0zM122.0 260.9h1.0v1.0h-1.0zM118.6 259.0h1.0v1.0h-1.0zM122.8 261.6h1.0v1.0h-1.0zM125.5 257.2h1.0v1.0h-1.0zM125.6 259.0h1.0v1.0h-1.0z" fill="#a5a35a"/>
<path d="M123.8 254.2h1.0v1.0h-1.0zM126.5 253.2h1.0v1.0h-1.0zM119.9 252.6h1.0v1.0h-1.0zM126.0 252.3h1.0v1.0h-1.0zM123.8 258.0h1.0v1.0h-1.0zM125.6 261.9h1.0v1.0h-1.0zM118.8 254.1h1.0v1.0h-1.0zM124.0 261.3h1.0v1.0h-1.0z" fill="#7d79c2"/>
<path d="M131.1 214.2h1.0v1.0h-1.0zM125.3 210.5h1.0v1.0h-1.0zM118.4 204.9h1.0v1.0h-1.0zM136.3 209.2h1.0v1.0h-1.0zM137.0 210.4h1.0v1.0h-1.0zM131.8 210.3h1.0v1.0h-1.0zM136.8 201.0h1.0v1.0h-1.0zM115.8 202.2h1.0v1.0h-1.0zM122.3 196.1h1.0v1.0h-1.0zM131.3 206.0h1.0v1.0h-1.0z" fill="#5aa4ba"/>
<path d="M129.0 214.6h1.0v1.0h-1.0zM129.9 197.4h1.0v1.0h-1.0zM138.4 205.4h1.0v1.0h-1.0zM128.3 214.9h1.0v1.0h-1.0zM131.7 206.2h1.0v1.0h-1.0zM127.2 201.2h1.0v1.0h-1.0zM136.1 206.9h1.0v1.0h-1.0zM134.4 210.5h1.0v1.0h-1.0zM127.6 214.3h1.0v1.0h-1.0zM124.1 198.1h1.0v1.0h-1.0z" fill="#df2a1c"/>
<path d="M126.6 212.8h1.0v1.0h-1.0zM129.9 208.9h1.0v1.0h-1.0zM130.7 199.4h1.0v1.0h-1.0zM133.5 205.5h1.0v1.0h-1.0zM117.2 195.2h1.0v1.0h-1.0zM116.4 201.6h1.0v1.0h-1.0zM117.6 204.9h1.0v1.0h-1.0zM135.4 210.7h1.0v1.0h-1.0zM120.6 207.9h1.0v1.0h-1.0zM122.6 200.4h1.0v1.0h-1.0z" fill="#45a845"/>
<path d="M117.3 210.3h1.0v1.0h-1.0zM124.7 195.9h1.0v1.0h-1.0zM120.7 196.2h1.0v1.0h-1.0zM126.4 211.7h1.0v1.0h-1.0zM117.5 210.6h1.0v1.0h-1.0zM130.8 205.7h1.0v1.0h-1.0zM127.9 193.7h1.0v1.0h-1.0zM136.4 203.8h1.0v1.0h-1.0zM126.6 196.4h1.0v1.0h-1.0zM120.6 205.4h1.0v1.0h-1.0z" fill="#de86cc"/>
<path d="M122.2,210.7 C122.6,210.0 124.3,209.5 125.2,209.8 C126.0,210.1 127.4,211.6 127.4,212.4 C127.5,213.2 126.5,214.5 125.7,214.7 C124.9,214.9 123.3,214.3 122.7,213.6 C122.1,213.0 121.8,211.3 122.2,210.7Z" fill="#df2a1c" />
<path d="M121.9 208.6h.9v.9h-.9zM122.8 208.9h.9v.9h-.9zM124.3 209.7h.9v.9h-.9zM125.0 209.9h.9v.9h-.9zM127.0 211.8h.9v.9h-.9zM127.4 212.5h.9v.9h-.9zM127.3 214.4h.9v.9h-.9zM125.6 214.4h.9v.9h-.9zM124.7 214.7h.9v.9h-.9zM123.8 214.5h.9v.9h-.9zM123.3 213.8h.9v.9h-.9zM120.8 213.9h.9v.9h-.9z" fill="#df2a1c"/>
<path d="M398.6 226.8h1.0v1.0h-1.0zM398.5 238.2h1.0v1.0h-1.0zM403.6 253.6h1.0v1.0h-1.0zM402.2 251.0h1.0v1.0h-1.0zM396.9 231.2h1.0v1.0h-1.0zM406.2 250.4h1.0v1.0h-1.0zM400.3 249.6h1.0v1.0h-1.0zM397.6 239.7h1.0v1.0h-1.0zM394.9 252.4h1.0v1.0h-1.0zM402.9 232.8h1.0v1.0h-1.0z" fill="#5aa4ba"/>
<path d="M400.5 243.0h1.0v1.0h-1.0zM408.2 240.0h1.0v1.0h-1.0zM395.3 239.4h1.0v1.0h-1.0zM402.2 226.2h1.0v1.0h-1.0zM407.7 249.7h1.0v1.0h-1.0zM402.5 234.6h1.0v1.0h-1.0zM399.6 237.4h1.0v1.0h-1.0zM407.8 232.5h1.0v1.0h-1.0zM405.9 252.2h1.0v1.0h-1.0zM397.3 255.2h1.0v1.0h-1.0z" fill="#3598ee"/>
<path d="M406.9 246.0h1.0v1.0h-1.0zM407.3 240.5h1.0v1.0h-1.0zM395.6 237.5h1.0v1.0h-1.0zM398.9 254.9h1.0v1.0h-1.0zM402.0 246.2h1.0v1.0h-1.0zM395.3 237.5h1.0v1.0h-1.0zM406.6 228.4h1.0v1.0h-1.0zM394.6 236.7h1.0v1.0h-1.0zM398.0 242.1h1.0v1.0h-1.0zM408.0 249.7h1.0v1.0h-1.0z" fill="#df2a1c"/>
<path d="M404.2 240.7h1.0v1.0h-1.0zM400.8 242.1h1.0v1.0h-1.0zM406.5 250.4h1.0v1.0h-1.0zM398.7 228.6h1.0v1.0h-1.0zM398.7 239.7h1.0v1.0h-1.0zM394.3 243.2h1.0v1.0h-1.0zM394.8 243.9h1.0v1.0h-1.0zM397.7 248.3h1.0v1.0h-1.0zM399.8 234.1h1.0v1.0h-1.0zM404.2 236.0h1.0v1.0h-1.0z" fill="#45a845"/>
<path d="M399.3 250.4h1.0v1.0h-1.0zM395.2 250.9h1.0v1.0h-1.0zM400.4 253.2h1.0v1.0h-1.0zM396.8 232.1h1.0v1.0h-1.0zM396.3 232.9h1.0v1.0h-1.0zM396.4 242.8h1.0v1.0h-1.0zM405.9 230.5h1.0v1.0h-1.0zM400.8 254.1h1.0v1.0h-1.0zM401.9 253.9h1.0v1.0h-1.0zM398.3 252.4h1.0v1.0h-1.0z" fill="#f7b46c"/>
<path d="M399.4 251.7h1.0v1.0h-1.0zM402.1 227.3h1.0v1.0h-1.0zM396.9 229.9h1.0v1.0h-1.0zM400.5 250.9h1.0v1.0h-1.0zM401.3 226.3h1.0v1.0h-1.0zM407.2 245.9h1.0v1.0h-1.0zM399.7 236.7h1.0v1.0h-1.0zM397.8 238.0h1.0v1.0h-1.0zM401.4 256.2h1.0v1.0h-1.0zM397.2 251.3h1.0v1.0h-1.0z" fill="#7d79c2"/>
<path d="M386.0 256.4h1.0v1.0h-1.0zM386.2 256.3h1.0v1.0h-1.0zM376.2 258.3h1.0v1.0h-1.0zM380.5 253.6h1.0v1.0h-1.0zM373.2 254.0h1.0v1.0h-1.0zM378.3 246.5h1.0v1.0h-1.0zM382.2 255.4h1.0v1.0h-1.0zM381.5 249.1h1.0v1.0h-1.0zM388.2 255.5h1.0v1.0h-1.0zM368.3 247.0h1.0v1.0h-1.0z" fill="#555"/>
<path d="M369.7 248.2h1.0v1.0h-1.0zM386.8 255.5h1.0v1.0h-1.0zM381.7 252.1h1.0v1.0h-1.0zM374.3 248.5h1.0v1.0h-1.0zM383.0 251.6h1.0v1.0h-1.0zM387.6 254.8h1.0v1.0h-1.0zM379.5 251.1h1.0v1.0h-1.0zM385.3 262.9h1.0v1.0h-1.0zM371.4 249.5h1.0v1.0h-1.0zM373.9 250.8h1.0v1.0h-1.0z" fill="#6a6a6a"/>
<path d="M385.2 256.4h1.0v1.0h-1.0zM380.9 256.1h1.0v1.0h-1.0zM379.3 252.3h1.0v1.0h-1.0zM377.8 253.5h1.0v1.0h-1.0zM375.4 248.5h1.0v1.0h-1.0zM379.7 253.1h1.0v1.0h-1.0zM372.1 249.0h1.0v1.0h-1.0zM371.2 245.3h1.0v1.0h-1.0zM382.5 248.2h1.0v1.0h-1.0zM381.8 251.7h1.0v1.0h-1.0z" fill="#a5d08a"/>
<path d="M392.2 188.5h1.0v1.0h-1.0zM404.5 191.7h1.0v1.0h-1.0zM401.3 184.5h1.0v1.0h-1.0zM408.9 195.6h1.0v1.0h-1.0zM406.0 188.6h1.0v1.0h-1.0zM403.7 208.7h1.0v1.0h-1.0zM402.6 185.3h1.0v1.0h-1.0zM407.3 205.3h1.0v1.0h-1.0zM403.6 200.5h1.0v1.0h-1.0zM391.2 191.0h1.0v1.0h-1.0zM396.7 189.0h1.0v1.0h-1.0zM395.3 187.2h1.0v1.0h-1.0z" fill="#5aa4ba"/>
<path d="M393.6 208.1h1.0v1.0h-1.0zM405.4 190.9h1.0v1.0h-1.0zM395.9 186.9h1.0v1.0h-1.0zM402.1 185.3h1.0v1.0h-1.0zM398.6 201.0h1.0v1.0h-1.0zM390.2 195.1h1.0v1.0h-1.0zM392.8 183.1h1.0v1.0h-1.0zM393.8 210.5h1.0v1.0h-1.0zM391.1 195.1h1.0v1.0h-1.0zM404.1 198.9h1.0v1.0h-1.0zM409.3 194.8h1.0v1.0h-1.0zM407.6 189.8h1.0v1.0h-1.0z" fill="#df2a1c"/>
<path d="M398.6 199.9h1.0v1.0h-1.0zM406.9 208.1h1.0v1.0h-1.0zM397.3 209.9h1.0v1.0h-1.0zM397.4 188.8h1.0v1.0h-1.0zM395.0 207.1h1.0v1.0h-1.0zM401.3 193.4h1.0v1.0h-1.0zM393.9 190.0h1.0v1.0h-1.0zM395.1 196.7h1.0v1.0h-1.0zM391.2 198.0h1.0v1.0h-1.0zM402.0 204.3h1.0v1.0h-1.0zM400.9 204.7h1.0v1.0h-1.0zM393.5 206.8h1.0v1.0h-1.0z" fill="#45a845"/>
<path d="M394.4 192.3h1.0v1.0h-1.0zM402.1 185.1h1.0v1.0h-1.0zM406.3 206.2h1.0v1.0h-1.0zM404.3 191.8h1.0v1.0h-1.0zM393.8 187.7h1.0v1.0h-1.0zM394.6 200.8h1.0v1.0h-1.0zM394.8 198.8h1.0v1.0h-1.0zM405.4 208.3h1.0v1.0h-1.0zM404.9 191.8h1.0v1.0h-1.0zM403.1 184.5h1.0v1.0h-1.0zM400.7 196.1h1.0v1.0h-1.0zM390.4 190.7h1.0v1.0h-1.0z" fill="#de86cc"/>
<path d="M407.0 196.1h1.0v1.0h-1.0zM408.4 207.4h1.0v1.0h-1.0zM399.5 198.0h1.0v1.0h-1.0zM393.8 201.5h1.0v1.0h-1.0zM393.0 198.0h1.0v1.0h-1.0zM399.6 202.7h1.0v1.0h-1.0zM404.1 209.5h1.0v1.0h-1.0zM407.8 207.0h1.0v1.0h-1.0zM393.0 195.2h1.0v1.0h-1.0zM404.1 194.5h1.0v1.0h-1.0zM393.5 188.8h1.0v1.0h-1.0zM394.5 194.1h1.0v1.0h-1.0z" fill="#a5a35a"/>
<path d="M384.6,211.5 C385.1,210.9 387.8,210.0 388.9,210.1 C390.1,210.3 391.4,211.6 391.6,212.4 C391.7,213.2 390.8,214.4 389.8,214.7 C388.8,215.0 386.3,214.7 385.4,214.2 C384.6,213.6 384.0,212.2 384.6,211.5Z" fill="#df2a1c" />
<path d="M384.7 211.2h.9v.9h-.9zM385.3 210.9h.9v.9h-.9zM385.7 209.7h.9v.9h-.9zM386.7 209.8h.9v.9h-.9zM387.7 209.4h.9v.9h-.9zM389.1 210.2h.9v.9h-.9zM390.3 209.8h.9v.9h-.9zM390.7 211.3h.9v.9h-.9zM390.9 211.7h.9v.9h-.9zM391.6 212.1h.9v.9h-.9zM392.4 212.8h.9v.9h-.9zM392.7 214.4h.9v.9h-.9zM388.9 214.9h.9v.9h-.9zM387.6 215.3h.9v.9h-.9zM386.8 215.3h.9v.9h-.9zM386.4 215.1h.9v.9h-.9zM385.7 215.0h.9v.9h-.9zM384.6 214.7h.9v.9h-.9zM383.4 214.4h.9v.9h-.9zM383.8 213.8h.9v.9h-.9zM384.1 212.7h.9v.9h-.9z" fill="#df2a1c"/>
<path d="M118.9 141.8h1.0v1.0h-1.0zM130.3 148.9h1.0v1.0h-1.0zM134.9 147.6h1.0v1.0h-1.0zM110.3 147.9h1.0v1.0h-1.0zM125.2 155.0h1.0v1.0h-1.0zM119.4 152.2h1.0v1.0h-1.0zM114.7 144.6h1.0v1.0h-1.0zM118.9 149.1h1.0v1.0h-1.0zM115.0 141.0h1.0v1.0h-1.0zM116.2 146.4h1.0v1.0h-1.0zM118.9 148.5h1.0v1.0h-1.0zM114.3 138.8h1.0v1.0h-1.0zM130.9 149.4h1.0v1.0h-1.0zM110.9 145.8h1.0v1.0h-1.0zM125.0 151.3h1.0v1.0h-1.0zM120.8 151.9h1.0v1.0h-1.0zM112.6 156.3h1.0v1.0h-1.0zM134.2 150.5h1.0v1.0h-1.0zM119.1 153.9h1.0v1.0h-1.0zM124.9 153.4h1.0v1.0h-1.0zM115.4 151.0h1.0v1.0h-1.0zM121.9 152.9h1.0v1.0h-1.0zM132.2 146.5h1.0v1.0h-1.0zM114.2 144.3h1.0v1.0h-1.0zM117.9 155.8h1.0v1.0h-1.0zM107.8 149.6h1.0v1.0h-1.0zM112.6 141.2h1.0v1.0h-1.0zM118.1 146.0h1.0v1.0h-1.0zM129.0 142.9h1.0v1.0h-1.0zM126.9 138.9h1.0v1.0h-1.0zM117.3 143.9h1.0v1.0h-1.0zM111.6 147.8h1.0v1.0h-1.0zM117.4 143.4h1.0v1.0h-1.0zM115.4 152.4h1.0v1.0h-1.0zM118.2 150.7h1.0v1.0h-1.0zM127.3 153.2h1.0v1.0h-1.0zM130.8 150.7h1.0v1.0h-1.0zM122.0 144.3h1.0v1.0h-1.0zM110.5 139.9h1.0v1.0h-1.0zM118.8 154.5h1.0v1.0h-1.0zM133.9 150.7h1.0v1.0h-1.0zM133.8 142.4h1.0v1.0h-1.0zM123.1 144.3h1.0v1.0h-1.0zM123.1 154.5h1.0v1.0h-1.0zM112.1 147.6h1.0v1.0h-1.0zM117.3 147.4h1.0v1.0h-1.0zM108.4 153.5h1.0v1.0h-1.0zM115.9 144.7h1.0v1.0h-1.0zM120.6 140.9h1.0v1.0h-1.0zM128.5 151.6h1.0v1.0h-1.0zM113.4 152.9h1.0v1.0h-1.0zM111.8 140.8h1.0v1.0h-1.0zM112.3 145.7h1.0v1.0h-1.0zM133.8 143.2h1.0v1.0h-1.0zM119.9 148.0h1.0v1.0h-1.0zM131.5 141.8h1.0v1.0h-1.0zM117.0 140.7h1.0v1.0h-1.0zM134.0 151.9h1.0v1.0h-1.0zM121.7 144.6h1.0v1.0h-1.0zM124.1 144.7h1.0v1.0h-1.0zM117.6 150.8h1.0v1.0h-1.0zM112.0 145.9h1.0v1.0h-1.0zM119.2 146.8h1.0v1.0h-1.0zM126.9 151.6h1.0v1.0h-1.0zM131.3 141.9h1.0v1.0h-1.0zM134.9 150.0h1.0v1.0h-1.0zM127.2 144.1h1.0v1.0h-1.0zM123.4 138.3h1.0v1.0h-1.0zM131.7 145.0h1.0v1.0h-1.0zM126.0 148.4h1.0v1.0h-1.0z" fill="#df2a1c"/>
<path d="M106.8 157.5h1.0v1.0h-1.0zM108.6 156.5h1.0v1.0h-1.0zM111.1 160.9h1.0v1.0h-1.0zM105.7 154.6h1.0v1.0h-1.0zM106.2 155.4h1.0v1.0h-1.0zM100.1 163.5h1.0v1.0h-1.0zM111.4 164.7h1.0v1.0h-1.0zM99.4 162.0h1.0v1.0h-1.0zM111.8 156.5h1.0v1.0h-1.0zM109.5 163.0h1.0v1.0h-1.0zM103.6 155.0h1.0v1.0h-1.0zM111.2 165.3h1.0v1.0h-1.0zM104.4 167.4h1.0v1.0h-1.0zM106.1 164.4h1.0v1.0h-1.0zM102.5 159.2h1.0v1.0h-1.0zM104.0 160.8h1.0v1.0h-1.0zM108.0 157.5h1.0v1.0h-1.0zM106.9 160.9h1.0v1.0h-1.0zM101.8 166.5h1.0v1.0h-1.0zM100.4 162.7h1.0v1.0h-1.0z" fill="#9b9b9b"/>
<path d="M102.3 165.9h1.0v1.0h-1.0zM102.3 163.9h1.0v1.0h-1.0zM104.6 163.1h1.0v1.0h-1.0zM106.3 160.5h1.0v1.0h-1.0zM108.9 166.4h1.0v1.0h-1.0zM105.8 165.7h1.0v1.0h-1.0zM109.0 164.8h1.0v1.0h-1.0zM103.4 161.8h1.0v1.0h-1.0zM106.5 154.8h1.0v1.0h-1.0zM107.9 153.6h1.0v1.0h-1.0zM105.9 160.4h1.0v1.0h-1.0zM105.5 167.1h1.0v1.0h-1.0zM108.6 163.0h1.0v1.0h-1.0zM105.3 164.3h1.0v1.0h-1.0zM107.7 157.3h1.0v1.0h-1.0zM104.8 155.8h1.0v1.0h-1.0zM111.8 160.4h1.0v1.0h-1.0zM106.6 167.7h1.0v1.0h-1.0zM104.7 159.9h1.0v1.0h-1.0zM99.4 160.9h1.0v1.0h-1.0z" fill="#b47cae"/>
<path d="M125.0 163.9h1.0v1.0h-1.0zM129.9 163.7h1.0v1.0h-1.0zM123.5 169.6h1.0v1.0h-1.0zM130.6 157.8h1.0v1.0h-1.0zM132.5 161.7h1.0v1.0h-1.0zM120.9 164.4h1.0v1.0h-1.0zM127.7 164.8h1.0v1.0h-1.0zM129.7 159.8h1.0v1.0h-1.0zM121.5 164.5h1.0v1.0h-1.0zM122.1 160.3h1.0v1.0h-1.0zM124.7 163.4h1.0v1.0h-1.0zM121.5 165.4h1.0v1.0h-1.0zM128.8 158.7h1.0v1.0h-1.0zM134.4 162.4h1.0v1.0h-1.0zM125.8 164.2h1.0v1.0h-1.0z" fill="#df2a1c"/>
<path d="M131.0 168.7h1.0v1.0h-1.0zM130.1 170.3h1.0v1.0h-1.0zM127.9 159.9h1.0v1.0h-1.0zM124.6 165.6h1.0v1.0h-1.0zM130.3 165.3h1.0v1.0h-1.0zM120.5 159.1h1.0v1.0h-1.0zM125.6 167.4h1.0v1.0h-1.0zM128.4 166.7h1.0v1.0h-1.0zM133.7 166.1h1.0v1.0h-1.0zM130.9 159.2h1.0v1.0h-1.0zM130.4 169.5h1.0v1.0h-1.0zM129.8 159.3h1.0v1.0h-1.0zM133.4 161.0h1.0v1.0h-1.0zM128.2 160.7h1.0v1.0h-1.0zM126.5 168.9h1.0v1.0h-1.0z" fill="#fb8418"/>
<path d="M128.5 169.9h1.0v1.0h-1.0zM132.3 155.5h1.0v1.0h-1.0zM122.8 168.3h1.0v1.0h-1.0zM129.7 165.5h1.0v1.0h-1.0zM122.1 169.8h1.0v1.0h-1.0zM125.0 162.5h1.0v1.0h-1.0zM133.7 159.4h1.0v1.0h-1.0zM133.6 157.8h1.0v1.0h-1.0zM130.4 162.0h1.0v1.0h-1.0zM128.6 162.7h1.0v1.0h-1.0zM123.9 165.5h1.0v1.0h-1.0zM121.8 159.1h1.0v1.0h-1.0zM120.7 165.6h1.0v1.0h-1.0zM121.2 170.0h1.0v1.0h-1.0zM129.7 167.5h1.0v1.0h-1.0z" fill="#45a845"/>
<path d="M393.7 149.5h1.0v1.0h-1.0zM376.7 153.3h1.0v1.0h-1.0zM392.9 144.4h1.0v1.0h-1.0zM382.0 143.8h1.0v1.0h-1.0zM391.4 139.7h1.0v1.0h-1.0zM393.4 147.2h1.0v1.0h-1.0zM383.7 146.2h1.0v1.0h-1.0zM382.2 144.6h1.0v1.0h-1.0zM384.7 140.0h1.0v1.0h-1.0zM378.9 148.2h1.0v1.0h-1.0zM384.0 138.7h1.0v1.0h-1.0zM384.8 146.6h1.0v1.0h-1.0zM380.5 139.1h1.0v1.0h-1.0zM384.0 154.4h1.0v1.0h-1.0zM376.7 146.1h1.0v1.0h-1.0zM387.6 146.2h1.0v1.0h-1.0zM393.1 150.4h1.0v1.0h-1.0zM396.1 142.1h1.0v1.0h-1.0zM376.6 151.5h1.0v1.0h-1.0zM392.8 142.5h1.0v1.0h-1.0zM385.0 149.0h1.0v1.0h-1.0zM390.3 149.2h1.0v1.0h-1.0zM390.2 141.8h1.0v1.0h-1.0zM384.6 146.7h1.0v1.0h-1.0zM374.1 141.4h1.0v1.0h-1.0zM389.5 146.5h1.0v1.0h-1.0zM384.0 155.4h1.0v1.0h-1.0zM396.2 148.3h1.0v1.0h-1.0zM388.6 152.8h1.0v1.0h-1.0zM398.8 149.4h1.0v1.0h-1.0zM384.6 139.7h1.0v1.0h-1.0zM392.5 138.9h1.0v1.0h-1.0zM379.5 141.6h1.0v1.0h-1.0zM395.6 149.7h1.0v1.0h-1.0zM387.5 138.2h1.0v1.0h-1.0zM378.0 155.4h1.0v1.0h-1.0zM375.1 145.1h1.0v1.0h-1.0zM379.2 140.6h1.0v1.0h-1.0zM374.9 152.0h1.0v1.0h-1.0zM384.4 143.3h1.0v1.0h-1.0zM393.8 146.4h1.0v1.0h-1.0zM389.5 140.7h1.0v1.0h-1.0zM382.8 140.2h1.0v1.0h-1.0zM392.9 142.8h1.0v1.0h-1.0zM393.6 149.5h1.0v1.0h-1.0zM394.1 140.1h1.0v1.0h-1.0zM393.0 141.8h1.0v1.0h-1.0zM397.1 148.7h1.0v1.0h-1.0zM383.1 149.7h1.0v1.0h-1.0zM373.8 147.5h1.0v1.0h-1.0zM383.0 145.4h1.0v1.0h-1.0zM386.2 152.2h1.0v1.0h-1.0zM376.5 150.3h1.0v1.0h-1.0zM387.5 139.7h1.0v1.0h-1.0zM385.8 148.9h1.0v1.0h-1.0zM385.2 141.8h1.0v1.0h-1.0zM382.9 143.7h1.0v1.0h-1.0zM391.7 141.7h1.0v1.0h-1.0zM374.6 142.7h1.0v1.0h-1.0zM388.1 138.8h1.0v1.0h-1.0z" fill="#df2a1c"/>
<text x="4.0" y="329.8" font-size="19" text-anchor="start" font-weight="bold" font-style="normal" fill="#000" >b</text>
<rect x="141.3" y="326.3" width="105.2" height="142.7" fill="#fff"/>
<line x1="141.3" y1="346.0" x2="246.5" y2="346.0" stroke="#f2f2f2" stroke-width="0.5"/>
<line x1="141.3" y1="375.3" x2="246.5" y2="375.3" stroke="#f2f2f2" stroke-width="0.5"/>
<line x1="141.3" y1="404.9" x2="246.5" y2="404.9" stroke="#f2f2f2" stroke-width="0.5"/>
<line x1="141.3" y1="434.4" x2="246.5" y2="434.4" stroke="#f2f2f2" stroke-width="0.5"/>
<line x1="141.3" y1="463.5" x2="246.5" y2="463.5" stroke="#f2f2f2" stroke-width="0.5"/>
<line x1="141.3" y1="331.5" x2="246.5" y2="331.5" stroke="#e6e6e6" stroke-width="0.7"/>
<line x1="139.1" y1="331.5" x2="141.3" y2="331.5" stroke="#111" stroke-width="0.55"/>
<text x="138.0" y="333.9" font-size="6.8" text-anchor="end" font-weight="normal" font-style="normal" fill="#1a1a1a" >12.5</text>
<line x1="141.3" y1="360.5" x2="246.5" y2="360.5" stroke="#e6e6e6" stroke-width="0.7"/>
<line x1="139.1" y1="360.5" x2="141.3" y2="360.5" stroke="#111" stroke-width="0.55"/>
<text x="138.0" y="362.9" font-size="6.8" text-anchor="end" font-weight="normal" font-style="normal" fill="#1a1a1a" >10.0</text>
<line x1="141.3" y1="390.1" x2="246.5" y2="390.1" stroke="#e6e6e6" stroke-width="0.7"/>
<line x1="139.1" y1="390.1" x2="141.3" y2="390.1" stroke="#111" stroke-width="0.55"/>
<text x="138.0" y="392.5" font-size="6.8" text-anchor="end" font-weight="normal" font-style="normal" fill="#1a1a1a" >7.5</text>
<line x1="141.3" y1="419.7" x2="246.5" y2="419.7" stroke="#e6e6e6" stroke-width="0.7"/>
<line x1="139.1" y1="419.7" x2="141.3" y2="419.7" stroke="#111" stroke-width="0.55"/>
<text x="138.0" y="422.1" font-size="6.8" text-anchor="end" font-weight="normal" font-style="normal" fill="#1a1a1a" >5.0</text>
<line x1="141.3" y1="449.0" x2="246.5" y2="449.0" stroke="#e6e6e6" stroke-width="0.7"/>
<line x1="139.1" y1="449.0" x2="141.3" y2="449.0" stroke="#111" stroke-width="0.55"/>
<text x="138.0" y="451.4" font-size="6.8" text-anchor="end" font-weight="normal" font-style="normal" fill="#1a1a1a" >2.5</text>
<line x1="169.9" y1="326.3" x2="169.9" y2="469.0" stroke="#e6e6e6" stroke-width="0.7"/>
<line x1="169.9" y1="469.0" x2="169.9" y2="471.2" stroke="#111" stroke-width="0.55"/>
<line x1="217.9" y1="326.3" x2="217.9" y2="469.0" stroke="#e6e6e6" stroke-width="0.7"/>
<line x1="217.9" y1="469.0" x2="217.9" y2="471.2" stroke="#111" stroke-width="0.55"/>
<line x1="169.9" y1="415.9" x2="169.9" y2="457.1" stroke="#a8a8a8" stroke-width="0.9"/>
<rect x="152.3" y="424.4" width="35.4" height="21.9" fill="#b3b3b3" stroke="#444" stroke-width="0.6"/>
<line x1="152.3" y1="434.3" x2="187.7" y2="434.3" stroke="#333" stroke-width="1.3"/>
<line x1="217.9" y1="343.7" x2="217.9" y2="451.0" stroke="#a8a8a8" stroke-width="0.9"/>
<rect x="199.9" y="362.3" width="35.8" height="51.9" fill="#ae1c22" stroke="#444" stroke-width="0.6"/>
<line x1="199.9" y1="385.2" x2="235.7" y2="385.2" stroke="#333" stroke-width="1.3"/>
<circle cx="172.3" cy="380.5" r="1.9" fill="none" stroke="#444" stroke-width="0.55"/>
<circle cx="173.4" cy="381.9" r="1.9" fill="none" stroke="#444" stroke-width="0.55"/>
<circle cx="175.0" cy="415.9" r="1.9" fill="none" stroke="#444" stroke-width="0.55"/>
<circle cx="170.9" cy="432.2" r="1.9" fill="none" stroke="#444" stroke-width="0.55"/>
<circle cx="172.3" cy="433.6" r="1.9" fill="none" stroke="#444" stroke-width="0.55"/>
<circle cx="174.4" cy="434.1" r="1.9" fill="none" stroke="#444" stroke-width="0.55"/>
<circle cx="175.0" cy="441.8" r="1.9" fill="none" stroke="#444" stroke-width="0.55"/>
<circle cx="173.8" cy="444.3" r="1.9" fill="none" stroke="#444" stroke-width="0.55"/>
<circle cx="166.6" cy="449.4" r="1.9" fill="none" stroke="#444" stroke-width="0.55"/>
<circle cx="166.2" cy="457.2" r="1.9" fill="none" stroke="#444" stroke-width="0.55"/>
<circle cx="168.2" cy="456.7" r="1.9" fill="none" stroke="#444" stroke-width="0.55"/>
<path d="M213.8,341.0 L215.9,344.6 L211.7,344.6Z" fill="#000"/>
<rect x="213.5" y="354.9" width="3.4" height="3.4" fill="#000"/>
<path d="M219.8,365.6 L222.0,367.8 L219.8,370.1 L217.5,367.8Z" fill="none" stroke="#111" stroke-width="0.6"/>
<path d="M219.3,387.3 L221.4,383.7 L217.3,383.7Z" fill="none" stroke="#111" stroke-width="0.6"/>
<rect x="220.2" y="408.1" width="3.2" height="3.2" fill="none" stroke="#111" stroke-width="0.55"/><path d="M220.2,408.1L223.4,411.4M223.4,408.1L220.2,411.4" stroke="#111" stroke-width="0.55"/>
<circle cx="220.8" cy="418.7" r="1.805" fill="#000"/>
<path d="M216.4,451.0L220.2,451.0M218.3,449.1L218.3,452.9M217.0,449.7L219.7,452.4M219.7,449.7L217.0,452.4" stroke="#111" stroke-width="0.55"/>
<path d="M169.9,340.7 L169.9,338.2 L217.9,338.2 L217.9,340.7" fill="none" stroke="#444" stroke-width="0.5"/>
<text x="193.8" y="335.0" font-size="6.5" text-anchor="middle" font-weight="normal" font-style="normal" fill="#000" >*</text>
<rect x="170.3" y="341.8" width="40.8" height="11" fill="#fff"/>
<text x="171.3" y="351.5" font-size="10.5" text-anchor="start" font-weight="normal" font-style="normal" fill="#000" textLength="38.8" lengthAdjust="spacingAndGlyphs" >p=0,046</text>
<rect x="141.3" y="326.3" width="105.2" height="142.7" fill="none" stroke="#999" stroke-width="0.6"/>
<rect x="141.3" y="315.7" width="105.2" height="10.6" fill="#d9d9d9" stroke="#999" stroke-width="0.6"/>
<text x="193.9" y="323.5" font-size="7.5" text-anchor="middle" font-weight="normal" font-style="normal" fill="#1a1a1a" >Naïve B cells</text>
<text x="121.2" y="398" font-size="7.3" text-anchor="middle" fill="#1a1a1a" transform="rotate(-90 121.2 398)" dy="1.6">% / all cells</text>
<rect x="318.2" y="324.1" width="105.5" height="142.9" fill="#fff"/>
<line x1="318.2" y1="352.1" x2="423.7" y2="352.1" stroke="#f2f2f2" stroke-width="0.5"/>
<line x1="318.2" y1="387.1" x2="423.7" y2="387.1" stroke="#f2f2f2" stroke-width="0.5"/>
<line x1="318.2" y1="422.1" x2="423.7" y2="422.1" stroke="#f2f2f2" stroke-width="0.5"/>
<line x1="318.2" y1="457.3" x2="423.7" y2="457.3" stroke="#f2f2f2" stroke-width="0.5"/>
<line x1="318.2" y1="334.6" x2="423.7" y2="334.6" stroke="#e6e6e6" stroke-width="0.7"/>
<line x1="316.0" y1="334.6" x2="318.2" y2="334.6" stroke="#111" stroke-width="0.55"/>
<text x="314.2" y="337.0" font-size="6.8" text-anchor="end" font-weight="normal" font-style="normal" fill="#1a1a1a" >1.25</text>
<line x1="318.2" y1="369.6" x2="423.7" y2="369.6" stroke="#e6e6e6" stroke-width="0.7"/>
<line x1="316.0" y1="369.6" x2="318.2" y2="369.6" stroke="#111" stroke-width="0.55"/>
<text x="314.2" y="372.0" font-size="6.8" text-anchor="end" font-weight="normal" font-style="normal" fill="#1a1a1a" >1.00</text>
<line x1="318.2" y1="404.5" x2="423.7" y2="404.5" stroke="#e6e6e6" stroke-width="0.7"/>
<line x1="316.0" y1="404.5" x2="318.2" y2="404.5" stroke="#111" stroke-width="0.55"/>
<text x="314.2" y="406.9" font-size="6.8" text-anchor="end" font-weight="normal" font-style="normal" fill="#1a1a1a" >0.75</text>
<line x1="318.2" y1="439.8" x2="423.7" y2="439.8" stroke="#e6e6e6" stroke-width="0.7"/>
<line x1="316.0" y1="439.8" x2="318.2" y2="439.8" stroke="#111" stroke-width="0.55"/>
<text x="314.2" y="442.2" font-size="6.8" text-anchor="end" font-weight="normal" font-style="normal" fill="#1a1a1a" >0.50</text>
<line x1="346.8" y1="324.1" x2="346.8" y2="467.0" stroke="#e6e6e6" stroke-width="0.7"/>
<line x1="346.8" y1="467.0" x2="346.8" y2="469.2" stroke="#111" stroke-width="0.55"/>
<line x1="394.4" y1="324.1" x2="394.4" y2="467.0" stroke="#e6e6e6" stroke-width="0.7"/>
<line x1="394.4" y1="467.0" x2="394.4" y2="469.2" stroke="#111" stroke-width="0.55"/>
<line x1="346.8" y1="371.7" x2="346.8" y2="453.2" stroke="#a8a8a8" stroke-width="0.9"/>
<rect x="328.8" y="397.7" width="36.0" height="42.1" fill="#b3b3b3" stroke="#444" stroke-width="0.6"/>
<line x1="328.8" y1="425.7" x2="364.8" y2="425.7" stroke="#333" stroke-width="1.3"/>
<line x1="394.4" y1="349.5" x2="394.4" y2="413.0" stroke="#a8a8a8" stroke-width="0.9"/>
<rect x="376.9" y="370.0" width="35.7" height="34.5" fill="#ae1c22" stroke="#444" stroke-width="0.6"/>
<line x1="376.9" y1="383.3" x2="412.6" y2="383.3" stroke="#333" stroke-width="1.3"/>
<circle cx="346.0" cy="372.3" r="1.9" fill="none" stroke="#444" stroke-width="0.55"/>
<circle cx="347.7" cy="385.0" r="1.9" fill="none" stroke="#444" stroke-width="0.55"/>
<circle cx="344.3" cy="396.4" r="1.9" fill="none" stroke="#444" stroke-width="0.55"/>
<circle cx="347.9" cy="395.0" r="1.9" fill="none" stroke="#444" stroke-width="0.55"/>
<circle cx="348.9" cy="397.7" r="1.9" fill="none" stroke="#444" stroke-width="0.55"/>
<circle cx="342.2" cy="421.8" r="1.9" fill="none" stroke="#444" stroke-width="0.55"/>
<circle cx="344.3" cy="436.7" r="1.9" fill="none" stroke="#444" stroke-width="0.55"/>
<circle cx="344.9" cy="439.4" r="1.9" fill="none" stroke="#444" stroke-width="0.55"/>
<circle cx="343.8" cy="442.2" r="1.9" fill="none" stroke="#444" stroke-width="0.55"/>
<circle cx="351.0" cy="440.5" r="1.9" fill="none" stroke="#444" stroke-width="0.55"/>
<circle cx="343.2" cy="455.3" r="1.9" fill="none" stroke="#444" stroke-width="0.55"/>
<rect x="395.5" y="341.8" width="3.4" height="3.4" fill="#000"/>
<path d="M395.5,347.4 L397.6,351.0 L393.4,351.0Z" fill="#000"/>
<path d="M393.6,384.8 L395.7,381.2 L391.5,381.2Z" fill="none" stroke="#111" stroke-width="0.6"/>
<circle cx="397.4" cy="384.4" r="1.805" fill="#000"/>
<path d="M394.7,396.4L398.5,396.4M396.6,394.5L396.6,398.3M395.2,395.1L397.9,397.8M397.9,395.1L395.2,397.8" stroke="#111" stroke-width="0.55"/>
<rect x="390.7" y="411.8" width="3.2" height="3.2" fill="none" stroke="#111" stroke-width="0.55"/><path d="M390.7,411.8L393.9,415.0M393.9,411.8L390.7,415.0" stroke="#111" stroke-width="0.55"/>
<path d="M394.6,410.7 L396.9,413.0 L394.6,415.2 L392.4,413.0Z" fill="none" stroke="#111" stroke-width="0.6"/>
<path d="M346.8,338.8 L346.8,336.3 L394.4,336.3 L394.4,338.8" fill="none" stroke="#444" stroke-width="0.5"/>
<text x="370.7" y="333.0" font-size="6.5" text-anchor="middle" font-weight="normal" font-style="normal" fill="#000" >*</text>
<rect x="351.3" y="337.7" width="40.5" height="11" fill="#fff"/>
<text x="352.3" y="347.4" font-size="10.5" text-anchor="start" font-weight="normal" font-style="normal" fill="#000" textLength="38.5" lengthAdjust="spacingAndGlyphs" >p=0,049</text>
<rect x="318.2" y="324.1" width="105.5" height="142.9" fill="none" stroke="#999" stroke-width="0.6"/>
<rect x="318.2" y="313.0" width="105.5" height="11.1" fill="#d9d9d9" stroke="#999" stroke-width="0.6"/>
<text x="370.9" y="321.1" font-size="7.5" text-anchor="middle" font-weight="normal" font-style="normal" fill="#1a1a1a" >Regulatory T cells</text>
<text x="298.1" y="396" font-size="7.3" text-anchor="middle" fill="#1a1a1a" transform="rotate(-90 298.1 396)" dy="1.6">% / all cells</text>
<rect x="489.5" y="324.5" width="110.7" height="142.9" fill="#fff"/>
<line x1="489.5" y1="328.4" x2="600.2" y2="328.4" stroke="#f2f2f2" stroke-width="0.5"/>
<line x1="489.5" y1="369.2" x2="600.2" y2="369.2" stroke="#f2f2f2" stroke-width="0.5"/>
<line x1="489.5" y1="410.1" x2="600.2" y2="410.1" stroke="#f2f2f2" stroke-width="0.5"/>
<line x1="489.5" y1="450.9" x2="600.2" y2="450.9" stroke="#f2f2f2" stroke-width="0.5"/>
<line x1="489.5" y1="348.8" x2="600.2" y2="348.8" stroke="#e6e6e6" stroke-width="0.7"/>
<line x1="487.3" y1="348.8" x2="489.5" y2="348.8" stroke="#111" stroke-width="0.55"/>
<text x="484.8" y="351.2" font-size="6.8" text-anchor="end" font-weight="normal" font-style="normal" fill="#1a1a1a" >40</text>
<line x1="489.5" y1="389.7" x2="600.2" y2="389.7" stroke="#e6e6e6" stroke-width="0.7"/>
<line x1="487.3" y1="389.7" x2="489.5" y2="389.7" stroke="#111" stroke-width="0.55"/>
<text x="484.8" y="392.1" font-size="6.8" text-anchor="end" font-weight="normal" font-style="normal" fill="#1a1a1a" >30</text>
<line x1="489.5" y1="430.5" x2="600.2" y2="430.5" stroke="#e6e6e6" stroke-width="0.7"/>
<line x1="487.3" y1="430.5" x2="489.5" y2="430.5" stroke="#111" stroke-width="0.55"/>
<text x="484.8" y="432.9" font-size="6.8" text-anchor="end" font-weight="normal" font-style="normal" fill="#1a1a1a" >20</text>
<line x1="519.3" y1="324.5" x2="519.3" y2="467.4" stroke="#e6e6e6" stroke-width="0.7"/>
<line x1="519.3" y1="467.4" x2="519.3" y2="469.6" stroke="#111" stroke-width="0.55"/>
<line x1="570.1" y1="324.5" x2="570.1" y2="467.4" stroke="#e6e6e6" stroke-width="0.7"/>
<line x1="570.1" y1="467.4" x2="570.1" y2="469.6" stroke="#111" stroke-width="0.55"/>
<line x1="519.3" y1="372.1" x2="519.3" y2="455.7" stroke="#a8a8a8" stroke-width="0.9"/>
<rect x="500.7" y="408.7" width="37.7" height="28.6" fill="#b3b3b3" stroke="#444" stroke-width="0.6"/>
<line x1="500.7" y1="421.2" x2="538.4" y2="421.2" stroke="#333" stroke-width="1.3"/>
<line x1="570.1" y1="342.0" x2="570.1" y2="417.2" stroke="#a8a8a8" stroke-width="0.9"/>
<rect x="551.3" y="362.2" width="37.9" height="33.2" fill="#ae1c22" stroke="#444" stroke-width="0.6"/>
<line x1="551.3" y1="368.5" x2="589.2" y2="368.5" stroke="#333" stroke-width="1.3"/>
<circle cx="519.5" cy="372.1" r="1.9" fill="none" stroke="#444" stroke-width="0.55"/>
<circle cx="520.8" cy="405.1" r="1.9" fill="none" stroke="#444" stroke-width="0.55"/>
<circle cx="520.8" cy="407.7" r="1.9" fill="none" stroke="#444" stroke-width="0.55"/>
<circle cx="518.3" cy="409.8" r="1.9" fill="none" stroke="#444" stroke-width="0.55"/>
<circle cx="520.8" cy="418.7" r="1.9" fill="none" stroke="#444" stroke-width="0.55"/>
<circle cx="520.4" cy="420.4" r="1.9" fill="none" stroke="#444" stroke-width="0.55"/>
<circle cx="521.4" cy="421.8" r="1.9" fill="none" stroke="#444" stroke-width="0.55"/>
<circle cx="515.1" cy="425.0" r="1.9" fill="none" stroke="#444" stroke-width="0.55"/>
<circle cx="515.9" cy="449.6" r="1.9" fill="none" stroke="#444" stroke-width="0.55"/>
<circle cx="517.6" cy="455.7" r="1.9" fill="none" stroke="#444" stroke-width="0.55"/>
<circle cx="519.7" cy="455.7" r="1.9" fill="none" stroke="#444" stroke-width="0.55"/>
<path d="M574.1,339.5 L576.2,343.1 L572.1,343.1Z" fill="#000"/>
<path d="M570.1,364.2 L572.2,360.6 L568.0,360.6Z" fill="none" stroke="#111" stroke-width="0.6"/>
<path d="M573.7,364.2 L575.8,360.6 L571.6,360.6Z" fill="none" stroke="#111" stroke-width="0.6"/>
<circle cx="575.2" cy="368.7" r="1.805" fill="#000"/>
<rect x="571.5" y="378.5" width="3.2" height="3.2" fill="none" stroke="#111" stroke-width="0.55"/><path d="M571.5,378.5L574.7,381.8M574.7,378.5L571.5,381.8" stroke="#111" stroke-width="0.55"/>
<path d="M565.7,408.6 L568.0,410.8 L565.7,413.1 L563.4,410.8Z" fill="none" stroke="#111" stroke-width="0.6"/>
<rect x="571.6" y="415.5" width="3.4" height="3.4" fill="#000"/>
<path d="M519.3,338.8 L519.3,336.3 L570.1,336.3 L570.1,338.8" fill="none" stroke="#444" stroke-width="0.5"/>
<text x="544.5" y="333.4" font-size="6.5" text-anchor="middle" font-weight="normal" font-style="normal" fill="#000" >**</text>
<rect x="520.4" y="337.1" width="47.6" height="11" fill="#fff"/>
<text x="521.4" y="346.8" font-size="10.5" text-anchor="start" font-weight="normal" font-style="normal" fill="#000" textLength="45.6" lengthAdjust="spacingAndGlyphs" >p=0,0086</text>
<rect x="489.5" y="324.5" width="110.7" height="142.9" fill="none" stroke="#999" stroke-width="0.6"/>
<rect x="489.5" y="313.5" width="110.7" height="11.0" fill="#d9d9d9" stroke="#999" stroke-width="0.6"/>
<text x="544.9" y="321.5" font-size="7.5" text-anchor="middle" font-weight="normal" font-style="normal" fill="#1a1a1a" >Tfh-like</text>
<text x="475.3" y="396" font-size="7.5" text-anchor="middle" fill="#1a1a1a" transform="rotate(-90 475.3 396)" dy="1.6">% / Memory CD4 T cells</text>
<rect x="130.8" y="501.0" width="115.7" height="143.1" fill="#fff"/>
<line x1="130.8" y1="514.5" x2="246.5" y2="514.5" stroke="#f2f2f2" stroke-width="0.5"/>
<line x1="130.8" y1="562.0" x2="246.5" y2="562.0" stroke="#f2f2f2" stroke-width="0.5"/>
<line x1="130.8" y1="609.3" x2="246.5" y2="609.3" stroke="#f2f2f2" stroke-width="0.5"/>
<line x1="130.8" y1="538.2" x2="246.5" y2="538.2" stroke="#e6e6e6" stroke-width="0.7"/>
<line x1="128.6" y1="538.2" x2="130.8" y2="538.2" stroke="#111" stroke-width="0.55"/>
<text x="128.4" y="540.6" font-size="6.8" text-anchor="end" font-weight="normal" font-style="normal" fill="#1a1a1a" >4</text>
<line x1="130.8" y1="585.7" x2="246.5" y2="585.7" stroke="#e6e6e6" stroke-width="0.7"/>
<line x1="128.6" y1="585.7" x2="130.8" y2="585.7" stroke="#111" stroke-width="0.55"/>
<text x="128.4" y="588.1" font-size="6.8" text-anchor="end" font-weight="normal" font-style="normal" fill="#1a1a1a" >2</text>
<line x1="130.8" y1="632.9" x2="246.5" y2="632.9" stroke="#e6e6e6" stroke-width="0.7"/>
<line x1="128.6" y1="632.9" x2="130.8" y2="632.9" stroke="#111" stroke-width="0.55"/>
<text x="128.4" y="635.3" font-size="6.8" text-anchor="end" font-weight="normal" font-style="normal" fill="#1a1a1a" >0</text>
<line x1="162.7" y1="501.0" x2="162.7" y2="644.1" stroke="#e6e6e6" stroke-width="0.7"/>
<line x1="162.7" y1="644.1" x2="162.7" y2="646.3" stroke="#111" stroke-width="0.55"/>
<line x1="215.2" y1="501.0" x2="215.2" y2="644.1" stroke="#e6e6e6" stroke-width="0.7"/>
<line x1="215.2" y1="644.1" x2="215.2" y2="646.3" stroke="#111" stroke-width="0.55"/>
<line x1="162.7" y1="620.5" x2="162.7" y2="631.0" stroke="#a8a8a8" stroke-width="0.9"/>
<rect x="142.7" y="622.4" width="39.9" height="7.2" fill="#b3b3b3" stroke="#444" stroke-width="0.6"/>
<line x1="142.7" y1="625.7" x2="182.6" y2="625.7" stroke="#333" stroke-width="1.3"/>
<line x1="215.2" y1="600.6" x2="215.2" y2="627.0" stroke="#a8a8a8" stroke-width="0.9"/>
<rect x="195.4" y="603.4" width="39.3" height="16.6" fill="#ae1c22" stroke="#444" stroke-width="0.6"/>
<line x1="195.4" y1="616.3" x2="234.7" y2="616.3" stroke="#333" stroke-width="1.3"/>
<circle cx="163.1" cy="619.6" r="1.9" fill="none" stroke="#444" stroke-width="0.55"/>
<circle cx="161.1" cy="621.0" r="1.9" fill="none" stroke="#444" stroke-width="0.55"/>
<circle cx="163.5" cy="623.1" r="1.9" fill="none" stroke="#444" stroke-width="0.55"/>
<circle cx="162.1" cy="625.1" r="1.9" fill="none" stroke="#444" stroke-width="0.55"/>
<circle cx="164.8" cy="625.5" r="1.9" fill="none" stroke="#444" stroke-width="0.55"/>
<circle cx="160.1" cy="626.7" r="1.9" fill="none" stroke="#444" stroke-width="0.55"/>
<circle cx="162.7" cy="628.2" r="1.9" fill="none" stroke="#444" stroke-width="0.55"/>
<circle cx="164.2" cy="630.2" r="1.9" fill="none" stroke="#444" stroke-width="0.55"/>
<circle cx="163.5" cy="632.3" r="1.9" fill="none" stroke="#444" stroke-width="0.55"/>
<circle cx="159.1" cy="627.6" r="1.9" fill="none" stroke="#444" stroke-width="0.55"/>
<rect x="215.2" y="517.7" width="3.4" height="3.4" fill="#000"/>
<path d="M220.4,597.3 L222.6,599.6 L220.4,601.8 L218.1,599.6Z" fill="none" stroke="#111" stroke-width="0.6"/>
<rect x="212.2" y="606.1" width="3.2" height="3.2" fill="none" stroke="#111" stroke-width="0.55"/><path d="M212.2,606.1L215.4,609.4M215.4,606.1L212.2,609.4" stroke="#111" stroke-width="0.55"/>
<path d="M213.2,618.4 L215.3,614.8 L211.1,614.8Z" fill="none" stroke="#111" stroke-width="0.6"/>
<path d="M216.3,618.0 L218.4,614.4 L214.2,614.4Z" fill="none" stroke="#111" stroke-width="0.6"/>
<path d="M220.4,621.0 L222.5,624.6 L218.3,624.6Z" fill="#000"/>
<circle cx="217.7" cy="628.6" r="1.805" fill="#000"/>
<path d="M162.7,515.8 L162.7,513.3 L215.2,513.3 L215.2,515.8" fill="none" stroke="#444" stroke-width="0.5"/>
<text x="188.7" y="510.2" font-size="6.5" text-anchor="middle" font-weight="normal" font-style="normal" fill="#000" >*</text>
<rect x="170.3" y="515.9" width="40.8" height="11" fill="#fff"/>
<text x="171.3" y="525.6" font-size="10.5" text-anchor="start" font-weight="normal" font-style="normal" fill="#000" textLength="38.8" lengthAdjust="spacingAndGlyphs" >p=0,012</text>
<rect x="130.8" y="501.0" width="115.7" height="143.1" fill="none" stroke="#999" stroke-width="0.6"/>
<rect x="130.8" y="490.2" width="115.7" height="10.8" fill="#d9d9d9" stroke="#999" stroke-width="0.6"/>
<text x="188.7" y="498.1" font-size="7.5" text-anchor="middle" font-weight="normal" font-style="normal" fill="#1a1a1a" >EM CD8 T cells</text>
<text x="121.2" y="573" font-size="7.3" text-anchor="middle" fill="#1a1a1a" transform="rotate(-90 121.2 573)" dy="1.6">% / all cells</text>
<rect x="307.9" y="501.2" width="115.8" height="143.5" fill="#fff"/>
<line x1="307.9" y1="511.1" x2="423.7" y2="511.1" stroke="#f2f2f2" stroke-width="0.5"/>
<line x1="307.9" y1="538.6" x2="423.7" y2="538.6" stroke="#f2f2f2" stroke-width="0.5"/>
<line x1="307.9" y1="566.1" x2="423.7" y2="566.1" stroke="#f2f2f2" stroke-width="0.5"/>
<line x1="307.9" y1="593.8" x2="423.7" y2="593.8" stroke="#f2f2f2" stroke-width="0.5"/>
<line x1="307.9" y1="621.4" x2="423.7" y2="621.4" stroke="#f2f2f2" stroke-width="0.5"/>
<line x1="307.9" y1="524.9" x2="423.7" y2="524.9" stroke="#e6e6e6" stroke-width="0.7"/>
<line x1="305.7" y1="524.9" x2="307.9" y2="524.9" stroke="#111" stroke-width="0.55"/>
<text x="304.7" y="527.3" font-size="6.8" text-anchor="end" font-weight="normal" font-style="normal" fill="#1a1a1a" >4</text>
<line x1="307.9" y1="552.4" x2="423.7" y2="552.4" stroke="#e6e6e6" stroke-width="0.7"/>
<line x1="305.7" y1="552.4" x2="307.9" y2="552.4" stroke="#111" stroke-width="0.55"/>
<text x="304.7" y="554.8" font-size="6.8" text-anchor="end" font-weight="normal" font-style="normal" fill="#1a1a1a" >3</text>
<line x1="307.9" y1="579.9" x2="423.7" y2="579.9" stroke="#e6e6e6" stroke-width="0.7"/>
<line x1="305.7" y1="579.9" x2="307.9" y2="579.9" stroke="#111" stroke-width="0.55"/>
<text x="304.7" y="582.3" font-size="6.8" text-anchor="end" font-weight="normal" font-style="normal" fill="#1a1a1a" >2</text>
<line x1="307.9" y1="607.6" x2="423.7" y2="607.6" stroke="#e6e6e6" stroke-width="0.7"/>
<line x1="305.7" y1="607.6" x2="307.9" y2="607.6" stroke="#111" stroke-width="0.55"/>
<text x="304.7" y="610.0" font-size="6.8" text-anchor="end" font-weight="normal" font-style="normal" fill="#1a1a1a" >1</text>
<line x1="307.9" y1="635.2" x2="423.7" y2="635.2" stroke="#e6e6e6" stroke-width="0.7"/>
<line x1="305.7" y1="635.2" x2="307.9" y2="635.2" stroke="#111" stroke-width="0.55"/>
<text x="304.7" y="637.6" font-size="6.8" text-anchor="end" font-weight="normal" font-style="normal" fill="#1a1a1a" >0</text>
<line x1="339.6" y1="501.2" x2="339.6" y2="644.7" stroke="#e6e6e6" stroke-width="0.7"/>
<line x1="339.6" y1="644.7" x2="339.6" y2="646.9" stroke="#111" stroke-width="0.55"/>
<line x1="391.9" y1="501.2" x2="391.9" y2="644.7" stroke="#e6e6e6" stroke-width="0.7"/>
<line x1="391.9" y1="644.7" x2="391.9" y2="646.9" stroke="#111" stroke-width="0.55"/>
<line x1="339.6" y1="609.0" x2="339.6" y2="633.0" stroke="#a8a8a8" stroke-width="0.9"/>
<rect x="319.3" y="612.9" width="40.2" height="11.0" fill="#b3b3b3" stroke="#444" stroke-width="0.6"/>
<line x1="319.3" y1="621.4" x2="359.5" y2="621.4" stroke="#333" stroke-width="1.3"/>
<line x1="391.9" y1="555.0" x2="391.9" y2="594.3" stroke="#a8a8a8" stroke-width="0.9"/>
<rect x="372.2" y="560.4" width="39.4" height="24.8" fill="#ae1c22" stroke="#444" stroke-width="0.6"/>
<line x1="372.2" y1="571.4" x2="411.6" y2="571.4" stroke="#333" stroke-width="1.3"/>
<circle cx="343.2" cy="519.2" r="1.9" fill="none" stroke="#444" stroke-width="0.55"/>
<circle cx="343.2" cy="588.4" r="1.9" fill="none" stroke="#444" stroke-width="0.55"/>
<circle cx="336.9" cy="610.8" r="1.9" fill="none" stroke="#444" stroke-width="0.55"/>
<circle cx="337.9" cy="616.5" r="1.9" fill="none" stroke="#444" stroke-width="0.55"/>
<circle cx="344.7" cy="617.2" r="1.9" fill="none" stroke="#444" stroke-width="0.55"/>
<circle cx="335.8" cy="623.9" r="1.9" fill="none" stroke="#444" stroke-width="0.55"/>
<circle cx="341.1" cy="623.3" r="1.9" fill="none" stroke="#444" stroke-width="0.55"/>
<circle cx="340.0" cy="629.2" r="1.9" fill="none" stroke="#444" stroke-width="0.55"/>
<circle cx="336.4" cy="632.8" r="1.9" fill="none" stroke="#444" stroke-width="0.55"/>
<rect x="386.0" y="552.5" width="3.2" height="3.2" fill="none" stroke="#111" stroke-width="0.55"/><path d="M386.0,552.5L389.3,555.7M389.3,552.5L386.0,555.7" stroke="#111" stroke-width="0.55"/>
<path d="M392.7,557.9L396.5,557.9M394.6,556.0L394.6,559.8M393.3,556.6L396.0,559.2M396.0,556.6L393.3,559.2" stroke="#111" stroke-width="0.55"/>
<rect x="393.8" y="561.5" width="3.4" height="3.4" fill="#000"/>
<path d="M392.3,574.6 L394.4,571.0 L390.2,571.0Z" fill="none" stroke="#111" stroke-width="0.6"/>
<path d="M388.3,574.6 L390.4,578.3 L386.2,578.3Z" fill="#000"/>
<path d="M387.2,591.6 L389.5,593.9 L387.2,596.2 L385.0,593.9Z" fill="none" stroke="#111" stroke-width="0.6"/>
<circle cx="396.6" cy="624.4" r="1.805" fill="#000"/>
<path d="M339.6,515.9 L339.6,513.4 L391.9,513.4 L391.9,515.9" fill="none" stroke="#444" stroke-width="0.5"/>
<text x="365.4" y="510.1" font-size="6.5" text-anchor="middle" font-weight="normal" font-style="normal" fill="#000" >*</text>
<rect x="346.4" y="515.7" width="41.2" height="11" fill="#fff"/>
<text x="347.4" y="525.4" font-size="10.5" text-anchor="start" font-weight="normal" font-style="normal" fill="#000" textLength="39.2" lengthAdjust="spacingAndGlyphs" >p=0,037</text>
<rect x="307.9" y="501.2" width="115.8" height="143.5" fill="none" stroke="#999" stroke-width="0.6"/>
<rect x="307.9" y="490.2" width="115.8" height="11.0" fill="#d9d9d9" stroke="#999" stroke-width="0.6"/>
<text x="365.8" y="498.2" font-size="7.5" text-anchor="middle" font-weight="normal" font-style="normal" fill="#1a1a1a" >CM CD8 T cells</text>
<text x="298.1" y="573" font-size="7.3" text-anchor="middle" fill="#1a1a1a" transform="rotate(-90 298.1 573)" dy="1.6">% / all cells</text>
<rect x="489.1" y="501.2" width="111.1" height="143.5" fill="#fff"/>
<line x1="489.1" y1="516.9" x2="600.2" y2="516.9" stroke="#f2f2f2" stroke-width="0.5"/>
<line x1="489.1" y1="564.7" x2="600.2" y2="564.7" stroke="#f2f2f2" stroke-width="0.5"/>
<line x1="489.1" y1="612.6" x2="600.2" y2="612.6" stroke="#f2f2f2" stroke-width="0.5"/>
<line x1="489.1" y1="540.8" x2="600.2" y2="540.8" stroke="#e6e6e6" stroke-width="0.7"/>
<line x1="486.9" y1="540.8" x2="489.1" y2="540.8" stroke="#111" stroke-width="0.55"/>
<text x="485.5" y="543.2" font-size="6.8" text-anchor="end" font-weight="normal" font-style="normal" fill="#1a1a1a" >10</text>
<line x1="489.1" y1="588.6" x2="600.2" y2="588.6" stroke="#e6e6e6" stroke-width="0.7"/>
<line x1="486.9" y1="588.6" x2="489.1" y2="588.6" stroke="#111" stroke-width="0.55"/>
<text x="485.5" y="591.0" font-size="6.8" text-anchor="end" font-weight="normal" font-style="normal" fill="#1a1a1a" >5</text>
<line x1="489.1" y1="636.6" x2="600.2" y2="636.6" stroke="#e6e6e6" stroke-width="0.7"/>
<line x1="486.9" y1="636.6" x2="489.1" y2="636.6" stroke="#111" stroke-width="0.55"/>
<text x="485.5" y="639.0" font-size="6.8" text-anchor="end" font-weight="normal" font-style="normal" fill="#1a1a1a" >0</text>
<line x1="519.3" y1="501.2" x2="519.3" y2="644.7" stroke="#e6e6e6" stroke-width="0.7"/>
<line x1="519.3" y1="644.7" x2="519.3" y2="646.9" stroke="#111" stroke-width="0.55"/>
<line x1="570.1" y1="501.2" x2="570.1" y2="644.7" stroke="#e6e6e6" stroke-width="0.7"/>
<line x1="570.1" y1="644.7" x2="570.1" y2="646.9" stroke="#111" stroke-width="0.55"/>
<line x1="519.3" y1="617.0" x2="519.3" y2="633.0" stroke="#a8a8a8" stroke-width="0.9"/>
<rect x="500.3" y="620.8" width="38.1" height="7.8" fill="#b3b3b3" stroke="#444" stroke-width="0.6"/>
<line x1="500.3" y1="623.3" x2="538.4" y2="623.3" stroke="#333" stroke-width="1.3"/>
<line x1="570.1" y1="513.9" x2="570.1" y2="620.0" stroke="#a8a8a8" stroke-width="0.9"/>
<rect x="551.1" y="569.3" width="37.7" height="48.3" fill="#ae1c22" stroke="#444" stroke-width="0.6"/>
<line x1="551.1" y1="612.7" x2="588.8" y2="612.7" stroke="#333" stroke-width="1.3"/>
<circle cx="515.1" cy="616.1" r="1.9" fill="none" stroke="#444" stroke-width="0.55"/>
<circle cx="520.8" cy="619.1" r="1.9" fill="none" stroke="#444" stroke-width="0.55"/>
<circle cx="515.1" cy="622.2" r="1.9" fill="none" stroke="#444" stroke-width="0.55"/>
<circle cx="522.9" cy="623.9" r="1.9" fill="none" stroke="#444" stroke-width="0.55"/>
<circle cx="517.6" cy="627.1" r="1.9" fill="none" stroke="#444" stroke-width="0.55"/>
<circle cx="516.1" cy="630.7" r="1.9" fill="none" stroke="#444" stroke-width="0.55"/>
<circle cx="515.1" cy="632.8" r="1.9" fill="none" stroke="#444" stroke-width="0.55"/>
<rect x="564.6" y="517.5" width="3.4" height="3.4" fill="#000"/>
<path d="M574.4,529.3 L576.4,533.0 L572.3,533.0Z" fill="#000"/>
<path d="M567.6,605.5L571.4,605.5M569.5,603.6L569.5,607.4M568.2,604.2L570.8,606.9M570.8,604.2L568.2,606.9" stroke="#111" stroke-width="0.55"/>
<path d="M567.8,610.4 L570.1,612.7 L567.8,615.0 L565.5,612.7Z" fill="none" stroke="#111" stroke-width="0.6"/>
<circle cx="570.5" cy="614.4" r="1.805" fill="#000"/>
<rect x="572.7" y="618.7" width="3.2" height="3.2" fill="none" stroke="#111" stroke-width="0.55"/><path d="M572.7,618.7L576.0,622.0M576.0,618.7L572.7,622.0" stroke="#111" stroke-width="0.55"/>
<path d="M568.0,627.3 L570.1,623.7 L565.9,623.7Z" fill="none" stroke="#111" stroke-width="0.6"/>
<path d="M519.3,515.9 L519.3,513.4 L570.1,513.4 L570.1,515.9" fill="none" stroke="#444" stroke-width="0.5"/>
<text x="544.5" y="510.5" font-size="6.5" text-anchor="middle" font-weight="normal" font-style="normal" fill="#000" >**</text>
<rect x="513.5" y="514.6" width="46.4" height="11" fill="#fff"/>
<text x="514.5" y="524.3" font-size="10.5" text-anchor="start" font-weight="normal" font-style="normal" fill="#000" textLength="44.4" lengthAdjust="spacingAndGlyphs" >p=0,0098</text>
<rect x="489.1" y="501.2" width="111.1" height="143.5" fill="none" stroke="#999" stroke-width="0.6"/>
<rect x="489.1" y="490.2" width="111.1" height="11.0" fill="#d9d9d9" stroke="#999" stroke-width="0.6"/>
<text x="544.7" y="498.2" font-size="7.5" text-anchor="middle" font-weight="normal" font-style="normal" fill="#1a1a1a" >GD T cells</text>
<text x="475.3" y="573" font-size="7.3" text-anchor="middle" fill="#1a1a1a" transform="rotate(-90 475.3 573)" dy="1.6">% / all cells</text>
<rect x="3.2" y="405.9" width="10.8" height="7.9" fill="#b3b3b3" stroke="#555" stroke-width="0.5"/>
<line x1="8.6" y1="404.4" x2="8.6" y2="415.3" stroke="#333" stroke-width="0.6"/>
<line x1="3.2" y1="409.9" x2="14.0" y2="409.9" stroke="#333" stroke-width="0.8"/>
<circle cx="8.6" cy="409.9" r="2.3" fill="#000"/>
<rect x="3.2" y="419.9" width="10.8" height="7.9" fill="#ae1c22" stroke="#555" stroke-width="0.5"/>
<line x1="8.6" y1="418.4" x2="8.6" y2="429.3" stroke="#333" stroke-width="0.6"/>
<line x1="3.2" y1="423.9" x2="14.0" y2="423.9" stroke="#333" stroke-width="0.8"/>
<circle cx="8.6" cy="423.9" r="2.3" fill="#000"/>
<text x="25.9" y="412.4" font-size="11" text-anchor="start" font-weight="normal" font-style="normal" fill="#000" textLength="43.3" lengthAdjust="spacingAndGlyphs" >Controls</text>
<text x="25.9" y="429.2" font-size="11" text-anchor="start" font-weight="normal" font-style="normal" fill="#000" textLength="86.2" lengthAdjust="spacingAndGlyphs" >NBEAL2 patients</text>
<circle cx="7.0" cy="456.3" r="3.5" fill="none" stroke="#000" stroke-width="0.8"/>
<text x="21.0" y="461.3" font-size="14.3" text-anchor="start" font-weight="normal" font-style="normal" fill="#000" textLength="57.5" lengthAdjust="spacingAndGlyphs" >Controls</text>
<rect x="3.4" y="469.6" width="7.2" height="6.6" fill="#000"/>
<text x="21.5" y="478.0" font-size="14.3" text-anchor="start" font-weight="normal" font-style="normal" fill="#000" textLength="16.1" lengthAdjust="spacingAndGlyphs" >P1</text>
<circle cx="6.2" cy="490.7" r="3.8" fill="#000"/>
<text x="20.7" y="496.2" font-size="14.3" text-anchor="start" font-weight="normal" font-style="normal" fill="#000" textLength="17.9" lengthAdjust="spacingAndGlyphs" >P2</text>
<path d="M6.4,503.5 L11.2,511.0 L1.6,511.0Z" fill="#000"/>
<text x="20.7" y="513.4" font-size="14.3" text-anchor="start" font-weight="normal" font-style="normal" fill="#000" textLength="47.2" lengthAdjust="spacingAndGlyphs" >P5.II−1</text>
<path d="M0.9,527.0L10.9,527.0M5.9,522.0L5.9,532.0M2.3,523.4L9.5,530.6M9.5,523.4L2.3,530.6" stroke="#000" stroke-width="0.75"/>
<text x="20.2" y="531.3" font-size="14.3" text-anchor="start" font-weight="normal" font-style="normal" fill="#000" textLength="17.9" lengthAdjust="spacingAndGlyphs" >P6</text>
<rect x="2.0" y="540.0" width="7.4" height="7.6" fill="none" stroke="#000" stroke-width="0.7"/><path d="M2.0,540.0L9.4,547.6M9.4,540.0L2.0,547.6" stroke="#000" stroke-width="0.7"/>
<text x="20.2" y="548.4" font-size="14.3" text-anchor="start" font-weight="normal" font-style="normal" fill="#000" textLength="17.9" lengthAdjust="spacingAndGlyphs" >P7</text>
<path d="M5.7,566.0 L10.4,558.4 L1.0,558.4Z" fill="none" stroke="#000" stroke-width="0.8"/>
<text x="19.9" y="566.2" font-size="14.3" text-anchor="start" font-weight="normal" font-style="normal" fill="#000" textLength="47.3" lengthAdjust="spacingAndGlyphs" >P9.II−1</text>
<path d="M5.85,573.0 L11.0,578.0 L5.85,583.0 L0.7,578.0Z" fill="none" stroke="#000" stroke-width="0.8"/>
<text x="19.9" y="583.3" font-size="14.3" text-anchor="start" font-weight="normal" font-style="normal" fill="#000" textLength="48.5" lengthAdjust="spacingAndGlyphs" >P9.II−2</text>
<text x="4.2" y="703.8" font-size="19.5" text-anchor="start" font-weight="bold" font-style="normal" fill="#000" textLength="7.9" lengthAdjust="spacingAndGlyphs" >c</text>
<rect x="163.6" y="704.6" width="413.4" height="178.6" fill="#f2f2f2"/>
<rect x="163.6" y="704.6" width="43.6" height="16.2" fill="#bed5ee"/>
<rect x="207.2" y="704.6" width="32.3" height="16.2" fill="#bed5ee"/>
<rect x="368.0" y="720.8" width="40.3" height="16.2" fill="#f4bab6"/>
<rect x="408.3" y="720.8" width="36.1" height="16.2" fill="#f4bab6"/>
<rect x="474.3" y="720.8" width="33.9" height="16.2" fill="#f4bab6"/>
<rect x="508.2" y="720.8" width="34.7" height="16.2" fill="#f4bab6"/>
<rect x="542.9" y="720.8" width="34.1" height="16.2" fill="#f4bab6"/>
<rect x="163.6" y="737.1" width="43.6" height="16.2" fill="#bed5ee"/>
<rect x="368.0" y="737.1" width="40.3" height="16.2" fill="#f4bab6"/>
<rect x="474.3" y="737.1" width="33.9" height="16.2" fill="#e6e6e6"/>
<rect x="508.2" y="737.1" width="34.7" height="16.2" fill="#f4bab6"/>
<rect x="542.9" y="737.1" width="34.1" height="16.2" fill="#f4bab6"/>
<rect x="163.6" y="753.3" width="43.6" height="16.2" fill="#e6e6e6"/>
<rect x="207.2" y="753.3" width="32.3" height="16.2" fill="#f4bab6"/>
<rect x="474.3" y="753.3" width="33.9" height="16.2" fill="#f4bab6"/>
<rect x="508.2" y="753.3" width="34.7" height="16.2" fill="#f4bab6"/>
<rect x="542.9" y="753.3" width="34.1" height="16.2" fill="#f4bab6"/>
<rect x="163.6" y="769.6" width="43.6" height="16.2" fill="#bed5ee"/>
<rect x="239.5" y="769.6" width="31.5" height="16.2" fill="#bed5ee"/>
<rect x="474.3" y="769.6" width="33.9" height="16.2" fill="#f4bab6"/>
<rect x="163.6" y="785.8" width="43.6" height="16.2" fill="#bed5ee"/>
<rect x="239.5" y="785.8" width="31.5" height="16.2" fill="#f4bab6"/>
<rect x="239.5" y="802.0" width="31.5" height="16.2" fill="#f4bab6"/>
<rect x="304.5" y="802.0" width="31.9" height="16.2" fill="#f4bab6"/>
<rect x="336.4" y="802.0" width="31.6" height="16.2" fill="#e6e6e6"/>
<rect x="368.0" y="802.0" width="40.3" height="16.2" fill="#e6e6e6"/>
<rect x="408.3" y="802.0" width="36.1" height="16.2" fill="#f4bab6"/>
<rect x="271.0" y="818.3" width="33.5" height="16.2" fill="#bed5ee"/>
<rect x="336.4" y="818.3" width="31.6" height="16.2" fill="#f4bab6"/>
<rect x="368.0" y="818.3" width="40.3" height="16.2" fill="#f4bab6"/>
<rect x="408.3" y="818.3" width="36.1" height="16.2" fill="#f4bab6"/>
<rect x="163.6" y="834.5" width="43.6" height="16.2" fill="#bed5ee"/>
<rect x="408.3" y="834.5" width="36.1" height="16.2" fill="#f4bab6"/>
<rect x="444.4" y="850.8" width="29.9" height="16.2" fill="#f4bab6"/>
<rect x="271.0" y="867.0" width="33.5" height="16.2" fill="#f4bab6"/>
<rect x="368.0" y="867.0" width="40.3" height="16.2" fill="#f4bab6"/>
<rect x="444.4" y="867.0" width="29.9" height="16.2" fill="#f4bab6"/>
<line x1="207.2" y1="704.6" x2="207.2" y2="883.2" stroke="#fff" stroke-width="1.1"/>
<line x1="239.5" y1="704.6" x2="239.5" y2="883.2" stroke="#fff" stroke-width="1.1"/>
<line x1="271.0" y1="704.6" x2="271.0" y2="883.2" stroke="#fff" stroke-width="1.1"/>
<line x1="304.5" y1="704.6" x2="304.5" y2="883.2" stroke="#fff" stroke-width="1.1"/>
<line x1="336.4" y1="704.6" x2="336.4" y2="883.2" stroke="#fff" stroke-width="1.1"/>
<line x1="368.0" y1="704.6" x2="368.0" y2="883.2" stroke="#fff" stroke-width="1.1"/>
<line x1="408.3" y1="704.6" x2="408.3" y2="883.2" stroke="#fff" stroke-width="1.1"/>
<line x1="444.4" y1="704.6" x2="444.4" y2="883.2" stroke="#fff" stroke-width="1.1"/>
<line x1="474.3" y1="704.6" x2="474.3" y2="883.2" stroke="#fff" stroke-width="1.1"/>
<line x1="508.2" y1="704.6" x2="508.2" y2="883.2" stroke="#fff" stroke-width="1.1"/>
<line x1="542.9" y1="704.6" x2="542.9" y2="883.2" stroke="#fff" stroke-width="1.1"/>
<line x1="163.6" y1="720.8" x2="577.0" y2="720.8" stroke="#fff" stroke-width="1.1"/>
<line x1="163.6" y1="737.1" x2="577.0" y2="737.1" stroke="#fff" stroke-width="1.1"/>
<line x1="163.6" y1="753.3" x2="577.0" y2="753.3" stroke="#fff" stroke-width="1.1"/>
<line x1="163.6" y1="769.6" x2="577.0" y2="769.6" stroke="#fff" stroke-width="1.1"/>
<line x1="163.6" y1="785.8" x2="577.0" y2="785.8" stroke="#fff" stroke-width="1.1"/>
<line x1="163.6" y1="802.0" x2="577.0" y2="802.0" stroke="#fff" stroke-width="1.1"/>
<line x1="163.6" y1="818.3" x2="577.0" y2="818.3" stroke="#fff" stroke-width="1.1"/>
<line x1="163.6" y1="834.5" x2="577.0" y2="834.5" stroke="#fff" stroke-width="1.1"/>
<line x1="163.6" y1="850.8" x2="577.0" y2="850.8" stroke="#fff" stroke-width="1.1"/>
<line x1="163.6" y1="867.0" x2="577.0" y2="867.0" stroke="#fff" stroke-width="1.1"/>
<polygon points="185.40,708.27 186.19,710.03 188.11,710.24 186.68,711.54 187.08,713.43 185.40,712.47 183.72,713.43 184.12,711.54 182.69,710.24 184.61,710.03" fill="#2c5aa8"/>
<polygon points="220.94,708.27 221.73,710.03 223.65,710.24 222.22,711.54 222.61,713.43 220.94,712.47 219.26,713.43 219.65,711.54 218.22,710.24 220.14,710.03" fill="#2c5aa8"/>
<polygon points="225.76,708.27 226.56,710.03 228.48,710.24 227.05,711.54 227.44,713.43 225.76,712.47 224.09,713.43 224.48,711.54 223.05,710.24 224.97,710.03" fill="#2c5aa8"/>
<polygon points="380.90,724.51 381.70,726.27 383.62,726.48 382.19,727.78 382.58,729.67 380.90,728.71 379.23,729.67 379.62,727.78 378.19,726.48 380.11,726.27" fill="#c00000"/>
<polygon points="385.73,724.51 386.53,726.27 388.45,726.48 387.02,727.78 387.41,729.67 385.73,728.71 384.06,729.67 384.45,727.78 383.02,726.48 384.94,726.27" fill="#c00000"/>
<polygon points="390.56,724.51 391.36,726.27 393.28,726.48 391.85,727.78 392.24,729.67 390.56,728.71 388.89,729.67 389.28,727.78 387.85,726.48 389.77,726.27" fill="#c00000"/>
<polygon points="395.39,724.51 396.19,726.27 398.11,726.48 396.68,727.78 397.07,729.67 395.39,728.71 393.72,729.67 394.11,727.78 392.68,726.48 394.60,726.27" fill="#c00000"/>
<polygon points="421.52,724.51 422.31,726.27 424.23,726.48 422.80,727.78 423.20,729.67 421.52,728.71 419.84,729.67 420.24,727.78 418.81,726.48 420.73,726.27" fill="#c00000"/>
<polygon points="426.35,724.51 427.14,726.27 429.06,726.48 427.63,727.78 428.03,729.67 426.35,728.71 424.67,729.67 425.07,727.78 423.64,726.48 425.56,726.27" fill="#c00000"/>
<polygon points="431.18,724.51 431.97,726.27 433.89,726.48 432.46,727.78 432.86,729.67 431.18,728.71 429.50,729.67 429.90,727.78 428.47,726.48 430.39,726.27" fill="#c00000"/>
<polygon points="491.25,724.51 492.04,726.27 493.96,726.48 492.53,727.78 492.93,729.67 491.25,728.71 489.57,729.67 489.97,727.78 488.54,726.48 490.46,726.27" fill="#c00000"/>
<polygon points="525.55,724.51 526.34,726.27 528.26,726.48 526.83,727.78 527.23,729.67 525.55,728.71 523.87,729.67 524.27,727.78 522.84,726.48 524.76,726.27" fill="#c00000"/>
<polygon points="552.71,724.51 553.50,726.27 555.42,726.48 553.99,727.78 554.38,729.67 552.71,728.71 551.03,729.67 551.42,727.78 549.99,726.48 551.91,726.27" fill="#c00000"/>
<polygon points="557.54,724.51 558.33,726.27 560.25,726.48 558.82,727.78 559.21,729.67 557.54,728.71 555.86,729.67 556.25,727.78 554.82,726.48 556.74,726.27" fill="#c00000"/>
<polygon points="562.37,724.51 563.16,726.27 565.08,726.48 563.65,727.78 564.04,729.67 562.37,728.71 560.69,729.67 561.08,727.78 559.65,726.48 561.57,726.27" fill="#c00000"/>
<polygon points="567.20,724.51 567.99,726.27 569.91,726.48 568.48,727.78 568.87,729.67 567.20,728.71 565.52,729.67 565.91,727.78 564.48,726.48 566.40,726.27" fill="#c00000"/>
<polygon points="182.98,740.75 183.78,742.51 185.70,742.72 184.27,744.02 184.66,745.91 182.98,744.95 181.31,745.91 181.70,744.02 180.27,742.72 182.19,742.51" fill="#2c5aa8"/>
<polygon points="187.81,740.75 188.61,742.51 190.53,742.72 189.10,744.02 189.49,745.91 187.81,744.95 186.14,745.91 186.53,744.02 185.10,742.72 187.02,742.51" fill="#2c5aa8"/>
<polygon points="380.90,740.75 381.70,742.51 383.62,742.72 382.19,744.02 382.58,745.91 380.90,744.95 379.23,745.91 379.62,744.02 378.19,742.72 380.11,742.51" fill="#c00000"/>
<polygon points="385.73,740.75 386.53,742.51 388.45,742.72 387.02,744.02 387.41,745.91 385.73,744.95 384.06,745.91 384.45,744.02 383.02,742.72 384.94,742.51" fill="#c00000"/>
<polygon points="390.56,740.75 391.36,742.51 393.28,742.72 391.85,744.02 392.24,745.91 390.56,744.95 388.89,745.91 389.28,744.02 387.85,742.72 389.77,742.51" fill="#c00000"/>
<polygon points="395.39,740.75 396.19,742.51 398.11,742.72 396.68,744.02 397.07,745.91 395.39,744.95 393.72,745.91 394.11,744.02 392.68,742.72 394.60,742.51" fill="#c00000"/>
<polygon points="523.13,740.75 523.93,742.51 525.85,742.72 524.42,744.02 524.81,745.91 523.13,744.95 521.46,745.91 521.85,744.02 520.42,742.72 522.34,742.51" fill="#c00000"/>
<polygon points="527.96,740.75 528.76,742.51 530.68,742.72 529.25,744.02 529.64,745.91 527.96,744.95 526.29,745.91 526.68,744.02 525.25,742.72 527.17,742.51" fill="#c00000"/>
<polygon points="552.71,740.75 553.50,742.51 555.42,742.72 553.99,744.02 554.38,745.91 552.71,744.95 551.03,745.91 551.42,744.02 549.99,742.72 551.91,742.51" fill="#c00000"/>
<polygon points="557.54,740.75 558.33,742.51 560.25,742.72 558.82,744.02 559.21,745.91 557.54,744.95 555.86,745.91 556.25,744.02 554.82,742.72 556.74,742.51" fill="#c00000"/>
<polygon points="562.37,740.75 563.16,742.51 565.08,742.72 563.65,744.02 564.04,745.91 562.37,744.95 560.69,745.91 561.08,744.02 559.65,742.72 561.57,742.51" fill="#c00000"/>
<polygon points="567.20,740.75 567.99,742.51 569.91,742.72 568.48,744.02 568.87,745.91 567.20,744.95 565.52,745.91 565.91,744.02 564.48,742.72 566.40,742.51" fill="#c00000"/>
<polygon points="223.35,756.99 224.14,758.75 226.06,758.96 224.63,760.26 225.03,762.15 223.35,761.19 221.67,762.15 222.07,760.26 220.64,758.96 222.56,758.75" fill="#c00000"/>
<polygon points="488.83,756.99 489.63,758.75 491.55,758.96 490.12,760.26 490.51,762.15 488.83,761.19 487.16,762.15 487.55,760.26 486.12,758.96 488.04,758.75" fill="#c00000"/>
<polygon points="493.67,756.99 494.46,758.75 496.38,758.96 494.95,760.26 495.34,762.15 493.67,761.19 491.99,762.15 492.38,760.26 490.95,758.96 492.87,758.75" fill="#c00000"/>
<polygon points="525.55,756.99 526.34,758.75 528.26,758.96 526.83,760.26 527.23,762.15 525.55,761.19 523.87,762.15 524.27,760.26 522.84,758.96 524.76,758.75" fill="#c00000"/>
<polygon points="559.95,756.99 560.74,758.75 562.66,758.96 561.23,760.26 561.63,762.15 559.95,761.19 558.27,762.15 558.67,760.26 557.24,758.96 559.16,758.75" fill="#c00000"/>
<polygon points="185.40,773.23 186.19,774.99 188.11,775.20 186.68,776.50 187.08,778.39 185.40,777.43 183.72,778.39 184.12,776.50 182.69,775.20 184.61,774.99" fill="#2c5aa8"/>
<polygon points="255.25,773.23 256.04,774.99 257.96,775.20 256.53,776.50 256.93,778.39 255.25,777.43 253.57,778.39 253.97,776.50 252.54,775.20 254.46,774.99" fill="#2c5aa8"/>
<polygon points="488.83,773.23 489.63,774.99 491.55,775.20 490.12,776.50 490.51,778.39 488.83,777.43 487.16,778.39 487.55,776.50 486.12,775.20 488.04,774.99" fill="#c00000"/>
<polygon points="493.67,773.23 494.46,774.99 496.38,775.20 494.95,776.50 495.34,778.39 493.67,777.43 491.99,778.39 492.38,776.50 490.95,775.20 492.87,774.99" fill="#c00000"/>
<polygon points="185.40,789.47 186.19,791.23 188.11,791.44 186.68,792.74 187.08,794.63 185.40,793.67 183.72,794.63 184.12,792.74 182.69,791.44 184.61,791.23" fill="#2c5aa8"/>
<polygon points="255.25,789.47 256.04,791.23 257.96,791.44 256.53,792.74 256.93,794.63 255.25,793.67 253.57,794.63 253.97,792.74 252.54,791.44 254.46,791.23" fill="#c00000"/>
<polygon points="252.84,805.71 253.63,807.47 255.55,807.68 254.12,808.98 254.51,810.87 252.84,809.91 251.16,810.87 251.55,808.98 250.12,807.68 252.04,807.47" fill="#c00000"/>
<polygon points="257.67,805.71 258.46,807.47 260.38,807.68 258.95,808.98 259.34,810.87 257.67,809.91 255.99,810.87 256.38,808.98 254.95,807.68 256.87,807.47" fill="#c00000"/>
<polygon points="320.45,805.71 321.24,807.47 323.16,807.68 321.73,808.98 322.13,810.87 320.45,809.91 318.77,810.87 319.17,808.98 317.74,807.68 319.66,807.47" fill="#c00000"/>
<polygon points="426.35,805.71 427.14,807.47 429.06,807.68 427.63,808.98 428.03,810.87 426.35,809.91 424.67,810.87 425.07,808.98 423.64,807.68 425.56,807.47" fill="#c00000"/>
<polygon points="287.75,821.95 288.54,823.71 290.46,823.92 289.03,825.22 289.43,827.11 287.75,826.15 286.07,827.11 286.47,825.22 285.04,823.92 286.96,823.71" fill="#2c5aa8"/>
<polygon points="349.78,821.95 350.58,823.71 352.50,823.92 351.07,825.22 351.46,827.11 349.78,826.15 348.11,827.11 348.50,825.22 347.07,823.92 348.99,823.71" fill="#c00000"/>
<polygon points="354.62,821.95 355.41,823.71 357.33,823.92 355.90,825.22 356.29,827.11 354.62,826.15 352.94,827.11 353.33,825.22 351.90,823.92 353.82,823.71" fill="#c00000"/>
<polygon points="385.73,821.95 386.53,823.71 388.45,823.92 387.02,825.22 387.41,827.11 385.73,826.15 384.06,827.11 384.45,825.22 383.02,823.92 384.94,823.71" fill="#c00000"/>
<polygon points="390.56,821.95 391.36,823.71 393.28,823.92 391.85,825.22 392.24,827.11 390.56,826.15 388.89,827.11 389.28,825.22 387.85,823.92 389.77,823.71" fill="#c00000"/>
<polygon points="421.52,821.95 422.31,823.71 424.23,823.92 422.80,825.22 423.20,827.11 421.52,826.15 419.84,827.11 420.24,825.22 418.81,823.92 420.73,823.71" fill="#c00000"/>
<polygon points="426.35,821.95 427.14,823.71 429.06,823.92 427.63,825.22 428.03,827.11 426.35,826.15 424.67,827.11 425.07,825.22 423.64,823.92 425.56,823.71" fill="#c00000"/>
<polygon points="431.18,821.95 431.97,823.71 433.89,823.92 432.46,825.22 432.86,827.11 431.18,826.15 429.50,827.11 429.90,825.22 428.47,823.92 430.39,823.71" fill="#c00000"/>
<polygon points="185.40,838.19 186.19,839.95 188.11,840.16 186.68,841.46 187.08,843.35 185.40,842.39 183.72,843.35 184.12,841.46 182.69,840.16 184.61,839.95" fill="#2c5aa8"/>
<polygon points="426.35,838.19 427.14,839.95 429.06,840.16 427.63,841.46 428.03,843.35 426.35,842.39 424.67,843.35 425.07,841.46 423.64,840.16 425.56,839.95" fill="#c00000"/>
<polygon points="459.35,854.43 460.14,856.19 462.06,856.40 460.63,857.70 461.03,859.59 459.35,858.63 457.67,859.59 458.07,857.70 456.64,856.40 458.56,856.19" fill="#c00000"/>
<polygon points="287.75,870.67 288.54,872.43 290.46,872.64 289.03,873.94 289.43,875.83 287.75,874.87 286.07,875.83 286.47,873.94 285.04,872.64 286.96,872.43" fill="#c00000"/>
<polygon points="388.15,870.67 388.94,872.43 390.86,872.64 389.43,873.94 389.83,875.83 388.15,874.87 386.47,875.83 386.87,873.94 385.44,872.64 387.36,872.43" fill="#c00000"/>
<polygon points="459.35,870.67 460.14,872.43 462.06,872.64 460.63,873.94 461.03,875.83 459.35,874.87 457.67,875.83 458.07,873.94 456.64,872.64 458.56,872.43" fill="#c00000"/>
<rect x="152.0" y="704.6" width="11.6" height="16.2" fill="#9c5a94" stroke="#222" stroke-width="0.9"/>
<text x="145.4" y="717.7" font-size="9.5" text-anchor="end" font-weight="normal" font-style="normal" fill="#000" >Monocytes</text>
<rect x="152.0" y="720.8" width="11.6" height="16.2" fill="#b0dd88" stroke="#222" stroke-width="0.9"/>
<text x="145.4" y="734.0" font-size="9.5" text-anchor="end" font-weight="normal" font-style="normal" fill="#000" >Eosinophils</text>
<rect x="152.0" y="737.1" width="11.6" height="16.2" fill="#bc9a9a" stroke="#222" stroke-width="0.9"/>
<text x="145.4" y="750.2" font-size="9.5" text-anchor="end" font-weight="normal" font-style="normal" fill="#000" >Neutrophils</text>
<rect x="152.0" y="753.3" width="11.6" height="16.2" fill="#ccbde0" stroke="#222" stroke-width="0.9"/>
<text x="145.4" y="766.4" font-size="9.5" text-anchor="end" font-weight="normal" font-style="normal" fill="#000" >B lymphocytes</text>
<rect x="152.0" y="769.6" width="11.6" height="16.2" fill="#98c0e8" stroke="#222" stroke-width="0.9"/>
<text x="145.4" y="782.7" font-size="9.5" text-anchor="end" font-weight="normal" font-style="normal" fill="#000" >cDC</text>
<rect x="152.0" y="785.8" width="11.6" height="16.2" fill="#f8c888" stroke="#222" stroke-width="0.9"/>
<text x="145.4" y="798.9" font-size="9.5" text-anchor="end" font-weight="normal" font-style="normal" fill="#000" >Double Negative T cells</text>
<rect x="152.0" y="802.0" width="11.6" height="16.2" fill="#5fa0ae" stroke="#222" stroke-width="0.9"/>
<text x="145.4" y="815.2" font-size="9.5" text-anchor="end" font-weight="normal" font-style="normal" fill="#000" >TCRγδ+ T cells</text>
<rect x="152.0" y="818.3" width="11.6" height="16.2" fill="#e8288a" stroke="#222" stroke-width="0.9"/>
<text x="145.4" y="831.4" font-size="9.5" text-anchor="end" font-weight="normal" font-style="normal" fill="#000" >Natural killer cells</text>
<rect x="152.0" y="834.5" width="11.6" height="16.2" fill="#5cb05c" stroke="#222" stroke-width="0.9"/>
<text x="145.4" y="847.6" font-size="9.5" text-anchor="end" font-weight="normal" font-style="normal" fill="#000" >CD8+ T cells</text>
<rect x="152.0" y="850.8" width="11.6" height="16.2" fill="#eca4d4" stroke="#222" stroke-width="0.9"/>
<text x="145.4" y="863.9" font-size="9.5" text-anchor="end" font-weight="normal" font-style="normal" fill="#000" >CD4+ T cells</text>
<rect x="152.0" y="867.0" width="11.6" height="16.2" fill="#8e8cc4" stroke="#222" stroke-width="0.9"/>
<text x="145.4" y="880.1" font-size="9.5" text-anchor="end" font-weight="normal" font-style="normal" fill="#000" >MAIT cells</text>
<rect x="152.0" y="704.6" width="425.0" height="178.6" fill="none" stroke="#222" stroke-width="1.1"/>
<line x1="163.6" y1="704.6" x2="163.6" y2="883.2" stroke="#222" stroke-width="1.1"/>
<text x="185.4" y="700.2" font-size="9.3" text-anchor="middle" font-weight="bold" font-style="normal" fill="#000" >CD45RA</text>
<text x="223.3" y="700.2" font-size="9.3" text-anchor="middle" font-weight="bold" font-style="normal" fill="#000" >CCR6</text>
<text x="255.2" y="700.2" font-size="9.3" text-anchor="middle" font-weight="bold" font-style="normal" fill="#000" >CD38</text>
<text x="287.8" y="700.2" font-size="9.3" text-anchor="middle" font-weight="bold" font-style="normal" fill="#000" >CXCR3</text>
<text x="320.4" y="700.2" font-size="9.3" text-anchor="middle" font-weight="bold" font-style="normal" fill="#000" >TIGIT</text>
<text x="352.2" y="700.2" font-size="9.3" text-anchor="middle" font-weight="bold" font-style="normal" fill="#000" >Tim3</text>
<text x="388.1" y="700.2" font-size="9.3" text-anchor="middle" font-weight="bold" font-style="normal" fill="#000" >HLA-DR</text>
<text x="426.4" y="700.2" font-size="9.3" text-anchor="middle" font-weight="bold" font-style="normal" fill="#000" >CD11c</text>
<text x="459.4" y="700.2" font-size="9.3" text-anchor="middle" font-weight="bold" font-style="normal" fill="#000" >PD1</text>
<text x="491.2" y="700.2" font-size="9.3" text-anchor="middle" font-weight="bold" font-style="normal" fill="#000" >FAS</text>
<text x="525.5" y="700.2" font-size="9.3" text-anchor="middle" font-weight="bold" font-style="normal" fill="#000" >ICOS</text>
<text x="560.0" y="700.2" font-size="9.3" text-anchor="middle" font-weight="bold" font-style="normal" fill="#000" >CD66b</text>
<text x="242.4" y="901.8" font-size="10.5" text-anchor="start" font-weight="normal" font-style="italic" fill="#c00000" textLength="88.0" lengthAdjust="spacingAndGlyphs" >Red: up-regulation</text>
<text x="370.1" y="901.8" font-size="10.5" text-anchor="start" font-weight="normal" font-style="italic" fill="#2e5aa8" textLength="105.7" lengthAdjust="spacingAndGlyphs" >Blue: down-regulation</text>
<text x="239.7" y="915.9" font-size="10.5" text-anchor="start" font-weight="normal" font-style="italic" fill="#000" textLength="238.5" lengthAdjust="spacingAndGlyphs" >Wilcoxon rank sum test with continuity correction.</text>
<text x="152.8" y="930.9" font-size="10.5" text-anchor="start" font-weight="normal" font-style="italic" fill="#000" textLength="411.4" lengthAdjust="spacingAndGlyphs" >(*) p-value &lt; 0,05 ; (**) p-value &lt; 0,01 ; (***) p-value &lt; 0,005 ; (****) p-value &lt; 0,0001</text>
</svg></body></html>
